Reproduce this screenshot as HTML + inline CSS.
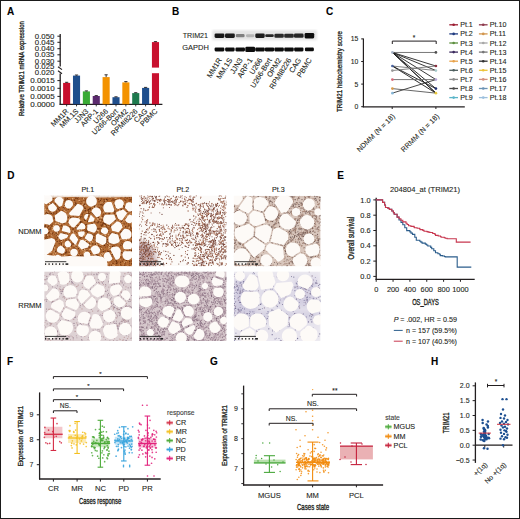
<!DOCTYPE html>
<html><head><meta charset="utf-8"><style>
html,body{margin:0;padding:0;background:#fff;}
svg{display:block;}
text{font-family:"Liberation Sans",sans-serif;stroke:#231f20;stroke-width:0.1px;}
</style></head><body>
<svg width="520" height="519" viewBox="0 0 520 519" fill="#231f20">
<rect x="0" y="0" width="520" height="519" fill="#fff"/>
<rect x="0.00" y="0.00" width="520.00" height="1.00" fill="#1a1a1a"/>
<rect x="0.00" y="0.00" width="1.00" height="519.00" fill="#1a1a1a"/>
<rect x="519.00" y="0.00" width="1.00" height="519.00" fill="#1a1a1a"/>
<rect x="0.00" y="518.00" width="520.00" height="1.00" fill="#1a1a1a"/>
<text x="7.00" y="14.80" font-size="10" font-weight="bold" fill="#000">A</text>
<text x="172.10" y="14.80" font-size="10" font-weight="bold" fill="#000">B</text>
<text x="326.00" y="14.80" font-size="10" font-weight="bold" fill="#000">C</text>
<text x="7.20" y="179.10" font-size="10" font-weight="bold" fill="#000">D</text>
<text x="337.30" y="179.30" font-size="10" font-weight="bold" fill="#000">E</text>
<text x="6.90" y="364.90" font-size="10" font-weight="bold" fill="#000">F</text>
<text x="210.00" y="365.00" font-size="10" font-weight="bold" fill="#000">G</text>
<text x="431.10" y="364.80" font-size="10" font-weight="bold" fill="#000">H</text>
<text x="23.70" y="68.60" font-size="6.8" style="stroke-width:0.3px" text-anchor="middle" textLength="95.00" lengthAdjust="spacingAndGlyphs" transform="rotate(-90 23.70 68.60)">Relative TRIM21 mRNA expression</text>
<text x="54.40" y="38.80" font-size="7.4" text-anchor="end" textLength="19.60" lengthAdjust="spacingAndGlyphs">0.050</text>
<text x="54.40" y="44.90" font-size="7.4" text-anchor="end" textLength="19.60" lengthAdjust="spacingAndGlyphs">0.045</text>
<text x="54.40" y="51.30" font-size="7.4" text-anchor="end" textLength="19.60" lengthAdjust="spacingAndGlyphs">0.040</text>
<text x="54.40" y="57.40" font-size="7.4" text-anchor="end" textLength="19.60" lengthAdjust="spacingAndGlyphs">0.035</text>
<text x="54.40" y="63.80" font-size="7.4" text-anchor="end" textLength="19.60" lengthAdjust="spacingAndGlyphs">0.030</text>
<text x="54.40" y="69.20" font-size="7.4" text-anchor="end" textLength="19.60" lengthAdjust="spacingAndGlyphs">0.025</text>
<text x="54.40" y="74.80" font-size="7.4" text-anchor="end" textLength="19.60" lengthAdjust="spacingAndGlyphs">0.020</text>
<text x="54.80" y="83.10" font-size="7.4" text-anchor="end" textLength="24.60" lengthAdjust="spacingAndGlyphs">0.0015</text>
<text x="54.80" y="90.80" font-size="7.4" text-anchor="end" textLength="24.60" lengthAdjust="spacingAndGlyphs">0.0010</text>
<text x="54.80" y="98.80" font-size="7.4" text-anchor="end" textLength="24.60" lengthAdjust="spacingAndGlyphs">0.0005</text>
<text x="54.80" y="106.60" font-size="7.4" text-anchor="end" textLength="24.60" lengthAdjust="spacingAndGlyphs">0.0000</text>
<line x1="57.40" y1="36.20" x2="60.40" y2="36.20" stroke="#231f20" stroke-width="1"/>
<line x1="57.40" y1="42.30" x2="60.40" y2="42.30" stroke="#231f20" stroke-width="1"/>
<line x1="57.40" y1="48.70" x2="60.40" y2="48.70" stroke="#231f20" stroke-width="1"/>
<line x1="57.40" y1="54.80" x2="60.40" y2="54.80" stroke="#231f20" stroke-width="1"/>
<line x1="57.40" y1="61.20" x2="60.40" y2="61.20" stroke="#231f20" stroke-width="1"/>
<line x1="57.40" y1="80.60" x2="60.40" y2="80.60" stroke="#231f20" stroke-width="1"/>
<line x1="57.40" y1="88.30" x2="60.40" y2="88.30" stroke="#231f20" stroke-width="1"/>
<line x1="57.40" y1="96.40" x2="60.40" y2="96.40" stroke="#231f20" stroke-width="1"/>
<line x1="60.20" y1="34.00" x2="60.20" y2="66.60" stroke="#231f20" stroke-width="1.3"/>
<line x1="60.20" y1="73.60" x2="60.20" y2="104.80" stroke="#231f20" stroke-width="1.3"/>
<line x1="58.00" y1="66.80" x2="62.00" y2="69.60" stroke="#231f20" stroke-width="1.1"/>
<line x1="58.00" y1="70.80" x2="62.00" y2="73.80" stroke="#231f20" stroke-width="1.1"/>
<line x1="59.60" y1="104.30" x2="162.40" y2="104.30" stroke="#231f20" stroke-width="1.3"/>
<rect x="63.10" y="82.90" width="7.10" height="21.40" fill="#c8102e"/>
<line x1="65.05" y1="82.30" x2="68.25" y2="82.30" stroke="#231f20" stroke-width="0.9"/>
<line x1="66.65" y1="82.30" x2="66.65" y2="82.90" stroke="#231f20" stroke-width="0.9"/>
<line x1="66.65" y1="104.30" x2="66.65" y2="106.40" stroke="#231f20" stroke-width="0.9"/>
<text x="69.05" y="111.80" font-size="7.3" text-anchor="end" transform="rotate(-45 69.05 111.80)">MM1R</text>
<rect x="72.97" y="75.60" width="7.10" height="28.70" fill="#1f4e8c"/>
<line x1="74.92" y1="75.00" x2="78.12" y2="75.00" stroke="#231f20" stroke-width="0.9"/>
<line x1="76.52" y1="75.00" x2="76.52" y2="75.60" stroke="#231f20" stroke-width="0.9"/>
<line x1="76.52" y1="104.30" x2="76.52" y2="106.40" stroke="#231f20" stroke-width="0.9"/>
<text x="78.92" y="111.80" font-size="7.3" text-anchor="end" transform="rotate(-45 78.92 111.80)">MM.1S</text>
<rect x="82.84" y="91.40" width="7.10" height="12.90" fill="#3aaa35"/>
<line x1="84.79" y1="90.90" x2="87.99" y2="90.90" stroke="#231f20" stroke-width="0.9"/>
<line x1="86.39" y1="90.90" x2="86.39" y2="91.40" stroke="#231f20" stroke-width="0.9"/>
<line x1="86.39" y1="104.30" x2="86.39" y2="106.40" stroke="#231f20" stroke-width="0.9"/>
<text x="88.79" y="111.80" font-size="7.3" text-anchor="end" transform="rotate(-45 88.79 111.80)">JJN3</text>
<rect x="92.71" y="96.00" width="7.10" height="8.30" fill="#5b2a6e"/>
<line x1="94.66" y1="95.60" x2="97.86" y2="95.60" stroke="#231f20" stroke-width="0.9"/>
<line x1="96.26" y1="95.60" x2="96.26" y2="96.00" stroke="#231f20" stroke-width="0.9"/>
<line x1="96.26" y1="104.30" x2="96.26" y2="106.40" stroke="#231f20" stroke-width="0.9"/>
<text x="98.66" y="111.80" font-size="7.3" text-anchor="end" transform="rotate(-45 98.66 111.80)">ARP-1</text>
<rect x="102.58" y="77.10" width="7.10" height="27.20" fill="#f39200"/>
<line x1="104.53" y1="74.80" x2="107.73" y2="74.80" stroke="#231f20" stroke-width="0.9"/>
<line x1="106.13" y1="74.80" x2="106.13" y2="77.10" stroke="#231f20" stroke-width="0.9"/>
<line x1="106.13" y1="104.30" x2="106.13" y2="106.40" stroke="#231f20" stroke-width="0.9"/>
<text x="108.53" y="111.80" font-size="7.3" text-anchor="end" transform="rotate(-45 108.53 111.80)">U266</text>
<rect x="112.45" y="97.20" width="7.10" height="7.10" fill="#1f4e8c"/>
<line x1="114.40" y1="96.80" x2="117.60" y2="96.80" stroke="#231f20" stroke-width="0.9"/>
<line x1="116.00" y1="96.80" x2="116.00" y2="97.20" stroke="#231f20" stroke-width="0.9"/>
<line x1="116.00" y1="104.30" x2="116.00" y2="106.40" stroke="#231f20" stroke-width="0.9"/>
<text x="118.40" y="111.80" font-size="7.3" text-anchor="end" transform="rotate(-45 118.40 111.80)">U266-Bort</text>
<rect x="122.32" y="82.40" width="7.10" height="21.90" fill="#f39200"/>
<line x1="124.27" y1="81.60" x2="127.47" y2="81.60" stroke="#231f20" stroke-width="0.9"/>
<line x1="125.87" y1="81.60" x2="125.87" y2="82.40" stroke="#231f20" stroke-width="0.9"/>
<line x1="125.87" y1="104.30" x2="125.87" y2="106.40" stroke="#231f20" stroke-width="0.9"/>
<text x="128.27" y="111.80" font-size="7.3" text-anchor="end" transform="rotate(-45 128.27 111.80)">OPM2</text>
<rect x="132.19" y="93.10" width="7.10" height="11.20" fill="#1e7a4e"/>
<line x1="134.14" y1="92.70" x2="137.34" y2="92.70" stroke="#231f20" stroke-width="0.9"/>
<line x1="135.74" y1="92.70" x2="135.74" y2="93.10" stroke="#231f20" stroke-width="0.9"/>
<line x1="135.74" y1="104.30" x2="135.74" y2="106.40" stroke="#231f20" stroke-width="0.9"/>
<text x="138.14" y="111.80" font-size="7.3" text-anchor="end" transform="rotate(-45 138.14 111.80)">RPMI8226</text>
<rect x="142.06" y="87.90" width="7.10" height="16.40" fill="#1f4e8c"/>
<line x1="144.01" y1="87.40" x2="147.21" y2="87.40" stroke="#231f20" stroke-width="0.9"/>
<line x1="145.61" y1="87.40" x2="145.61" y2="87.90" stroke="#231f20" stroke-width="0.9"/>
<line x1="145.61" y1="104.30" x2="145.61" y2="106.40" stroke="#231f20" stroke-width="0.9"/>
<text x="148.01" y="111.80" font-size="7.3" text-anchor="end" transform="rotate(-45 148.01 111.80)">CAG</text>
<rect x="151.93" y="42.10" width="7.10" height="62.20" fill="#c8102e"/>
<line x1="153.88" y1="41.60" x2="157.08" y2="41.60" stroke="#231f20" stroke-width="0.9"/>
<line x1="155.48" y1="41.60" x2="155.48" y2="42.10" stroke="#231f20" stroke-width="0.9"/>
<line x1="155.48" y1="104.30" x2="155.48" y2="106.40" stroke="#231f20" stroke-width="0.9"/>
<text x="157.88" y="111.80" font-size="7.3" text-anchor="end" transform="rotate(-45 157.88 111.80)">PBMC</text>
<rect x="151.40" y="67.60" width="8.20" height="5.60" fill="#fff"/>
<text x="182.70" y="37.90" font-size="7.9" textLength="25.30" lengthAdjust="spacingAndGlyphs">TRIM21</text>
<text x="182.30" y="50.30" font-size="7.9" textLength="26.50" lengthAdjust="spacingAndGlyphs">GAPDH</text>
<defs><filter id="bl" x="-20%" y="-50%" width="140%" height="200%"><feGaussianBlur stdDeviation="0.7"/></filter><filter id="bl2"><feGaussianBlur stdDeviation="0.9"/></filter></defs>
<rect x="212.30" y="30.20" width="104.60" height="9.90" fill="#e4e4e4" filter="url(#bl2)"/>
<g filter="url(#bl)">
<rect x="214.60" y="33.50" width="9.80" height="4.40" rx="1.3" fill="#161616"/>
<rect x="214.60" y="47.40" width="9.80" height="4.00" rx="1.3" fill="#0e0e0e"/>
<rect x="225.00" y="33.50" width="9.80" height="4.40" rx="1.3" fill="#1c1c1c"/>
<rect x="225.10" y="47.40" width="9.60" height="4.00" rx="1.3" fill="#0e0e0e"/>
<rect x="235.80" y="34.05" width="8.80" height="3.30" rx="1.3" fill="#808080"/>
<rect x="235.40" y="47.40" width="9.60" height="4.00" rx="1.3" fill="#0e0e0e"/>
<rect x="246.00" y="34.27" width="8.40" height="2.86" rx="1.3" fill="#b4b4b4"/>
<rect x="245.30" y="46.70" width="9.80" height="5.40" rx="1.3" fill="#0e0e0e"/>
<rect x="255.30" y="33.50" width="9.40" height="4.40" rx="1.3" fill="#1a1a1a"/>
<rect x="255.20" y="47.40" width="9.60" height="4.00" rx="1.3" fill="#0e0e0e"/>
<rect x="265.20" y="34.34" width="8.60" height="2.73" rx="1.3" fill="#262626"/>
<rect x="264.80" y="47.40" width="9.40" height="4.00" rx="1.3" fill="#0e0e0e"/>
<rect x="274.40" y="33.72" width="9.40" height="3.96" rx="1.3" fill="#2a2a2a"/>
<rect x="274.30" y="47.40" width="9.60" height="4.00" rx="1.3" fill="#0e0e0e"/>
<rect x="284.20" y="33.72" width="9.60" height="3.96" rx="1.3" fill="#2a2a2a"/>
<rect x="284.20" y="47.40" width="9.60" height="4.00" rx="1.3" fill="#0e0e0e"/>
<rect x="294.00" y="33.61" width="9.60" height="4.18" rx="1.3" fill="#262626"/>
<rect x="294.10" y="47.40" width="9.40" height="4.00" rx="1.3" fill="#0e0e0e"/>
<rect x="304.60" y="33.00" width="9.60" height="5.40" rx="1.3" fill="#111"/>
<rect x="304.90" y="47.50" width="9.00" height="3.80" rx="1.3" fill="#0e0e0e"/>
</g>
<text x="222.20" y="60.00" font-size="7.4" text-anchor="end" transform="rotate(-58 222.20 60.00)">MM1R</text>
<text x="232.60" y="60.00" font-size="7.4" text-anchor="end" transform="rotate(-58 232.60 60.00)">MM.1S</text>
<text x="242.90" y="60.00" font-size="7.4" text-anchor="end" transform="rotate(-58 242.90 60.00)">JJN3</text>
<text x="252.90" y="60.00" font-size="7.4" text-anchor="end" transform="rotate(-58 252.90 60.00)">ARP-1</text>
<text x="262.70" y="60.00" font-size="7.4" text-anchor="end" transform="rotate(-58 262.70 60.00)">U266</text>
<text x="272.20" y="60.00" font-size="7.4" text-anchor="end" transform="rotate(-58 272.20 60.00)">U266-Bort</text>
<text x="281.80" y="60.00" font-size="7.4" text-anchor="end" transform="rotate(-58 281.80 60.00)">OPM2</text>
<text x="291.70" y="60.00" font-size="7.4" text-anchor="end" transform="rotate(-58 291.70 60.00)">RPMI8226</text>
<text x="301.50" y="60.00" font-size="7.4" text-anchor="end" transform="rotate(-58 301.50 60.00)">CAG</text>
<text x="312.10" y="60.00" font-size="7.4" text-anchor="end" transform="rotate(-58 312.10 60.00)">PBMC</text>
<text x="342.40" y="71.50" font-size="6.7" style="stroke-width:0.3px" text-anchor="middle" textLength="80.90" lengthAdjust="spacingAndGlyphs" transform="rotate(-90 342.40 71.50)">TRIM21 histochemistry score</text>
<text x="358.40" y="41.30" font-size="6.8" text-anchor="end">15</text>
<line x1="361.20" y1="38.90" x2="363.40" y2="38.90" stroke="#231f20" stroke-width="1"/>
<text x="358.40" y="63.90" font-size="6.8" text-anchor="end">10</text>
<line x1="361.20" y1="61.50" x2="363.40" y2="61.50" stroke="#231f20" stroke-width="1"/>
<text x="358.40" y="86.50" font-size="6.8" text-anchor="end">5</text>
<line x1="361.20" y1="84.10" x2="363.40" y2="84.10" stroke="#231f20" stroke-width="1"/>
<text x="358.40" y="109.10" font-size="6.8" text-anchor="end">0</text>
<line x1="361.20" y1="106.70" x2="363.40" y2="106.70" stroke="#231f20" stroke-width="1"/>
<line x1="363.40" y1="38.40" x2="363.40" y2="107.30" stroke="#231f20" stroke-width="1.2"/>
<line x1="362.80" y1="106.90" x2="464.80" y2="106.90" stroke="#231f20" stroke-width="1.3"/>
<line x1="392.20" y1="106.90" x2="392.20" y2="109.00" stroke="#231f20" stroke-width="1"/>
<line x1="435.90" y1="106.90" x2="435.90" y2="109.00" stroke="#231f20" stroke-width="1"/>
<text x="395.40" y="116.80" font-size="7.2" text-anchor="end" transform="rotate(-45 395.40 116.80)">NDMM (N = 18)</text>
<text x="439.60" y="116.80" font-size="7.2" text-anchor="end" transform="rotate(-45 439.60 116.80)">RRMM (N = 18)</text>
<path d="M392.3 44 V41.1 H436.2 V44" stroke="#231f20" stroke-width="1" fill="none"/>
<text x="414.10" y="39.80" font-size="6.5" text-anchor="middle">*</text>
<line x1="392.40" y1="52.46" x2="435.90" y2="52.46" stroke="#6a6a6a" stroke-width="0.9"/>
<line x1="392.40" y1="52.46" x2="435.90" y2="66.02" stroke="#222" stroke-width="0.9"/>
<line x1="392.40" y1="52.46" x2="435.90" y2="70.54" stroke="#222" stroke-width="0.9"/>
<line x1="392.40" y1="52.46" x2="435.90" y2="79.58" stroke="#222" stroke-width="0.9"/>
<line x1="392.40" y1="52.46" x2="435.90" y2="88.62" stroke="#1a1a1a" stroke-width="0.9"/>
<line x1="392.40" y1="52.46" x2="435.90" y2="93.14" stroke="#1a1a1a" stroke-width="0.9"/>
<line x1="392.40" y1="52.46" x2="435.90" y2="93.14" stroke="#1a1a1a" stroke-width="0.9"/>
<line x1="392.40" y1="66.02" x2="435.90" y2="70.54" stroke="#777" stroke-width="0.9"/>
<line x1="392.40" y1="66.02" x2="435.90" y2="93.14" stroke="#1a1a1a" stroke-width="0.9"/>
<line x1="392.40" y1="66.02" x2="435.90" y2="88.62" stroke="#1a1a1a" stroke-width="0.9"/>
<line x1="392.40" y1="70.54" x2="435.90" y2="66.02" stroke="#777" stroke-width="0.9"/>
<line x1="392.40" y1="79.58" x2="435.90" y2="79.58" stroke="#6a6a6a" stroke-width="0.9"/>
<line x1="392.40" y1="88.62" x2="435.90" y2="93.14" stroke="#555" stroke-width="0.9"/>
<line x1="392.40" y1="93.14" x2="435.90" y2="79.58" stroke="#333" stroke-width="0.9"/>
<circle cx="392.40" cy="52.46" r="1.35" fill="#a8b4c8"/>
<circle cx="392.40" cy="66.02" r="1.35" fill="#4a64a0"/>
<circle cx="392.40" cy="70.54" r="1.35" fill="#9a9a9a"/>
<circle cx="392.40" cy="79.58" r="1.35" fill="#d86878"/>
<circle cx="392.40" cy="88.62" r="1.35" fill="#d89a48"/>
<circle cx="392.40" cy="93.14" r="1.35" fill="#88b8d8"/>
<circle cx="435.90" cy="52.46" r="1.35" fill="#505050"/>
<circle cx="435.90" cy="66.02" r="1.35" fill="#8a3040"/>
<circle cx="435.90" cy="70.54" r="1.35" fill="#a8cccc"/>
<circle cx="435.90" cy="79.58" r="1.35" fill="#b8a8d8"/>
<circle cx="435.90" cy="88.62" r="1.35" fill="#203070"/>
<circle cx="435.90" cy="93.14" r="1.35" fill="#e8c840"/>
<line x1="449.30" y1="24.80" x2="458.00" y2="24.80" stroke="#9b1b30" stroke-width="1.3"/>
<circle cx="453.65" cy="24.80" r="1.30" fill="#9b1b30"/>
<text x="460.20" y="27.30" font-size="7.1">Pt.1</text>
<line x1="449.30" y1="33.90" x2="458.00" y2="33.90" stroke="#1f3b80" stroke-width="1.3"/>
<circle cx="453.65" cy="33.90" r="1.30" fill="#1f3b80"/>
<text x="460.20" y="36.40" font-size="7.1">Pt.2</text>
<line x1="449.30" y1="43.00" x2="458.00" y2="43.00" stroke="#5c8f3e" stroke-width="1.3"/>
<circle cx="453.65" cy="43.00" r="1.30" fill="#5c8f3e"/>
<text x="460.20" y="45.50" font-size="7.1">Pt.3</text>
<line x1="449.30" y1="52.10" x2="458.00" y2="52.10" stroke="#3b2a5e" stroke-width="1.3"/>
<circle cx="453.65" cy="52.10" r="1.30" fill="#3b2a5e"/>
<text x="460.20" y="54.60" font-size="7.1">Pt.4</text>
<line x1="449.30" y1="61.20" x2="458.00" y2="61.20" stroke="#e8a24a" stroke-width="1.3"/>
<circle cx="453.65" cy="61.20" r="1.30" fill="#e8a24a"/>
<text x="460.20" y="63.70" font-size="7.1">Pt.5</text>
<line x1="449.30" y1="70.30" x2="458.00" y2="70.30" stroke="#4d5e5e" stroke-width="1.3"/>
<circle cx="453.65" cy="70.30" r="1.30" fill="#4d5e5e"/>
<text x="460.20" y="72.80" font-size="7.1">Pt.6</text>
<line x1="449.30" y1="79.40" x2="458.00" y2="79.40" stroke="#8c8c8c" stroke-width="1.3"/>
<circle cx="453.65" cy="79.40" r="1.30" fill="#8c8c8c"/>
<text x="460.20" y="81.90" font-size="7.1">Pt.7</text>
<line x1="449.30" y1="88.50" x2="458.00" y2="88.50" stroke="#4a4a4a" stroke-width="1.3"/>
<circle cx="453.65" cy="88.50" r="1.30" fill="#4a4a4a"/>
<text x="460.20" y="91.00" font-size="7.1">Pt.8</text>
<line x1="449.30" y1="97.60" x2="458.00" y2="97.60" stroke="#5bb5c8" stroke-width="1.3"/>
<circle cx="453.65" cy="97.60" r="1.30" fill="#5bb5c8"/>
<text x="460.20" y="100.10" font-size="7.1">Pt.9</text>
<line x1="478.90" y1="24.80" x2="487.60" y2="24.80" stroke="#8e3a4d" stroke-width="1.3"/>
<circle cx="483.25" cy="24.80" r="1.30" fill="#8e3a4d"/>
<text x="489.80" y="27.30" font-size="7.1">Pt.10</text>
<line x1="478.90" y1="33.90" x2="487.60" y2="33.90" stroke="#d2964e" stroke-width="1.3"/>
<circle cx="483.25" cy="33.90" r="1.30" fill="#d2964e"/>
<text x="489.80" y="36.40" font-size="7.1">Pt.11</text>
<line x1="478.90" y1="43.00" x2="487.60" y2="43.00" stroke="#a8a8a8" stroke-width="1.3"/>
<circle cx="483.25" cy="43.00" r="1.30" fill="#a8a8a8"/>
<text x="489.80" y="45.50" font-size="7.1">Pt.12</text>
<line x1="478.90" y1="52.10" x2="487.60" y2="52.10" stroke="#777777" stroke-width="1.3"/>
<circle cx="483.25" cy="52.10" r="1.30" fill="#777777"/>
<text x="489.80" y="54.60" font-size="7.1">Pt.13</text>
<line x1="478.90" y1="61.20" x2="487.60" y2="61.20" stroke="#333333" stroke-width="1.3"/>
<circle cx="483.25" cy="61.20" r="1.30" fill="#333333"/>
<text x="489.80" y="63.70" font-size="7.1">Pt.14</text>
<line x1="478.90" y1="70.30" x2="487.60" y2="70.30" stroke="#ecc43a" stroke-width="1.3"/>
<circle cx="483.25" cy="70.30" r="1.30" fill="#ecc43a"/>
<text x="489.80" y="72.80" font-size="7.1">Pt.15</text>
<line x1="478.90" y1="79.40" x2="487.60" y2="79.40" stroke="#d4917f" stroke-width="1.3"/>
<circle cx="483.25" cy="79.40" r="1.30" fill="#d4917f"/>
<text x="489.80" y="81.90" font-size="7.1">Pt.16</text>
<line x1="478.90" y1="88.50" x2="487.60" y2="88.50" stroke="#6b93b5" stroke-width="1.3"/>
<circle cx="483.25" cy="88.50" r="1.30" fill="#6b93b5"/>
<text x="489.80" y="91.00" font-size="7.1">Pt.17</text>
<line x1="478.90" y1="97.60" x2="487.60" y2="97.60" stroke="#9cc0dd" stroke-width="1.3"/>
<circle cx="483.25" cy="97.60" r="1.30" fill="#9cc0dd"/>
<text x="489.80" y="100.10" font-size="7.1">Pt.18</text>
<text x="425.10" y="192.40" font-size="7.3" text-anchor="middle" textLength="70.00" lengthAdjust="spacingAndGlyphs">204804_at (TRIM21)</text>
<text x="370.60" y="202.50" font-size="7.4" text-anchor="end">1.0</text>
<line x1="373.30" y1="199.90" x2="376.20" y2="199.90" stroke="#231f20" stroke-width="1"/>
<text x="370.60" y="217.80" font-size="7.4" text-anchor="end">0.8</text>
<line x1="373.30" y1="215.20" x2="376.20" y2="215.20" stroke="#231f20" stroke-width="1"/>
<text x="370.60" y="233.10" font-size="7.4" text-anchor="end">0.6</text>
<line x1="373.30" y1="230.50" x2="376.20" y2="230.50" stroke="#231f20" stroke-width="1"/>
<text x="370.60" y="248.40" font-size="7.4" text-anchor="end">0.4</text>
<line x1="373.30" y1="245.80" x2="376.20" y2="245.80" stroke="#231f20" stroke-width="1"/>
<text x="370.60" y="263.70" font-size="7.4" text-anchor="end">0.2</text>
<line x1="373.30" y1="261.10" x2="376.20" y2="261.10" stroke="#231f20" stroke-width="1"/>
<text x="370.60" y="279.00" font-size="7.4" text-anchor="end">0.0</text>
<line x1="373.30" y1="276.40" x2="376.20" y2="276.40" stroke="#231f20" stroke-width="1"/>
<line x1="376.20" y1="197.80" x2="376.20" y2="280.00" stroke="#231f20" stroke-width="1.3"/>
<line x1="375.60" y1="279.40" x2="474.70" y2="279.40" stroke="#231f20" stroke-width="1.3"/>
<line x1="376.20" y1="279.40" x2="376.20" y2="281.80" stroke="#231f20" stroke-width="1"/>
<text x="376.20" y="292.20" font-size="7.4" text-anchor="middle">0</text>
<line x1="393.05" y1="279.40" x2="393.05" y2="281.80" stroke="#231f20" stroke-width="1"/>
<text x="393.05" y="292.20" font-size="7.4" text-anchor="middle">200</text>
<line x1="409.90" y1="279.40" x2="409.90" y2="281.80" stroke="#231f20" stroke-width="1"/>
<text x="409.90" y="292.20" font-size="7.4" text-anchor="middle">400</text>
<line x1="426.75" y1="279.40" x2="426.75" y2="281.80" stroke="#231f20" stroke-width="1"/>
<text x="426.75" y="292.20" font-size="7.4" text-anchor="middle">600</text>
<line x1="443.60" y1="279.40" x2="443.60" y2="281.80" stroke="#231f20" stroke-width="1"/>
<text x="443.60" y="292.20" font-size="7.4" text-anchor="middle">800</text>
<line x1="460.45" y1="279.40" x2="460.45" y2="281.80" stroke="#231f20" stroke-width="1"/>
<text x="460.45" y="292.20" font-size="7.4" text-anchor="middle">1000</text>
<text x="425.50" y="305.20" font-size="8.8" style="stroke-width:0.35px" text-anchor="middle" textLength="26.70" lengthAdjust="spacingAndGlyphs">OS_DAYS</text>
<text x="354.40" y="238.20" font-size="8.6" style="stroke-width:0.35px" text-anchor="middle" textLength="42.60" lengthAdjust="spacingAndGlyphs" transform="rotate(-90 354.40 238.20)">Overall survival</text>
<path d="M375.9 199.9 H380.7 V199.9 H382.6 V202.4 H384.6 V205.0 H385.5 V207.5 H388.0 V208.4 H389.4 V209.4 H391.8 V211.0 H393.4 V212.6 H394.2 V214.2 H397.1 V217.1 H399.0 V220.0 H401.0 V222.4 H402.8 V224.8 H404.8 V227.7 H406.7 V230.6 H409.9 V231.9 H411.0 V233.1 H412.5 V234.4 H414.8 V237.3 H416.3 V240.2 H419.8 V241.2 H420.9 V242.1 H422.1 V243.1 H425.3 V244.1 H426.6 V245.0 H427.8 V246.0 H430.7 V247.4 H431.7 V248.8 H433.8 V250.8 H435.5 V252.7 H437.9 V253.7 H439.8 V254.6 H440.3 V255.6 H442.6 V256.0 H444.5 V256.5 H445.2 V256.9 H455.7 V256.9 H457.2 V267.1 H471.3 V267.1" stroke="#2b5d8c" stroke-width="1.1" fill="none"/>
<path d="M375.9 199.9 H380.7 V199.9 H382.6 V202.4 H384.6 V205.0 H385.5 V207.5 H388.0 V208.4 H389.4 V209.4 H391.8 V211.0 H393.4 V212.6 H394.2 V214.2 H397.1 V217.1 H399.1 V218.7 H400.9 V220.3 H402.8 V221.9 H406.0 V223.2 H407.1 V224.5 H408.6 V225.8 H410.9 V226.4 H414.0 V227.1 H414.4 V227.7 H417.1 V228.3 H419.6 V229.0 H420.2 V229.6 H422.8 V230.4 H424.0 V231.2 H426.9 V231.6 H428.1 V232.1 H429.8 V232.5 H432.7 V233.5 H434.9 V234.4 H435.5 V235.4 H438.2 V236.0 H440.5 V236.7 H441.3 V237.3 H444.3 V237.8 H445.3 V238.3 H447.1 V238.8 H455.7 V238.8 H456.3 V242.1 H470.6 V242.1" stroke="#c8374f" stroke-width="1.1" fill="none"/>
<text x="393.80" y="321.90" font-size="7.2" font-style="italic">P</text>
<text x="400.20" y="321.90" font-size="7.2" textLength="56.70" lengthAdjust="spacingAndGlyphs">= .002, HR = 0.59</text>
<line x1="393.80" y1="330.40" x2="402.70" y2="330.40" stroke="#2b5d8c" stroke-width="1"/>
<text x="406.00" y="332.90" font-size="7.2" textLength="50.90" lengthAdjust="spacingAndGlyphs">n = 157 (59.5%)</text>
<line x1="393.80" y1="341.20" x2="402.70" y2="341.20" stroke="#c8374f" stroke-width="1"/>
<text x="406.00" y="343.70" font-size="7.2" textLength="50.90" lengthAdjust="spacingAndGlyphs">n = 107 (40.5%)</text>
<text x="87.90" y="191.70" font-size="7.1" text-anchor="middle">Pt.1</text>
<text x="182.80" y="191.70" font-size="7.1" text-anchor="middle">Pt.2</text>
<text x="278.40" y="191.70" font-size="7.1" text-anchor="middle">Pt.3</text>
<text x="41.60" y="233.50" font-size="7.5" text-anchor="end">NDMM</text>
<text x="41.60" y="308.00" font-size="7.5" text-anchor="end">RRMM</text>
<defs><clipPath id="cp_n1"><rect x="44.2" y="195.4" width="87.8" height="70.9"/></clipPath><clipPath id="cp_n2"><rect x="139.0" y="195.4" width="87.6" height="70.9"/></clipPath><clipPath id="cp_n3"><rect x="233.8" y="195.8" width="86.8" height="70.5"/></clipPath><clipPath id="cp_r1"><rect x="44.2" y="271.4" width="87.8" height="69.6"/></clipPath><clipPath id="cp_r2"><rect x="139.0" y="271.4" width="87.6" height="69.6"/></clipPath><clipPath id="cp_r3"><rect x="233.8" y="271.4" width="86.8" height="69.6"/></clipPath></defs>
<defs><filter id="ihc" x="-5%" y="-5%" width="110%" height="110%"><feGaussianBlur stdDeviation="0.55"/></filter></defs>
<defs><filter id="f_n1" x="0" y="0" width="100%" height="100%" color-interpolation-filters="sRGB"><feTurbulence type="fractalNoise" baseFrequency="1.1" numOctaves="1" seed="3"/><feColorMatrix type="matrix" values="0 0 0 0 0.412 0 0 0 0 0.188 0 0 0 0 0.047 -3.6 0 0 0 2.2"/></filter></defs>
<defs><filter id="f_n1b" x="0" y="0" width="100%" height="100%" color-interpolation-filters="sRGB"><feTurbulence type="fractalNoise" baseFrequency="1.0" numOctaves="1" seed="9"/><feColorMatrix type="matrix" values="0 0 0 0 0.843 0 0 0 0 0.549 0 0 0 0 0.314 3.6 0 0 0 -1.6"/></filter></defs>
<defs><filter id="f_n2" x="0" y="0" width="100%" height="100%" color-interpolation-filters="sRGB"><feTurbulence type="fractalNoise" baseFrequency="0.95" numOctaves="1" seed="5"/><feColorMatrix type="matrix" values="0 0 0 0 0.529 0 0 0 0 0.333 0 0 0 0 0.255 -3.8 0 0 0 2.05"/></filter></defs>
<defs><filter id="f_n3" x="0" y="0" width="100%" height="100%" color-interpolation-filters="sRGB"><feTurbulence type="fractalNoise" baseFrequency="1.2" numOctaves="1" seed="7"/><feColorMatrix type="matrix" values="0 0 0 0 0.490 0 0 0 0 0.373 0 0 0 0 0.333 -3.4 0 0 0 1.9"/></filter></defs>
<defs><filter id="f_r1" x="0" y="0" width="100%" height="100%" color-interpolation-filters="sRGB"><feTurbulence type="fractalNoise" baseFrequency="1.2" numOctaves="1" seed="11"/><feColorMatrix type="matrix" values="0 0 0 0 0.627 0 0 0 0 0.510 0 0 0 0 0.549 -3.0 0 0 0 1.55"/></filter></defs>
<defs><filter id="f_r2" x="0" y="0" width="100%" height="100%" color-interpolation-filters="sRGB"><feTurbulence type="fractalNoise" baseFrequency="1.3" numOctaves="1" seed="13"/><feColorMatrix type="matrix" values="0 0 0 0 0.529 0 0 0 0 0.412 0 0 0 0 0.471 -3.4 0 0 0 1.9"/></filter></defs>
<defs><filter id="f_r3" x="0" y="0" width="100%" height="100%" color-interpolation-filters="sRGB"><feTurbulence type="fractalNoise" baseFrequency="1.2" numOctaves="1" seed="17"/><feColorMatrix type="matrix" values="0 0 0 0 0.431 0 0 0 0 0.412 0 0 0 0 0.588 -3.0 0 0 0 1.6"/></filter></defs>
<g clip-path="url(#cp_n1)"><g filter="url(#ihc)">
<rect x="44.20" y="195.40" width="87.80" height="70.90" fill="#b26c36"/>
<path d="M45.3 203.4h0M62.1 254.7h0M51.8 233.1h0M73.2 253.5h0M119.7 265.0h0M92.9 211.1h0M82.8 229.4h0M67.6 250.7h0M51.9 212.8h0M86.9 217.0h0M99.0 205.9h0M117.7 213.4h0M56.1 233.2h0M123.2 264.2h0M130.1 226.7h0M113.8 222.2h0M74.9 203.9h0M52.2 256.9h0M45.9 241.2h0M112.2 230.4h0M61.5 212.2h0M58.7 230.8h0M102.8 221.6h0M85.7 260.8h0M102.9 207.5h0M105.6 206.7h0M103.5 254.2h0M62.2 240.8h0M99.9 198.6h0M119.1 202.2h0M98.0 233.9h0M98.2 219.7h0M86.6 239.7h0M129.4 247.3h0M92.5 220.9h0M123.0 234.2h0M110.2 235.0h0M51.3 195.7h0M70.8 264.5h0M67.5 245.1h0M48.1 207.7h0M72.0 201.9h0M47.2 197.3h0M104.9 244.0h0M90.3 208.6h0M80.3 224.1h0M72.4 264.7h0M114.6 265.5h0M93.2 207.5h0M99.9 259.4h0M120.0 228.7h0M110.7 256.1h0M87.4 216.9h0M102.1 234.7h0M108.0 209.7h0M129.3 251.7h0M87.2 235.2h0M65.6 263.9h0M85.0 250.0h0M89.9 214.6h0M93.0 215.9h0M116.1 243.5h0M101.5 260.1h0M75.6 250.3h0M113.6 250.5h0M129.3 228.2h0M124.2 230.9h0M96.0 198.6h0M87.3 248.2h0M107.5 239.3h0M67.5 211.4h0M93.4 221.2h0M75.8 234.4h0M60.0 203.8h0M45.3 263.7h0M73.8 216.1h0M93.0 215.6h0M73.8 244.7h0M123.9 214.4h0M67.0 236.5h0M106.9 254.5h0M70.3 199.4h0M86.9 263.8h0M113.6 205.1h0M75.0 245.5h0M116.9 246.4h0M117.6 208.7h0M84.9 255.2h0M91.1 240.4h0M83.4 233.3h0M48.4 257.9h0M127.7 237.4h0M119.6 225.5h0M106.8 254.3h0M80.9 220.2h0M54.2 226.6h0M102.5 258.4h0M44.7 236.0h0M118.4 246.6h0M49.4 261.2h0M74.2 206.0h0M47.3 263.6h0M84.8 261.1h0M101.8 240.8h0M93.0 261.0h0M58.6 202.3h0M74.8 264.1h0M57.8 263.4h0M63.1 219.7h0M127.5 265.5h0M52.9 261.5h0M94.4 248.6h0M103.7 259.2h0M61.1 213.2h0M84.8 210.5h0M53.6 220.8h0M128.3 206.6h0M125.7 248.1h0M58.2 265.1h0M95.0 247.1h0M65.6 228.4h0M78.4 258.6h0M57.2 264.0h0M104.8 217.3h0M126.3 229.4h0M116.6 198.2h0M79.9 235.8h0M70.5 247.3h0M114.5 215.3h0M88.6 239.5h0M85.8 257.9h0M65.4 229.5h0M109.6 249.1h0M95.8 230.7h0M118.6 204.6h0M74.3 198.4h0M101.4 265.9h0M96.2 220.7h0M49.9 240.9h0M80.1 239.7h0M68.4 261.5h0M131.3 265.6h0M97.6 230.1h0M59.6 224.9h0M110.4 233.0h0M94.2 254.1h0M70.0 220.7h0M128.7 266.0h0M83.8 240.1h0M64.8 196.9h0M100.1 255.0h0M86.9 261.3h0M87.2 217.5h0M102.5 234.5h0M92.7 229.7h0M63.5 201.7h0M104.1 234.4h0M68.5 252.7h0M73.3 215.2h0M51.7 246.2h0M116.7 255.6h0M69.5 250.7h0M100.9 244.9h0M56.1 222.2h0M71.0 218.5h0M102.2 225.6h0M111.2 263.3h0M129.4 261.0h0M51.0 232.4h0M75.2 220.7h0M128.5 238.0h0" stroke="#d8a070" stroke-width="1.0" stroke-linecap="round" fill="none"/>
<path d="M104.2 205.2h0M52.9 265.1h0M59.7 198.6h0M70.3 263.4h0M116.3 225.2h0M115.6 200.0h0M128.8 223.8h0M94.0 265.0h0M76.9 257.9h0M90.1 199.4h0M93.7 241.1h0M103.8 260.4h0M69.3 205.3h0M122.1 251.9h0M119.7 222.9h0M96.5 244.2h0M79.9 238.4h0M51.2 254.1h0M54.7 210.0h0M80.2 257.0h0M108.2 251.4h0M88.8 234.9h0M86.8 233.8h0M89.5 237.1h0M78.8 199.1h0M123.5 252.3h0M64.2 254.2h0M104.1 195.8h0M70.5 227.1h0M105.5 240.3h0M116.3 227.4h0M66.1 210.0h0M109.5 259.3h0M117.1 228.2h0M81.5 237.6h0M78.1 222.2h0M114.9 231.0h0M57.2 247.6h0M84.1 219.8h0M55.1 237.0h0M98.7 266.3h0M67.1 226.1h0M111.3 243.9h0M52.2 201.4h0M106.2 216.5h0M100.1 204.8h0M83.7 258.3h0M72.2 226.7h0M128.4 204.8h0M85.5 224.5h0M73.8 211.5h0M101.7 222.0h0M70.1 229.6h0M131.6 199.7h0M46.4 198.7h0M120.5 264.5h0M44.5 228.0h0M44.7 258.8h0M118.9 225.3h0M99.5 241.9h0M60.5 218.4h0M116.2 199.1h0M110.1 219.6h0M126.3 255.9h0M116.6 262.8h0M57.3 206.2h0M110.0 239.0h0M126.0 248.2h0M108.7 228.9h0M53.7 249.1h0M112.3 211.5h0M91.9 218.6h0M117.1 258.6h0M128.4 234.2h0M102.1 222.7h0M131.1 197.2h0M67.6 218.8h0M125.2 263.8h0M105.7 208.8h0M118.0 261.8h0M51.0 207.7h0M68.7 201.4h0M104.1 207.2h0M114.8 254.8h0M52.1 205.0h0M108.4 251.8h0M49.7 216.8h0M47.2 242.4h0M53.7 217.8h0M129.5 259.3h0M71.8 199.7h0M115.4 230.7h0M89.6 260.3h0M73.3 249.7h0M123.0 208.5h0M120.3 226.8h0M78.1 196.4h0M78.5 222.6h0M76.7 243.9h0M64.7 217.0h0M121.9 205.8h0M49.2 201.6h0M65.7 217.3h0M55.1 218.1h0M91.7 249.6h0M130.2 236.5h0M68.3 260.8h0M52.5 257.6h0M89.2 250.6h0M85.1 219.4h0M59.8 222.7h0M60.9 239.2h0M113.0 216.9h0M63.9 216.4h0M120.4 218.2h0M49.8 250.7h0M55.1 217.8h0M96.7 229.2h0M76.8 257.3h0M92.2 199.9h0M49.3 200.5h0M74.7 204.8h0M46.6 233.1h0M84.5 219.0h0M113.9 215.8h0M128.1 213.6h0M94.0 250.2h0M122.1 255.5h0M56.4 241.3h0M100.3 225.0h0M79.6 196.0h0M108.3 256.4h0M67.7 228.6h0M57.1 224.6h0M123.3 254.0h0M106.3 264.1h0M109.3 249.0h0M81.8 201.4h0M69.9 199.5h0M102.6 235.2h0M53.8 247.9h0M124.6 199.7h0M62.3 196.0h0M109.6 215.1h0M79.8 230.1h0M81.3 230.5h0M104.6 250.8h0M125.4 197.0h0M54.7 221.8h0M95.5 205.8h0M122.2 212.1h0" stroke="#7a3a12" stroke-width="1.0" stroke-linecap="round" fill="none"/>
<path d="M106.7 205.3h0M127.3 256.8h0M118.8 242.9h0M71.3 222.9h0M116.5 212.6h0M73.7 230.8h0M94.1 205.9h0M66.4 200.3h0M63.9 228.8h0M91.9 262.0h0M53.5 254.1h0M103.7 233.2h0M99.0 248.6h0M114.8 198.8h0M78.4 246.9h0M68.1 195.9h0M82.2 245.5h0M99.7 199.5h0M71.0 265.0h0M118.4 242.6h0M111.7 247.2h0M82.9 209.6h0M60.6 245.4h0M74.1 245.9h0M119.3 248.5h0M70.7 247.2h0M101.6 250.0h0M87.4 256.0h0M52.4 220.2h0M66.5 216.0h0M75.6 207.4h0M92.5 203.5h0M123.9 231.1h0M120.9 208.4h0M112.8 215.4h0M116.4 250.9h0M74.0 256.8h0M95.9 204.2h0M72.5 231.4h0M78.9 211.8h0M128.9 241.6h0M69.1 251.6h0M68.6 264.3h0M72.7 240.4h0M121.7 213.0h0M128.0 245.4h0M84.0 221.0h0M70.4 264.9h0M131.2 226.0h0M101.6 248.5h0M108.8 248.7h0M115.2 218.5h0M50.7 219.7h0M116.0 221.2h0M97.6 255.6h0M107.5 223.9h0M65.9 211.6h0M69.5 218.0h0M83.2 253.7h0M123.1 224.7h0M108.9 246.2h0M127.5 253.5h0M120.1 229.4h0M116.9 236.6h0M117.9 257.7h0M50.3 240.0h0M49.0 255.9h0M100.9 203.0h0M87.1 251.5h0M47.8 245.8h0M96.2 197.2h0M91.9 205.1h0M58.3 238.9h0M76.9 222.1h0M100.2 216.4h0M52.1 207.8h0M115.4 239.4h0M128.9 217.8h0M89.8 233.3h0M81.6 210.6h0M131.8 259.4h0M122.3 224.3h0M113.6 203.6h0M112.1 202.8h0M119.3 207.2h0M78.3 235.2h0M101.6 230.5h0M104.3 249.8h0M100.0 243.2h0M89.1 254.0h0M126.1 208.9h0M69.2 253.3h0M123.3 248.1h0M105.6 218.3h0M130.6 257.4h0M122.1 244.2h0M44.9 255.3h0M127.5 236.8h0M59.6 223.0h0M73.6 214.1h0M98.3 195.8h0M122.8 216.5h0M110.2 258.5h0M51.2 261.1h0M55.8 241.9h0M47.8 206.1h0M122.5 210.0h0M77.4 252.9h0M50.7 210.8h0M110.0 249.5h0M94.4 199.6h0M123.0 253.7h0M77.7 208.3h0M101.5 264.8h0M111.0 245.0h0M95.1 245.5h0M90.4 242.3h0M88.7 266.0h0M88.8 243.2h0M50.8 219.8h0M105.5 208.8h0M68.4 233.8h0M95.1 229.0h0M51.2 212.2h0M97.6 219.1h0M92.7 231.3h0M81.6 249.6h0M118.0 249.2h0M102.3 202.4h0M104.5 206.4h0M110.7 210.6h0M99.5 243.9h0M102.6 246.8h0M82.6 248.0h0M67.7 204.2h0M125.6 240.7h0M62.3 247.3h0M131.8 223.5h0M124.4 201.2h0M49.1 215.1h0M106.2 263.0h0M76.2 222.6h0M95.8 221.5h0M44.9 264.0h0M131.0 245.7h0M126.3 246.6h0M113.2 195.9h0M93.1 229.7h0M127.6 233.3h0M52.9 227.4h0M118.2 252.8h0M69.4 226.2h0M56.1 203.0h0M59.4 236.0h0M82.3 204.9h0M98.8 263.9h0M61.6 241.5h0M45.9 211.2h0M55.6 253.6h0M78.9 197.6h0M103.0 241.9h0M74.5 262.5h0M116.0 237.9h0M98.1 249.4h0M61.3 213.6h0M131.1 224.8h0M103.2 217.7h0" stroke="#e6b888" stroke-width="1.0" stroke-linecap="round" fill="none"/>
<path d="M102.3 205.1h0M67.3 216.2h0M122.9 235.1h0M92.9 235.0h0M64.1 209.2h0M50.0 213.1h0M70.6 260.1h0M97.3 255.4h0M84.0 205.1h0M112.2 254.5h0M89.2 243.8h0M110.4 259.7h0M96.7 247.9h0M104.9 223.2h0M82.8 247.3h0M114.0 245.9h0M98.7 250.0h0M98.2 196.1h0M104.4 245.4h0M100.6 259.4h0M89.8 256.4h0M73.2 259.1h0M63.6 233.2h0M99.3 239.5h0M94.8 205.5h0M108.5 252.0h0M115.0 211.9h0M56.2 217.9h0M122.3 237.8h0M121.3 209.6h0M123.5 229.7h0M56.1 217.3h0M101.9 225.5h0M80.9 216.9h0M128.1 246.3h0M49.3 219.2h0M96.8 231.0h0M74.8 219.0h0M122.5 231.5h0M83.4 231.5h0M73.8 208.9h0M51.2 260.5h0M105.4 224.4h0M94.1 195.5h0M65.5 252.9h0M106.6 259.6h0M65.5 215.7h0M129.7 261.2h0M93.5 237.7h0M84.2 243.1h0M131.1 207.4h0M99.7 248.6h0M122.8 244.0h0M132.0 263.6h0M105.8 243.3h0M94.5 206.7h0M63.4 246.9h0M94.9 221.8h0M82.1 214.1h0M80.5 222.4h0M98.3 217.3h0M76.3 246.2h0M122.7 253.1h0M86.4 262.6h0M48.6 217.8h0M99.6 257.5h0M90.9 260.2h0M88.3 210.0h0M116.0 243.8h0M72.1 195.7h0M82.0 254.9h0M103.3 251.6h0M105.2 215.5h0M52.2 219.1h0M45.8 246.9h0M130.3 207.9h0M113.1 227.3h0M107.8 243.3h0M91.3 258.2h0M97.9 222.7h0M50.8 257.4h0M97.2 198.1h0M90.1 208.3h0M74.6 200.2h0M49.4 242.8h0M99.8 210.2h0M82.0 209.5h0M99.2 237.1h0M131.9 242.3h0M54.3 241.2h0M71.8 223.1h0M113.3 196.4h0M104.2 261.8h0M47.5 223.5h0M115.1 220.7h0M66.8 219.9h0M56.6 214.2h0M45.5 226.4h0M84.2 257.7h0M111.8 256.7h0M77.7 260.8h0M127.3 231.5h0M80.3 237.9h0M106.6 199.4h0M105.5 217.5h0M57.0 231.5h0M103.4 217.0h0M115.9 205.1h0M87.1 231.5h0M92.8 243.9h0M127.2 211.8h0M87.7 221.2h0M56.8 234.4h0M54.0 229.7h0M45.6 222.3h0M115.1 226.4h0M87.4 227.3h0M131.0 237.4h0M85.2 220.4h0M109.7 209.5h0M111.8 209.5h0M78.1 255.6h0M51.1 222.0h0M131.4 222.6h0M85.1 208.4h0M109.7 222.3h0M91.0 236.7h0M116.2 215.4h0M55.4 207.6h0M70.8 236.1h0M125.1 208.6h0M77.0 218.4h0M131.4 203.5h0M116.5 259.9h0M56.2 251.5h0M44.9 265.1h0M64.1 257.1h0M68.9 255.6h0M92.2 239.0h0M121.8 234.6h0M84.7 241.9h0M90.7 253.6h0M45.7 253.4h0M121.6 221.2h0M96.7 254.0h0M98.2 236.1h0M116.5 208.7h0M75.8 203.2h0M76.1 204.3h0M76.6 228.8h0M66.1 252.8h0M80.8 221.7h0M95.4 252.3h0M53.7 257.9h0M56.5 216.5h0M46.1 203.1h0M67.3 198.7h0M66.0 245.0h0M112.4 246.4h0M51.9 226.0h0M115.1 253.2h0M101.9 253.5h0M75.9 205.4h0M45.7 259.2h0M53.0 213.9h0M69.0 246.5h0M61.5 266.0h0M81.4 232.2h0M93.0 211.1h0M96.0 210.1h0M53.6 196.0h0M99.4 195.7h0M90.5 266.1h0M84.9 257.6h0M120.8 245.3h0M104.3 235.9h0M59.5 222.8h0" stroke="#5a280a" stroke-width="1.4" stroke-linecap="round" fill="none"/>
<path d="M90.4 209.9h0M62.7 210.8h0M127.0 244.3h0M81.6 245.8h0M68.2 203.1h0M54.8 245.5h0M104.6 205.5h0M101.2 219.8h0M87.3 232.6h0M57.7 203.7h0M105.4 254.2h0M95.2 196.0h0M121.0 233.1h0M62.3 254.0h0M103.9 265.6h0M110.9 222.6h0M53.9 212.3h0M85.6 262.7h0M130.4 217.2h0M66.6 199.9h0M88.5 209.6h0M122.4 261.3h0M100.5 200.5h0M100.2 260.7h0M102.2 231.5h0M69.4 226.6h0M107.1 227.9h0M88.7 216.1h0M127.1 198.3h0M71.8 209.4h0M121.3 243.1h0M103.2 211.3h0M54.2 218.3h0M120.8 210.9h0M54.4 257.6h0M83.3 207.4h0M44.8 246.4h0M107.0 228.5h0M63.3 228.0h0M113.3 251.5h0M59.6 255.9h0M96.1 238.5h0M52.2 224.0h0M118.2 242.7h0M60.1 240.0h0M113.1 229.3h0M92.3 208.8h0M96.7 228.9h0M77.4 211.4h0M90.9 245.0h0M66.5 251.3h0M93.3 205.1h0M99.6 212.2h0M47.3 222.5h0M45.8 256.9h0M99.8 219.7h0M84.6 229.0h0M115.7 233.6h0M99.3 246.1h0M61.8 256.3h0M114.1 220.3h0M62.0 234.7h0M123.0 255.6h0M102.6 229.6h0M82.7 216.8h0M46.7 249.5h0M48.0 199.4h0M106.3 228.6h0M130.2 227.4h0M107.9 242.4h0M98.2 247.9h0M115.6 199.3h0M60.0 198.0h0M117.6 218.0h0M109.4 217.4h0M65.8 244.6h0M102.4 261.7h0M57.8 195.8h0M57.6 218.9h0M130.9 234.9h0M99.2 207.5h0M114.6 261.3h0M71.4 254.1h0M59.4 241.2h0M91.1 202.2h0M84.8 252.1h0M92.5 260.8h0M130.8 203.6h0M101.9 208.0h0M59.6 210.7h0M72.7 220.3h0M109.4 220.6h0M45.5 239.2h0M118.0 205.8h0M65.3 230.3h0M99.6 264.1h0M100.7 239.4h0M64.2 223.0h0M47.8 213.6h0M107.6 220.6h0M131.2 211.7h0M112.0 217.5h0M46.2 244.9h0M73.1 266.1h0M77.1 210.0h0M82.4 226.8h0M123.6 205.8h0M46.5 212.3h0M56.9 235.5h0M82.2 207.5h0M73.5 248.1h0M59.3 249.2h0M127.9 215.9h0M79.3 207.5h0M120.9 241.0h0M124.8 265.3h0M99.1 228.3h0M106.9 211.7h0M101.1 264.5h0M65.1 228.6h0M110.1 233.9h0M90.6 208.8h0M102.0 232.9h0M61.2 243.3h0M57.7 258.4h0M106.3 256.9h0M109.1 253.9h0M83.0 263.5h0M81.0 222.8h0M83.4 249.5h0M123.7 259.7h0M120.9 217.1h0M92.9 260.3h0M105.5 255.5h0M76.3 226.5h0M63.5 226.6h0M77.1 219.2h0M49.1 258.2h0M131.3 231.1h0M94.3 235.3h0M80.0 250.6h0M57.6 256.5h0M131.2 241.4h0M48.3 198.8h0M54.7 258.5h0M120.2 211.3h0M123.4 204.6h0M87.9 226.9h0M47.1 196.7h0M84.2 263.3h0M91.1 234.0h0M72.0 252.3h0M48.4 211.4h0M57.9 200.4h0M96.0 214.5h0M80.9 243.8h0M52.6 257.5h0M66.9 228.2h0M111.1 260.7h0M46.3 261.5h0M75.1 220.4h0M45.8 202.5h0M129.7 246.0h0M121.8 231.4h0M101.3 260.5h0M106.5 227.1h0M114.9 205.5h0M61.5 265.7h0M63.2 252.1h0M118.4 238.3h0M44.2 196.8h0" stroke="#5a280a" stroke-width="1.0" stroke-linecap="round" fill="none"/>
<path d="M54.6 250.0h0M105.3 202.2h0M84.1 252.2h0M62.7 197.8h0M46.0 259.7h0M92.1 200.8h0M64.8 265.8h0M86.1 205.6h0M62.4 202.2h0M125.3 220.9h0M102.3 263.1h0M107.1 222.0h0M127.0 215.4h0M102.3 238.2h0M63.4 225.6h0M127.9 212.7h0M127.3 258.8h0M122.2 222.1h0M64.5 210.3h0M57.0 251.9h0M89.0 201.0h0M101.7 240.7h0M56.2 260.6h0M96.2 230.5h0M109.8 245.5h0M119.8 199.1h0M110.8 215.6h0M46.8 246.0h0M81.6 206.2h0M123.5 234.1h0M91.1 256.7h0M127.6 209.9h0M68.1 214.5h0M68.5 264.3h0M110.9 202.9h0M128.7 226.1h0M119.6 210.0h0M44.6 205.6h0M108.4 234.4h0M75.7 260.4h0M52.0 213.3h0M53.4 228.5h0M77.2 212.7h0M124.1 226.3h0M63.2 263.4h0M121.3 227.3h0M109.4 216.3h0M111.6 258.2h0M69.7 250.1h0M108.5 225.9h0M72.8 230.5h0M130.7 213.9h0M96.1 242.3h0M92.9 252.8h0M72.9 260.3h0M125.2 209.0h0M97.7 197.0h0M127.6 232.1h0M63.7 198.5h0M118.1 250.2h0M87.4 217.4h0M93.1 202.3h0M72.8 201.4h0M50.4 218.3h0M85.3 219.6h0M112.5 224.1h0M80.9 225.7h0M123.8 220.5h0M104.8 234.4h0M46.2 198.6h0M125.1 244.0h0M56.0 234.5h0M100.2 217.6h0M82.6 265.0h0M64.7 248.0h0M97.8 206.1h0M53.3 207.4h0M128.2 210.7h0M120.9 259.6h0M76.1 247.1h0M117.0 241.1h0M114.9 260.9h0M63.7 208.8h0M100.6 263.1h0M128.4 253.0h0M67.8 216.3h0M97.7 236.0h0M109.1 238.0h0M107.7 263.9h0M125.3 257.0h0M55.6 265.7h0M59.9 234.1h0M81.2 241.4h0M55.5 229.8h0M131.1 222.8h0M57.4 253.1h0M122.0 251.8h0M86.3 216.5h0M86.9 200.7h0M94.7 262.5h0M114.5 247.0h0M130.8 220.2h0M83.2 204.3h0M116.7 202.1h0M130.6 253.0h0M79.5 248.1h0M77.3 207.3h0M80.4 232.5h0M128.7 216.8h0M47.7 208.1h0M54.9 250.8h0M68.8 240.0h0M111.1 237.9h0M97.8 210.0h0M95.8 243.6h0M64.6 250.9h0M65.8 222.1h0M51.4 248.8h0M64.6 206.8h0M78.0 254.5h0M61.3 256.3h0M124.8 240.5h0M102.6 254.4h0M73.2 228.3h0M110.2 235.7h0M46.4 246.6h0M97.7 218.4h0M115.3 200.6h0M63.9 252.1h0M54.7 195.7h0M44.9 226.0h0M80.6 251.1h0M45.9 198.1h0M49.2 248.2h0M49.6 262.3h0M55.5 202.0h0M103.1 253.4h0M82.8 250.3h0M57.6 235.7h0M76.5 205.1h0M111.6 253.4h0M103.2 265.8h0M46.2 229.1h0M113.1 265.2h0M69.8 241.6h0M80.9 254.9h0M104.8 258.7h0M62.4 245.3h0M120.6 201.0h0M115.9 209.0h0M114.4 219.2h0M73.1 259.8h0M84.3 257.7h0M86.9 249.5h0M69.8 225.0h0M54.1 251.8h0M100.2 220.5h0M109.0 240.6h0M71.9 215.4h0M61.8 255.9h0M128.0 205.9h0M64.0 239.4h0M46.6 228.2h0M83.4 247.1h0M101.6 213.2h0M70.4 217.9h0M122.8 255.0h0M89.1 201.2h0M105.8 200.8h0M116.1 253.1h0M97.2 211.4h0M58.3 229.9h0M107.2 222.6h0M131.9 265.3h0M78.8 210.9h0M63.7 200.1h0M47.6 246.6h0M100.3 245.2h0M89.0 203.0h0M119.4 200.1h0M49.0 231.5h0M128.0 255.0h0M62.9 243.9h0M97.4 245.7h0" stroke="#d8a070" stroke-width="1.4" stroke-linecap="round" fill="none"/>
<path d="M61.6 218.8h0M127.9 254.9h0M62.4 226.1h0M86.5 241.5h0M111.4 265.2h0M71.3 253.5h0M76.8 232.5h0M62.4 212.8h0M56.6 198.8h0M107.5 229.7h0M50.6 224.8h0M52.7 207.0h0M74.3 213.9h0M100.3 222.7h0M131.7 261.0h0M105.0 231.6h0M90.9 199.1h0M52.4 233.6h0M122.1 220.4h0M59.1 262.8h0M54.4 260.9h0M82.9 210.1h0M60.4 212.9h0M67.3 242.7h0M126.8 251.4h0M87.5 212.7h0M68.1 200.6h0M113.1 207.9h0M121.5 204.5h0M100.1 249.2h0M114.5 254.2h0M57.5 241.6h0M130.3 224.9h0M99.4 248.7h0M80.9 203.5h0M99.6 236.0h0M56.2 233.5h0M131.9 264.3h0M69.7 262.0h0M47.2 255.1h0M126.4 223.0h0M93.7 214.9h0M46.1 236.1h0M120.6 262.8h0M115.1 204.0h0M52.7 210.5h0M88.6 255.3h0M78.3 195.4h0M53.1 257.5h0M103.4 214.3h0M102.9 246.9h0M53.5 203.7h0M108.6 195.7h0M132.0 240.4h0M103.6 236.3h0M92.1 258.4h0M105.7 266.1h0M64.9 201.1h0M117.4 213.2h0M62.9 222.7h0M99.1 262.7h0M120.3 216.7h0M109.5 254.0h0M107.2 244.6h0M115.4 249.4h0M119.5 216.8h0M109.6 247.1h0M77.1 221.5h0M90.4 212.8h0M69.7 246.3h0M64.7 251.3h0M76.4 196.1h0M119.6 218.1h0M87.4 204.4h0M92.4 203.2h0M67.3 221.6h0M131.9 198.2h0M82.9 196.3h0M105.7 213.4h0M84.9 206.9h0M47.9 262.0h0M87.0 205.2h0M61.2 240.5h0M67.2 246.4h0M104.5 220.3h0M51.3 218.8h0M55.2 238.8h0M119.7 207.6h0M125.9 217.7h0M47.6 227.7h0M59.7 227.0h0M76.6 241.9h0M71.5 223.3h0M68.1 205.3h0M72.6 236.9h0M82.2 213.0h0M73.8 239.9h0M70.2 201.3h0M69.6 232.4h0M92.3 213.5h0M53.0 232.6h0M51.8 195.7h0M64.8 222.1h0M68.7 239.4h0M54.1 200.5h0M69.5 238.0h0M48.3 261.0h0M45.7 213.8h0M60.9 237.0h0M99.6 243.5h0M101.9 226.5h0M49.8 236.6h0M79.7 260.5h0M100.5 246.3h0M82.3 262.5h0M97.8 195.7h0M90.1 251.1h0M68.1 215.2h0M83.5 234.2h0M69.0 223.7h0M114.1 251.4h0M80.9 241.6h0M66.9 240.5h0M74.3 257.8h0M128.0 255.5h0M45.4 238.9h0M48.4 252.3h0M76.3 261.6h0M101.4 250.0h0M124.3 250.1h0M88.1 200.2h0M110.2 225.1h0M74.3 225.0h0M107.7 251.7h0M64.6 247.6h0M82.0 233.5h0M48.1 229.1h0M111.0 244.0h0M68.8 205.6h0M68.0 236.2h0M95.5 243.4h0M113.7 200.2h0M52.7 238.8h0M48.2 259.4h0M79.2 234.7h0M85.0 203.2h0M55.0 234.7h0M88.3 240.6h0M65.8 227.0h0M53.5 247.0h0M44.6 247.2h0M105.0 245.0h0M126.4 213.0h0M76.2 210.9h0M97.4 198.1h0M72.9 256.3h0M82.2 198.1h0M63.2 222.3h0M89.1 247.5h0M91.0 250.6h0M127.6 244.5h0M68.8 216.5h0M85.2 225.5h0M89.8 231.2h0M115.0 217.7h0M51.1 254.3h0M61.7 238.7h0M49.3 203.2h0M64.3 228.0h0M130.1 232.0h0M129.2 200.9h0M86.5 224.4h0" stroke="#6a300e" stroke-width="1.0" stroke-linecap="round" fill="none"/>
<path d="M129.9 265.8h0M52.4 209.1h0M86.0 230.7h0M119.2 229.8h0M103.3 232.2h0M73.0 247.1h0M126.3 211.4h0M49.2 235.8h0M83.8 223.9h0M51.1 202.1h0M67.4 234.0h0M96.4 233.9h0M72.8 213.1h0M84.9 219.3h0M66.4 245.7h0M120.5 257.6h0M106.0 219.6h0M79.6 196.1h0M77.0 197.6h0M65.8 246.3h0M75.6 250.3h0M48.7 242.6h0M111.4 239.3h0M129.2 230.9h0M118.3 199.1h0M111.9 237.3h0M116.7 216.5h0M60.3 256.7h0M53.9 213.5h0M55.3 208.8h0M101.0 262.7h0M71.9 240.4h0M68.0 255.9h0M69.3 222.1h0M128.6 218.8h0M120.5 249.9h0M112.2 259.1h0M44.8 201.4h0M116.6 228.7h0M112.5 256.2h0M81.4 262.8h0M93.2 203.8h0M99.7 256.4h0M50.6 224.0h0M113.5 202.9h0M122.1 261.0h0M109.2 222.6h0M107.3 246.8h0M66.8 231.6h0M127.4 239.8h0M103.2 216.4h0M107.5 219.8h0M61.6 223.8h0M71.4 199.9h0M59.0 249.8h0M112.5 210.8h0M50.9 259.6h0M71.9 262.9h0M105.3 209.1h0M101.1 212.1h0M85.6 253.6h0M48.1 246.5h0M113.9 226.7h0M118.5 227.0h0M71.9 239.3h0M92.4 211.3h0M55.8 213.6h0M68.0 262.2h0M89.2 236.8h0M57.3 252.7h0M48.9 251.9h0M87.1 201.6h0M101.6 196.9h0M93.2 262.6h0M116.4 246.1h0M97.7 207.6h0M66.5 250.3h0M61.0 242.4h0M95.3 249.6h0M72.6 227.5h0M65.4 257.8h0M71.8 242.2h0M81.8 214.4h0M131.6 247.6h0M49.5 255.3h0M57.6 208.0h0M73.9 217.8h0M75.8 266.0h0M112.6 199.0h0M101.9 229.9h0M125.4 237.6h0M64.5 266.1h0M69.4 252.2h0M122.8 241.5h0M49.0 262.1h0M114.7 246.4h0M122.1 256.3h0M129.8 200.6h0M90.8 256.6h0M58.5 227.8h0M65.9 201.9h0M75.0 231.0h0M65.6 234.3h0M47.9 217.8h0M123.0 238.1h0M121.7 196.9h0M44.2 237.8h0M120.9 252.1h0M129.1 208.3h0M84.3 225.1h0M88.6 246.3h0M63.7 236.0h0M78.9 213.3h0M96.3 237.0h0M131.5 260.5h0M79.7 236.0h0M77.7 241.7h0M94.8 230.9h0M97.7 229.7h0M118.9 211.8h0M97.9 206.3h0M125.1 247.7h0M105.8 259.4h0M87.7 254.3h0M120.4 209.1h0M60.2 209.1h0M71.1 207.6h0M47.0 262.0h0M76.3 264.3h0M48.1 214.7h0M65.9 240.2h0M70.7 261.9h0M79.8 247.5h0M127.1 228.7h0M125.8 254.6h0M108.7 231.7h0M51.3 207.0h0M84.7 196.2h0M68.5 264.4h0M74.5 238.0h0M117.8 249.5h0M124.6 249.3h0M68.2 230.7h0M79.8 201.4h0M78.1 259.0h0M114.9 243.0h0M58.4 249.7h0M66.0 239.5h0M87.7 210.7h0M87.4 256.6h0M129.0 234.6h0M75.5 227.7h0M59.9 241.6h0M117.8 211.3h0M110.2 224.2h0M117.1 204.3h0M45.2 261.0h0M121.1 245.4h0M98.7 221.5h0M61.4 228.5h0M103.4 261.7h0M80.0 251.1h0M123.5 206.8h0M58.6 226.2h0M105.7 232.2h0M64.4 208.2h0M129.3 200.0h0M96.6 248.5h0M46.3 241.5h0M75.7 259.2h0M107.9 199.4h0" stroke="#9a5020" stroke-width="1.4" stroke-linecap="round" fill="none"/>
<path d="M124.1 241.4h0M79.6 250.5h0M98.6 209.7h0M109.9 241.2h0M118.6 220.1h0M106.6 240.2h0M78.6 244.0h0M96.6 205.0h0M109.1 227.8h0M80.4 233.1h0M46.0 214.8h0M108.4 245.5h0M128.9 206.1h0M86.5 213.7h0M56.2 262.0h0M60.1 225.9h0M110.7 203.4h0M70.3 212.2h0M98.8 237.3h0M93.6 196.6h0M110.2 257.4h0M108.2 242.1h0M120.4 208.5h0M52.5 245.0h0M123.2 244.4h0M94.8 214.7h0M47.8 237.1h0M125.2 263.7h0M122.5 238.6h0M104.5 207.1h0M51.7 197.5h0M107.5 250.6h0M77.7 235.6h0M47.8 226.7h0M110.9 205.2h0M82.4 222.1h0M45.6 255.8h0M47.5 220.6h0M108.8 229.5h0M75.4 221.7h0M50.5 203.2h0M77.3 212.7h0M53.4 213.5h0M82.0 257.2h0M105.6 259.5h0M119.7 246.9h0M129.1 266.0h0M72.5 251.1h0M131.8 254.9h0M88.3 254.1h0M96.7 256.1h0M76.2 206.5h0M47.5 217.8h0M85.6 243.4h0M97.9 213.9h0M121.6 216.3h0M96.2 257.7h0M84.7 241.1h0M79.0 251.6h0M49.4 231.4h0M86.8 226.7h0M56.2 214.8h0M55.0 220.8h0M95.3 250.3h0M127.5 216.7h0M61.2 228.6h0M113.0 226.7h0M59.1 209.7h0M67.4 211.8h0M94.9 215.1h0M83.6 240.8h0M86.2 229.3h0M67.1 251.0h0M64.9 223.9h0M98.6 204.9h0M126.0 252.0h0M83.9 231.5h0M116.7 223.5h0M54.2 213.7h0M65.9 247.4h0M127.1 235.7h0M124.1 198.9h0M80.0 252.2h0M100.6 233.8h0M120.5 236.9h0M83.8 249.2h0M125.1 240.0h0M56.5 200.7h0M109.8 217.6h0M129.5 210.0h0M105.6 219.7h0M103.4 230.4h0M131.9 259.1h0M126.4 235.1h0M51.9 213.8h0M55.7 240.4h0M60.3 197.5h0M98.7 197.3h0M47.6 255.0h0M127.7 237.7h0M78.1 225.7h0M117.8 256.9h0M105.8 204.4h0M118.0 246.5h0M98.5 230.4h0M118.9 207.7h0M62.0 246.0h0M112.5 199.7h0M82.6 215.3h0M126.1 201.1h0M107.5 242.0h0M94.7 257.3h0M65.4 240.5h0M44.7 249.0h0M83.9 259.0h0M44.8 209.0h0M105.8 242.2h0M101.3 213.4h0M109.9 251.5h0M63.5 240.0h0M115.8 239.5h0M117.7 237.0h0M79.7 214.7h0M121.7 259.1h0M56.5 265.4h0M74.4 254.2h0M86.0 265.1h0M117.1 200.3h0M106.6 240.2h0M98.9 199.8h0M101.8 247.3h0M101.4 210.5h0M86.0 228.6h0M47.8 198.7h0M108.3 256.2h0M55.8 239.5h0M124.6 214.8h0M121.4 257.2h0M77.0 214.5h0M108.1 212.4h0M105.9 204.5h0M46.5 235.8h0M109.8 235.6h0M87.0 229.9h0M102.5 239.8h0M69.3 233.0h0M74.7 224.6h0M100.8 265.3h0M89.2 215.0h0M59.3 225.9h0M102.9 256.4h0M118.7 229.9h0" stroke="#8e4a1c" stroke-width="1.0" stroke-linecap="round" fill="none"/>
<path d="M113.5 235.2h0M102.0 225.0h0M104.3 254.9h0M119.0 217.2h0M44.3 231.1h0M46.4 223.5h0M103.2 202.1h0M62.7 217.9h0M47.0 240.0h0M53.9 246.0h0M130.3 226.3h0M74.9 231.6h0M119.0 226.2h0M112.1 218.5h0M130.7 199.8h0M61.4 254.8h0M75.3 198.2h0M69.2 248.1h0M61.3 225.7h0M85.5 199.9h0M88.8 233.5h0M44.3 226.0h0M91.7 248.7h0M98.8 211.4h0M101.4 261.9h0M111.9 200.5h0M125.1 196.1h0M94.9 234.0h0M55.9 259.1h0M111.1 233.5h0M63.9 236.0h0M73.6 249.5h0M76.0 236.5h0M78.0 225.4h0M131.7 217.4h0M65.1 231.0h0M61.9 233.4h0M47.6 235.8h0M109.1 256.1h0M81.3 256.0h0M86.0 258.0h0M85.6 247.6h0M68.3 217.7h0M56.6 213.9h0M113.1 263.4h0M114.4 213.4h0M68.8 255.6h0M121.2 224.2h0M71.9 200.9h0M80.8 261.5h0M94.7 212.0h0M97.2 209.7h0M112.8 243.6h0M109.6 237.8h0M113.7 209.4h0M47.3 208.2h0M128.6 241.1h0M128.6 196.1h0M73.3 216.6h0M103.9 207.4h0M60.7 220.2h0M103.9 211.4h0M126.3 253.1h0M111.1 233.0h0M85.6 231.1h0M88.8 211.4h0M121.5 214.1h0M111.9 196.7h0M86.0 248.7h0M77.4 198.8h0M69.2 240.5h0M106.9 261.8h0M77.1 218.0h0M104.8 218.9h0M59.0 248.1h0M128.8 225.1h0M49.9 264.4h0M125.6 200.3h0M73.1 214.8h0M125.8 236.4h0M101.5 232.5h0M59.7 248.7h0M94.8 208.3h0M67.7 262.6h0M74.8 212.9h0M75.0 260.9h0M70.9 245.0h0M99.1 229.0h0M72.8 256.3h0M73.3 229.0h0M130.6 210.3h0M62.0 202.6h0M57.8 196.1h0M86.2 229.9h0M119.4 237.9h0M99.8 235.0h0M91.8 215.9h0M86.2 201.2h0M73.2 228.5h0M73.3 242.9h0M56.9 260.7h0M129.5 263.1h0M77.3 227.4h0M88.5 261.1h0M110.6 243.6h0M72.3 252.9h0M110.0 251.5h0M76.6 198.1h0M79.3 214.7h0M66.0 216.5h0M46.1 237.3h0M96.1 229.9h0M49.1 239.5h0M50.5 227.9h0M123.4 203.7h0M117.7 214.6h0M124.1 223.9h0M76.0 225.5h0M49.3 232.3h0M96.4 210.2h0M121.4 252.5h0M97.5 210.9h0M104.7 201.5h0M101.2 199.0h0M80.2 229.8h0M128.3 226.8h0M113.4 229.5h0M47.7 224.3h0M73.5 254.9h0M98.5 221.8h0M80.1 217.5h0M67.2 258.8h0M46.3 215.1h0M83.6 240.7h0M89.7 200.7h0M125.1 237.9h0M109.2 213.2h0M98.5 245.6h0M90.9 204.1h0M72.3 231.7h0M96.3 207.2h0M108.5 242.2h0M59.2 243.8h0M50.2 211.1h0M61.4 240.0h0M102.6 224.7h0M115.6 201.7h0M127.9 206.2h0M131.0 228.2h0M98.8 258.6h0M81.4 264.0h0M131.1 246.1h0M107.7 211.4h0M82.9 259.5h0M129.4 197.6h0M56.7 211.3h0M98.9 228.7h0M70.5 262.0h0M106.3 237.2h0M49.0 223.0h0M50.2 247.2h0M121.3 221.1h0M130.7 230.1h0M97.2 229.8h0M95.6 241.4h0M108.3 225.6h0M48.6 226.3h0M85.7 254.6h0M75.3 249.5h0M121.7 220.5h0M92.8 255.7h0M44.6 246.6h0M53.3 203.4h0M95.2 228.3h0M78.3 265.7h0" stroke="#7a3a12" stroke-width="1.4" stroke-linecap="round" fill="none"/>
<path d="M61.9 206.9h0M125.3 258.3h0M124.9 214.5h0M57.7 252.7h0M81.8 234.8h0M101.4 259.0h0M92.6 237.4h0M74.6 256.2h0M78.9 215.8h0M54.9 249.8h0M94.4 238.1h0M44.4 206.1h0M54.3 204.9h0M103.7 255.0h0M93.2 246.3h0M98.0 248.0h0M100.8 225.5h0M62.0 200.9h0M126.2 218.4h0M99.5 246.4h0M100.1 208.3h0M60.9 205.4h0M127.7 266.1h0M55.0 265.4h0M105.2 234.9h0M120.3 227.3h0M64.5 233.9h0M55.3 245.2h0M81.1 237.5h0M56.6 208.0h0M122.9 224.0h0M130.5 208.1h0M127.9 240.1h0M127.5 246.6h0M51.9 239.7h0M127.4 234.6h0M89.0 225.1h0M61.7 221.8h0M61.0 224.1h0M71.2 203.3h0M72.8 217.5h0M64.9 200.6h0M88.0 222.3h0M112.0 226.8h0M68.9 255.4h0M70.0 243.8h0M74.7 242.5h0M128.8 240.1h0M106.6 253.2h0M111.9 237.6h0M118.2 238.3h0M112.8 216.5h0M80.2 218.1h0M83.0 221.8h0M107.4 253.5h0M93.9 237.8h0M82.2 254.1h0M128.9 226.8h0M100.4 264.0h0M121.1 198.3h0M127.2 239.8h0M110.5 246.1h0M97.9 248.4h0M97.8 263.0h0M74.9 249.9h0M72.5 237.0h0M75.4 215.6h0M59.0 217.9h0M130.2 201.1h0M96.9 222.9h0M76.8 232.9h0M45.2 258.1h0M75.5 223.7h0M126.2 241.7h0M71.6 226.3h0M131.1 221.7h0M127.2 238.5h0M67.2 256.8h0M114.0 261.6h0M109.4 264.6h0M98.6 201.4h0M87.8 221.0h0M84.6 229.4h0M51.1 206.3h0M92.1 250.4h0M58.8 235.2h0M108.6 214.2h0M101.3 260.3h0M96.0 231.7h0M83.2 231.3h0M101.1 246.3h0M107.4 235.2h0M48.9 215.7h0M85.8 227.1h0M115.7 252.1h0M79.4 251.4h0M54.0 231.1h0M123.9 201.6h0M53.5 257.9h0M96.4 222.3h0M106.7 238.0h0M116.0 228.8h0M82.2 255.6h0M129.4 229.1h0M50.8 233.6h0M118.5 233.5h0M45.5 255.5h0M96.3 249.4h0M109.2 260.5h0M109.5 235.3h0M76.5 259.0h0M70.7 209.1h0M104.9 230.5h0M51.2 260.2h0M87.2 244.3h0M102.0 266.1h0M102.8 211.3h0M52.6 196.4h0M92.0 199.4h0M72.5 243.6h0M119.7 248.4h0M129.0 206.6h0M131.1 211.5h0M54.1 203.8h0M65.9 263.2h0M98.6 201.9h0M51.1 212.0h0M95.9 243.9h0M129.5 232.4h0M102.1 229.0h0M83.3 205.4h0M116.0 259.5h0M84.2 242.7h0M118.7 234.3h0M68.3 230.0h0M89.9 255.1h0M80.6 256.1h0M55.4 212.1h0M127.1 262.3h0M118.9 238.8h0M48.9 198.8h0M79.5 201.3h0M64.0 234.3h0M55.9 218.8h0M118.6 209.6h0M107.0 227.5h0M50.5 219.3h0M51.6 201.0h0M123.4 239.2h0M107.5 207.1h0M68.3 265.3h0M102.6 215.0h0M92.8 213.1h0M128.4 239.5h0M99.2 261.0h0M64.8 216.2h0M124.1 233.3h0M49.2 261.8h0M88.1 217.0h0M81.3 264.9h0M71.8 264.8h0M46.1 259.5h0M127.8 250.5h0M68.1 231.4h0M114.4 257.8h0M124.2 211.3h0M113.4 217.4h0M82.8 262.9h0M125.8 245.6h0M116.9 265.2h0M65.3 207.7h0M74.7 260.4h0M112.5 242.3h0M121.7 240.5h0M117.1 249.5h0M128.6 256.2h0M124.9 200.5h0M47.1 254.6h0M93.5 240.8h0M78.1 212.0h0M75.8 201.3h0M103.4 230.2h0M68.3 203.6h0M72.6 229.8h0M123.7 245.4h0M83.1 260.9h0M44.4 196.5h0M55.1 231.6h0M97.3 212.7h0M101.8 266.1h0M131.2 266.1h0M56.3 265.0h0M49.3 252.1h0M80.1 245.7h0M128.8 212.9h0M97.6 216.7h0" stroke="#9a5020" stroke-width="1.0" stroke-linecap="round" fill="none"/>
<path d="M129.6 249.8h0M45.2 222.0h0M47.1 239.0h0M106.3 212.4h0M130.4 215.1h0M85.3 214.9h0M57.9 213.5h0M64.1 227.8h0M105.6 262.0h0M77.3 254.3h0M51.4 213.4h0M103.0 223.6h0M96.5 213.2h0M89.8 241.6h0M92.2 212.3h0M104.1 199.7h0M94.9 202.3h0M117.2 262.9h0M50.0 208.6h0M85.2 259.0h0M56.0 208.7h0M84.6 220.1h0M81.1 222.0h0M58.1 208.6h0M125.4 197.0h0M75.2 196.8h0M106.1 225.6h0M103.6 223.0h0M104.6 224.1h0M68.4 262.0h0M81.5 233.3h0M75.1 259.8h0M66.0 236.9h0M55.3 227.0h0M101.2 228.5h0M67.9 234.9h0M53.1 198.3h0M128.5 218.3h0M65.7 202.7h0M93.0 263.5h0M90.2 257.9h0M110.5 226.6h0M70.5 217.7h0M111.4 219.1h0M114.3 200.0h0M52.0 239.4h0M128.0 204.6h0M109.3 240.2h0M48.7 233.2h0M101.1 204.5h0M124.7 207.0h0M57.7 237.8h0M119.8 223.1h0M76.0 210.1h0M61.3 244.2h0M107.5 239.6h0M105.9 242.5h0M93.2 230.5h0M112.1 216.8h0M71.4 245.7h0M44.4 251.5h0M101.3 229.3h0M93.3 256.2h0M86.4 253.7h0M84.4 210.5h0M86.3 242.8h0M116.4 263.5h0M83.2 243.6h0M47.6 259.4h0M92.5 223.8h0M122.5 238.2h0M125.6 226.8h0M108.1 260.6h0M89.5 209.0h0M95.3 244.8h0M97.6 228.9h0M113.2 216.6h0M71.7 238.7h0M56.2 197.1h0M45.1 216.2h0M66.1 231.9h0M50.3 251.8h0M64.7 205.4h0M85.6 210.8h0M74.4 211.0h0M83.1 255.8h0M48.2 221.1h0M74.5 248.2h0M47.8 212.9h0M101.7 229.1h0M89.1 213.4h0M56.6 198.6h0M59.7 198.4h0M45.2 261.1h0M120.7 262.1h0M117.2 251.4h0M58.3 231.7h0M131.6 250.5h0M131.4 220.5h0M80.5 255.5h0M58.6 266.0h0M98.3 209.2h0M73.2 210.0h0M121.6 225.5h0M59.2 207.3h0M95.2 262.3h0M44.4 248.5h0M55.7 198.6h0M73.4 244.0h0M88.0 212.8h0M126.3 260.6h0M98.7 199.3h0M109.2 213.8h0M46.0 232.5h0M52.7 248.3h0M101.2 243.1h0M107.4 200.1h0M83.9 205.7h0M98.0 232.9h0M116.4 261.4h0M96.0 241.5h0M73.3 214.6h0M84.5 224.8h0M55.4 251.2h0M56.8 229.2h0M127.8 208.2h0M78.5 248.5h0M50.0 229.3h0M56.1 232.9h0M65.1 198.0h0M71.8 244.3h0M88.4 246.2h0M58.5 209.6h0M67.2 256.5h0M87.3 234.8h0M66.4 241.4h0M125.5 213.7h0M46.1 234.6h0M98.1 252.7h0M111.6 234.8h0M50.9 218.7h0M120.7 232.0h0M58.8 205.2h0M88.4 256.6h0M71.9 258.6h0M68.2 209.2h0M44.4 226.2h0M68.2 252.1h0M122.1 195.9h0M124.8 196.1h0M94.7 257.0h0M53.8 264.4h0M48.5 232.6h0M70.4 223.7h0M55.5 203.9h0M103.0 216.1h0M88.8 200.3h0M112.3 206.9h0M114.6 210.7h0M96.4 213.0h0M93.5 225.1h0M51.4 203.5h0M89.7 246.7h0M67.4 216.4h0M63.3 207.7h0M87.0 250.8h0M106.5 241.4h0M84.2 204.4h0M45.3 225.8h0M86.4 239.8h0M99.8 260.5h0M110.0 216.7h0M53.2 258.7h0M65.2 199.4h0M61.1 220.7h0M127.7 234.0h0M93.3 196.2h0M54.2 243.4h0M69.0 201.1h0M114.3 224.6h0M101.0 232.1h0M67.4 243.5h0M96.4 250.4h0M67.8 231.6h0" stroke="#6a300e" stroke-width="1.4" stroke-linecap="round" fill="none"/>
<path d="M47.9 242.8h0M91.3 226.2h0M122.2 227.4h0M48.4 263.1h0M123.3 254.0h0M54.4 255.8h0M81.2 231.6h0M94.9 256.5h0M90.0 256.0h0M52.1 235.8h0M118.2 257.7h0M78.1 222.7h0M131.6 246.0h0M110.6 259.2h0M109.6 239.2h0M49.6 203.4h0M85.0 251.4h0M57.8 214.2h0M64.4 222.2h0M76.5 237.7h0M83.7 198.7h0M79.6 230.7h0M125.8 217.3h0M116.3 246.9h0M114.4 266.2h0M110.2 197.2h0M94.3 231.5h0M131.6 255.6h0M111.8 212.9h0M81.8 247.9h0M107.0 263.6h0M79.3 217.6h0M67.9 219.1h0M119.7 219.9h0M98.8 242.2h0M61.2 221.6h0M88.8 236.9h0M98.3 230.8h0M126.2 203.0h0M92.8 241.8h0M87.2 212.2h0M95.9 245.6h0M66.6 219.9h0M112.6 207.0h0M60.1 224.2h0M123.7 204.3h0M128.1 239.1h0M90.0 245.8h0M130.0 254.8h0M90.4 258.2h0M93.6 258.8h0M84.1 209.9h0M73.5 232.0h0M109.5 221.7h0M96.1 206.0h0M72.6 241.7h0M80.8 243.3h0M74.3 253.7h0M109.3 247.4h0M66.5 235.3h0M48.1 216.7h0M62.4 197.2h0M85.0 205.7h0M124.7 233.6h0M130.7 210.1h0M47.7 235.3h0M53.7 225.8h0M96.3 208.0h0M49.2 249.6h0M109.7 245.3h0M58.2 250.7h0M58.2 223.3h0M100.2 215.6h0M131.7 208.4h0M45.2 209.2h0M64.3 219.9h0M62.0 218.0h0M64.5 264.5h0M110.4 209.4h0M58.9 204.8h0M78.3 232.4h0M90.9 245.1h0M125.9 261.8h0M83.9 243.6h0M89.8 249.7h0M50.5 249.9h0M124.7 262.2h0M114.6 255.7h0M95.0 230.5h0M120.9 239.2h0M86.0 240.4h0M123.2 236.8h0M119.3 250.2h0M66.9 248.0h0M124.3 197.1h0M99.4 240.3h0M120.1 204.2h0M126.0 251.7h0M119.1 257.6h0M100.1 211.9h0M85.4 240.8h0M68.9 202.3h0M101.4 217.8h0M93.5 218.2h0M62.2 197.6h0M58.3 226.7h0M81.6 216.6h0M85.0 227.0h0M92.5 255.2h0M76.2 226.8h0M120.7 255.2h0M50.6 241.7h0M79.2 200.4h0M64.7 255.5h0M55.8 223.6h0M52.7 229.7h0M105.2 235.4h0M48.7 196.6h0M72.5 231.4h0M96.7 244.3h0M50.8 252.4h0M90.9 220.7h0M71.2 258.5h0M54.7 248.0h0M67.8 216.0h0M107.7 243.2h0M116.1 195.4h0M94.2 218.3h0M115.4 202.5h0M83.9 202.0h0M127.5 216.3h0M48.1 211.9h0M84.7 235.0h0M57.0 257.4h0M124.9 250.6h0M57.4 232.8h0M101.3 257.1h0M46.9 249.0h0M104.8 225.2h0M103.8 212.0h0M56.1 241.4h0M75.0 224.4h0M60.7 256.9h0M129.1 219.9h0M107.8 230.6h0M96.0 206.8h0M102.1 227.7h0M118.1 202.7h0M127.0 232.7h0M84.7 249.6h0M45.9 239.6h0M93.8 246.2h0M76.6 244.9h0M100.7 255.3h0M72.7 198.7h0M76.3 252.5h0M98.5 233.1h0M123.0 214.4h0M97.5 230.2h0M119.5 250.6h0M101.8 253.2h0M129.1 227.2h0M117.7 231.6h0M109.5 195.8h0M61.4 199.0h0M126.3 239.4h0M120.6 205.1h0M45.3 262.3h0M70.0 247.9h0M92.2 236.3h0M115.8 198.5h0M122.5 207.5h0M119.6 210.9h0M81.4 229.9h0M84.2 196.8h0M51.0 263.2h0" stroke="#e6b888" stroke-width="1.4" stroke-linecap="round" fill="none"/>
<path d="M120.7 257.1h0M81.6 263.9h0M114.5 230.0h0M107.2 258.0h0M123.0 215.3h0M50.5 221.7h0M51.8 200.7h0M52.7 235.1h0M64.1 201.4h0M93.0 255.3h0M117.8 249.4h0M126.2 209.6h0M105.9 253.9h0M51.0 244.7h0M109.8 205.7h0M119.0 253.6h0M63.3 254.2h0M84.0 200.7h0M72.0 231.7h0M99.6 259.9h0M125.9 202.7h0M44.2 265.4h0M74.2 199.9h0M78.8 214.4h0M63.9 233.4h0M128.8 234.8h0M70.9 204.1h0M75.7 227.6h0M124.8 197.2h0M82.8 230.1h0M73.9 254.2h0M115.4 260.6h0M84.3 256.5h0M121.6 207.9h0M48.3 204.6h0M127.1 234.4h0M98.2 211.5h0M94.5 209.5h0M97.8 249.0h0M79.3 253.2h0M128.4 217.3h0M116.8 247.3h0M127.2 198.0h0M76.2 210.6h0M96.4 195.7h0M125.8 221.4h0M54.4 208.7h0M103.3 204.4h0M90.8 219.3h0M85.8 252.5h0M47.5 203.6h0M120.4 198.0h0M131.9 257.1h0M87.8 248.8h0M96.3 234.6h0M94.9 262.8h0M84.3 207.5h0M56.7 239.2h0M75.3 202.7h0M130.3 257.5h0M81.0 234.8h0M106.5 229.0h0M121.6 196.9h0M46.6 253.3h0M72.6 229.3h0M91.6 222.9h0M50.9 242.0h0M105.4 247.1h0M48.7 210.9h0M81.4 216.5h0M104.0 265.8h0M104.2 241.7h0M100.5 212.7h0M99.3 201.8h0M129.2 265.1h0M51.3 225.5h0M86.7 230.5h0M62.4 196.1h0M105.1 203.5h0M102.7 219.4h0M128.4 205.3h0M64.0 223.3h0M93.2 202.9h0M64.4 228.3h0M84.9 198.3h0M82.6 235.2h0M68.3 199.4h0M126.7 233.4h0M127.3 206.6h0M97.8 243.4h0M65.0 199.4h0M119.9 205.7h0M78.5 197.4h0M129.3 199.7h0M104.1 210.3h0M102.1 209.6h0M112.7 263.1h0M70.2 200.8h0M109.3 266.0h0M126.3 217.9h0M97.4 198.8h0M96.5 226.1h0M92.7 249.7h0M73.0 230.0h0M62.7 198.1h0M103.8 249.5h0M128.7 225.6h0M56.6 212.7h0M98.7 251.2h0M99.6 238.7h0M119.6 208.1h0M56.1 259.9h0M110.1 198.2h0M89.1 263.1h0M103.6 241.3h0M56.3 241.6h0M96.5 238.5h0M122.4 236.8h0M130.9 220.5h0M45.9 231.0h0M102.6 220.6h0M101.2 252.2h0M87.9 204.6h0M65.6 219.2h0M48.1 207.0h0M87.8 210.1h0M121.1 265.2h0M65.5 200.2h0M83.7 212.1h0M100.1 263.0h0M113.8 199.0h0M74.8 248.4h0M73.4 264.6h0M84.0 237.5h0M61.7 256.7h0M103.2 260.6h0M131.2 256.2h0M105.4 251.0h0M56.0 227.6h0M61.3 233.8h0M126.3 242.9h0M123.9 251.4h0M126.3 208.7h0M59.4 247.8h0M75.3 266.2h0M131.5 256.4h0M125.4 262.2h0M73.1 257.2h0M98.6 256.0h0M108.8 207.7h0M49.6 210.3h0M88.9 199.7h0M107.5 197.0h0" stroke="#8e4a1c" stroke-width="1.4" stroke-linecap="round" fill="none"/>
<path d="M52.0 200.7 L52.2 200.4 L52.5 199.0 L52.3 198.1 L51.9 197.0 L51.0 195.9 L50.1 195.2 L48.9 194.7 L47.4 194.5 L46.1 194.7 L45.0 195.1 L43.9 196.0 L43.1 197.0 L42.7 198.1 L42.5 199.6 L42.7 200.9 L43.1 202.0 L44.0 203.1 L44.9 203.8 L46.1 204.3 L46.6 204.3ZM54.4 200.7 L54.5 201.2 L59.0 206.5 L59.4 206.7 L60.4 206.5 L61.5 206.1 L62.2 205.4 L63.6 199.8 L62.6 198.4 L61.6 197.6 L60.4 197.1 L59.0 196.9 L57.8 197.1 L56.7 197.5 L55.7 198.3 L54.8 199.4ZM48.5 205.7 L48.3 206.1 L48.1 207.3 L48.3 208.3 L48.7 209.4 L49.5 210.4 L50.3 211.0 L51.4 211.5 L52.7 211.7 L53.8 211.5 L54.8 211.1 L55.8 210.3 L56.4 209.5 L56.9 208.4 L56.9 207.5 L53.1 202.9 L52.6 203.0ZM64.6 204.8 L65.1 206.4 L65.8 207.3 L66.7 208.0 L67.6 208.4 L68.9 208.5 L70.0 208.4 L70.7 208.0 L72.8 205.6 L73.0 204.2 L72.9 203.1 L72.5 202.2 L71.8 201.3 L70.9 200.6 L70.0 200.2 L68.7 200.1 L67.6 200.2 L66.7 200.6 L65.8 201.3 L65.4 201.9ZM83.6 208.3 L83.6 207.8 L82.3 205.8 L80.5 204.7 L78.5 204.0 L77.4 203.9 L69.2 212.9 L69.1 213.5 L69.7 214.9 L70.1 215.2 L79.3 215.9ZM65.9 222.2 L66.2 221.9 L67.1 218.9 L67.2 217.9 L67.0 215.9 L66.3 214.1 L65.5 213.0 L62.1 210.9 L60.8 210.9 L54.7 215.4 L55.3 220.6 L55.7 221.0 L62.1 223.4ZM48.7 214.2 L47.4 214.0 L46.1 214.2 L44.6 214.7 L43.3 215.7 L42.4 216.9 L41.9 218.4 L41.7 219.9 L41.9 221.4 L42.4 222.7 L43.3 223.6 L49.6 225.0 L53.1 221.4 L53.2 220.9 L52.5 216.8 L51.7 215.7 L50.7 215.0ZM80.2 220.8 L80.2 220.3 L79.1 218.2 L72.9 217.6 L71.5 218.1 L70.1 218.8 L69.3 219.6 L68.3 222.7 L71.7 226.9 L73.3 227.5 L74.2 227.5ZM61.8 230.3 L61.9 230.8 L62.1 231.0 L69.6 232.9 L70.0 232.7 L70.3 232.3 L70.5 231.1 L70.3 229.7 L69.7 228.3 L68.9 227.3 L67.8 226.4 L66.4 225.8 L65.0 225.6 L63.8 225.8 L63.0 226.1ZM76.6 229.5 L77.1 229.8 L84.8 228.9 L85.0 228.5 L85.2 225.9 L84.9 225.1 L84.2 224.1 L83.2 223.4 L82.1 222.9 L81.4 222.8 L76.5 228.4 L76.4 228.9ZM88.4 214.7 L88.3 214.2 L88.1 214.0 L86.5 214.0 L85.0 214.7 L84.5 215.5 L84.1 216.9 L84.2 217.9 L84.9 219.2 L85.7 219.7 L86.1 219.8 L86.5 219.5ZM95.2 205.1 L96.2 203.9 L96.7 202.6 L96.9 201.4 L96.7 199.8 L96.2 198.7 L95.3 197.6 L94.1 196.6 L93.0 196.1 L91.6 195.9 L90.0 196.1 L88.9 196.6 L87.8 197.5 L86.8 198.7 L86.3 200.0 L86.1 201.2 L86.3 202.8 L86.8 203.9 L87.7 205.0 L88.9 206.0 L90.0 206.5 L91.3 206.7ZM112.7 212.3 L113.3 211.9 L114.2 210.8 L114.4 209.9 L111.7 202.5 L110.6 202.1 L109.2 201.9 L107.6 202.1 L106.2 202.6 L105.0 203.6 L103.9 204.9 L103.4 206.3 L103.2 207.7 L103.3 208.6 L104.1 210.9 L104.9 211.9 L105.8 212.6ZM91.4 211.5 L91.5 211.8 L96.3 217.3 L97.5 217.1 L98.7 216.6 L99.6 215.9 L100.5 214.8 L101.0 213.6 L101.1 212.3 L101.0 211.2 L100.4 209.9 L99.7 209.0 L98.7 208.2 L97.4 207.6 L96.3 207.5 L95.0 207.6 L93.7 208.2 L92.7 209.0 L92.0 209.9ZM115.7 219.4 L115.8 218.8 L114.6 215.5 L114.0 214.7 L113.5 214.5 L105.0 214.8 L103.9 216.2 L103.4 217.6 L103.1 219.2 L103.4 221.0 L104.0 222.5 L109.4 224.9ZM121.5 220.4 L122.1 220.2 L127.1 213.2 L127.0 212.8 L123.3 209.6 L117.0 211.8 L116.7 212.1 L116.1 213.4 L118.0 218.5 L118.3 218.8ZM122.4 207.5 L122.7 207.1 L123.9 202.9 L123.5 201.7 L122.7 200.7 L121.6 199.8 L120.5 199.4 L119.3 199.2 L117.9 199.4 L116.8 199.8 L115.8 200.6 L114.9 201.7 L114.4 203.2 L116.1 207.9 L116.8 208.4 L118.3 208.9ZM124.9 207.6 L125.0 208.1 L128.8 211.4 L129.3 211.6 L130.6 211.5 L131.8 210.9 L132.7 210.3 L133.4 209.3 L134.0 208.1 L134.1 207.0 L134.0 205.7 L133.4 204.5 L132.7 203.5 L131.8 202.9 L130.6 202.3 L129.5 202.2 L128.2 202.3 L127.0 202.9 L126.0 203.7ZM88.0 221.6 L88.1 222.1 L88.5 222.3 L93.0 221.5 L94.0 220.4 L94.4 219.3 L94.5 218.7 L91.2 214.9 L90.7 215.0 L90.5 215.2ZM118.1 232.3 L118.7 232.2 L122.2 227.7 L122.3 227.1 L122.1 225.6 L121.6 224.3 L120.7 223.1 L119.4 222.1 L117.9 221.6 L116.8 221.5 L111.1 226.4 L111.0 226.9 L112.2 230.8ZM105.0 234.3 L105.5 234.3 L106.3 234.0 L107.6 232.7 L108.0 231.8 L108.0 230.0 L107.6 229.1 L106.3 227.8 L105.4 227.4 L103.6 227.4 L102.7 227.8 L101.4 229.1 L101.0 230.0 L101.0 231.8 L101.6 232.8ZM87.1 229.5 L87.9 230.8 L93.7 232.8 L94.2 232.7 L95.3 231.8 L96.1 230.8 L96.7 229.4 L96.9 228.2 L96.7 226.8 L96.1 225.4 L95.2 224.3 L94.3 223.6 L87.6 224.7 L87.4 225.1ZM125.3 219.6 L125.2 220.1 L125.7 221.1 L126.4 222.0 L127.2 222.6 L128.3 223.1 L129.3 223.3 L130.5 223.1 L131.6 222.6 L132.4 222.0 L133.1 221.1 L133.6 220.0 L133.8 219.0 L133.6 217.8 L133.1 216.7 L132.4 215.8 L131.6 215.2 L130.5 214.7 L129.1 214.6 L128.8 214.8ZM54.4 239.2 L51.9 238.0 L41.0 240.4 L40.4 242.1 L40.2 245.0 L40.4 247.9 L41.2 250.5 L42.4 252.9 L44.1 254.7 L45.5 255.5 L46.0 255.5 L52.1 250.7 L55.4 242.0 L55.0 240.1ZM60.8 239.9 L61.3 240.0 L67.0 237.7 L68.3 235.4 L68.2 234.9 L60.7 233.0 L58.1 236.2 L58.7 237.7 L59.6 239.0ZM71.1 234.8 L69.4 238.0 L69.5 238.6 L74.8 244.5 L75.2 244.7 L75.8 244.4 L76.1 244.2 L78.1 239.7 L78.1 239.2 L74.1 233.5 L72.5 233.5ZM89.2 245.0 L89.3 244.4 L89.1 244.2 L83.1 239.8 L82.7 239.7 L80.3 240.3 L78.0 245.3 L78.3 245.9 L81.0 248.9 L82.0 249.3 L87.7 247.5 L88.0 247.3ZM95.6 241.3 L95.9 241.8 L102.1 244.9 L102.9 244.9 L104.4 244.2 L105.7 243.2 L106.3 242.3 L106.3 237.4 L97.7 233.5 L96.2 234.8 L96.0 235.2ZM118.1 234.8 L117.7 234.5 L112.1 233.1 L111.5 233.2 L108.5 237.2 L108.5 241.9 L108.7 242.2 L110.3 243.3 L112.0 243.8 L113.6 244.0 L115.6 243.8 L117.1 243.3 L118.6 242.4 L119.7 241.2 L119.8 240.5ZM120.3 233.7 L120.2 234.1 L121.5 238.4 L122.9 239.5 L129.8 238.4 L130.7 237.5 L131.3 235.9 L131.5 234.6 L131.3 233.1 L130.7 231.5 L129.9 230.4 L128.7 229.5 L127.1 228.9 L125.6 228.7 L123.9 229.1ZM87.9 233.2 L87.3 233.4 L84.8 237.8 L84.8 238.3 L89.4 241.7 L89.8 241.7 L90.7 241.3 L91.6 240.7 L92.4 239.6 L92.8 238.6 L93.0 237.4 L92.9 236.1 L92.4 235.0 L92.0 234.6ZM90.5 248.9 L90.5 249.4 L93.4 254.3 L93.9 254.6 L98.6 253.4 L99.4 252.5 L100.0 251.3 L100.1 250.3 L100.0 249.1 L99.4 247.9 L98.6 246.9 L97.7 246.3 L96.5 245.8 L95.1 245.6 L94.0 245.8 L92.8 246.2 L91.7 247.0 L91.0 247.9ZM110.6 249.3 L110.5 249.8 L115.7 259.8 L117.1 259.7 L118.5 259.0 L119.6 258.0 L119.9 257.4 L120.9 250.8 L120.7 250.0 L119.3 247.8 L118.3 247.0 L117.1 246.4 L112.8 246.9 L111.4 248.0ZM104.7 259.8 L105.9 260.8 L107.0 261.3 L108.3 261.4 L109.5 261.2 L110.6 260.7 L111.6 260.0 L112.2 259.1 L112.4 258.3 L109.2 252.2 L108.1 252.0 L106.9 252.2 L105.9 252.6 L104.9 253.3 L104.2 254.3 L103.7 255.4 L103.6 256.3ZM130.5 249.2 L131.0 248.9 L131.7 247.9 L132.2 246.8 L132.3 245.7 L132.1 244.3 L131.7 243.3 L131.0 242.3 L129.9 241.5 L128.0 241.0 L125.7 241.3 L124.3 242.2 L123.5 243.3 L123.0 244.4 L122.9 245.5 L123.1 246.9 L123.5 247.9 L124.2 248.9 L124.7 249.2ZM124.1 251.3 L123.7 251.5 L123.1 252.4 L122.8 253.2 L122.5 255.1 L122.6 256.2 L123.1 257.4 L123.9 258.5 L125.1 259.4 L126.2 259.9 L127.5 260.0 L129.0 259.9 L130.2 259.3 L131.2 258.6 L132.1 257.4 L132.6 256.3 L132.7 255.0 L132.6 253.5 L132.1 252.4 L131.5 251.5 L131.1 251.3ZM84.7 233.4 L84.8 232.7 L84.4 231.9 L84.1 231.5 L83.7 231.3 L78.6 231.9 L78.3 232.6 L78.1 233.6 L78.6 235.1 L79.2 235.9 L80.6 236.7 L81.6 236.9 L82.4 236.7 L83.1 236.3ZM59.8 227.7 L59.4 226.8 L58.2 225.6 L57.3 225.2 L55.7 225.2 L54.8 225.6 L53.6 226.8 L53.2 227.7 L53.2 229.3 L53.6 230.2 L54.8 231.4 L55.7 231.8 L57.3 231.8 L58.2 231.4 L59.4 230.2 L59.8 229.3ZM57.1 251.0 L57.7 252.2 L62.0 253.8 L62.4 253.8 L63.8 252.9 L64.5 252.1 L64.9 251.0 L64.9 249.3 L62.3 246.2 L61.1 246.0 L59.9 246.1 L59.0 246.5 L58.2 247.1 L57.5 248.0 L57.1 249.0 L57.0 249.9ZM77.7 251.6 L77.3 250.5 L76.0 249.2 L74.9 248.8 L73.1 248.8 L72.0 249.2 L70.7 250.5 L70.3 251.6 L70.3 253.4 L70.7 254.5 L72.0 255.8 L73.1 256.2 L74.9 256.2 L76.0 255.8 L77.3 254.5 L77.7 253.4ZM90.3 254.2 L89.9 253.3 L88.7 252.1 L87.8 251.7 L86.2 251.7 L85.3 252.1 L84.1 253.3 L83.7 254.2 L83.7 255.8 L84.1 256.7 L85.3 257.9 L86.2 258.3 L87.8 258.3 L88.7 257.9 L89.9 256.7 L90.3 255.8ZM68.5 240.8 L67.9 240.6 L66.3 241.1 L65.1 242.3 L64.7 243.2 L64.7 244.8 L65.1 245.7 L66.3 246.9 L67.2 247.3 L68.8 247.3 L69.7 246.9 L70.9 245.7 L71.3 244.8 L71.2 243.8ZM100.7 259.3 L100.4 258.5 L99.5 257.6 L98.7 257.3 L97.3 257.3 L96.5 257.6 L95.6 258.5 L95.3 259.3 L95.3 260.7 L95.6 261.5 L96.5 262.4 L97.3 262.7 L98.7 262.7 L99.5 262.4 L100.4 261.5 L100.7 260.7ZM58.2 254.7 L57.1 254.8 L55.7 255.6 L55.1 256.4 L54.6 257.9 L54.8 258.9 L55.6 260.3 L56.4 260.9 L57.9 261.4 L58.9 261.2 L60.3 260.4 L60.9 259.6 L61.4 258.1 L61.2 257.1 L60.4 255.7ZM48.3 230.2 L47.9 229.3 L46.7 228.1 L45.8 227.7 L44.2 227.7 L43.3 228.1 L42.1 229.3 L41.7 230.2 L41.7 231.8 L42.1 232.7 L43.3 233.9 L44.2 234.3 L45.8 234.3 L46.7 233.9 L47.9 232.7 L48.3 231.8Z" fill="#fdfaf7"/>
<path d="M40 254 L52 255.5 L62 256.5 L70 256 L84 256.5 L96 255.5 L103 257 L107 261 L108 270 L40 270 Z" fill="#fdfaf7"/>
<path d="M40 193 L135 193 L135 197 L100 197.5 L70 197 L55 197.5 L40 199 Z" fill="#fdfaf7" opacity="0.8"/>
</g></g>
<defs><filter id="mb"><feGaussianBlur stdDeviation="2.5"/></filter><mask id="m_n2" maskUnits="userSpaceOnUse" x="130" y="190" width="110" height="90"><g filter="url(#mb)"><rect x="139.0" y="195.4" width="87.6" height="70.9" fill="#606060"/><rect x="139.0" y="195.4" width="58" height="11" fill="#d0d0d0"/><ellipse cx="176" cy="217" rx="27" ry="14" fill="#000"/><ellipse cx="150" cy="217" rx="10" ry="9" fill="#404040"/><path d="M196 203 C210 206 220 212 226.6 222 V266.3 H190 C196 250 200 232 192 212 Z" fill="#f0f0f0"/><path d="M155 234 C170 230 185 232 192 238 L194 266.3 H155 Z" fill="#a0a0a0"/><path d="M139.0 242 H156 V266.3 H139.0 Z" fill="#fff"/><path d="M198 195.4 H216.6 C220.6 205 226.6 208 226.6 214 C214 206 206 202 198 195.4 Z" fill="#202020"/></g></mask></defs>
<g clip-path="url(#cp_n2)"><g filter="url(#ihc)">
<rect x="139.00" y="195.40" width="87.60" height="70.90" fill="#fcfaf8"/>
<path d="M136.0 241 C150 241 156 246 157 269.3 H136.0 Z" fill="#c4acae" filter="url(#mb)"/>
<path d="M145.8 210.5h0M150.1 196.1h0M143.3 198.1h0M176.4 200.3h0M153.3 265.7h0M154.6 201.6h0M188.7 199.2h0M200.0 206.2h0M222.2 262.9h0M203.3 241.5h0M144.1 196.3h0M166.6 231.4h0M198.1 243.5h0M201.9 244.4h0M213.0 263.5h0M199.7 223.5h0M221.1 237.4h0M176.2 225.2h0M218.7 255.1h0M139.3 265.0h0M153.9 231.4h0M143.7 251.5h0M141.8 249.4h0M203.0 230.1h0M204.6 209.8h0M212.6 240.0h0M220.5 212.4h0M167.6 199.4h0M191.9 201.4h0M155.2 260.3h0M153.4 207.4h0M149.9 222.9h0M143.1 213.1h0M166.1 200.6h0M203.8 240.6h0M179.2 202.7h0M188.1 228.6h0M225.6 257.5h0M190.2 241.8h0M147.1 247.5h0M218.0 223.5h0M172.6 227.9h0M206.6 263.5h0M214.7 250.0h0M144.0 259.8h0M169.1 196.8h0M202.0 217.1h0M186.9 235.8h0M147.8 249.6h0M207.3 219.5h0M192.5 263.6h0M221.1 256.0h0M189.5 230.0h0M144.5 242.7h0M204.9 225.5h0M213.6 244.9h0M226.5 264.0h0M146.7 245.7h0M164.9 229.5h0M200.1 228.3h0M223.9 251.8h0M181.3 255.9h0M225.2 249.8h0M216.5 221.3h0M161.6 235.9h0M206.4 216.6h0M155.8 197.6h0M188.8 245.3h0M185.4 223.9h0M151.2 253.6h0M141.6 242.5h0M205.1 238.5h0M217.2 205.2h0M203.8 228.5h0M147.8 228.8h0M226.3 246.9h0M198.4 225.0h0M146.7 222.2h0M224.7 247.0h0M207.3 233.9h0M169.8 242.3h0M141.5 195.7h0M148.1 197.1h0M186.9 224.4h0M169.1 199.9h0M195.9 217.0h0M194.9 255.5h0M152.4 225.4h0M171.3 230.5h0M171.4 259.5h0M211.5 249.2h0M202.4 262.6h0M198.8 244.5h0M208.7 203.8h0M197.7 232.9h0M183.6 236.2h0M187.3 232.5h0M176.5 196.9h0M180.4 230.2h0M185.7 200.1h0M202.9 236.8h0M197.2 260.3h0M196.0 208.0h0M201.6 234.9h0M165.6 200.6h0M203.6 220.2h0M203.9 224.0h0M211.5 247.5h0M143.6 256.5h0M187.8 205.7h0M222.4 235.7h0M146.3 200.2h0M209.5 241.4h0M207.2 225.2h0M188.1 211.0h0M214.6 238.1h0M210.7 230.5h0M213.3 214.4h0M181.3 241.8h0M177.1 239.6h0M161.1 225.6h0M170.8 243.1h0M157.6 202.4h0M192.1 230.3h0M220.3 211.2h0M183.5 228.6h0M219.3 223.0h0M152.5 206.1h0M218.7 226.3h0M144.0 239.8h0M217.9 213.6h0M185.2 257.1h0M203.4 230.1h0M154.8 251.5h0M208.3 213.0h0M144.0 203.5h0M197.7 234.1h0M157.4 199.9h0M193.6 197.2h0M213.8 216.5h0M194.2 265.4h0M218.9 216.9h0M201.1 244.0h0M142.2 231.1h0M140.2 211.9h0M183.0 243.3h0M171.1 229.3h0M141.4 195.7h0M148.8 255.2h0M203.1 235.4h0M145.5 255.7h0M169.3 259.0h0M201.6 217.7h0M141.6 250.5h0M217.5 234.9h0M186.7 240.3h0M149.3 207.5h0M182.4 195.5h0M217.0 212.7h0M146.4 248.0h0M185.8 200.1h0M154.2 246.0h0M160.5 254.2h0M174.4 230.1h0M143.1 253.8h0M178.3 235.7h0M200.3 256.1h0M214.8 248.2h0M208.4 234.4h0M219.6 244.5h0M226.0 255.3h0M142.7 219.6h0M191.7 242.5h0M195.2 242.7h0M193.3 222.3h0M219.4 205.3h0M220.7 208.2h0M143.1 202.4h0M164.2 199.5h0M210.5 253.7h0M177.9 245.9h0M200.5 250.6h0M221.3 256.7h0M214.5 231.5h0M158.3 199.7h0M207.4 257.4h0M170.1 199.9h0M203.2 238.1h0M202.2 222.7h0M221.0 229.9h0M188.6 226.7h0M203.5 218.0h0M156.4 232.2h0" stroke="#9a6048" stroke-width="1.3" stroke-linecap="round" fill="none"/>
<path d="M141.1 198.1h0M206.5 237.0h0M155.3 265.2h0M195.9 255.1h0M214.3 246.4h0M212.8 250.3h0M225.8 252.4h0M204.4 216.6h0M219.2 230.9h0M159.8 201.2h0M197.1 247.3h0M218.4 206.7h0M180.6 195.7h0M210.5 241.5h0M142.2 212.0h0M203.9 254.7h0M218.9 264.1h0M194.0 264.4h0M187.3 235.4h0M175.9 230.4h0M220.0 214.3h0M142.0 242.8h0M178.8 264.1h0M201.0 203.8h0M204.5 221.4h0M151.2 252.2h0M164.2 201.5h0M224.3 239.3h0M197.7 236.0h0M203.6 256.8h0M175.4 243.4h0M209.9 231.9h0M205.4 242.0h0M152.1 247.7h0M181.0 196.6h0M152.1 234.5h0M170.1 253.4h0M198.5 255.7h0M170.0 204.6h0M207.2 254.1h0M206.0 227.2h0M222.8 219.7h0M202.5 234.2h0M141.5 197.6h0M205.2 255.3h0M177.3 242.8h0M190.1 197.8h0M153.8 254.2h0M222.7 254.8h0M221.9 217.7h0M186.3 235.1h0M215.4 215.8h0M189.6 231.7h0M206.0 254.8h0M213.6 211.9h0M196.4 203.3h0M145.0 257.5h0M219.5 265.8h0M169.8 238.2h0M182.8 202.0h0M172.5 238.8h0M201.1 263.1h0M223.7 232.8h0M209.5 201.9h0M152.1 197.6h0M198.7 234.2h0M148.3 263.2h0M205.6 231.6h0M201.4 225.4h0M151.9 199.8h0M143.3 242.2h0M182.4 239.7h0M217.2 217.6h0M173.9 203.2h0M223.6 235.3h0M168.3 244.9h0M199.8 266.1h0M185.5 251.5h0M221.8 238.3h0M209.8 246.9h0M188.0 262.5h0M140.6 257.3h0M208.3 244.8h0M157.5 249.9h0M167.5 241.7h0M205.4 240.0h0M207.3 226.7h0M147.4 260.3h0M207.1 249.5h0M223.9 222.0h0M205.7 245.1h0M177.2 238.5h0M163.3 207.8h0M165.9 246.2h0M208.0 212.9h0M213.5 217.9h0M224.8 204.3h0M209.6 229.7h0M147.0 244.8h0M149.1 254.0h0M174.6 200.6h0M175.4 223.5h0M212.9 206.8h0M145.0 243.0h0M209.0 208.6h0M216.8 230.4h0M217.9 211.6h0M205.9 224.6h0M141.6 226.1h0M221.5 250.9h0M219.7 253.0h0M198.8 204.5h0M215.7 205.7h0M199.6 221.3h0M216.1 231.9h0M139.3 263.9h0M194.3 204.7h0M145.1 198.6h0M222.0 263.6h0M159.8 212.8h0M185.0 196.7h0M211.3 265.5h0M220.7 252.6h0M148.2 233.2h0M157.9 242.0h0M152.8 252.8h0M212.0 227.4h0M217.0 258.3h0M173.1 243.3h0M209.4 247.5h0M207.5 234.6h0M216.9 233.7h0M214.5 249.8h0M139.7 214.0h0M151.8 256.8h0M202.4 226.1h0M212.9 253.4h0M143.9 210.3h0M145.4 231.3h0M220.7 231.2h0M217.3 217.9h0M218.2 233.4h0M178.4 234.4h0M175.8 244.7h0M223.8 237.9h0M186.8 223.8h0M162.8 264.7h0M191.8 238.4h0M152.0 246.8h0M223.8 244.4h0M195.0 218.8h0M149.8 244.8h0M148.5 249.8h0M181.5 244.2h0M200.8 235.6h0M155.9 231.2h0M154.7 264.5h0M200.2 258.9h0M199.8 246.4h0M226.6 204.4h0M140.5 258.6h0M208.6 233.2h0M195.4 225.3h0M223.8 207.2h0M210.3 235.0h0M212.3 220.8h0M221.8 249.3h0M221.8 243.9h0M221.6 223.2h0M141.1 196.0h0M154.5 206.8h0M199.2 209.1h0M215.4 221.2h0M147.8 265.2h0M197.1 247.9h0M221.1 242.6h0M209.5 233.1h0M213.6 244.1h0M196.6 245.0h0M196.4 234.0h0M213.0 256.4h0M182.8 205.5h0M171.6 204.7h0" stroke="#7a4838" stroke-width="1.0" stroke-linecap="round" fill="none"/>
<path d="M222.5 209.7h0M151.1 213.0h0M217.1 222.3h0M155.7 229.4h0M142.8 244.3h0M212.0 224.0h0M186.5 246.7h0M192.8 205.9h0M154.9 205.1h0M223.5 248.2h0M139.5 263.2h0M149.8 198.7h0M141.5 261.9h0M204.6 256.3h0M204.4 245.0h0M225.7 250.3h0M153.5 261.1h0M188.2 200.5h0M187.8 250.5h0M145.4 200.6h0M216.5 250.3h0M213.9 226.7h0M146.3 253.9h0M151.4 262.7h0M226.0 205.3h0M174.0 227.3h0M220.9 264.9h0M164.6 237.9h0M144.5 232.5h0M219.0 199.5h0M216.9 263.4h0M214.7 251.9h0M158.0 263.2h0M220.6 239.9h0M206.7 253.3h0M204.3 224.0h0M218.6 221.7h0M221.0 250.5h0M205.6 223.0h0M200.4 210.7h0M203.2 230.6h0M145.3 251.3h0M223.3 226.9h0M212.0 211.4h0M208.0 226.7h0M150.4 263.9h0M196.7 258.8h0M206.6 237.8h0M195.8 206.4h0M220.6 256.2h0M198.7 248.8h0M208.3 255.2h0M145.4 254.3h0M216.7 252.4h0M211.7 251.8h0M142.8 199.2h0M179.5 243.2h0M196.5 234.1h0M148.4 251.8h0M182.9 206.0h0M209.3 220.8h0M155.4 266.1h0M163.3 239.5h0M192.5 233.3h0M210.3 262.5h0M211.7 217.2h0M202.4 235.2h0M211.9 262.9h0M213.4 240.8h0M143.9 216.3h0M146.3 263.4h0M146.0 235.1h0M215.8 221.9h0M208.5 259.0h0M213.8 208.3h0M188.6 228.7h0M202.8 204.2h0M182.2 198.2h0M201.9 206.5h0M193.3 227.6h0M150.7 243.6h0M214.9 259.9h0M185.4 224.6h0M209.3 250.9h0M144.5 253.6h0M150.7 203.7h0M180.3 245.3h0M202.4 225.6h0M159.8 199.7h0M192.7 198.1h0M149.3 203.0h0M210.7 260.5h0M220.6 230.9h0M221.5 258.2h0M146.8 256.4h0M215.4 222.2h0M197.1 234.2h0M194.6 249.6h0M212.6 225.1h0M222.7 215.9h0M179.1 234.1h0M149.8 262.4h0M225.3 229.5h0M201.0 259.8h0M152.6 224.1h0M187.1 207.5h0M149.6 202.5h0M205.6 227.6h0M148.3 244.4h0M194.6 253.1h0M224.0 256.1h0M201.1 212.9h0M205.9 212.5h0M139.7 240.7h0M141.6 199.4h0M215.3 241.4h0M184.7 198.4h0M193.3 261.3h0M221.7 230.8h0M226.0 231.3h0M139.3 247.3h0M159.6 238.1h0M226.2 251.4h0M196.4 203.6h0M171.7 245.4h0M148.2 257.0h0M205.2 261.2h0M208.2 227.7h0M156.2 252.7h0M224.3 230.9h0M147.0 229.8h0M220.4 198.7h0M206.1 252.0h0M198.3 209.6h0M198.4 221.9h0M142.2 245.3h0M178.2 196.9h0M146.7 242.8h0M201.1 266.2h0M214.2 234.0h0M221.6 259.1h0M153.7 204.0h0M142.4 254.4h0M220.5 217.6h0M144.5 252.3h0M169.5 207.5h0M189.4 196.2h0M145.2 265.7h0M162.4 203.8h0M222.4 207.1h0M220.7 233.0h0M225.8 216.6h0M158.6 252.5h0M206.9 210.0h0M191.8 248.9h0M200.0 239.8h0M153.9 236.1h0M214.4 222.2h0M172.5 225.3h0M221.7 248.0h0M214.7 218.5h0" stroke="#8a5040" stroke-width="1.0" stroke-linecap="round" fill="none"/>
<path d="M224.7 203.3h0M146.7 223.1h0M178.1 225.1h0M200.2 227.1h0M223.6 210.6h0M146.4 202.6h0M167.7 201.6h0M191.5 200.5h0M201.7 221.0h0M166.3 243.8h0M190.2 242.8h0M145.4 264.9h0M154.9 223.9h0M148.2 244.0h0M216.3 259.2h0M187.1 264.0h0M179.8 240.2h0M194.7 197.1h0M223.9 244.5h0M201.6 248.9h0M141.6 261.2h0M216.4 237.8h0M222.0 254.5h0M196.8 232.9h0M150.8 238.5h0M220.2 200.0h0M211.8 231.8h0M175.8 204.7h0M208.5 214.4h0M207.2 224.1h0M172.0 261.8h0M186.8 240.4h0M210.3 242.7h0M204.8 265.9h0M185.6 204.6h0M226.3 246.2h0M219.4 248.7h0M172.3 228.3h0M139.6 239.9h0M145.6 242.2h0M185.1 245.9h0M216.3 237.6h0M144.0 249.2h0M176.0 202.3h0M214.1 221.5h0M204.1 216.5h0M178.7 245.2h0M172.6 226.2h0M146.5 232.0h0M171.1 205.2h0M141.1 208.6h0M181.9 242.4h0M200.4 208.0h0M204.6 233.0h0M171.2 198.5h0M195.3 256.2h0M211.1 260.0h0M199.1 224.0h0M185.4 203.4h0M209.1 223.8h0M197.7 233.4h0M195.2 211.0h0M215.9 231.2h0M206.0 231.3h0M196.3 243.7h0M226.4 263.8h0M152.3 207.3h0M146.0 261.1h0M159.3 200.1h0M198.8 263.4h0M180.2 197.3h0M190.7 195.9h0M190.9 236.1h0M145.7 198.1h0M166.8 195.7h0M208.7 210.5h0M175.7 242.3h0M200.2 204.3h0M186.3 232.3h0M223.9 201.0h0M160.7 233.9h0M139.9 240.3h0M225.2 232.9h0M189.7 240.3h0M209.7 220.8h0M184.8 225.4h0M190.4 199.5h0M189.3 203.4h0M220.1 227.0h0M219.8 251.1h0M212.5 215.6h0M193.1 239.4h0M220.1 229.3h0M140.4 243.2h0M179.3 227.9h0M222.2 249.2h0M190.8 199.7h0M194.1 265.8h0M201.0 249.6h0M212.8 243.6h0M197.6 244.5h0M214.7 207.6h0M147.0 262.4h0M204.0 262.1h0M195.6 237.3h0M223.2 226.3h0M218.8 218.2h0M159.4 229.7h0M199.4 218.9h0M154.1 261.5h0M149.9 253.5h0M212.9 230.8h0M224.7 244.4h0M175.2 240.7h0M207.5 206.0h0M222.9 222.8h0M143.2 247.1h0M202.4 227.5h0M178.9 225.1h0M166.2 244.2h0M209.7 262.9h0M220.5 239.2h0M199.9 257.7h0M219.0 212.3h0M153.1 242.4h0M199.1 211.3h0M178.7 204.6h0M162.2 227.7h0M212.9 261.9h0M217.5 264.1h0M193.4 201.9h0M197.0 265.2h0M216.0 222.3h0M213.5 242.0h0M157.6 241.8h0M182.4 242.5h0M164.5 237.9h0M217.1 209.2h0M220.1 242.7h0M155.6 262.4h0M206.7 228.1h0M159.1 243.1h0M170.1 238.8h0M157.0 237.7h0M161.4 258.7h0M218.5 253.3h0M196.9 264.7h0M218.2 254.0h0M217.8 222.1h0M210.9 216.6h0M217.1 214.4h0M153.2 223.1h0M203.5 242.8h0M199.6 209.5h0M167.8 243.9h0M214.3 251.4h0M174.5 242.4h0M194.4 227.8h0M226.2 242.8h0M196.3 195.7h0M144.0 234.7h0M219.0 266.2h0M142.6 261.1h0M194.5 247.9h0M213.6 208.5h0M212.4 255.5h0M183.5 237.8h0M180.5 261.7h0M144.3 243.9h0M216.6 256.3h0M142.3 198.7h0M189.5 199.7h0M186.7 242.7h0M185.0 201.6h0M213.7 209.8h0M150.0 255.8h0M195.6 252.9h0" stroke="#8a5040" stroke-width="1.3" stroke-linecap="round" fill="none"/>
<path d="M210.3 247.7h0M214.6 239.2h0M139.5 254.2h0M160.3 238.6h0M215.4 244.7h0M207.8 210.8h0M182.2 247.6h0M206.1 239.7h0M195.9 255.0h0M140.1 224.4h0M142.4 215.6h0M216.4 233.2h0M156.5 199.2h0M201.7 230.8h0M179.7 238.5h0M161.9 204.0h0M143.8 258.8h0M191.0 233.0h0M224.1 227.9h0M147.9 248.4h0M224.8 236.6h0M207.1 215.7h0M198.8 241.3h0M192.3 202.1h0M208.6 241.9h0M216.8 205.2h0M204.7 229.1h0M165.6 243.6h0M184.9 229.0h0M176.9 227.8h0M140.0 246.3h0M217.3 234.5h0M220.7 237.3h0M217.6 211.5h0M194.6 205.1h0M206.2 232.9h0M197.8 258.4h0M171.4 227.4h0M144.5 202.0h0M202.1 262.6h0M210.8 213.7h0M200.9 258.1h0M189.8 232.1h0M211.2 257.0h0M202.2 260.8h0M193.2 235.2h0M171.4 201.5h0M219.9 236.8h0M217.0 245.0h0M203.6 261.3h0M142.4 200.6h0M192.9 228.8h0M225.5 237.4h0M220.5 236.2h0M209.8 222.0h0M205.9 244.4h0M200.4 198.1h0M212.4 250.9h0M153.6 254.1h0M192.3 204.6h0M143.1 249.6h0M148.1 264.4h0M180.7 235.9h0M140.2 247.3h0M199.3 258.4h0M207.0 241.3h0M193.8 225.6h0M185.7 246.5h0M204.2 224.1h0M209.6 205.3h0M209.8 220.7h0M192.1 221.6h0M221.1 221.5h0M154.7 196.1h0M144.1 238.2h0M219.9 213.8h0M141.3 247.9h0M169.8 234.3h0M226.0 224.7h0M205.0 226.9h0M218.0 258.2h0M216.7 235.4h0M209.8 244.2h0M145.7 252.3h0M140.1 266.1h0M223.7 222.0h0M158.5 242.9h0M215.0 245.0h0M216.8 221.5h0M213.2 221.8h0M211.8 253.2h0M223.9 238.2h0M226.4 256.6h0M209.4 238.4h0M152.0 225.0h0M143.4 256.5h0M205.2 211.1h0M204.6 258.4h0M207.7 215.2h0M149.5 227.2h0M211.3 240.6h0M170.5 202.1h0M169.4 204.6h0M219.7 259.9h0M145.5 250.0h0M223.4 245.9h0M151.6 262.2h0M211.4 227.0h0M211.0 209.2h0M217.6 211.2h0M159.5 239.3h0M211.6 213.4h0M200.7 259.7h0M144.0 253.7h0M216.3 249.2h0M220.8 222.9h0M168.5 204.5h0M203.9 263.0h0M142.2 257.2h0M153.0 249.6h0M183.6 259.8h0M184.5 238.0h0M159.5 200.6h0M208.3 206.6h0M142.4 249.3h0M177.4 229.8h0M144.1 253.0h0M164.0 200.6h0M146.5 229.6h0M224.0 219.8h0M215.9 213.7h0M152.9 263.1h0M149.3 201.6h0M223.5 245.2h0M185.2 233.2h0M200.5 205.9h0M222.8 225.6h0M147.1 198.2h0M204.8 209.5h0M194.6 239.7h0M212.0 236.8h0M206.6 205.0h0M147.3 265.4h0M198.7 209.9h0M164.4 203.2h0M180.4 201.0h0M225.7 258.6h0M197.9 244.2h0M187.6 239.4h0M211.6 215.9h0M222.9 248.6h0M180.8 236.1h0M177.1 205.3h0M166.8 254.6h0M217.5 236.7h0M218.5 251.9h0M221.5 235.2h0M189.1 245.1h0M208.8 264.2h0M155.8 261.7h0M166.2 204.0h0M193.6 199.1h0M144.9 248.4h0M221.0 223.6h0M155.7 201.0h0M204.8 253.9h0M217.6 210.1h0M210.2 259.6h0M196.6 233.4h0M145.8 251.6h0M149.1 264.7h0M157.6 244.7h0M175.4 245.3h0M169.4 237.6h0M223.4 243.0h0M218.8 227.4h0M170.2 241.3h0M217.7 231.4h0M201.4 237.3h0M164.7 204.1h0M195.3 236.0h0M185.5 260.4h0M203.8 246.2h0M183.4 237.3h0M218.3 233.2h0M223.0 234.3h0M201.1 262.7h0M140.7 254.5h0M194.0 208.2h0M199.6 257.1h0M220.6 225.3h0M186.1 232.8h0M141.3 253.0h0M200.3 213.1h0M201.5 264.7h0M222.4 212.6h0M211.5 246.0h0M193.3 199.3h0M203.4 239.0h0M147.8 195.6h0" stroke="#6a3c34" stroke-width="1.0" stroke-linecap="round" fill="none"/>
<path d="M156.0 198.0h0M201.5 264.9h0M224.6 212.9h0M197.3 236.2h0M159.5 235.2h0M173.4 196.0h0M224.7 255.8h0M221.3 229.2h0M209.7 231.1h0M165.2 197.0h0M206.7 210.8h0M204.6 209.2h0M151.9 234.5h0M161.3 252.6h0M153.2 198.3h0M150.4 200.9h0M205.2 226.6h0M204.7 243.5h0M155.2 252.0h0M168.6 256.0h0M206.4 230.9h0M206.9 215.6h0M203.3 255.9h0M146.8 225.3h0M205.6 231.4h0M200.6 254.7h0M209.0 230.5h0M165.8 251.3h0M202.2 256.3h0M200.6 219.3h0M213.3 205.0h0M170.7 236.2h0M211.0 205.8h0M190.8 234.6h0M205.4 250.0h0M209.2 220.8h0M200.3 228.0h0M140.0 205.5h0M149.3 253.1h0M172.3 202.2h0M208.7 208.1h0M222.9 258.2h0M221.9 264.5h0M207.8 211.5h0M204.3 256.7h0M142.0 256.0h0M222.2 218.3h0M214.0 241.5h0M225.3 197.9h0M196.1 241.5h0M219.0 240.9h0M190.0 219.5h0M211.5 214.9h0M146.5 265.8h0M170.3 257.7h0M201.2 252.5h0M221.3 241.9h0M187.3 254.5h0M213.0 209.5h0M168.7 202.0h0M176.5 246.4h0M210.5 216.2h0M219.3 218.2h0M202.8 236.3h0M141.5 245.9h0M211.0 245.9h0M204.1 224.3h0M220.5 213.1h0M159.2 226.8h0M143.9 242.3h0M176.4 196.8h0M221.8 246.4h0M160.7 199.5h0M193.0 205.1h0M212.4 244.9h0M163.5 263.2h0M204.2 213.0h0M153.4 242.4h0M215.8 204.7h0M222.9 243.3h0M221.2 217.9h0M164.1 201.0h0M145.6 250.2h0M162.0 214.3h0M203.7 265.3h0M158.5 254.9h0M223.0 244.5h0M188.5 258.0h0M150.3 251.2h0M152.4 196.4h0M226.5 222.8h0M216.3 206.4h0M226.2 229.8h0M209.2 209.3h0M153.1 200.7h0M217.6 203.5h0M146.4 250.2h0M139.8 249.3h0M183.1 232.8h0M198.5 249.3h0M177.2 199.2h0M206.5 263.3h0M148.5 258.4h0M212.7 245.9h0M167.0 244.3h0M219.3 232.1h0M200.6 247.4h0M176.1 201.7h0M166.8 237.6h0M188.8 225.5h0M181.2 238.6h0M203.4 207.1h0M166.8 225.1h0M183.0 235.1h0M195.6 245.3h0M178.3 245.4h0M212.7 262.4h0M211.5 241.9h0M205.0 225.1h0M214.9 217.5h0M213.7 231.5h0M170.1 233.6h0M145.9 245.5h0M145.1 238.5h0M210.8 228.0h0M200.9 248.5h0M193.0 261.2h0M191.9 224.3h0M148.0 250.5h0M153.9 229.0h0M193.2 248.9h0M210.9 206.7h0M154.6 200.6h0M216.0 214.5h0M215.2 260.5h0M163.8 243.7h0M213.5 246.9h0M199.4 243.2h0M214.0 220.7h0M204.5 202.9h0M147.2 220.9h0M155.9 196.9h0M157.4 264.3h0M212.9 240.1h0M207.3 228.8h0M207.8 224.9h0M225.2 240.1h0M204.8 245.4h0M192.8 200.0h0M220.1 251.6h0M139.2 216.3h0M208.6 235.1h0M145.2 254.6h0M216.0 256.8h0M225.4 257.1h0M148.5 254.9h0M199.6 210.8h0M208.9 222.1h0M174.0 201.9h0M163.8 264.6h0M221.4 223.0h0M205.0 228.4h0M155.3 249.4h0M159.3 224.4h0M205.6 211.9h0M202.7 262.9h0M140.7 252.0h0M220.9 243.8h0M224.3 251.8h0M182.3 227.7h0M156.3 196.5h0M163.2 234.1h0M215.5 240.4h0M143.9 247.3h0M188.2 247.4h0M174.9 247.6h0M225.8 236.9h0" stroke="#6a3c34" stroke-width="1.3" stroke-linecap="round" fill="none"/>
<path d="M219.8 227.8h0M149.4 254.6h0M149.5 248.3h0M154.5 238.8h0M141.8 258.6h0M168.3 199.7h0M216.8 256.3h0M184.3 225.6h0M139.2 260.4h0M153.8 204.0h0M188.3 263.0h0M202.4 260.0h0M221.5 201.9h0M166.5 263.4h0M171.1 231.8h0M184.5 204.2h0M205.7 236.2h0M209.8 252.2h0M203.2 203.6h0M169.1 200.6h0M221.7 215.7h0M215.9 258.5h0M213.7 219.6h0M203.5 211.6h0M199.2 214.1h0M144.6 245.9h0M151.9 196.3h0M169.2 202.0h0M173.9 255.4h0M143.7 208.9h0M148.1 244.3h0M210.6 229.8h0M221.3 237.9h0M187.4 200.8h0M207.3 246.6h0M220.2 195.4h0M183.5 227.6h0M153.0 198.7h0M153.2 198.4h0M213.3 219.6h0M157.9 257.4h0M202.2 216.8h0M209.1 256.4h0M148.0 249.8h0M204.8 220.2h0M190.0 233.3h0M183.6 201.8h0M217.4 218.2h0M223.3 212.9h0M218.7 198.6h0M225.0 237.2h0M171.6 244.3h0M200.6 205.6h0M206.3 225.8h0M213.9 243.7h0M157.9 226.7h0M206.1 252.7h0M214.1 208.9h0M139.8 258.4h0M155.0 229.8h0M206.4 234.3h0M195.5 237.9h0M154.4 203.8h0M217.4 255.0h0M182.8 260.8h0M156.6 235.3h0M139.4 205.5h0M147.4 256.6h0M193.2 258.2h0M144.5 246.0h0M207.8 258.6h0M212.5 221.1h0M213.0 242.1h0M222.3 203.1h0M201.1 263.8h0M142.9 259.6h0M180.9 228.2h0M223.4 206.2h0M186.3 231.7h0M210.1 234.2h0M217.0 223.3h0M202.3 231.6h0M210.8 256.1h0M172.2 240.8h0M147.9 201.9h0M223.9 257.2h0M209.2 249.6h0M144.4 247.3h0M200.4 244.6h0M195.8 245.2h0M149.3 247.7h0M160.6 235.1h0M225.2 246.9h0M206.7 257.2h0M193.7 216.0h0M207.3 256.8h0M193.2 244.9h0M158.8 237.6h0M201.5 229.6h0M208.4 255.8h0M220.3 213.6h0M150.9 258.4h0M208.7 265.0h0M143.2 243.9h0M219.4 233.2h0M141.2 236.3h0M159.8 231.3h0M149.6 266.1h0M194.7 223.0h0M211.6 218.9h0M217.5 255.1h0M202.9 217.3h0M148.5 242.3h0M199.9 225.5h0M145.2 232.7h0M210.1 241.2h0M196.7 223.5h0M213.8 223.0h0M164.1 228.7h0M147.2 201.4h0M210.4 233.2h0M140.8 239.1h0M144.6 263.4h0M172.5 236.0h0M202.5 213.5h0M212.3 260.9h0M150.8 225.8h0M211.7 250.0h0M175.4 199.9h0M144.6 264.1h0M219.3 195.9h0M163.0 244.0h0M174.6 203.6h0M146.8 202.2h0M151.5 261.9h0M201.2 265.8h0M193.6 220.1h0M159.3 251.4h0M210.1 247.4h0M147.0 251.7h0M221.7 263.1h0M172.1 244.7h0M197.8 256.6h0M161.2 228.1h0M224.7 214.6h0M148.7 244.7h0M206.8 203.7h0M150.3 246.5h0M208.1 249.5h0M190.2 235.3h0M211.9 233.2h0M183.2 231.5h0M213.3 242.0h0M152.6 258.7h0M164.8 202.4h0M205.9 214.4h0M214.1 240.2h0M187.8 228.4h0M162.6 239.0h0M195.8 248.6h0M147.0 265.6h0M203.0 265.2h0M199.0 263.2h0M148.6 240.9h0M225.9 251.5h0M203.7 261.3h0M146.3 246.4h0M156.9 260.3h0M198.3 260.9h0M158.3 243.2h0M215.8 243.0h0M202.4 215.5h0M216.4 204.8h0M224.0 240.5h0M216.7 213.9h0M214.9 242.9h0M159.1 196.3h0M199.5 244.6h0M205.7 229.4h0M215.9 210.8h0M188.3 242.5h0M165.0 232.3h0M202.7 218.6h0M196.3 265.4h0M180.6 201.7h0M206.2 203.3h0M221.7 257.9h0M146.3 203.5h0M142.2 203.5h0M218.7 249.3h0M223.4 252.7h0M220.6 222.0h0M198.4 215.3h0M141.3 233.7h0" stroke="#7a4838" stroke-width="1.3" stroke-linecap="round" fill="none"/>
<path d="M202.2 243.2h0M225.0 211.7h0M145.7 255.8h0M225.7 208.6h0M199.2 260.5h0M176.0 237.7h0M140.9 251.0h0M225.9 259.3h0M152.5 255.2h0M209.2 213.3h0M179.8 234.0h0M154.5 251.4h0M164.1 227.1h0M213.6 264.3h0M197.3 245.5h0M155.0 247.5h0M192.5 208.4h0M222.4 252.2h0M214.5 248.3h0M157.0 264.2h0M161.5 263.8h0M195.9 203.6h0M222.8 254.2h0M182.2 201.1h0M144.0 201.0h0M222.0 209.9h0M209.1 213.5h0M214.6 252.3h0M201.4 251.3h0M188.0 205.8h0M154.4 236.9h0M194.2 258.6h0M203.3 252.1h0M222.0 241.4h0M199.3 250.4h0M189.3 241.2h0M204.1 213.9h0M185.3 229.8h0M202.4 245.1h0M203.0 223.2h0M202.8 261.7h0M174.4 205.2h0M163.2 225.2h0M196.5 260.9h0M207.6 217.0h0M183.0 204.9h0M163.3 227.4h0M211.6 204.9h0M219.8 217.9h0M170.6 199.0h0M145.6 243.0h0M226.6 248.8h0M225.8 257.7h0M165.7 255.4h0M221.9 235.7h0M224.1 224.8h0M218.6 233.8h0M142.7 265.9h0M151.3 251.8h0M210.5 219.6h0M160.4 265.8h0M199.3 231.6h0M223.9 229.7h0M224.1 224.7h0M195.7 258.8h0M156.4 227.3h0M200.4 240.4h0M161.0 231.4h0M195.9 247.0h0M149.7 206.6h0M222.4 263.6h0M187.1 230.7h0M189.3 220.0h0M217.5 254.1h0M207.4 256.1h0M179.9 232.4h0M224.6 224.2h0M142.9 266.1h0M205.8 252.1h0M192.5 231.5h0M225.7 222.5h0M187.0 202.6h0M156.5 246.9h0M170.2 200.7h0M185.4 251.6h0M154.1 249.2h0M161.8 241.4h0M200.0 231.2h0M204.7 237.4h0M225.3 265.5h0M192.9 208.2h0M222.6 240.9h0M196.4 221.4h0M154.7 205.1h0M226.2 264.0h0M145.0 258.1h0M215.8 216.0h0M206.2 253.2h0M159.7 203.9h0M224.9 226.2h0M211.6 256.5h0M164.6 198.7h0M161.1 228.7h0M188.9 233.5h0M210.4 233.8h0M226.2 201.2h0M148.4 200.5h0M140.8 250.3h0M220.6 213.4h0M139.1 228.9h0M203.5 226.4h0M211.7 242.4h0M175.2 197.5h0M200.2 219.8h0M201.6 259.1h0M199.2 218.0h0M212.7 221.1h0M202.6 261.4h0M203.8 232.2h0M141.4 245.7h0M155.9 199.9h0M177.8 239.3h0M182.5 235.4h0M189.7 203.7h0M185.5 253.3h0M153.0 248.7h0M151.3 259.9h0M160.5 201.1h0M198.4 228.3h0M218.8 225.0h0M181.3 201.2h0M191.3 242.6h0M148.5 251.0h0M184.4 199.8h0M212.0 245.2h0M219.5 226.9h0M140.3 260.9h0M185.7 237.4h0M207.6 215.2h0M194.4 256.2h0M218.6 214.2h0M154.5 239.4h0M202.8 264.6h0M148.6 260.2h0M221.6 247.5h0M214.8 249.6h0M198.4 257.5h0M183.5 203.0h0M219.4 254.8h0M159.7 254.2h0M157.6 224.0h0M203.2 205.8h0M167.6 240.1h0M214.9 231.8h0M219.9 256.6h0M222.4 202.9h0M193.9 265.6h0M213.8 221.3h0M170.2 238.0h0M144.4 199.9h0M196.6 264.3h0M210.7 256.4h0M163.5 204.8h0M162.6 246.1h0M202.1 234.2h0M172.8 201.1h0M204.6 209.4h0M223.5 206.8h0M208.4 265.7h0M206.2 261.8h0M222.8 214.8h0" stroke="#b07860" stroke-width="1.0" stroke-linecap="round" fill="none"/>
<path d="M225.9 231.1h0M151.1 263.9h0M202.3 254.5h0M196.7 238.9h0M209.8 236.2h0M202.3 240.1h0M155.6 263.7h0M151.9 229.7h0M223.5 198.5h0M202.4 222.8h0M220.1 226.6h0M221.8 216.3h0M197.7 214.1h0M224.7 205.8h0M212.6 259.3h0M218.0 213.7h0M221.5 205.9h0M201.2 251.7h0M185.8 232.0h0M193.2 232.1h0M145.9 249.6h0M188.8 223.9h0M189.7 232.0h0M186.6 228.4h0M222.1 223.6h0M193.1 235.0h0M195.5 209.6h0M201.9 217.4h0M168.6 226.6h0M160.0 253.2h0M176.0 235.2h0M201.5 228.1h0M223.9 258.7h0M209.8 222.2h0M203.4 266.0h0M196.3 247.5h0M210.4 251.8h0M223.6 217.7h0M219.5 262.2h0M196.4 261.3h0M163.0 233.9h0M155.2 263.6h0M144.7 197.1h0M143.3 258.1h0M165.2 231.6h0M163.9 266.1h0M167.5 196.4h0M202.4 256.6h0M225.3 213.2h0M139.6 225.6h0M147.9 199.4h0M141.4 201.5h0M207.3 236.6h0M168.8 239.8h0M144.3 263.3h0M195.9 240.4h0M208.8 254.1h0M150.3 196.2h0M198.0 219.9h0M220.7 263.0h0M223.6 201.6h0M184.4 199.4h0M216.6 234.6h0M218.7 243.9h0M177.9 205.7h0M143.0 202.7h0M206.5 213.2h0M219.9 241.8h0M224.2 204.2h0M198.3 204.5h0M190.8 221.9h0M209.4 220.0h0M201.8 228.2h0M151.6 258.6h0M217.3 228.7h0M174.8 225.0h0M159.3 229.4h0M214.7 259.9h0M223.3 249.3h0M210.0 232.8h0M146.5 220.6h0M146.5 240.3h0M159.5 230.5h0M224.1 249.6h0M153.6 251.6h0M217.2 228.5h0M182.0 195.5h0M143.0 258.4h0M149.6 232.4h0M142.2 257.2h0M182.1 240.5h0M179.2 249.3h0M159.8 195.9h0M216.8 220.4h0M199.5 247.1h0M182.2 225.9h0M207.5 219.2h0M198.0 236.8h0M226.3 202.7h0M202.3 203.3h0M202.9 225.9h0M143.5 202.0h0M154.9 243.1h0M223.3 220.4h0M156.7 237.9h0M207.7 236.9h0M141.7 221.9h0M148.1 230.1h0M210.4 215.1h0M181.9 255.6h0M207.5 239.6h0M182.3 236.2h0M155.0 263.3h0M141.5 246.2h0M206.4 234.7h0M211.8 203.5h0M187.6 225.3h0M206.7 249.4h0M205.2 253.2h0M161.3 238.8h0M221.8 264.7h0M175.6 197.9h0M220.3 223.0h0M140.8 243.5h0M202.7 219.2h0M149.4 204.3h0M206.5 253.5h0M153.1 259.2h0M210.7 222.3h0M187.0 207.2h0M218.9 200.1h0M210.8 263.1h0M147.4 202.3h0M154.5 205.5h0M150.3 259.9h0M160.4 200.0h0M148.5 209.7h0M223.9 217.9h0M163.8 251.0h0M198.6 253.4h0M205.0 224.8h0M214.4 232.3h0M166.3 204.9h0M157.3 251.2h0M195.9 224.1h0M147.3 255.9h0M193.1 238.2h0M152.8 199.3h0M221.9 231.0h0M174.3 203.2h0M224.9 198.4h0M221.8 251.3h0M212.0 203.4h0M157.7 225.2h0M194.9 261.8h0M141.2 237.9h0M172.2 245.4h0M157.6 234.8h0M167.1 204.9h0M207.3 258.3h0M217.1 212.7h0M214.2 249.2h0M201.0 258.6h0M173.4 246.2h0M211.1 254.2h0M148.9 249.3h0M172.7 201.3h0M211.8 240.6h0M221.4 249.4h0M188.2 235.3h0M175.4 199.3h0M221.3 233.4h0M212.5 254.8h0M191.6 242.4h0M198.7 223.5h0M222.1 235.6h0M199.1 224.7h0" stroke="#9a6048" stroke-width="1.0" stroke-linecap="round" fill="none"/>
<path d="M163.7 204.8h0M139.9 263.3h0M219.4 199.5h0M200.9 211.1h0M149.4 262.1h0M210.4 228.1h0M140.3 265.7h0M221.1 247.4h0M202.7 224.2h0M220.4 222.7h0M205.2 219.6h0M196.0 264.1h0M155.5 262.8h0M218.2 219.1h0M202.9 258.8h0M203.5 243.0h0M221.0 243.5h0M224.0 209.0h0M200.3 213.9h0M220.5 202.0h0M212.6 210.3h0M161.7 200.1h0M160.1 254.8h0M203.7 244.0h0M143.3 250.4h0M162.6 229.6h0M218.2 218.3h0M140.0 248.4h0M152.7 258.4h0M213.4 257.5h0M214.7 249.7h0M217.4 218.8h0M153.9 244.8h0M211.1 210.1h0M147.7 210.0h0M200.9 197.2h0M139.9 252.0h0M185.7 240.7h0M173.9 241.3h0M190.8 200.6h0M151.4 254.7h0M215.5 235.0h0M159.5 265.3h0M145.1 221.8h0M202.5 215.4h0M200.9 251.0h0M206.8 213.6h0M195.9 212.2h0M207.5 213.9h0M206.1 239.6h0M201.4 215.4h0M147.6 219.6h0M192.6 229.7h0M209.9 231.1h0M208.6 208.0h0M214.9 233.7h0M182.3 238.2h0M198.1 244.4h0M223.2 241.3h0M200.6 214.8h0M198.2 205.1h0M221.3 234.1h0M162.5 232.2h0M148.1 255.5h0M186.4 197.6h0M169.3 228.9h0M140.8 265.9h0M160.1 234.9h0M209.6 260.7h0M185.2 240.2h0M219.6 259.0h0M213.3 214.3h0M221.4 257.2h0M215.9 204.0h0M204.9 265.4h0M175.7 203.8h0M162.6 259.2h0M149.3 237.3h0M166.5 246.3h0M166.5 258.4h0M226.3 212.6h0M174.1 231.9h0M220.2 242.3h0M176.7 238.7h0M202.9 242.6h0M177.3 199.4h0M151.5 203.3h0M167.4 245.3h0M209.5 254.2h0M151.7 245.5h0M176.0 236.8h0M216.6 254.6h0M222.7 241.0h0M154.7 225.2h0M223.9 206.2h0M157.8 247.8h0M142.8 263.6h0M201.4 217.6h0M197.6 229.6h0M147.2 253.2h0M218.1 233.6h0M220.8 227.6h0M208.9 263.2h0M176.2 228.6h0M149.7 264.0h0M193.0 209.9h0M206.2 236.2h0M215.5 254.4h0M191.2 203.5h0M222.3 201.6h0M221.3 196.0h0M224.5 250.6h0M153.9 224.1h0M158.8 253.1h0M223.9 202.9h0M187.9 231.9h0M221.1 217.5h0M154.9 204.6h0M140.3 205.3h0M202.0 242.1h0M212.3 246.4h0M159.1 257.4h0M149.2 196.7h0M200.9 249.1h0M145.0 259.4h0M145.6 224.5h0M225.0 207.5h0M225.7 195.9h0M146.1 200.8h0M169.0 203.1h0M168.0 228.2h0M168.1 251.9h0M202.9 242.4h0M187.4 243.6h0M222.1 198.4h0M201.0 230.3h0M139.2 195.9h0M152.1 264.6h0M163.2 226.5h0M146.5 253.9h0M193.7 208.8h0M203.4 206.1h0M154.5 244.9h0M217.9 264.4h0M203.5 254.6h0M216.6 248.2h0M149.4 228.0h0M213.4 232.9h0M152.5 223.1h0M212.7 248.0h0M207.3 251.7h0M159.9 253.9h0M200.5 259.0h0M155.3 251.5h0M142.3 249.4h0M195.2 242.7h0M191.5 204.1h0M170.8 264.1h0M218.1 231.1h0M215.3 253.5h0M226.2 246.5h0M150.5 261.2h0M222.4 240.4h0M144.9 247.1h0M162.0 204.8h0M201.6 245.1h0M209.4 241.8h0M201.5 243.2h0M195.6 250.4h0M142.0 217.9h0" stroke="#b07860" stroke-width="1.3" stroke-linecap="round" fill="none"/>
</g></g>
<g clip-path="url(#cp_n3)"><g filter="url(#ihc)">
<rect x="233.80" y="195.80" width="86.80" height="70.50" fill="#d8c6bc"/>
<path d="M283.3 240.4h0M315.7 240.6h0M274.0 225.6h0M287.8 216.0h0M255.7 226.4h0M296.1 228.7h0M234.8 240.4h0M312.8 244.6h0M300.9 203.4h0M236.4 234.4h0M310.7 211.5h0M271.0 249.5h0M307.9 232.2h0M305.0 241.3h0M280.1 211.7h0M315.5 239.9h0M290.1 259.1h0M303.1 233.5h0M251.8 230.3h0M307.7 219.4h0M293.1 200.2h0M294.5 236.7h0M316.4 244.8h0M312.2 209.3h0M246.6 258.9h0M265.8 216.4h0M245.6 224.9h0M284.2 261.3h0M306.1 256.0h0M243.9 222.7h0M294.4 261.7h0M312.5 235.8h0M307.6 207.9h0M304.7 241.0h0M307.6 212.6h0M267.2 251.3h0M239.4 237.3h0M256.5 220.8h0M308.4 247.5h0M276.4 212.8h0M272.5 211.1h0M310.8 265.7h0M244.4 264.6h0M276.7 215.9h0M288.5 212.3h0M239.3 266.0h0M267.3 242.3h0M281.4 224.0h0M271.6 258.3h0M295.5 230.4h0M254.8 215.8h0M259.6 215.5h0M301.8 253.0h0M241.2 220.7h0M299.4 266.1h0M311.2 240.0h0M276.0 210.5h0M293.4 225.3h0M252.8 219.1h0M283.4 256.2h0M283.8 217.2h0M265.4 225.3h0M318.5 255.2h0M254.4 252.2h0M317.6 250.9h0M264.9 265.0h0M281.8 218.6h0M303.2 215.1h0M314.5 262.7h0M315.0 223.9h0M239.8 211.9h0M275.5 223.9h0M295.9 221.6h0M246.8 220.0h0M312.0 262.7h0M261.0 259.2h0M284.6 212.4h0M292.1 251.1h0M234.9 237.1h0M234.5 215.5h0M310.8 228.4h0M281.4 242.2h0M262.9 208.1h0M248.4 243.2h0M295.2 243.5h0M300.9 205.1h0M301.9 245.4h0M258.2 246.7h0M282.9 211.1h0M280.8 257.5h0M300.8 216.4h0M261.9 219.4h0M309.6 232.5h0M292.7 257.4h0M273.3 240.1h0M275.7 227.7h0M296.8 204.3h0M317.1 243.4h0M301.6 262.6h0M279.4 250.8h0M277.8 233.6h0M246.1 215.2h0M257.4 229.8h0M267.4 236.6h0M276.4 216.5h0M283.6 200.6h0M310.7 243.7h0M261.9 247.9h0M289.0 217.7h0M277.2 205.0h0M260.4 264.0h0M296.2 202.8h0M247.4 247.6h0M274.2 206.6h0M294.3 222.3h0M297.6 203.0h0M240.6 252.8h0M287.1 207.7h0M287.3 201.0h0M240.0 224.6h0M264.8 234.8h0M305.0 251.3h0M246.9 242.1h0M250.1 266.1h0M319.5 245.1h0M293.1 206.6h0M249.9 251.9h0M309.4 255.1h0M292.5 212.3h0M252.4 205.8h0M270.9 205.6h0M259.5 223.8h0M293.4 238.6h0M279.0 206.9h0M266.9 232.1h0M274.3 214.1h0M268.2 198.8h0M293.3 252.2h0M273.2 265.1h0M261.6 201.2h0M309.9 222.4h0M285.6 225.8h0M302.6 208.1h0M306.8 226.7h0M293.4 201.7h0M301.7 246.1h0M251.8 221.2h0M281.7 244.9h0M302.8 214.1h0M297.3 261.2h0M264.2 214.7h0M317.1 238.4h0M245.0 254.6h0M242.8 245.3h0M286.9 263.7h0M273.1 226.0h0M279.0 215.5h0M308.8 224.2h0M294.0 199.6h0M289.5 246.0h0M308.7 197.0h0M308.7 215.2h0M299.7 265.1h0M310.0 219.2h0M253.7 214.5h0M276.4 221.9h0M293.4 212.8h0M284.6 206.2h0M284.7 238.2h0M240.8 208.7h0M319.3 207.5h0M250.8 210.7h0M279.5 218.5h0M262.2 240.6h0M245.0 207.3h0M297.5 198.8h0M306.2 251.6h0M308.7 235.6h0M291.5 261.9h0M315.5 226.7h0M268.7 215.4h0M253.4 201.3h0M280.2 229.4h0M271.8 219.1h0M250.4 225.6h0M276.0 231.2h0M308.9 222.7h0M277.9 239.1h0M303.8 247.8h0M317.9 236.6h0M286.4 247.7h0M250.7 248.8h0M245.4 235.4h0M242.0 207.1h0M304.6 196.9h0M248.4 206.3h0M300.0 210.5h0M247.5 250.0h0M285.4 232.3h0M316.1 258.4h0M252.0 238.4h0M242.8 244.6h0M308.8 266.1h0M315.2 235.5h0M274.7 218.3h0M258.6 257.4h0M295.7 229.2h0M255.4 259.0h0M271.4 221.3h0M303.3 211.4h0M292.8 245.0h0M236.4 227.7h0M318.1 248.3h0M287.3 224.7h0M289.4 256.4h0M300.7 234.4h0" stroke="#a08070" stroke-width="1.3" stroke-linecap="round" fill="none"/>
<path d="M277.5 263.9h0M257.7 210.1h0M285.7 251.5h0M291.7 213.0h0M239.4 243.7h0M292.5 219.4h0M279.8 205.5h0M241.0 253.7h0M307.2 230.9h0M284.8 245.6h0M269.8 196.8h0M256.3 265.5h0M237.8 210.5h0M300.9 228.6h0M301.5 224.9h0M270.7 253.7h0M312.6 234.7h0M236.2 254.7h0M319.7 197.4h0M278.5 215.2h0M259.1 228.2h0M297.4 214.7h0M291.9 211.3h0M275.4 254.2h0M285.2 202.2h0M264.4 210.8h0M270.3 262.4h0M307.3 241.6h0M282.6 252.9h0M281.9 207.6h0M246.7 197.1h0M264.0 226.5h0M272.6 221.5h0M280.0 209.8h0M291.1 255.2h0M262.9 263.6h0M293.8 250.1h0M252.0 230.3h0M251.5 246.8h0M305.2 217.4h0M237.9 230.7h0M239.5 240.3h0M304.0 236.1h0M303.0 236.5h0M298.9 239.5h0M236.4 256.5h0M310.3 231.5h0M272.8 252.5h0M281.5 241.0h0M302.3 266.2h0M255.3 221.0h0M306.6 211.2h0M258.1 239.0h0M297.0 222.7h0M308.6 251.8h0M243.4 218.0h0M306.0 202.9h0M320.1 197.3h0M310.1 201.5h0M253.6 252.7h0M239.0 251.0h0M276.8 204.6h0M314.6 241.3h0M265.7 219.0h0M263.3 236.2h0M283.4 209.5h0M274.1 216.7h0M265.7 231.2h0M306.3 229.7h0M303.3 233.0h0M289.3 219.4h0M279.9 257.6h0M279.7 229.4h0M253.6 201.4h0M293.2 259.1h0M239.6 226.4h0M235.3 251.3h0M288.3 252.6h0M253.4 202.2h0M295.0 220.1h0M278.4 215.4h0M253.4 245.5h0M264.1 241.5h0M298.9 198.4h0M242.1 242.1h0M271.3 263.4h0M287.1 212.2h0M291.8 254.0h0M246.8 222.5h0M280.5 204.9h0M269.1 225.0h0M281.0 252.0h0M245.1 248.2h0M276.3 219.9h0M252.7 230.2h0M265.9 226.6h0M281.3 244.1h0M305.8 228.7h0M286.1 228.8h0M272.1 209.8h0M308.8 208.6h0M236.9 252.6h0M295.2 213.3h0M275.6 235.0h0M236.5 237.0h0M313.9 247.6h0M278.2 217.7h0M274.4 237.7h0M256.6 250.3h0M260.1 236.2h0M309.8 210.2h0M320.6 197.7h0M288.2 224.9h0M305.6 203.7h0M297.6 208.3h0M304.0 262.0h0M310.6 219.2h0M312.4 228.6h0M249.6 201.7h0M275.4 214.6h0M263.5 247.4h0M264.8 246.3h0M259.3 260.5h0M289.0 227.6h0M247.1 245.9h0M307.1 208.1h0M243.3 247.8h0M275.3 215.4h0M313.7 264.5h0M312.7 242.3h0M301.8 203.8h0M237.7 262.8h0M308.8 241.5h0M248.8 202.7h0M236.3 258.7h0M289.6 223.9h0M253.8 214.7h0M282.6 209.5h0M298.7 238.6h0M261.9 197.7h0M284.4 237.6h0M293.4 258.3h0M271.9 242.2h0M238.1 255.2h0M245.9 207.8h0M315.3 216.1h0M236.2 264.1h0M259.2 261.8h0M235.9 265.8h0M236.1 234.5h0M257.9 215.3h0M288.8 242.2h0M295.3 243.2h0M235.3 258.6h0M236.2 262.6h0M295.7 226.8h0M316.2 261.7h0M274.4 240.8h0M234.0 216.8h0M298.9 206.3h0M313.1 255.4h0M262.2 236.8h0M254.0 236.2h0M289.5 231.5h0M310.6 246.6h0M319.9 238.9h0M280.6 218.2h0M313.9 209.2h0M294.1 237.7h0M273.0 197.9h0M297.7 259.3h0M289.4 208.6h0M295.0 203.9h0M287.0 204.5h0M267.8 213.0h0M247.5 245.0h0M262.4 227.0h0M283.8 210.2h0M320.4 215.7h0M276.0 245.7h0M318.1 229.5h0M290.9 232.1h0M256.6 236.1h0M299.1 228.4h0M271.7 254.8h0M317.8 261.0h0M303.3 225.6h0M268.2 240.5h0M233.9 223.8h0M237.2 220.4h0M265.8 220.2h0M265.9 264.8h0M312.1 226.9h0M287.6 229.5h0M287.5 197.1h0M276.6 206.1h0M266.8 236.9h0M287.8 246.4h0M303.7 226.1h0M294.6 235.8h0M285.5 240.9h0M318.8 227.0h0M279.4 234.3h0M302.4 234.8h0M281.7 253.9h0M239.0 238.7h0M246.1 250.4h0M304.9 199.1h0M296.2 211.3h0M273.9 232.2h0M283.9 221.8h0M245.5 212.8h0M276.9 240.3h0M287.8 240.2h0M306.1 265.2h0M252.7 251.7h0M314.0 264.9h0M317.5 234.3h0M293.4 205.3h0M319.6 200.2h0" stroke="#6e5650" stroke-width="1.3" stroke-linecap="round" fill="none"/>
<path d="M292.6 253.3h0M276.0 196.5h0M287.5 218.8h0M276.8 238.0h0M320.1 230.6h0M317.8 196.8h0M249.7 232.1h0M306.2 242.7h0M296.4 223.1h0M298.1 222.6h0M240.5 237.4h0M239.3 253.4h0M287.2 239.5h0M283.8 205.3h0M299.4 260.6h0M250.9 207.5h0M266.5 260.4h0M263.1 203.2h0M263.3 204.6h0M298.2 217.1h0M309.9 232.8h0M235.4 220.1h0M287.2 238.3h0M247.9 261.8h0M260.7 240.6h0M290.3 199.9h0M313.3 216.0h0M240.6 243.2h0M318.6 238.6h0M312.0 257.5h0M269.1 246.2h0M286.3 226.3h0M272.2 250.5h0M245.9 266.3h0M275.4 201.9h0M252.8 232.9h0M313.8 256.6h0M313.0 213.0h0M263.1 210.1h0M273.6 239.0h0M292.0 223.7h0M266.4 201.7h0M291.4 233.9h0M290.9 239.8h0M315.1 256.4h0M244.8 247.7h0M269.1 264.8h0M306.9 237.8h0M314.1 239.7h0M250.8 235.4h0M309.3 198.3h0M304.6 232.2h0M268.1 220.7h0M257.7 224.8h0M295.2 232.9h0M285.6 246.5h0M234.4 231.8h0M264.3 222.4h0M270.8 251.2h0M305.3 224.3h0M284.3 250.7h0M256.8 231.7h0M280.7 216.7h0M249.9 220.7h0M283.5 200.1h0M307.4 238.6h0M250.6 220.7h0M292.3 197.8h0M264.2 256.9h0M282.2 233.1h0M306.2 243.4h0M298.5 212.3h0M318.5 239.2h0M257.2 208.0h0M307.9 262.9h0M251.8 225.2h0M318.1 231.5h0M285.0 258.2h0M276.7 251.2h0M318.6 210.1h0M272.4 241.6h0M280.6 237.1h0M283.8 242.1h0M311.2 209.2h0M311.7 245.3h0M269.7 203.4h0M270.0 205.1h0M239.3 233.6h0M265.6 236.0h0M304.2 229.5h0M280.8 251.4h0M291.6 221.1h0M299.2 222.3h0M272.8 214.6h0M292.0 215.0h0M277.9 201.5h0M282.9 236.8h0M246.0 261.3h0M277.2 243.5h0M266.6 240.1h0M276.8 207.1h0M291.0 212.3h0M320.6 219.5h0M283.5 210.1h0M310.5 260.8h0M289.1 233.2h0M276.7 198.1h0M249.2 238.5h0M274.7 201.7h0M298.5 234.8h0M315.4 232.2h0M278.2 222.0h0M278.4 207.7h0M273.1 230.0h0M281.8 231.8h0M295.6 241.3h0M309.2 196.7h0M288.5 228.5h0M274.6 232.4h0M311.4 266.0h0M235.3 253.3h0M254.4 234.0h0M243.4 246.2h0M239.6 230.6h0M252.3 236.0h0M302.4 258.0h0M286.0 241.0h0M304.4 210.9h0M294.7 219.1h0M282.3 236.5h0M289.1 227.9h0M304.8 253.6h0M274.3 216.8h0M267.6 245.4h0M295.9 241.8h0M234.7 257.0h0M254.7 238.6h0M261.5 218.0h0M310.2 225.0h0M295.6 212.2h0M250.0 226.5h0M270.2 251.4h0M306.7 218.2h0M246.4 234.0h0M235.2 197.3h0M303.2 222.8h0M238.6 216.6h0M247.8 252.4h0M254.4 227.3h0M243.9 256.8h0M314.9 237.0h0M285.5 197.1h0M303.5 231.9h0M282.8 222.5h0M267.4 216.6h0M289.2 213.6h0M313.7 240.8h0M278.2 208.7h0M261.1 208.3h0M275.8 243.9h0M240.9 222.8h0M254.7 251.1h0M263.2 249.6h0M268.4 235.5h0M257.8 263.7h0M241.0 238.3h0M271.9 253.3h0M254.7 208.0h0M288.0 256.7h0M254.2 243.8h0M313.3 242.6h0M315.2 229.0h0M237.2 224.8h0M252.4 260.6h0M236.3 236.3h0M255.4 206.1h0M252.5 217.0h0M293.2 204.9h0M297.1 253.0h0M262.8 224.7h0M275.7 252.6h0M291.9 233.9h0M285.2 257.0h0M270.3 221.6h0M285.2 229.0h0M309.4 213.3h0M264.5 250.3h0M295.2 232.3h0M245.6 217.3h0M280.8 236.1h0M254.9 239.0h0M269.6 198.5h0M253.9 226.9h0M273.3 219.8h0M287.3 205.2h0M303.5 218.9h0M292.2 199.5h0M276.4 262.3h0M237.4 208.0h0M301.8 226.5h0M297.0 218.5h0M317.4 240.7h0M276.9 231.5h0M279.0 243.2h0M260.0 208.8h0M280.2 256.5h0M289.2 237.0h0M304.7 216.2h0M287.8 211.1h0M320.3 225.3h0M256.6 266.1h0M283.7 230.8h0M273.8 227.8h0M286.0 235.4h0M294.6 219.1h0M282.0 266.2h0M316.3 217.7h0M278.9 248.7h0M298.2 219.5h0M239.5 217.9h0M239.1 207.0h0M292.8 213.2h0M278.7 215.7h0M286.8 237.1h0M308.3 207.3h0M257.3 255.3h0M301.2 219.8h0M276.4 221.2h0" stroke="#a08070" stroke-width="1.0" stroke-linecap="round" fill="none"/>
<path d="M298.9 204.5h0M261.4 263.3h0M279.6 254.9h0M258.1 254.0h0M293.8 209.7h0M249.7 206.4h0M281.3 197.7h0M234.4 243.4h0M301.0 222.6h0M244.3 264.4h0M306.4 242.3h0M254.7 245.7h0M235.2 242.1h0M276.9 236.9h0M297.8 220.5h0M240.8 221.2h0M242.8 215.4h0M262.3 222.6h0M266.7 234.8h0M317.0 242.5h0M234.8 220.5h0M295.7 260.6h0M254.4 240.8h0M265.1 210.1h0M303.9 220.1h0M259.6 216.5h0M257.6 203.8h0M304.3 243.2h0M274.8 257.3h0M264.6 227.2h0M290.0 233.5h0M274.0 224.4h0M289.6 206.2h0M266.9 255.4h0M268.7 245.5h0M236.9 249.9h0M281.9 253.1h0M244.9 240.7h0M297.9 231.8h0M295.6 226.1h0M269.5 202.1h0M289.8 226.3h0M270.3 201.3h0M277.5 231.7h0M289.6 218.9h0M317.0 221.0h0M274.5 224.1h0M311.5 257.2h0M290.4 244.9h0M236.8 260.1h0M273.1 215.3h0M291.1 252.4h0M316.9 259.5h0M281.4 209.2h0M245.1 250.5h0M304.8 211.6h0M276.7 218.9h0M312.6 264.7h0M258.6 207.3h0M318.5 240.9h0M267.3 241.4h0M255.5 246.6h0M262.9 244.9h0M305.7 200.2h0M281.8 229.8h0M267.8 265.0h0M240.2 243.9h0M301.1 239.8h0M312.3 256.2h0M316.9 196.7h0M308.1 234.0h0M283.8 197.9h0M239.6 249.7h0M263.0 262.6h0M239.6 209.3h0M286.5 239.3h0M299.4 242.1h0M287.0 266.2h0M303.4 220.8h0M254.8 222.6h0M239.5 250.4h0M248.9 203.5h0M310.2 202.9h0M300.7 238.5h0M266.1 257.2h0M289.1 243.8h0M307.0 238.2h0M249.0 235.8h0M291.2 196.7h0M296.2 224.8h0M272.3 247.0h0M287.0 214.0h0M279.6 226.4h0M278.4 205.9h0M306.0 248.7h0M280.6 240.5h0M297.5 220.4h0M271.9 226.5h0M240.4 250.4h0M294.1 229.5h0M305.8 263.4h0M299.1 229.6h0M253.0 213.1h0M298.6 233.8h0M315.7 198.3h0M302.2 225.1h0M305.8 213.2h0M247.1 239.9h0M297.5 234.7h0M304.8 237.9h0M233.8 234.1h0M269.2 240.1h0M293.1 263.4h0M319.3 247.8h0M308.3 239.7h0M257.1 213.4h0M274.5 210.4h0M278.0 230.2h0M275.2 242.6h0M238.4 252.4h0M252.7 206.3h0M305.8 248.2h0M274.2 199.0h0M319.0 264.9h0M244.1 239.8h0M319.6 250.8h0M314.7 199.0h0M309.1 265.4h0M307.3 232.5h0M282.7 198.8h0M307.6 233.7h0M316.0 200.5h0M302.0 199.6h0M292.8 239.6h0M285.8 244.3h0M252.8 248.0h0M255.8 232.7h0M290.6 237.2h0M308.2 196.8h0M304.5 238.6h0M261.8 255.2h0M262.5 219.0h0M253.7 264.1h0M313.2 237.8h0M237.6 262.9h0M295.4 256.3h0M282.1 237.2h0M292.4 236.8h0M310.9 233.1h0M234.4 222.6h0M295.3 199.7h0M309.6 212.9h0M312.1 217.5h0M268.5 210.2h0M280.6 216.0h0M234.0 247.2h0M282.3 226.7h0M265.4 211.5h0M234.1 248.4h0M242.5 212.6h0M277.4 216.6h0M284.3 206.0h0M240.7 222.0h0M284.4 216.8h0M301.3 202.9h0M236.0 240.3h0M254.7 225.0h0M301.6 234.9h0M296.4 253.8h0M236.5 217.1h0M271.2 227.4h0M245.7 219.6h0M294.4 225.0h0M295.1 254.1h0M243.5 214.0h0M298.5 262.3h0M238.5 202.9h0M311.2 236.2h0M258.5 196.8h0M310.5 222.6h0M292.8 197.0h0M261.7 212.0h0M260.9 213.0h0M320.1 222.3h0M274.7 206.9h0M306.9 261.5h0M291.2 219.2h0" stroke="#7a6460" stroke-width="1.3" stroke-linecap="round" fill="none"/>
<path d="M282.0 223.2h0M246.7 204.2h0M312.8 247.2h0M309.9 263.6h0M300.0 216.0h0M305.3 232.3h0M298.9 216.0h0M300.2 234.5h0M312.7 261.7h0M248.5 251.8h0M240.5 252.2h0M234.3 206.5h0M306.2 231.0h0M309.6 196.9h0M305.3 199.5h0M256.1 265.5h0M258.8 240.7h0M306.6 258.3h0M284.8 228.0h0M266.2 203.9h0M237.2 259.5h0M315.0 218.6h0M302.5 216.1h0M286.8 241.8h0M283.7 202.8h0M280.6 220.9h0M264.9 256.2h0M247.2 216.6h0M269.3 212.5h0M303.5 228.3h0M315.5 256.4h0M280.3 232.2h0M288.1 223.7h0M266.5 199.6h0M282.1 235.2h0M276.8 219.2h0M262.1 224.3h0M293.7 230.7h0M244.6 235.1h0M280.8 245.0h0M293.1 261.7h0M293.0 243.0h0M234.5 252.4h0M256.3 256.5h0M246.1 215.1h0M287.6 247.2h0M318.9 264.7h0M275.4 204.8h0M276.2 223.7h0M312.9 228.2h0M283.5 209.8h0M234.0 212.4h0M313.4 231.0h0M277.6 251.9h0M266.0 229.5h0M308.6 217.5h0M248.3 248.3h0M290.6 232.6h0M234.8 245.8h0M315.2 252.0h0M281.0 232.7h0M299.8 234.0h0M289.4 263.0h0M278.9 208.1h0M275.6 218.8h0M313.7 264.2h0M301.9 232.9h0M283.2 235.3h0M307.8 209.1h0M242.5 254.0h0M251.2 261.5h0M286.4 237.9h0M295.2 228.8h0M301.8 215.6h0M265.9 196.4h0M258.5 208.9h0M310.8 256.5h0M269.4 260.1h0M254.1 221.9h0M309.3 239.2h0M291.2 241.0h0M261.7 203.7h0M248.5 265.9h0M312.4 216.2h0M272.2 243.1h0M257.1 257.7h0M289.9 218.7h0M253.3 250.0h0M249.9 241.8h0M263.6 226.9h0M283.2 201.3h0M242.9 206.6h0M309.1 264.9h0M266.4 236.7h0M294.3 263.5h0M238.1 215.7h0M316.7 211.7h0M311.5 221.8h0M236.2 209.2h0M309.8 215.1h0M250.5 230.9h0M236.1 244.7h0M307.1 232.9h0M299.5 237.3h0M272.9 242.5h0M291.4 211.4h0M309.4 235.8h0M284.3 247.4h0M253.6 249.4h0M289.6 216.5h0M247.9 248.6h0M318.7 204.5h0M295.4 218.9h0M308.0 208.7h0M258.0 256.9h0M305.4 197.7h0M238.6 233.2h0M298.7 197.5h0M287.2 265.6h0M286.0 200.1h0M234.2 256.5h0M281.5 220.3h0M299.1 245.1h0M239.5 207.1h0M273.8 234.2h0M254.0 195.8h0M252.3 256.6h0M284.2 216.2h0M242.7 216.0h0M262.1 213.3h0M302.4 263.7h0M280.1 256.8h0M308.6 226.8h0M279.7 249.3h0M284.1 210.1h0M258.4 249.3h0M294.8 213.7h0M279.5 205.5h0M305.5 203.2h0M267.5 230.8h0M243.1 198.4h0M285.5 213.9h0M301.7 205.2h0M309.1 211.4h0M287.0 239.1h0M287.8 237.7h0M256.5 237.8h0M299.1 206.6h0M236.3 263.8h0M304.2 203.8h0M292.9 243.5h0M248.8 210.1h0M318.0 221.6h0M282.3 245.9h0M308.1 226.5h0M270.0 238.3h0M294.0 197.0h0M254.1 205.9h0M310.5 253.8h0M298.1 214.9h0M261.8 204.6h0M314.2 215.4h0M276.8 198.9h0M251.9 230.4h0M301.5 218.3h0M295.3 244.3h0M284.9 235.8h0M280.5 232.0h0M298.2 239.7h0M306.0 230.4h0M309.2 207.0h0M285.5 250.2h0M301.8 236.1h0M284.1 219.1h0M276.4 233.0h0M282.2 257.2h0M317.5 228.1h0M316.9 261.6h0M310.3 250.9h0M277.1 257.8h0M305.0 211.6h0M320.3 200.9h0M297.9 263.3h0M238.4 242.8h0M306.7 226.3h0M241.8 247.9h0M236.6 215.6h0M277.1 203.5h0M269.0 208.1h0M300.0 215.8h0M276.5 202.4h0M302.7 225.8h0M302.8 204.7h0M269.1 262.4h0M287.8 243.5h0M261.0 199.6h0M247.6 229.9h0M299.2 218.4h0M238.4 251.1h0M310.4 239.0h0M284.7 227.1h0M252.5 216.6h0M313.0 207.7h0M307.5 235.9h0M254.9 200.5h0" stroke="#8e6e62" stroke-width="1.3" stroke-linecap="round" fill="none"/>
<path d="M309.6 248.5h0M234.4 262.0h0M261.9 247.8h0M263.9 262.1h0M291.1 208.2h0M283.8 199.8h0M276.7 266.1h0M256.9 219.0h0M280.3 233.6h0M293.0 228.5h0M277.8 220.2h0M300.0 232.4h0M276.4 259.3h0M292.6 221.6h0M239.2 214.6h0M291.5 238.8h0M257.3 233.5h0M278.8 214.4h0M319.1 211.6h0M306.2 225.4h0M257.5 233.0h0M318.5 258.1h0M302.7 211.9h0M264.7 204.2h0M317.3 227.8h0M260.5 213.3h0M293.3 234.4h0M307.1 254.4h0M276.2 198.4h0M316.1 218.5h0M294.7 212.4h0M270.7 249.5h0M317.8 256.3h0M289.4 245.5h0M290.8 202.2h0M316.6 217.4h0M289.4 200.4h0M262.8 256.1h0M296.4 236.5h0M285.0 263.4h0M299.9 245.1h0M278.3 218.2h0M304.6 206.9h0M290.3 246.5h0M255.9 241.8h0M248.1 223.0h0M279.1 263.0h0M279.5 222.9h0M291.6 240.9h0M259.0 231.8h0M243.4 236.0h0M238.2 255.7h0M241.5 221.4h0M297.7 200.0h0M291.9 231.7h0M292.9 240.5h0M302.0 222.5h0M306.1 217.8h0M294.3 207.6h0M273.6 206.5h0M319.3 218.3h0M300.7 264.0h0M286.7 223.0h0M276.2 217.2h0M247.0 249.9h0M306.4 250.6h0M275.9 196.9h0M294.9 227.6h0M263.3 266.1h0M252.5 217.3h0M256.0 252.7h0M274.8 228.8h0M234.9 220.0h0M235.1 243.4h0M281.3 233.9h0M302.1 218.1h0M264.2 237.3h0M249.7 237.3h0M253.0 236.1h0M254.8 252.5h0M266.3 199.3h0M282.5 230.8h0M237.8 246.9h0M249.1 257.8h0M249.8 230.8h0M303.5 217.4h0M291.8 257.8h0M234.4 206.0h0M244.6 208.6h0M278.0 204.3h0M289.7 245.8h0M316.1 215.8h0M266.0 206.7h0M249.7 197.7h0M309.6 250.8h0M307.4 263.7h0M233.9 231.0h0M269.5 228.9h0M303.7 201.3h0M320.4 221.9h0M312.6 212.0h0M288.0 238.0h0M279.1 213.4h0M286.2 260.9h0M248.8 264.2h0M280.8 263.6h0M255.8 251.5h0M290.5 224.0h0M284.9 215.4h0M302.4 243.3h0M236.4 234.6h0M317.4 209.9h0M261.2 241.0h0M314.2 203.5h0M248.9 244.5h0M286.6 235.5h0M246.1 240.2h0M300.1 264.0h0M303.0 254.2h0M282.7 220.6h0M262.8 199.6h0M274.8 230.8h0M317.5 240.0h0M279.5 237.4h0M292.4 226.1h0M290.6 244.8h0M295.9 232.6h0M254.3 232.2h0M270.5 230.8h0M282.5 221.5h0M299.8 235.2h0M289.3 213.4h0M283.8 232.8h0M308.4 239.6h0M307.7 254.1h0M265.4 197.6h0M253.4 207.8h0M253.1 254.5h0M249.2 229.5h0M288.0 260.1h0M255.7 236.9h0M298.0 215.0h0M278.8 201.3h0M303.6 224.8h0M261.7 233.3h0M255.2 239.1h0M238.1 208.5h0M279.6 210.5h0M302.9 203.9h0M295.0 208.6h0M312.6 227.5h0M288.9 253.3h0M293.9 222.8h0M271.9 265.9h0M285.3 216.3h0M264.0 242.5h0M313.5 212.0h0M311.3 223.9h0M262.4 239.6h0M286.4 231.6h0M304.3 230.1h0M292.8 206.7h0M301.1 214.2h0M282.8 235.8h0M273.2 257.4h0M295.8 212.2h0M302.2 223.7h0M304.9 228.9h0M261.0 199.4h0M282.6 219.2h0M305.4 216.9h0M269.4 261.8h0M241.2 230.1h0M235.8 203.0h0M247.0 257.3h0M281.2 210.5h0M251.2 232.6h0M281.2 240.5h0M258.3 265.9h0M251.7 264.1h0M281.9 254.9h0M313.1 263.4h0M261.6 199.0h0M270.9 265.6h0M287.0 211.6h0M256.8 214.2h0M315.5 224.2h0M258.8 251.4h0M303.4 242.8h0M247.5 258.9h0M287.6 256.4h0M313.9 220.5h0M287.6 235.8h0M310.3 253.8h0M277.9 201.1h0M287.7 243.8h0M253.4 209.1h0M307.3 256.1h0M273.5 218.4h0M261.0 241.0h0M297.6 213.0h0M294.4 256.2h0M240.6 218.1h0M243.1 265.7h0M276.9 233.1h0M276.2 235.7h0M307.4 231.1h0M290.4 261.7h0M267.9 238.8h0M244.2 224.7h0" stroke="#8e6e62" stroke-width="1.0" stroke-linecap="round" fill="none"/>
<path d="M309.2 248.7h0M253.6 202.3h0M283.5 209.8h0M316.0 225.0h0M245.7 234.2h0M315.2 226.2h0M301.2 207.8h0M265.6 264.0h0M277.2 242.5h0M296.5 211.9h0M260.4 265.7h0M290.7 208.1h0M236.2 236.0h0M253.6 201.0h0M243.3 262.5h0M262.8 222.6h0M251.6 224.1h0M240.8 253.4h0M307.7 227.9h0M319.0 198.9h0M263.1 213.6h0M280.4 210.0h0M298.4 239.7h0M243.3 243.6h0M305.2 211.4h0M292.8 228.8h0M312.2 198.8h0M287.7 198.8h0M278.8 248.6h0M297.3 215.0h0M309.9 251.7h0M261.6 219.5h0M259.0 202.5h0M269.0 262.2h0M254.5 232.3h0M306.2 228.1h0M291.7 214.1h0M278.1 197.7h0M260.0 210.4h0M270.8 232.0h0M310.7 205.7h0M285.5 211.2h0M267.9 222.4h0M250.7 245.4h0M248.9 207.9h0M287.9 243.3h0M270.4 253.1h0M292.2 263.9h0M241.3 247.5h0M256.7 240.5h0M240.6 212.5h0M237.3 259.0h0M284.8 235.7h0M288.8 260.8h0M296.6 259.2h0M296.3 258.7h0M282.5 231.0h0M306.0 265.9h0M258.7 207.6h0M315.7 224.4h0M246.6 226.0h0M282.2 218.6h0M306.4 242.8h0M289.8 244.7h0M306.5 221.9h0M244.9 231.7h0M306.1 230.8h0M300.8 232.6h0M249.5 260.6h0M311.2 215.5h0M247.5 232.6h0M285.1 264.2h0M299.9 263.8h0M279.9 223.7h0M285.8 243.2h0M297.7 262.9h0M294.9 196.3h0M293.1 210.8h0M313.3 198.6h0M258.0 231.2h0M246.4 258.9h0M313.3 204.9h0M270.2 236.3h0M264.4 236.7h0M310.0 199.2h0M318.2 213.2h0M266.1 219.1h0M303.6 243.1h0M247.0 232.0h0M277.6 218.6h0M234.1 217.2h0M254.7 202.6h0M313.4 221.8h0M307.1 223.3h0M270.4 211.3h0M258.6 220.4h0M243.7 228.9h0M293.6 208.4h0M304.3 239.3h0M251.4 240.5h0M248.1 250.9h0M258.8 228.8h0M256.0 217.8h0M258.0 206.1h0M268.4 220.2h0M307.4 207.3h0M241.5 262.0h0M285.0 201.0h0M253.5 215.7h0M319.5 207.0h0M296.1 207.1h0M268.4 211.9h0M297.9 235.0h0M277.4 245.7h0M281.4 209.1h0M295.5 239.6h0M263.7 222.8h0M247.0 195.9h0M272.3 250.2h0M242.7 197.8h0M298.5 248.4h0M260.7 239.3h0M283.9 264.5h0M268.2 216.5h0M301.8 235.7h0M284.9 240.9h0M308.2 263.4h0M318.7 254.7h0M287.2 205.9h0M301.0 207.4h0M304.3 240.5h0M268.4 230.5h0M302.0 260.0h0M276.9 210.0h0M277.6 243.4h0M258.6 197.9h0M245.0 197.8h0M247.1 205.1h0M299.4 196.0h0M290.8 238.8h0M248.2 209.7h0M319.3 260.3h0M298.0 215.2h0M288.4 263.1h0M282.8 207.3h0M245.5 222.9h0M313.4 260.4h0M299.9 243.5h0M272.1 254.6h0M275.3 213.4h0M281.4 225.6h0M263.3 252.4h0M303.3 221.8h0M254.2 207.4h0M307.2 196.4h0M318.6 204.2h0M310.3 195.9h0M234.7 202.2h0M270.3 210.7h0M241.9 233.7h0M276.2 213.9h0M301.4 231.0h0M287.0 234.8h0M259.2 247.5h0M252.1 213.0h0M302.0 214.4h0M261.4 210.1h0M284.8 246.8h0M240.5 208.6h0M297.6 210.0h0M267.5 221.6h0M235.9 213.2h0M288.7 223.7h0M317.9 244.9h0M244.5 259.1h0M253.5 210.6h0M282.5 251.3h0M307.9 250.5h0M281.7 257.9h0M281.9 198.4h0M308.6 260.7h0M312.1 250.7h0M294.4 236.3h0M295.8 215.9h0M296.0 211.0h0M305.3 257.3h0M288.2 231.4h0M298.3 245.2h0M250.7 224.7h0M279.8 214.7h0M320.1 261.8h0M277.3 201.4h0M307.1 233.4h0M286.1 214.8h0M313.7 258.4h0M236.8 266.1h0M244.5 260.0h0M235.2 243.2h0M243.0 265.7h0M257.6 231.5h0M254.6 243.8h0M280.3 259.6h0M246.3 222.6h0M283.9 256.3h0M237.7 224.1h0M317.9 222.3h0" stroke="#b09080" stroke-width="1.0" stroke-linecap="round" fill="none"/>
<path d="M273.5 250.8h0M263.2 230.7h0M311.3 221.1h0M283.2 210.2h0M244.2 217.5h0M253.2 244.1h0M309.7 236.9h0M256.3 249.4h0M247.7 264.0h0M300.4 222.5h0M265.9 212.5h0M305.0 207.0h0M292.6 196.9h0M278.4 241.4h0M309.1 229.9h0M288.5 219.2h0M318.4 213.4h0M289.9 239.5h0M273.1 257.3h0M317.2 251.4h0M250.5 197.4h0M304.8 233.2h0M294.4 212.0h0M290.7 247.7h0M293.9 221.6h0M316.9 235.8h0M270.2 232.4h0M316.3 229.1h0M241.4 220.1h0M271.0 220.8h0M268.8 200.1h0M269.8 247.6h0M264.7 230.1h0M237.2 226.6h0M300.7 216.8h0M278.2 232.2h0M243.3 229.8h0M253.9 234.3h0M302.2 232.9h0M290.6 218.5h0M275.1 250.5h0M277.2 199.0h0M242.0 264.7h0M320.0 209.3h0M277.8 245.4h0M297.6 223.5h0M241.4 258.4h0M288.3 246.4h0M253.9 255.2h0M249.1 259.7h0M299.3 236.4h0M278.6 222.6h0M252.9 206.6h0M298.6 233.9h0M291.6 261.1h0M236.4 234.4h0M242.3 216.2h0M316.6 206.8h0M295.5 204.8h0M316.2 199.8h0M250.4 258.0h0M279.9 255.8h0M255.3 208.4h0M272.4 227.9h0M317.6 202.1h0M300.8 259.0h0M317.6 213.9h0M277.6 252.1h0M285.7 253.1h0M313.9 264.9h0M251.2 255.5h0M278.6 244.0h0M284.3 219.9h0M310.1 217.2h0M239.9 222.4h0M235.2 242.2h0M309.3 250.0h0M320.1 212.3h0M258.9 246.1h0M301.3 228.8h0M295.5 232.8h0M268.0 265.5h0M305.7 207.2h0M291.2 206.4h0M257.7 229.1h0M314.9 196.7h0M307.9 224.5h0M298.0 219.6h0M253.5 195.9h0M247.3 226.0h0M278.7 258.6h0M242.9 227.3h0M244.6 225.9h0M274.5 227.9h0M286.5 229.3h0M259.7 245.8h0M277.7 240.3h0M308.4 211.9h0M303.3 220.1h0M259.6 246.9h0M306.7 202.9h0M282.1 255.8h0M237.9 261.2h0M291.4 225.0h0M235.2 230.7h0M253.0 245.5h0M272.0 235.7h0M300.7 229.3h0M241.9 198.4h0M305.9 212.1h0M298.0 257.5h0M279.0 216.8h0M260.6 203.2h0M310.1 231.1h0M312.7 231.4h0M319.8 250.3h0M273.1 219.3h0M261.7 245.8h0M295.3 207.0h0M264.3 245.3h0M245.7 231.9h0M288.6 250.4h0M235.9 224.8h0M296.2 253.4h0M269.3 213.1h0M268.9 256.9h0M315.5 219.7h0M258.0 196.5h0M279.7 226.7h0M248.2 207.8h0M320.5 199.3h0M247.5 229.2h0M300.3 217.9h0M270.1 200.5h0M288.6 207.7h0M305.2 221.2h0M273.5 210.2h0M290.7 241.0h0M238.3 219.4h0M286.6 218.3h0M252.5 233.1h0M262.1 244.7h0M256.5 216.1h0M250.0 247.5h0M304.9 247.6h0M283.7 196.9h0M268.9 257.3h0M299.0 262.5h0M317.2 253.6h0M239.2 234.0h0M248.3 230.6h0M290.1 218.8h0M268.9 231.8h0M273.4 219.6h0M296.7 202.5h0M289.3 255.4h0M287.0 259.4h0M275.2 213.4h0M284.1 213.9h0M287.4 204.4h0M314.3 226.2h0M263.4 250.6h0M303.2 225.3h0M264.3 216.7h0M314.5 232.2h0M305.9 235.4h0M245.0 240.4h0M247.9 220.4h0M300.7 224.4h0M286.9 239.0h0M267.5 206.9h0M236.2 212.0h0M254.9 245.4h0M272.5 238.3h0M249.1 259.6h0M255.7 216.1h0M245.5 195.9h0M307.3 217.3h0M243.8 241.9h0M301.3 254.4h0M277.4 199.3h0M249.2 199.5h0M305.8 229.9h0M313.0 240.7h0M282.4 233.2h0M247.7 240.6h0M253.7 207.7h0M294.7 235.9h0M307.3 226.7h0M295.4 250.0h0M255.5 238.1h0M311.9 243.5h0M241.0 224.2h0M319.3 251.9h0M272.1 204.0h0M311.8 241.7h0M238.2 233.4h0M309.6 223.5h0M235.2 233.4h0M288.8 201.2h0M246.9 219.4h0M252.3 254.5h0M297.0 236.6h0M258.0 235.3h0M262.4 198.3h0M293.7 206.7h0M283.9 254.3h0M262.2 222.9h0M257.4 235.6h0M307.0 223.5h0M318.7 239.5h0M274.6 262.5h0M293.2 226.5h0M298.6 235.3h0M266.0 201.0h0M280.8 204.1h0M276.1 247.9h0" stroke="#7a6460" stroke-width="1.0" stroke-linecap="round" fill="none"/>
<path d="M292.2 204.9h0M258.3 222.9h0M289.2 263.8h0M280.7 234.1h0M317.2 237.8h0M285.2 226.1h0M299.2 259.7h0M284.6 248.3h0M297.0 208.0h0M317.3 251.2h0M285.5 211.5h0M262.0 200.8h0M308.3 228.2h0M303.8 209.3h0M314.4 223.5h0M242.6 254.1h0M282.3 232.3h0M257.6 242.8h0M259.1 265.3h0M304.3 218.3h0M255.5 220.0h0M277.0 216.9h0M310.3 257.3h0M256.7 213.0h0M301.1 265.9h0M278.2 223.0h0M318.7 265.0h0M310.3 214.1h0M275.8 251.3h0M286.7 232.2h0M261.2 240.9h0M266.5 219.6h0M305.0 209.2h0M253.7 257.6h0M301.0 208.6h0M240.9 235.4h0M284.9 208.3h0M254.8 245.7h0M255.9 241.7h0M308.8 220.8h0M247.9 246.2h0M261.7 211.4h0M303.7 240.5h0M270.1 201.3h0M253.0 234.7h0M294.7 213.8h0M258.7 236.5h0M305.4 243.6h0M260.7 263.7h0M295.3 231.3h0M304.8 217.5h0M243.6 230.4h0M245.4 222.9h0M279.0 208.5h0M313.7 208.3h0M297.3 242.2h0M310.7 229.0h0M271.4 238.4h0M281.9 224.5h0M265.3 220.0h0M262.3 211.7h0M283.4 212.1h0M285.4 220.4h0M267.7 232.1h0M307.5 244.1h0M268.5 231.4h0M275.0 213.8h0M271.6 229.3h0M284.8 215.0h0M284.6 233.8h0M238.3 256.5h0M253.4 232.1h0M296.5 246.3h0M266.1 256.3h0M308.4 264.3h0M282.9 249.5h0M296.0 244.2h0M277.9 248.8h0M303.6 207.8h0M239.2 264.9h0M255.2 220.9h0M289.4 234.7h0M279.9 231.3h0M308.0 199.6h0M275.5 230.1h0M252.7 253.2h0M312.1 241.8h0M267.9 258.2h0M287.1 208.2h0M312.0 247.4h0M272.1 230.0h0M293.9 204.0h0M240.0 233.8h0M281.5 221.7h0M258.0 214.1h0M305.4 242.3h0M275.9 247.1h0M302.0 229.1h0M256.1 208.7h0M265.5 224.8h0M315.1 265.9h0M299.6 206.4h0M287.0 219.1h0M292.8 262.3h0M319.1 223.7h0M275.0 235.8h0M283.5 228.8h0M305.5 232.8h0M271.3 251.6h0M312.3 259.8h0M302.9 264.3h0M290.9 237.7h0M293.5 221.3h0M293.3 252.5h0M280.6 197.4h0M303.8 232.3h0M306.2 236.9h0M235.3 255.0h0M316.7 216.2h0M286.1 253.9h0M252.1 203.1h0M274.8 205.0h0M272.3 248.6h0M280.0 223.2h0M270.7 218.5h0M304.3 200.3h0M305.1 233.8h0M240.4 212.8h0M250.1 246.0h0M304.1 234.6h0M307.4 202.8h0M307.9 227.8h0M263.3 200.5h0M283.8 248.2h0M306.4 224.4h0M316.7 251.7h0M235.4 211.3h0M281.1 241.1h0M261.0 221.8h0M314.7 195.9h0M299.9 202.3h0M278.6 207.7h0M234.0 239.6h0M267.6 245.6h0M275.2 222.9h0M290.0 230.1h0M263.2 242.8h0M284.4 236.9h0M281.7 215.3h0M277.5 216.5h0M272.1 235.6h0M285.3 251.4h0M270.8 265.1h0M290.6 229.6h0M245.3 253.6h0M260.9 235.6h0M315.6 244.2h0M290.3 212.1h0M277.7 243.2h0M266.7 203.8h0M309.8 219.5h0M316.1 244.4h0M275.4 201.2h0M247.2 264.0h0M294.4 236.8h0M295.9 235.4h0M319.6 215.9h0M266.4 197.5h0M296.4 262.2h0M256.3 221.6h0M318.3 242.7h0M271.5 201.8h0M240.9 243.0h0M256.4 266.2h0M277.3 233.1h0M269.0 262.0h0M313.2 204.5h0M281.5 240.0h0M272.5 202.3h0M312.1 202.8h0M292.4 262.0h0M276.6 237.4h0M234.9 230.2h0M320.4 197.4h0M254.7 236.3h0M283.4 215.3h0M300.6 212.6h0M318.4 240.6h0M290.3 228.7h0M302.8 261.6h0M249.9 197.0h0M316.6 214.8h0M317.7 259.5h0M240.3 244.5h0M254.7 255.0h0M282.2 238.9h0M303.8 220.6h0M298.1 225.6h0M301.9 240.2h0" stroke="#6e5650" stroke-width="1.0" stroke-linecap="round" fill="none"/>
<path d="M302.8 223.9h0M247.5 262.5h0M294.7 209.7h0M233.9 239.4h0M250.7 225.8h0M312.8 215.2h0M292.1 230.5h0M316.7 219.6h0M250.7 239.6h0M239.3 265.4h0M254.4 214.5h0M315.0 212.5h0M315.5 222.2h0M286.8 196.1h0M288.2 240.3h0M244.5 253.6h0M265.9 208.6h0M305.8 244.7h0M236.9 265.1h0M273.4 224.9h0M296.9 263.6h0M262.1 209.1h0M284.6 235.1h0M263.6 202.3h0M318.9 230.0h0M252.4 245.4h0M264.4 211.0h0M282.9 197.5h0M261.3 209.0h0M299.9 228.0h0M252.0 242.1h0M264.9 233.6h0M288.5 232.3h0M286.1 231.8h0M267.1 238.9h0M252.7 208.8h0M251.0 202.5h0M315.0 221.6h0M266.8 202.0h0M291.9 248.3h0M253.6 262.3h0M272.4 237.5h0M302.9 220.2h0M262.0 231.8h0M269.5 245.4h0M301.5 264.6h0M288.5 228.7h0M276.3 242.1h0M304.7 210.9h0M248.3 232.3h0M299.4 237.4h0M317.5 202.0h0M261.3 229.0h0M251.4 249.1h0M272.0 238.3h0M239.3 242.1h0M305.5 240.1h0M275.9 220.0h0M257.2 213.4h0M251.2 246.5h0M263.2 209.9h0M283.2 247.3h0M242.6 217.2h0M248.1 253.6h0M316.7 211.5h0M279.7 210.1h0M270.8 206.3h0M240.9 219.2h0M251.3 253.3h0M304.6 228.4h0M243.7 244.5h0M276.7 209.5h0M242.5 230.7h0M255.6 254.2h0M252.0 220.0h0M264.8 205.9h0M284.3 258.9h0M275.6 246.1h0M270.8 215.8h0M314.7 258.9h0M247.5 205.8h0M272.6 205.0h0M250.5 203.1h0M272.5 214.4h0M304.0 211.6h0M272.6 206.7h0M234.3 255.8h0M285.4 219.4h0M274.6 237.0h0M280.3 237.3h0M261.7 213.2h0M294.9 231.0h0M284.1 236.3h0M271.1 228.1h0M236.4 239.6h0M308.2 208.2h0M299.9 244.6h0M276.5 240.5h0M281.5 207.1h0M253.4 243.7h0M257.3 244.6h0M237.8 228.4h0M297.7 246.3h0M260.8 206.4h0M315.8 244.8h0M261.6 259.3h0M264.2 209.2h0M299.9 228.5h0M289.1 227.0h0M264.4 236.9h0M307.1 238.5h0M288.4 232.3h0M259.9 260.7h0M292.0 212.7h0M263.8 207.4h0M308.6 256.6h0M301.4 222.0h0M253.7 238.6h0M273.8 256.4h0M259.2 224.5h0M320.1 218.9h0M299.2 219.2h0M320.5 255.3h0M262.2 240.8h0M303.9 216.1h0M241.1 198.2h0M266.9 236.3h0M238.5 234.0h0M293.2 198.2h0M317.6 204.4h0M236.5 210.5h0M280.2 229.5h0M265.8 196.4h0M241.8 256.8h0M263.3 241.0h0M241.5 233.5h0M316.8 263.9h0M307.5 228.0h0M286.2 236.4h0M267.9 220.9h0M306.9 248.6h0M269.6 262.0h0M263.0 199.7h0M268.3 206.3h0M291.4 213.6h0M295.9 223.0h0M269.7 227.7h0M291.4 247.8h0M294.5 227.9h0M282.3 219.4h0M315.0 262.5h0M305.3 240.9h0M274.8 227.9h0M257.1 251.0h0M290.7 256.7h0M259.8 229.3h0M319.3 203.5h0M285.0 196.9h0M299.6 220.5h0M311.8 211.4h0M277.1 207.0h0M280.3 256.7h0M267.1 220.4h0M282.9 239.3h0M318.4 244.2h0M278.1 200.4h0M309.5 222.8h0M278.7 234.4h0M285.5 234.6h0M306.6 209.0h0M275.8 259.7h0M291.0 265.6h0M311.1 241.2h0M287.4 218.6h0M310.5 250.5h0M263.8 198.5h0M266.3 228.3h0M273.5 226.1h0" stroke="#b09080" stroke-width="1.3" stroke-linecap="round" fill="none"/>
<path d="M252.3 209.7 L252.4 209.3 L252.3 198.3 L250.7 197.1 L248.5 196.2 L246.9 196.0 L238.3 207.9 L238.3 208.4 L248.3 213.4ZM262.8 211.4 L263.3 211.2 L268.3 204.5 L268.3 203.3 L267.5 201.3 L266.1 199.4 L264.3 198.1 L262.4 197.3 L260.1 197.0 L258.0 197.3 L256.1 198.1 L254.3 199.4 L253.8 200.2 L253.8 209.1 L254.2 209.3ZM264.3 212.2 L264.2 212.6 L265.7 218.4 L267.1 219.6 L269.0 220.4 L270.7 220.6 L272.6 220.4 L274.5 219.6 L275.9 218.4 L277.0 217.1 L277.8 215.2 L278.0 213.5 L277.8 211.6 L277.0 209.7 L275.9 208.4 L274.5 207.2 L272.6 206.4 L270.7 206.2 L268.6 206.6ZM286.7 212.0 L287.0 211.8 L293.1 202.0 L293.2 201.6 L292.4 199.6 L290.9 197.8 L288.8 196.2 L286.6 195.3 L284.2 194.9 L281.6 195.3 L279.2 196.2 L277.3 197.8 L275.8 199.8 L274.8 202.1 L274.7 203.6 L281.2 213.1ZM314.7 205.7 L314.9 204.6 L314.7 203.0 L314.1 201.4 L313.2 200.3 L312.0 199.3 L310.4 198.7 L309.0 198.5 L307.4 198.7 L305.8 199.3 L304.6 200.3 L303.7 201.4 L303.1 203.0 L302.9 204.4 L303.1 206.0 L303.7 207.6 L304.6 208.7 L305.8 209.7 L307.4 210.3 L309.0 210.5 L311.0 210.1ZM239.6 210.7 L238.0 210.8 L236.3 211.5 L234.7 212.8 L233.6 214.1 L232.9 215.9 L232.6 217.9 L232.8 219.6 L233.5 221.3 L234.8 222.9 L236.3 224.1 L237.9 224.7 L239.9 225.0 L241.7 224.7 L243.3 224.1 L244.9 222.8 L246.1 221.3 L246.7 219.7 L247.0 217.7 L246.7 215.9 L245.8 213.9ZM249.6 222.1 L250.4 223.2 L253.2 225.4 L255.0 226.1 L255.8 226.3 L264.7 223.0 L265.2 222.5 L265.3 222.1 L262.7 212.9 L253.6 210.6 L253.1 210.8 L249.3 214.7ZM283.5 228.6 L285.5 229.4 L287.7 229.7 L289.8 229.4 L291.7 228.6 L293.5 227.3 L294.8 225.6 L295.7 223.4 L296.0 221.6 L295.8 221.2 L287.1 213.4 L283.1 214.2 L281.6 215.4 L280.4 217.0 L279.5 219.2 L279.2 221.2 L279.5 223.4 L280.3 225.4 L281.7 227.3ZM310.5 215.9 L309.0 215.3 L307.2 215.0 L305.2 215.3 L303.5 216.0 L300.6 219.2 L300.1 220.4 L299.9 222.1 L300.2 224.1 L300.8 225.7 L302.0 227.2 L303.6 228.5 L305.2 229.1 L307.0 229.4 L309.0 229.1 L310.6 228.5 L312.1 227.3 L313.4 225.7 L314.0 224.1 L314.3 222.3 L314.0 220.3 L313.5 219.2ZM235.5 228.5 L235.3 228.8 L234.8 230.1 L234.4 232.9 L234.8 235.7 L235.8 238.1 L237.6 240.5 L239.7 242.1 L242.3 243.2 L243.6 243.3 L253.6 236.0 L254.0 227.8 L248.8 223.8ZM255.5 228.8 L255.0 235.7 L255.2 236.2 L264.9 243.0 L266.2 242.9 L268.4 242.0 L269.0 241.6 L272.0 229.2 L271.9 228.7 L270.4 226.9 L268.4 225.4 L266.2 224.5 L265.2 224.4 L256.5 227.6ZM270.6 241.4 L270.7 241.9 L270.9 242.0 L283.4 245.1 L288.0 239.7 L288.4 237.1 L288.0 234.7 L287.1 232.5 L286.8 232.0 L278.9 227.7 L276.4 227.9 L274.1 228.9 L273.3 229.5ZM312.5 243.0 L313.6 241.6 L314.1 240.5 L314.3 239.1 L314.1 237.5 L313.5 236.2 L312.8 235.2 L311.5 234.3 L310.4 233.8 L309.0 233.6 L307.4 233.8 L306.3 234.3 L305.1 235.1 L304.2 236.4 L303.7 237.5 L303.5 238.9 L303.7 240.5 L304.3 241.8 L305.0 242.8 L306.3 243.7 L308.2 244.3ZM265.2 245.4 L265.0 244.8 L254.3 237.3 L244.3 244.5 L244.1 245.0 L253.8 257.2 L254.1 257.4 L254.5 257.3 L264.0 249.6ZM269.6 243.3 L266.7 245.4 L265.6 249.4 L265.7 249.9 L277.7 261.6 L278.2 261.7 L280.5 260.8 L282.9 259.0 L284.1 257.2 L282.9 246.6 L270.0 243.2ZM299.6 252.1 L300.0 251.4 L300.2 249.5 L299.9 247.7 L299.3 246.1 L298.0 244.5 L296.7 243.4 L294.9 242.7 L292.9 242.4 L291.1 242.7 L289.5 243.3 L287.9 244.6 L286.7 246.1 L286.1 247.7 L285.8 249.7 L286.1 251.5 L286.7 253.1 L288.0 254.7 L289.5 255.9 L291.1 256.5 L292.7 256.6ZM316.1 243.5 L315.7 243.4 L306.1 246.5 L305.8 246.8 L305.4 247.8 L305.2 249.5 L305.5 251.5 L306.1 253.1 L307.3 254.6 L308.7 255.8 L310.6 256.5 L317.4 254.7 L318.6 253.3 L319.4 251.4 L319.6 249.7 L319.4 247.8 L318.6 245.9 L317.5 244.6ZM245.9 249.5 L243.7 248.6 L241.7 248.3 L239.5 248.6 L237.3 249.5 L235.7 250.7 L234.4 252.4 L233.5 254.6 L233.2 256.6 L233.5 258.8 L234.4 261.0 L235.7 262.7 L237.3 263.9 L239.5 264.8 L241.5 265.1 L243.7 264.8 L245.9 263.9 L247.5 262.7 L248.8 261.0 L249.7 258.8 L250.0 256.8 L249.7 254.6 L249.5 254.1ZM268.9 254.9 L267.9 254.5 L266.5 254.3 L264.8 254.5 L263.5 255.1 L262.2 256.0 L261.2 257.4 L260.6 258.8 L260.4 260.2 L260.6 261.9 L261.2 263.2 L262.1 264.5 L263.5 265.5 L264.8 266.1 L266.3 266.3 L268.0 266.1 L269.5 265.5 L270.6 264.6 L271.6 263.2 L272.2 261.9 L272.4 260.4 L272.2 258.7 L271.8 257.8ZM293.4 257.8 L293.0 258.5 L292.8 260.4 L293.1 262.2 L293.7 263.8 L295.0 265.4 L296.5 266.6 L298.1 267.2 L300.1 267.5 L301.9 267.2 L303.5 266.6 L305.1 265.3 L306.3 263.8 L306.9 262.2 L307.2 260.2 L306.9 258.4 L306.3 256.8 L305.0 255.2 L303.7 254.1 L301.9 253.4 L300.3 253.3ZM321.2 261.6 L320.6 260.1 L319.9 259.1 L318.8 258.3 L317.3 257.7 L316.1 257.5 L314.7 257.7 L313.2 258.3 L312.1 259.1 L311.4 260.1 L310.8 261.6 L310.6 262.8 L310.8 264.2 L311.4 265.7 L312.1 266.7 L313.2 267.5 L314.7 268.1 L315.9 268.3 L317.3 268.1 L318.8 267.5 L319.9 266.7 L320.6 265.7 L321.2 264.2 L321.4 263.0ZM242.9 199.1 L242.8 197.4 L242.2 195.9 L241.3 194.8 L239.9 193.8 L238.6 193.2 L237.1 193.0 L235.4 193.2 L233.9 193.8 L232.8 194.7 L231.8 196.1 L231.2 197.4 L231.0 198.9 L231.2 200.6 L231.8 202.1 L232.7 203.2 L234.1 204.2 L235.4 204.8 L236.9 205.0 L238.5 204.8 L239.0 204.5ZM300.1 211.0 L299.6 209.8 L299.0 209.1 L298.2 208.4 L297.0 207.9 L296.1 207.8 L295.0 207.9 L293.8 208.4 L293.0 209.1 L292.4 209.8 L291.9 211.0 L291.8 211.9 L291.9 213.0 L292.4 214.2 L293.0 214.9 L293.8 215.6 L295.0 216.1 L295.9 216.2 L297.0 216.1 L298.2 215.6 L299.0 214.9 L299.6 214.2 L300.1 213.0 L300.2 212.1ZM321.5 211.1 L321.1 210.1 L319.9 208.9 L318.9 208.5 L317.1 208.5 L316.1 208.9 L314.9 210.1 L314.5 211.1 L314.5 212.9 L314.9 213.9 L316.1 215.1 L317.1 215.5 L318.9 215.5 L319.9 215.1 L321.1 213.9 L321.5 212.9Z" fill="#fdfaf7"/>
</g></g>
<g clip-path="url(#cp_r1)"><g filter="url(#ihc)">
<rect x="44.20" y="271.40" width="87.80" height="69.60" fill="#ded2d4"/>
<path d="M123.1 332.8h0M79.8 325.4h0M57.4 306.7h0M65.8 335.6h0M101.6 336.5h0M97.6 292.5h0M86.7 305.5h0M123.9 319.7h0M109.8 307.2h0M81.6 339.7h0M50.1 319.0h0M125.9 317.6h0M91.3 309.3h0M62.3 313.2h0M118.0 280.9h0M111.1 306.3h0M69.0 323.9h0M70.5 326.0h0M119.5 300.7h0M69.3 303.2h0M119.2 323.3h0M57.5 330.9h0M77.3 300.1h0M72.7 318.6h0M126.7 332.8h0M60.7 289.5h0M105.6 333.4h0M101.2 298.8h0M79.4 275.8h0M97.2 331.5h0M65.5 318.8h0M118.3 304.4h0M78.5 295.8h0M55.0 329.1h0M115.1 313.5h0M112.0 285.4h0M85.2 332.4h0M88.6 277.8h0M118.2 326.8h0M86.6 292.0h0M63.3 271.7h0M44.3 333.6h0M109.9 273.2h0M98.7 282.4h0M66.1 326.2h0M119.9 298.1h0M130.8 275.4h0M85.7 286.5h0M131.3 316.8h0M105.9 291.4h0M83.7 274.8h0M58.1 316.9h0M72.2 283.0h0M53.1 275.0h0M93.8 332.5h0M93.9 300.6h0M128.1 333.7h0M63.9 282.7h0M77.3 302.2h0M94.1 319.2h0M88.3 324.6h0M126.0 323.9h0M71.6 279.3h0M121.9 281.1h0M50.1 278.3h0M82.3 283.4h0M115.2 302.9h0M65.1 276.5h0M110.6 299.0h0M59.9 306.8h0M99.2 315.5h0M118.6 297.1h0M61.4 309.5h0M124.7 312.8h0M63.2 307.4h0M51.8 304.2h0M88.2 287.7h0M55.8 318.8h0M46.8 276.5h0M125.1 294.7h0M111.0 302.7h0M116.6 326.0h0M94.5 336.5h0M94.2 278.6h0M102.7 303.7h0M91.9 307.2h0M60.9 291.7h0M57.1 298.9h0M46.0 320.7h0M88.8 337.5h0M130.7 306.7h0M76.7 294.3h0M78.1 319.3h0M123.6 285.0h0M127.3 306.9h0M92.0 325.4h0M76.7 274.9h0M63.1 329.4h0M105.1 291.2h0M60.1 272.8h0M50.6 331.9h0M129.1 306.0h0M121.3 321.4h0M121.7 329.1h0M58.0 320.0h0M117.0 340.8h0M93.1 330.1h0M87.8 277.4h0M83.1 292.6h0M60.9 307.0h0M127.5 294.0h0M56.5 277.5h0M70.5 314.3h0M94.0 274.5h0M128.2 287.8h0M53.8 290.0h0M130.8 314.6h0M70.5 316.8h0M92.8 337.6h0M57.5 331.8h0" stroke="#a8909c" stroke-width="1.3" stroke-linecap="round" fill="none"/>
<path d="M128.1 295.1h0M77.7 286.2h0M94.5 298.7h0M68.9 279.5h0M50.5 274.8h0M115.7 325.4h0M109.5 326.6h0M131.6 338.0h0M129.9 299.5h0M52.4 318.6h0M69.6 325.5h0M116.6 323.8h0M91.0 338.6h0M76.9 337.8h0M72.5 316.1h0M63.3 307.0h0M83.9 330.3h0M60.5 331.6h0M85.7 306.7h0M129.4 326.6h0M103.1 296.1h0M97.3 323.1h0M78.0 294.3h0M73.3 305.9h0M75.1 328.3h0M124.9 283.2h0M101.1 321.4h0M63.3 333.1h0M97.4 311.2h0M108.0 319.5h0M58.4 281.4h0M121.6 324.3h0M116.5 335.7h0M52.5 276.2h0M71.5 298.0h0M79.7 294.6h0M90.2 306.3h0M101.2 302.9h0M123.8 339.7h0M114.2 300.5h0M121.6 297.7h0M97.1 319.3h0M125.3 334.8h0M82.9 335.9h0M51.5 297.8h0M109.3 318.4h0M106.1 273.8h0M110.2 335.4h0M83.1 298.1h0M83.5 323.7h0M53.4 312.4h0M128.1 314.5h0M66.0 293.3h0M62.9 297.3h0M108.6 327.6h0M83.4 283.9h0M109.1 280.8h0M48.7 314.9h0M86.6 327.5h0M116.2 285.9h0M72.4 313.6h0M86.1 324.2h0M70.6 339.7h0M56.5 338.7h0M121.5 307.4h0M122.2 324.4h0M129.2 323.3h0M127.6 295.7h0M75.1 331.1h0M50.1 337.1h0M52.2 272.7h0M121.0 307.6h0M127.0 299.8h0M93.1 320.0h0M97.8 324.2h0M116.7 301.2h0M74.9 331.6h0M54.1 299.3h0M105.7 286.3h0M121.2 334.3h0M122.0 311.7h0M59.5 330.5h0M113.9 273.5h0M102.6 282.7h0M113.5 322.6h0M66.1 307.1h0M120.2 281.7h0M124.3 320.0h0M89.4 278.2h0M88.0 339.5h0M55.6 291.1h0M48.4 309.3h0M82.4 293.1h0M108.6 330.9h0M107.7 295.8h0M124.7 309.2h0M120.4 308.3h0M57.2 311.7h0M77.2 299.6h0M121.6 296.4h0M125.0 322.5h0M109.6 309.6h0M63.7 304.0h0M129.4 274.6h0M55.1 338.7h0M62.3 290.4h0M63.3 335.4h0M114.4 283.9h0M70.0 285.8h0M118.0 329.2h0M111.7 293.8h0M70.8 314.9h0M110.9 329.0h0M129.4 317.3h0M130.9 288.0h0M96.2 289.7h0M50.9 284.4h0M58.8 302.1h0M97.4 322.9h0M51.8 309.4h0M119.4 324.6h0M130.4 275.6h0M72.1 287.1h0M76.8 322.5h0M57.9 315.5h0M52.1 312.2h0M106.0 285.1h0M84.3 279.2h0M131.4 275.0h0M116.8 314.4h0" stroke="#b8a0a6" stroke-width="1.0" stroke-linecap="round" fill="none"/>
<path d="M110.3 277.4h0M81.1 303.5h0M64.7 292.0h0M109.3 295.2h0M119.5 309.5h0M74.1 325.7h0M48.8 334.5h0M101.4 293.3h0M91.6 278.7h0M124.9 321.8h0M52.5 286.9h0M45.1 332.6h0M50.6 273.2h0M122.8 331.9h0M111.6 287.9h0M106.7 276.9h0M50.8 328.8h0M108.5 293.4h0M46.5 309.1h0M75.7 317.5h0M108.2 308.6h0M97.8 337.8h0M95.9 317.5h0M119.8 323.7h0M82.1 340.2h0M81.3 331.0h0M96.8 273.9h0M71.4 274.9h0M128.8 328.9h0M63.0 291.6h0M124.3 314.2h0M62.4 324.3h0M55.3 294.6h0M111.7 297.8h0M113.6 283.3h0M69.9 278.2h0M75.1 304.8h0M95.0 322.6h0M103.4 310.1h0M130.3 283.7h0M81.2 294.5h0M116.2 323.3h0M100.9 304.9h0M121.6 332.3h0M47.9 286.9h0M86.7 295.5h0M55.1 318.1h0M90.3 288.0h0M90.0 282.0h0M128.8 279.8h0M98.2 279.5h0M54.7 281.7h0M120.5 280.9h0M124.9 314.9h0M88.9 312.4h0M124.1 325.1h0M123.3 276.3h0M119.3 315.6h0M112.8 285.4h0M100.3 287.1h0M107.2 297.0h0M110.4 326.7h0M56.5 288.7h0M81.6 324.9h0M93.2 285.6h0M91.7 286.2h0M125.0 280.8h0M122.5 319.0h0M113.2 317.8h0M128.1 321.7h0M62.3 311.7h0M88.4 323.6h0M49.2 280.3h0M62.7 289.3h0M96.8 291.8h0M95.5 340.7h0M65.2 289.8h0M77.8 325.3h0M116.6 326.1h0M123.3 298.8h0M126.0 340.4h0M96.5 301.9h0M57.0 338.3h0M107.3 294.9h0M74.8 293.3h0M60.9 309.1h0M80.0 307.1h0M46.8 311.9h0M95.0 326.9h0M115.1 281.1h0M71.8 293.8h0M128.7 310.0h0M130.3 313.0h0M103.8 298.7h0M75.3 317.0h0M128.5 316.2h0M131.4 295.5h0M102.7 283.2h0M114.9 323.3h0M85.0 276.5h0M57.7 285.8h0M69.0 332.4h0M132.0 307.3h0M108.4 281.8h0M110.9 332.0h0M109.7 278.4h0M120.3 314.8h0M60.0 323.1h0M114.0 321.5h0M60.4 320.4h0M100.4 337.1h0M128.8 301.5h0M126.4 324.6h0M108.7 334.2h0M80.1 322.5h0M117.8 306.7h0M131.4 315.5h0M128.1 296.8h0M46.0 299.6h0M69.9 327.5h0M121.6 300.3h0M122.0 287.1h0M115.1 328.1h0M85.3 312.8h0M86.0 289.6h0M82.3 302.9h0M55.2 288.0h0M47.1 278.4h0M107.3 274.3h0M109.6 314.3h0M81.0 325.6h0M107.6 290.3h0M128.3 272.2h0M68.2 304.7h0M127.4 324.0h0M63.8 316.8h0M84.9 322.7h0M107.4 313.3h0M97.0 301.1h0M73.3 283.8h0M79.8 330.4h0M60.0 309.0h0M103.0 322.3h0M89.2 320.0h0M51.9 328.9h0M113.1 325.6h0M123.4 320.6h0M60.6 309.1h0M128.6 334.6h0M82.0 293.7h0" stroke="#9a8494" stroke-width="1.0" stroke-linecap="round" fill="none"/>
<path d="M114.5 336.4h0M119.7 326.7h0M49.0 333.8h0M103.0 275.8h0M73.3 311.1h0M124.2 318.7h0M90.6 290.0h0M98.0 329.1h0M115.3 275.0h0M130.1 301.3h0M88.2 330.5h0M114.3 284.1h0M113.7 304.3h0M103.8 326.9h0M97.8 331.4h0M126.3 340.8h0M128.3 320.9h0M72.2 282.3h0M106.4 334.9h0M82.0 325.4h0M100.0 287.6h0M49.6 274.2h0M45.6 337.1h0M115.4 289.5h0M55.0 284.2h0M113.8 307.0h0M66.9 272.6h0M105.9 319.4h0M47.2 299.1h0M54.9 296.0h0M92.6 302.5h0M81.3 336.5h0M92.3 300.4h0M107.2 336.9h0M106.8 302.0h0M63.7 322.7h0M87.3 322.5h0M83.8 328.9h0M117.5 326.8h0M108.5 330.2h0M103.1 288.4h0M130.8 326.0h0M123.0 327.2h0M76.5 274.8h0M55.0 331.4h0M130.6 287.1h0M74.1 317.5h0M71.7 281.7h0M108.8 325.6h0M111.4 303.6h0M101.0 306.3h0M69.2 281.3h0M73.3 337.9h0M53.8 276.5h0M51.2 323.9h0M112.9 287.6h0M99.1 289.9h0M52.1 302.5h0M52.1 279.2h0M76.4 277.5h0M118.6 328.8h0M124.9 317.4h0M104.5 316.2h0M68.2 320.4h0M121.4 292.9h0M80.4 323.2h0M76.7 280.9h0M67.1 337.8h0M117.4 308.7h0M71.2 326.0h0M119.6 312.9h0M74.0 323.4h0M47.1 279.2h0M126.3 335.6h0M97.0 274.7h0M57.3 309.9h0M53.8 335.7h0M68.4 336.6h0M60.9 327.5h0M61.3 293.6h0M114.7 307.5h0M101.7 296.4h0M94.3 338.2h0M128.6 308.0h0M44.8 283.9h0M68.0 313.8h0M99.8 324.8h0M100.2 290.7h0M97.3 288.2h0M118.1 295.4h0M109.2 310.7h0M101.5 297.9h0M94.6 290.9h0M75.0 280.4h0M89.2 325.7h0M117.6 273.9h0M84.4 322.6h0M49.9 319.0h0M99.3 326.7h0M129.6 299.2h0M46.5 301.1h0M97.0 333.3h0M52.7 301.4h0M128.2 317.6h0M49.9 281.3h0M122.2 282.8h0M115.9 288.9h0M62.2 291.4h0M121.7 308.2h0M125.9 326.2h0M123.2 293.2h0M104.3 304.0h0M50.1 323.0h0M120.3 313.4h0M125.7 306.5h0M132.0 307.7h0M102.2 315.3h0" stroke="#9a8494" stroke-width="1.3" stroke-linecap="round" fill="none"/>
<path d="M124.8 321.8h0M121.1 282.9h0M72.4 336.9h0M45.0 322.6h0M127.0 311.0h0M68.4 330.3h0M125.5 301.0h0M110.1 305.9h0M89.8 320.8h0M69.5 281.7h0M69.1 337.0h0M115.3 281.6h0M46.9 314.7h0M92.0 277.1h0M114.3 313.5h0M127.8 272.7h0M45.6 336.1h0M103.7 301.6h0M90.2 318.4h0M64.4 311.4h0M101.1 289.5h0M84.1 330.4h0M68.6 309.7h0M126.0 292.2h0M107.8 303.8h0M90.7 317.7h0M60.8 314.4h0M103.5 317.2h0M128.6 336.8h0M67.0 299.4h0M88.3 291.9h0M64.5 298.3h0M115.2 299.4h0M67.0 306.6h0M111.7 327.4h0M102.6 313.4h0M65.8 301.7h0M44.2 325.3h0M52.4 322.1h0M109.6 278.5h0M119.7 339.0h0M88.9 274.8h0M120.2 339.5h0M110.4 317.1h0M61.1 290.4h0M65.4 315.8h0M76.3 273.0h0M77.9 316.8h0M95.8 281.9h0M47.4 328.4h0M58.9 317.8h0M49.4 336.5h0M75.5 305.2h0M60.9 276.3h0M103.5 284.5h0M112.7 286.6h0M117.7 298.6h0M100.6 308.4h0M49.4 338.0h0M107.6 324.1h0M61.7 332.9h0M122.9 339.9h0M59.4 281.9h0M86.2 295.0h0M85.3 299.8h0M103.4 299.8h0M63.2 288.7h0M64.1 338.1h0M114.0 280.6h0M131.0 300.1h0M55.7 322.0h0M50.6 332.0h0M104.1 291.5h0M116.2 328.8h0M113.5 309.1h0M75.6 302.3h0M63.3 278.1h0M125.9 305.1h0M71.2 283.9h0M114.2 338.3h0M123.4 312.5h0M91.0 281.2h0M93.1 328.3h0M47.9 299.4h0M44.4 279.4h0M131.4 275.7h0M127.9 299.7h0M105.2 318.4h0M66.2 272.9h0M66.3 293.2h0M124.9 329.1h0M55.2 294.1h0M75.5 331.5h0M50.7 340.7h0M126.2 277.5h0M109.4 308.5h0M44.8 275.7h0M104.5 291.4h0M92.0 318.3h0M49.3 317.5h0M75.7 316.2h0M52.9 301.5h0M91.8 271.8h0M51.6 276.9h0M59.2 319.2h0M105.5 316.3h0M76.9 323.7h0M94.8 318.1h0M114.5 338.7h0M49.0 295.2h0M120.3 310.8h0M73.2 339.8h0M72.8 289.8h0M97.0 302.1h0M103.4 295.4h0M64.9 297.2h0M124.6 302.6h0M101.4 282.0h0M122.9 302.6h0M94.8 278.0h0M104.6 301.3h0M71.8 272.0h0M60.1 304.2h0M116.5 291.7h0M75.1 290.0h0" stroke="#c0a0a0" stroke-width="1.0" stroke-linecap="round" fill="none"/>
<path d="M126.2 314.2h0M83.2 289.9h0M126.7 314.1h0M105.3 339.5h0M89.3 320.5h0M57.4 335.6h0M125.8 320.6h0M66.8 300.3h0M54.4 321.2h0M102.8 307.4h0M111.4 337.0h0M114.8 323.5h0M105.3 299.9h0M119.8 322.9h0M80.0 296.0h0M103.8 299.3h0M127.3 280.0h0M97.2 320.4h0M70.7 287.4h0M117.3 328.5h0M100.7 314.9h0M50.6 283.8h0M79.3 314.9h0M54.5 271.7h0M120.0 314.1h0M64.0 287.5h0M87.6 314.2h0M73.3 290.2h0M127.9 308.3h0M116.6 321.2h0M53.5 303.9h0M54.5 282.8h0M77.7 324.7h0M71.3 292.1h0M93.7 338.5h0M117.2 301.7h0M57.9 296.5h0M71.0 336.1h0M61.7 316.6h0M66.1 312.5h0M67.4 278.9h0M73.4 317.4h0M107.6 294.8h0M76.3 335.8h0M112.4 288.4h0M105.4 325.8h0M82.5 304.6h0M121.7 310.8h0M120.7 313.0h0M131.8 274.0h0M57.5 315.0h0M115.4 305.5h0M103.6 281.4h0M74.1 298.2h0M112.1 310.5h0M92.4 298.8h0M71.9 310.4h0M128.9 307.0h0M118.7 304.4h0M59.7 273.6h0M121.9 323.3h0M98.5 307.3h0M79.3 329.4h0M106.6 330.0h0M65.1 292.0h0M45.3 279.7h0M119.1 309.4h0M99.5 327.1h0M61.2 280.6h0M86.6 315.0h0M105.6 284.6h0M88.1 292.7h0M109.2 300.4h0M53.9 301.8h0M58.0 301.8h0M80.4 305.5h0M96.4 282.5h0M121.3 299.3h0M115.6 312.9h0M82.0 298.8h0M116.7 308.5h0M110.4 322.4h0M69.5 336.8h0M104.4 320.7h0M117.5 316.8h0M118.5 312.4h0M86.5 322.8h0M66.8 301.5h0M106.9 314.6h0M118.7 299.0h0M44.9 279.8h0M110.3 337.1h0M55.7 312.1h0M55.5 297.0h0M69.7 323.5h0M92.5 276.8h0M115.6 294.2h0M48.2 289.1h0M120.9 307.6h0M45.6 327.0h0M117.5 325.4h0M95.3 329.0h0M98.5 290.0h0" stroke="#a8909c" stroke-width="1.0" stroke-linecap="round" fill="none"/>
<path d="M53.9 294.1h0M90.8 318.4h0M130.2 308.5h0M100.9 326.8h0M99.4 308.8h0M49.7 314.3h0M99.2 328.9h0M117.2 309.8h0M53.1 327.7h0M60.1 286.8h0M105.1 320.2h0M65.4 336.4h0M90.1 324.1h0M130.0 275.3h0M83.2 305.8h0M127.2 330.4h0M72.1 299.0h0M59.3 334.6h0M57.7 307.1h0M60.0 275.0h0M119.4 283.3h0M64.0 282.5h0M50.6 295.4h0M56.0 292.3h0M68.7 276.1h0M88.6 312.6h0M119.8 284.9h0M69.2 298.3h0M73.0 300.6h0M113.5 340.6h0M119.0 325.1h0M75.1 327.8h0M53.2 326.8h0M63.4 296.7h0M80.3 290.2h0M64.0 296.7h0M113.0 325.8h0M91.3 340.2h0M94.8 304.3h0M47.2 323.9h0M58.0 275.6h0M111.1 331.3h0M61.5 301.1h0M130.9 338.4h0M61.4 340.1h0M96.5 339.2h0M103.9 315.5h0M122.5 315.0h0M82.9 295.2h0M116.7 283.5h0M67.7 285.1h0M123.4 326.7h0M89.9 312.8h0M62.3 340.3h0M100.3 321.2h0M108.8 287.1h0M99.7 331.1h0M99.4 322.8h0M88.4 294.3h0M78.7 327.3h0M71.5 305.4h0M117.4 308.5h0M67.2 335.4h0M125.4 289.9h0M90.8 287.6h0M64.7 291.0h0M94.9 328.0h0M118.1 312.6h0M116.7 325.7h0M116.3 273.5h0M118.4 309.5h0M112.6 305.8h0M46.6 313.9h0M117.2 315.6h0M96.3 317.0h0M113.3 311.8h0M115.3 317.5h0M91.3 274.2h0M57.0 324.1h0M122.3 321.5h0M64.3 296.8h0M124.4 303.6h0M46.9 297.2h0M98.4 272.6h0M130.2 272.8h0M74.4 278.7h0M93.7 288.2h0M98.4 310.8h0M109.9 340.8h0M50.1 325.5h0M130.7 327.5h0M101.2 292.0h0M87.8 274.1h0M118.3 305.6h0M128.1 320.9h0M62.3 304.4h0M126.5 305.6h0M109.6 324.5h0M127.1 310.0h0M92.0 323.4h0M112.3 316.6h0M86.0 329.8h0M102.0 327.1h0M99.3 301.3h0M119.6 312.5h0M116.3 304.5h0M84.8 303.1h0" stroke="#b8a0a6" stroke-width="1.3" stroke-linecap="round" fill="none"/>
<path d="M94.2 338.6h0M99.5 283.2h0M44.6 279.7h0M58.9 302.4h0M53.2 276.3h0M113.5 308.7h0M103.6 337.0h0M74.9 284.8h0M85.7 275.3h0M51.5 298.7h0M127.5 338.6h0M113.3 336.9h0M122.9 340.7h0M82.4 287.3h0M50.7 312.9h0M121.0 295.1h0M126.0 286.8h0M47.6 338.5h0M49.0 313.3h0M111.0 317.0h0M104.6 288.1h0M112.0 301.7h0M46.2 332.5h0M113.2 327.0h0M102.6 299.8h0M94.2 300.5h0M124.9 320.4h0M112.1 282.1h0M67.1 326.2h0M66.2 319.8h0M63.8 308.7h0M129.3 307.9h0M119.0 298.9h0M71.1 276.1h0M55.0 319.4h0M93.8 297.7h0M86.4 331.2h0M47.8 340.0h0M126.9 308.2h0M44.5 300.0h0M120.1 277.8h0M127.9 282.6h0M94.1 289.0h0M120.9 291.9h0M62.6 321.4h0M126.3 307.1h0M126.1 327.5h0M71.1 317.7h0M86.2 312.3h0M50.6 309.2h0M73.8 313.2h0M84.5 278.0h0M117.6 333.3h0M67.7 283.3h0M110.6 280.6h0M83.5 317.6h0M117.8 325.3h0M69.7 272.3h0M92.6 311.1h0M85.5 296.4h0M49.2 309.7h0M110.7 306.1h0M78.3 285.1h0M119.1 303.5h0M121.2 291.3h0M123.7 311.1h0M121.4 312.3h0M51.7 323.2h0M122.1 320.1h0M118.7 298.2h0M50.7 324.0h0M126.3 303.5h0M116.6 317.9h0M49.9 309.1h0M127.2 317.9h0M59.0 306.1h0M60.0 315.5h0M112.4 285.0h0M76.5 286.6h0M115.4 300.0h0M63.4 289.6h0M60.8 304.3h0M126.4 321.3h0M55.8 314.1h0M113.3 307.7h0M58.8 296.4h0M59.5 288.9h0M58.1 292.3h0M73.7 319.4h0M49.1 319.3h0M82.0 308.9h0M52.4 319.4h0M109.8 332.0h0M117.3 288.5h0M124.3 337.3h0M61.5 274.2h0M114.2 330.5h0M65.3 278.2h0M84.7 336.4h0M85.0 306.5h0M83.4 323.6h0M68.0 332.5h0M52.8 338.0h0M127.8 312.1h0M120.7 276.3h0M124.7 318.9h0M84.3 330.8h0M66.6 299.3h0M63.3 322.0h0M125.2 276.3h0M73.4 304.3h0M124.9 273.7h0" stroke="#c0a0a0" stroke-width="1.3" stroke-linecap="round" fill="none"/>
<path d="M69.0 274.3 L68.1 273.0 L66.7 271.9 L65.0 271.2 L63.3 270.9 L61.4 271.2 L59.7 271.9 L58.3 273.0 L57.7 273.7 L57.6 274.2 L60.1 283.9 L61.4 284.4 L63.1 284.7 L64.9 284.5 L66.7 283.7 L68.1 282.6 L69.2 281.2 L69.7 279.8ZM71.4 277.9 L71.9 279.2 L72.9 280.5 L74.3 281.6 L75.7 282.2 L77.3 282.4 L79.1 282.2 L80.6 281.5 L81.9 280.5 L83.6 277.0 L83.7 276.0 L83.5 274.4 L82.8 272.9 L81.9 271.7 L80.5 270.6 L79.1 270.0 L77.5 269.8 L75.7 270.0 L74.3 270.6 L73.0 271.6 L71.9 273.0 L71.3 274.4 L71.1 275.7ZM95.8 282.7 L96.0 282.2 L93.4 276.4 L91.6 275.7 L89.7 275.4 L88.0 275.7 L86.0 276.6 L83.0 282.8 L83.2 284.1 L83.8 285.7 L84.9 287.1 L86.4 288.3 L88.6 289.0 L89.0 288.9ZM108.9 283.2 L109.1 283.6 L109.6 283.8 L119.8 282.4 L120.0 282.0 L120.8 273.0 L120.3 272.2 L118.6 270.8 L116.7 270.0 L114.7 269.8 L112.5 270.0 L110.6 270.8 L109.8 271.4 L109.6 271.8ZM56.4 277.1 L55.2 276.1 L53.9 275.5 L52.7 275.3 L51.3 275.5 L50.1 276.0 L48.9 276.9 L48.2 277.9 L47.6 279.1 L47.4 280.6 L47.7 281.8 L51.6 285.5 L52.7 285.7 L53.9 285.5 L55.1 285.0 L56.3 284.1 L57.0 283.1 L57.5 282.0ZM50.7 301.3 L51.1 301.3 L58.5 297.9 L59.2 296.5 L59.5 294.6 L59.3 293.0 L58.6 291.3 L57.4 289.8 L55.7 288.6 L52.8 288.6 L52.4 288.7 L45.9 296.1 L46.6 298.1 L47.7 299.5 L49.1 300.6ZM77.1 292.8 L77.2 291.9 L76.9 290.2 L76.2 288.5 L75.2 287.2 L73.7 286.0 L72.1 285.4 L70.4 285.1 L68.5 285.4 L66.9 286.0 L65.5 287.1 L64.3 288.6 L63.7 290.2 L63.4 291.9 L63.6 293.7 L64.3 295.4 L65.4 296.8 L66.7 297.8 L75.2 296.7 L75.9 295.9ZM97.7 284.0 L97.2 284.0 L90.3 290.3 L90.1 290.7 L92.5 294.8 L97.5 297.6 L103.6 294.6 L104.7 292.3 L104.9 290.3 L104.7 288.2 L103.9 286.4ZM90.2 295.5 L90.3 294.9 L87.9 291.1 L83.3 289.5 L82.5 289.5 L80.5 290.3 L79.8 290.9 L77.5 297.4 L81.1 303.8 L81.7 304.0ZM112.4 285.4 L111.8 285.8 L110.9 287.0 L110.2 288.6 L110.0 290.1 L110.2 291.8 L110.9 293.4 L111.9 294.7 L113.7 295.9 L118.6 294.4 L122.2 288.6 L122.2 288.1 L121.7 287.0 L120.7 285.7 L119.0 284.5ZM120.8 294.6 L120.9 295.2 L126.4 300.5 L127.7 300.0 L128.8 299.2 L129.6 298.1 L130.2 296.8 L130.4 295.6 L130.2 294.2 L129.6 292.9 L128.9 291.9 L127.8 291.1 L126.5 290.5 L125.1 290.3 L123.2 290.8ZM52.0 303.0 L51.2 304.5 L51.0 306.3 L51.3 307.7 L59.7 312.4 L60.4 312.2 L64.1 306.6 L63.6 302.4 L62.7 301.3 L61.4 300.3 L59.8 299.6 L59.4 299.6ZM76.1 298.9 L75.5 298.5 L67.2 299.7 L66.9 299.9 L66.1 301.0 L65.6 302.4 L66.1 306.0 L75.7 310.0 L76.2 309.9 L77.0 309.2 L78.1 307.8 L78.8 306.1 L79.0 304.3 L78.9 303.8ZM92.2 296.8 L91.6 296.9 L83.9 304.6 L84.4 305.8 L85.4 307.1 L86.7 308.1 L88.1 308.7 L89.9 308.9 L91.5 308.7 L92.9 308.1 L94.3 307.0 L95.2 305.8 L95.8 304.5 L96.1 302.3 L95.9 300.9 L95.3 299.5 L94.2 298.1ZM97.5 306.4 L98.0 307.8 L99.2 309.3 L100.6 310.4 L102.1 311.0 L102.5 311.0 L109.9 307.6 L110.2 307.3 L110.7 306.1 L110.9 304.5 L110.6 302.6 L109.9 300.9 L108.9 299.6 L107.4 298.4 L105.8 297.8 L104.1 297.5 L102.2 297.8 L100.5 298.5 L99.2 299.5 L98.3 300.6ZM114.6 297.7 L114.3 298.0 L113.8 299.3 L113.6 300.8 L113.8 302.5 L114.5 304.1 L115.4 305.3 L116.7 306.3 L118.3 307.0 L119.8 307.2 L121.5 307.0 L124.1 305.5 L125.3 304.1 L125.8 303.1 L125.7 302.6 L119.4 296.4 L118.9 296.3ZM50.5 309.6 L50.1 309.5 L49.1 310.0 L47.7 311.1 L46.6 312.5 L46.0 314.1 L45.7 315.8 L46.0 317.7 L46.7 319.4 L47.7 320.7 L49.2 321.9 L50.8 322.5 L52.5 322.8 L54.4 322.5 L56.0 321.9 L57.4 320.8 L58.5 319.4 L59.3 317.6 L59.5 316.0 L59.3 314.6 L59.1 314.2ZM69.3 320.0 L70.3 319.8 L72.0 319.1 L73.4 318.0 L74.4 316.7 L75.2 314.9 L75.4 313.3 L75.3 312.1 L75.0 311.7 L65.9 308.0 L65.5 308.1 L61.8 313.6 L61.9 315.0 L62.6 316.7 L63.6 318.0 L64.4 318.7ZM87.2 323.9 L87.7 323.6 L90.4 315.4 L90.3 315.0 L89.3 313.7 L88.0 312.7 L86.2 311.9 L84.6 311.7 L82.8 311.9 L81.1 312.6 L79.6 313.8 L78.5 315.2 L77.9 316.8 L77.6 318.7 L77.8 320.3 L78.5 322.0 L79.2 322.7ZM89.4 324.7 L89.4 325.1 L91.7 328.6 L99.5 328.7 L100.7 327.8 L102.1 326.1 L102.9 324.2 L103.0 323.4 L99.5 315.5 L97.1 314.3 L95.0 314.1 L92.8 314.4ZM104.2 312.3 L103.8 312.8 L103.2 314.3 L103.0 315.8 L103.2 317.5 L103.9 319.1 L104.8 320.3 L106.1 321.3 L107.7 322.0 L109.2 322.2 L110.9 322.0 L112.5 321.3 L113.8 320.3 L114.7 319.1 L115.4 317.5 L115.6 316.0 L115.4 314.3 L114.7 312.7 L113.8 311.5 L112.5 310.5 L111.0 309.8 L109.8 309.7ZM122.8 308.5 L121.5 310.1 L120.9 311.5 L120.7 313.1 L120.9 314.9 L121.5 316.3 L122.5 317.6 L123.9 318.7 L125.3 319.3 L126.9 319.5 L128.7 319.3 L130.1 318.7 L131.4 317.7 L132.5 316.3 L133.1 314.9 L133.3 313.3 L133.1 311.5 L132.5 310.1 L131.5 308.8 L130.1 307.7 L128.7 307.1 L127.1 306.9 L125.3 307.1ZM57.7 324.2 L57.3 325.6 L60.3 333.8 L61.0 334.4 L62.9 335.2 L65.1 335.4 L67.1 335.2 L69.0 334.4 L70.7 333.0 L72.0 331.4 L72.8 329.5 L73.0 327.5 L72.8 325.4 L72.0 323.4 L71.0 322.3 L61.7 320.1 L61.3 320.3ZM79.7 324.7 L79.3 324.8 L78.2 325.7 L77.3 326.9 L76.6 328.4 L76.4 330.2 L76.6 331.7 L77.2 333.2 L78.3 334.6 L79.6 335.6 L81.0 336.2 L82.8 336.4 L84.4 336.2 L85.8 335.6 L87.2 334.5 L88.8 331.8 L89.0 330.0 L88.8 328.5 L88.2 327.0 L87.2 325.9ZM104.8 336.0 L105.4 336.7 L107.0 338.0 L108.9 338.8 L110.9 339.0 L113.1 338.8 L115.0 338.0 L116.6 336.7 L117.7 335.4 L117.8 335.1 L116.5 325.4 L116.4 325.0 L115.1 324.1 L114.6 323.9 L106.0 324.9 L105.4 325.3 L104.0 327.0 L103.2 329.0 L103.0 330.9ZM89.1 335.1 L88.8 337.2 L89.0 338.7 L89.6 340.2 L90.7 341.6 L92.0 342.6 L93.4 343.2 L95.2 343.4 L96.8 343.2 L98.2 342.6 L99.6 341.5 L100.5 340.3 L101.2 338.8 L101.4 337.0 L101.2 335.4 L100.6 334.0 L99.5 332.6 L98.2 331.6 L96.8 331.0 L95.0 330.8 L93.4 331.0 L92.0 331.6 L90.6 332.7ZM119.2 331.0 L119.7 332.3 L120.7 333.6 L122.1 334.7 L123.5 335.3 L125.1 335.5 L126.9 335.3 L128.3 334.7 L129.6 333.7 L130.7 332.3 L131.3 330.9 L131.5 329.3 L131.3 327.5 L130.6 326.0 L129.7 324.8 L128.3 323.7 L126.9 323.1 L125.3 322.9 L123.5 323.1 L122.1 323.7 L120.8 324.7 L119.7 326.1 L119.1 327.5 L118.9 328.9ZM56.9 331.1 L56.2 329.5 L55.3 328.3 L54.0 327.3 L52.4 326.6 L50.9 326.4 L49.2 326.6 L47.6 327.3 L46.3 328.3 L45.4 329.5 L44.7 331.1 L44.5 332.6 L44.7 334.3 L45.4 335.9 L46.3 337.1 L47.6 338.1 L49.2 338.8 L50.7 339.0 L52.4 338.8 L54.0 338.1 L55.3 337.1 L56.2 335.9 L56.9 334.3 L57.1 332.6ZM105.9 276.0 L105.4 274.9 L104.1 273.6 L103.0 273.1 L101.0 273.1 L99.9 273.6 L98.6 274.9 L98.1 276.0 L98.1 278.0 L98.6 279.1 L99.9 280.4 L101.0 280.9 L103.0 280.9 L104.1 280.4 L105.4 279.1 L105.9 278.0ZM131.9 278.0 L131.4 276.9 L130.1 275.6 L129.0 275.1 L127.0 275.1 L125.9 275.6 L124.6 276.9 L124.1 278.0 L124.1 280.0 L124.6 281.1 L125.9 282.4 L127.0 282.9 L129.0 282.9 L130.1 282.4 L131.4 281.1 L131.9 280.0ZM48.3 287.2 L47.9 286.2 L46.8 285.1 L45.8 284.7 L44.2 284.7 L43.2 285.1 L42.1 286.2 L41.7 287.2 L41.7 288.8 L42.1 289.8 L43.2 290.9 L44.2 291.3 L45.8 291.3 L46.8 290.9 L47.9 289.8 L48.3 288.8Z" fill="#fdfaf7"/>
</g></g>
<g clip-path="url(#cp_r2)"><g filter="url(#ihc)">
<rect x="139.00" y="271.40" width="87.60" height="69.60" fill="#d6c8cc"/>
<path d="M187.1 323.6h0M159.5 337.7h0M222.7 278.7h0M182.2 330.6h0M174.0 298.2h0M200.4 282.8h0M180.0 325.1h0M226.5 299.3h0M140.4 323.2h0M181.3 299.8h0M185.0 335.3h0M184.1 302.6h0M216.9 320.6h0M217.9 301.6h0M171.8 306.0h0M224.5 325.4h0M199.5 308.1h0M150.1 309.8h0M221.5 321.5h0M223.2 294.3h0M161.8 321.4h0M141.9 332.8h0M139.7 279.8h0M210.6 310.9h0M173.5 304.2h0M215.5 293.2h0M201.8 329.3h0M175.1 292.0h0M151.6 316.1h0M189.0 311.5h0M192.7 299.6h0M207.4 299.2h0M226.5 293.1h0M143.7 316.5h0M177.3 284.2h0M223.2 320.9h0M148.0 285.1h0M184.7 279.5h0M160.7 294.6h0M214.7 284.7h0M202.5 315.6h0M193.1 278.1h0M188.7 329.8h0M161.6 309.7h0M170.1 303.3h0M152.5 288.3h0M173.4 288.3h0M220.5 278.7h0M167.7 329.0h0M188.6 302.7h0M219.8 289.2h0M158.0 311.1h0M162.7 322.8h0M144.5 336.1h0M208.4 310.7h0M139.0 318.1h0M195.2 306.4h0M180.3 275.3h0M150.9 301.2h0M173.0 329.6h0M185.2 305.3h0M152.3 306.0h0M192.0 294.9h0M183.2 328.4h0M141.8 326.7h0M203.1 324.8h0M175.3 308.6h0M199.8 304.3h0M188.8 280.1h0M217.8 340.1h0M207.9 307.0h0M220.0 295.6h0M162.2 272.0h0M140.5 329.5h0M173.1 334.9h0M172.2 286.0h0M207.9 323.5h0M156.0 271.7h0M211.4 316.2h0M154.2 316.8h0M188.7 292.9h0M220.9 324.8h0M222.4 308.2h0M209.8 273.5h0M213.9 310.3h0M170.5 290.5h0M158.0 283.1h0M176.9 278.8h0M141.8 314.3h0M198.8 275.5h0M171.1 324.5h0M214.9 317.9h0M222.2 275.5h0M185.3 312.3h0M223.1 336.6h0M157.2 336.4h0M141.4 312.7h0M149.0 285.4h0M172.7 338.3h0M205.9 302.9h0M224.5 286.5h0M140.2 293.3h0M143.4 282.4h0M173.6 325.7h0M150.9 333.5h0M218.1 299.9h0M218.4 328.5h0M164.7 322.2h0M218.1 321.6h0M169.1 303.1h0M165.0 296.2h0M189.1 280.5h0M158.5 335.3h0M200.2 288.7h0M215.4 340.2h0M140.8 286.1h0M186.2 322.5h0M156.1 317.5h0M139.4 274.2h0M158.2 302.4h0M210.1 338.7h0M210.4 307.6h0M141.8 327.4h0M143.6 306.3h0M152.4 274.6h0M169.9 340.6h0M181.3 307.0h0M155.5 313.9h0M149.0 330.6h0M189.3 314.6h0M215.1 271.9h0M149.1 306.1h0M219.0 297.3h0M177.4 336.8h0M156.0 324.9h0M185.2 283.0h0M224.0 295.3h0M143.6 336.1h0M196.9 329.5h0M177.5 317.2h0M209.1 307.1h0M194.0 319.9h0M198.3 328.5h0M208.2 340.6h0M148.7 311.0h0M202.9 311.7h0M213.1 326.7h0M142.1 315.9h0M221.7 330.5h0M143.3 327.7h0M184.6 314.7h0M209.0 335.9h0M139.3 282.6h0M197.0 308.1h0M219.9 315.1h0M143.3 321.4h0M178.0 300.7h0M185.9 290.8h0M198.0 304.4h0M203.4 339.2h0M150.6 318.3h0M143.4 338.0h0M223.3 309.0h0M156.0 289.3h0M186.0 327.1h0M142.1 306.4h0M164.2 313.8h0M187.1 325.9h0M197.6 274.2h0M180.3 283.4h0M214.6 323.3h0M180.5 300.9h0M192.1 280.0h0M147.1 334.5h0M143.0 334.3h0M147.4 309.6h0M212.0 279.3h0M147.9 285.8h0M196.4 316.0h0M204.0 340.9h0M174.1 327.4h0M207.8 293.5h0M222.2 314.4h0M148.7 340.2h0M190.9 280.1h0M159.8 279.4h0M199.2 327.9h0M150.8 279.2h0M224.6 301.5h0M155.1 315.6h0M155.2 305.3h0M201.1 337.8h0M163.4 286.0h0M155.6 296.4h0M184.3 308.6h0M180.1 312.7h0M211.3 337.6h0M161.0 297.0h0M177.0 334.3h0M199.9 323.0h0M163.6 294.3h0M148.6 292.7h0M184.6 275.2h0M167.5 338.2h0M221.6 299.0h0M204.0 292.3h0M161.9 292.0h0M192.7 302.0h0M186.2 340.3h0M220.3 335.1h0M147.7 340.3h0M162.3 290.8h0M223.5 273.6h0M183.5 312.2h0M226.5 278.7h0M163.3 323.4h0M172.9 295.4h0M194.7 315.7h0M153.0 324.3h0M223.2 340.0h0M175.3 301.6h0M174.7 308.5h0M163.4 285.5h0M205.2 315.2h0M151.6 273.0h0M222.0 311.2h0M190.8 283.9h0M216.5 330.7h0M221.3 275.4h0M162.2 293.3h0M149.2 317.0h0M153.7 340.8h0M194.2 339.8h0M164.9 331.6h0M163.7 334.7h0M224.6 330.1h0M199.2 320.1h0M222.1 286.2h0M145.0 322.0h0M215.4 281.4h0M178.5 335.8h0M212.9 321.9h0M165.7 315.8h0M166.2 279.3h0M182.6 310.2h0M166.9 275.4h0M209.9 333.4h0M172.0 300.1h0M183.8 305.7h0M162.0 332.7h0M180.9 292.2h0M225.7 286.9h0M210.1 285.0h0M203.9 335.3h0M219.9 272.8h0M148.1 304.8h0M213.6 297.3h0M200.8 295.1h0M163.0 289.7h0M175.8 315.8h0M176.2 275.7h0M150.1 339.9h0M144.2 312.6h0M184.3 335.5h0M173.6 328.1h0M215.4 339.4h0M163.8 310.0h0M147.7 294.9h0M180.7 331.3h0M157.2 333.1h0M148.0 320.0h0M169.3 315.9h0M169.9 325.1h0M200.9 275.6h0M151.0 317.1h0M158.4 284.2h0M202.1 332.7h0M195.4 275.5h0M193.3 334.1h0M179.3 277.2h0M139.6 338.3h0M213.7 279.6h0M139.4 320.9h0M211.9 306.7h0M194.7 320.4h0M157.5 292.9h0M211.9 302.6h0M189.9 295.6h0M167.0 295.3h0M169.0 306.2h0M156.7 291.6h0M221.8 318.6h0M139.3 320.0h0M205.9 295.8h0M164.1 280.8h0M177.7 306.8h0M191.9 321.1h0M221.7 330.5h0M153.4 332.9h0M151.4 307.2h0M168.2 330.3h0M158.3 291.6h0M211.2 320.5h0M190.5 315.1h0M182.9 336.9h0M204.9 272.3h0M220.7 340.7h0M172.7 293.6h0M159.3 283.9h0M217.9 313.5h0M156.4 318.3h0" stroke="#7c6476" stroke-width="1.0" stroke-linecap="round" fill="none"/>
<path d="M164.0 338.6h0M182.2 327.0h0M188.3 322.5h0M173.9 273.4h0M152.3 307.2h0M218.7 280.7h0M206.4 314.3h0M189.3 339.3h0M208.3 325.3h0M148.3 288.6h0M140.5 328.0h0M198.0 283.9h0M145.9 315.6h0M161.2 302.8h0M191.1 318.1h0M181.2 317.2h0M167.9 305.7h0M184.5 326.1h0M177.6 326.3h0M196.0 277.7h0M224.1 319.5h0M170.7 324.5h0M178.3 281.1h0M139.3 316.7h0M202.7 284.7h0M163.4 305.5h0M171.9 334.2h0M179.1 319.3h0M145.4 305.4h0M218.4 306.3h0M174.4 333.1h0M180.7 325.7h0M155.4 295.2h0M193.0 310.7h0M196.8 289.4h0M218.3 285.5h0M189.9 285.3h0M184.9 286.1h0M200.6 279.9h0M143.0 301.0h0M202.5 286.0h0M207.3 273.8h0M141.1 318.5h0M186.9 316.8h0M145.6 297.3h0M216.8 297.7h0M188.5 306.3h0M148.8 311.9h0M154.6 309.4h0M156.7 298.0h0M179.4 331.9h0M197.5 282.6h0M214.3 320.3h0M201.1 311.8h0M196.6 277.8h0M203.1 290.5h0M153.5 280.7h0M163.3 306.0h0M154.3 300.1h0M222.0 309.1h0M211.3 328.1h0M155.6 303.4h0M213.3 276.0h0M142.5 280.0h0M144.5 292.5h0M173.1 280.1h0M148.5 285.1h0M162.0 323.6h0M186.7 297.7h0M217.4 308.3h0M213.7 300.9h0M147.3 291.4h0M216.4 313.6h0M224.6 310.4h0M195.4 274.1h0M177.5 281.8h0M152.5 323.9h0M151.5 302.2h0M172.3 273.8h0M175.6 302.8h0M224.8 283.0h0M193.3 274.3h0M174.0 282.1h0M215.8 336.6h0M163.7 324.4h0M147.0 331.1h0M196.7 299.4h0M142.0 298.5h0M164.1 304.7h0M156.0 288.2h0M186.7 288.7h0M196.7 284.7h0M164.3 276.4h0M199.9 316.2h0M194.9 335.1h0M151.1 330.6h0M157.8 330.5h0M193.0 291.4h0M223.9 272.8h0M207.5 294.6h0M141.1 312.6h0M225.6 322.5h0M211.9 288.7h0M204.4 320.5h0M163.5 323.6h0M208.5 300.2h0M220.3 306.4h0M149.2 292.0h0M150.5 330.3h0M214.4 312.4h0M155.9 323.5h0M151.8 305.4h0M142.5 295.1h0M160.8 319.5h0M198.5 279.2h0M181.2 283.9h0M216.4 339.1h0M182.2 276.4h0M168.0 297.8h0M161.7 334.4h0M207.1 308.8h0M144.6 287.5h0M152.9 305.7h0M212.3 326.9h0M180.1 274.1h0M176.6 340.4h0M221.3 335.0h0M162.1 337.7h0M163.0 319.6h0M156.8 294.8h0M201.1 307.6h0M177.5 296.5h0M206.4 295.7h0M140.4 331.2h0M145.7 311.8h0M204.3 304.8h0M145.6 291.9h0M153.8 288.8h0M142.0 284.0h0M143.6 336.7h0M153.5 341.0h0M208.8 318.3h0M150.1 312.8h0M217.8 300.5h0M140.7 292.4h0M139.4 313.5h0M195.1 273.7h0M157.9 302.3h0M173.2 291.3h0M211.0 284.7h0M157.4 319.3h0M221.4 295.2h0M196.1 273.6h0M204.7 273.7h0M144.9 323.0h0M209.1 321.6h0M200.0 308.2h0M206.3 276.4h0M160.0 312.1h0M195.0 317.1h0M176.8 338.2h0M213.2 276.2h0M195.1 313.0h0M224.9 302.5h0M169.2 272.7h0M223.1 293.2h0M155.6 279.3h0M208.0 315.1h0M198.6 327.4h0M150.7 299.4h0M205.8 311.4h0M178.7 276.4h0M183.7 287.4h0M172.6 293.5h0M195.6 314.9h0M225.3 305.7h0M185.6 333.7h0M176.9 318.9h0M222.4 278.0h0M181.4 329.1h0M190.2 328.6h0M208.3 308.6h0M162.1 295.6h0M197.4 323.7h0M155.2 273.3h0M162.1 291.9h0M148.3 283.6h0M210.1 291.6h0M148.0 335.7h0M177.0 340.0h0M173.3 307.6h0M153.6 328.3h0M207.2 279.0h0M223.3 275.5h0M183.7 311.3h0M141.9 272.5h0M146.9 302.2h0M141.0 329.6h0M153.0 322.9h0M171.4 324.7h0M174.5 299.0h0M206.9 305.4h0M204.0 290.4h0M216.6 311.4h0M189.6 329.4h0M141.3 307.3h0M194.0 275.4h0M157.6 294.6h0M164.5 311.3h0M159.6 293.4h0M185.6 305.5h0M166.7 313.7h0M222.6 315.9h0M143.9 298.6h0M177.8 289.6h0M143.0 298.6h0M171.1 274.8h0M207.7 272.3h0M202.8 303.4h0M192.3 299.1h0M184.6 314.5h0M203.7 279.9h0M168.6 333.4h0M173.6 325.9h0M154.2 326.1h0M199.0 273.1h0M220.5 278.8h0M208.4 275.4h0M212.7 272.8h0M197.7 302.0h0M214.5 301.2h0M209.7 290.9h0M171.9 329.7h0M210.0 281.4h0M201.6 332.7h0M170.3 316.6h0M172.5 303.6h0M163.4 331.2h0M182.9 288.0h0M209.1 317.3h0M176.3 273.7h0M224.1 290.9h0M150.0 286.5h0M167.6 295.8h0M206.7 281.7h0M177.3 289.9h0M175.7 339.3h0M182.8 302.7h0M203.1 294.2h0M147.6 286.8h0M159.0 340.2h0M170.5 338.6h0M223.2 316.3h0M205.2 289.7h0M195.2 316.0h0M188.5 291.2h0M171.9 297.3h0M159.0 294.9h0M154.5 340.1h0M190.4 309.5h0M214.1 331.7h0M150.0 332.9h0M196.9 326.8h0M221.1 331.5h0M167.3 286.3h0M172.2 315.5h0M173.2 290.1h0M222.7 304.5h0M213.1 306.8h0M201.7 277.5h0M168.2 330.8h0M142.2 305.3h0M164.6 274.8h0M188.4 326.4h0M145.0 275.9h0M160.7 329.0h0M218.8 279.7h0M167.0 274.8h0M153.4 327.0h0M214.4 296.5h0M188.1 276.7h0M158.6 326.9h0M223.4 313.2h0M152.8 301.8h0M175.8 319.0h0M216.3 313.5h0M195.3 328.7h0M204.6 308.8h0M151.5 300.0h0M207.0 322.1h0M180.5 297.7h0M176.9 285.1h0M150.5 274.2h0M150.1 336.2h0M165.1 293.2h0M156.5 325.5h0M155.5 329.3h0M192.5 298.3h0M183.4 284.3h0M200.7 321.3h0M180.1 276.1h0M171.3 307.2h0M160.2 324.3h0M196.0 283.7h0M197.1 288.1h0M160.5 321.4h0M168.3 287.2h0M208.5 302.2h0M142.0 316.1h0M188.5 316.4h0M181.1 276.8h0M155.1 294.2h0M143.7 274.7h0M146.0 305.9h0M140.7 322.9h0M220.8 320.3h0M204.3 276.8h0M192.4 297.6h0M217.4 279.8h0M151.8 284.6h0M145.5 293.9h0M181.7 316.0h0M221.2 302.0h0M140.8 340.0h0M174.5 289.3h0M194.1 312.1h0M147.5 278.6h0" stroke="#c0aab4" stroke-width="1.0" stroke-linecap="round" fill="none"/>
<path d="M204.5 323.9h0M173.6 298.5h0M158.3 326.8h0M181.9 292.7h0M188.9 322.4h0M175.0 303.2h0M146.8 313.2h0M151.3 297.9h0M150.1 296.0h0M223.4 284.7h0M161.1 298.5h0M181.4 325.0h0M150.7 277.6h0M218.7 282.5h0M211.5 295.5h0M180.3 327.1h0M226.2 279.8h0M206.8 326.9h0M155.3 281.5h0M203.1 339.5h0M196.6 326.6h0M178.1 297.2h0M192.6 318.9h0M160.8 330.1h0M207.7 301.0h0M176.5 291.0h0M182.3 287.9h0M176.6 313.3h0M157.4 324.7h0M168.0 303.7h0M188.8 315.8h0M223.2 287.7h0M172.9 313.7h0M206.7 314.4h0M153.8 284.5h0M168.3 310.9h0M205.0 333.9h0M163.2 292.8h0M168.5 302.3h0M192.6 292.3h0M195.5 316.7h0M141.3 331.0h0M154.4 296.3h0M202.2 276.0h0M179.9 322.2h0M179.5 336.7h0M188.4 330.3h0M147.4 291.5h0M210.2 286.5h0M216.5 319.9h0M173.3 282.3h0M206.2 306.9h0M160.9 340.3h0M162.4 325.1h0M166.8 307.0h0M219.0 302.0h0M139.1 329.9h0M164.2 290.4h0M150.9 296.1h0M177.3 314.9h0M222.0 340.9h0M225.7 279.3h0M186.9 273.0h0M194.4 327.2h0M159.9 296.5h0M226.1 277.5h0M155.1 271.8h0M215.6 306.6h0M175.4 329.0h0M144.7 336.8h0M219.6 273.2h0M208.1 282.7h0M223.5 325.7h0M161.6 273.1h0M195.5 330.7h0M160.2 296.2h0M199.1 276.7h0M143.6 333.7h0M161.0 339.9h0M140.4 274.0h0M215.5 305.7h0M218.5 289.2h0M157.0 333.8h0M151.5 321.6h0M158.0 329.4h0M140.7 303.0h0M157.9 328.6h0M193.8 274.1h0M199.2 330.1h0M168.7 282.7h0M223.9 311.9h0M196.0 319.4h0M220.3 304.0h0M192.9 329.4h0M151.1 312.6h0M199.1 277.5h0M196.0 309.5h0M143.1 330.8h0M157.5 333.0h0M213.2 314.4h0M170.5 331.0h0M182.5 308.0h0M200.3 323.8h0M220.5 286.7h0M194.7 330.4h0M160.6 286.2h0M217.7 277.7h0M178.6 316.8h0M146.7 327.2h0M198.4 305.4h0M198.3 273.9h0M157.0 306.3h0M155.8 286.0h0M216.4 318.4h0M203.4 335.4h0M152.0 287.3h0M217.7 334.8h0M184.6 283.0h0M191.7 299.5h0M146.5 293.0h0M189.5 271.8h0M188.0 296.2h0M193.8 276.6h0M144.5 276.7h0M188.0 340.0h0M220.2 301.3h0M210.7 292.8h0M225.4 300.0h0M152.4 313.2h0M176.9 335.9h0M220.4 317.9h0M149.4 320.0h0M150.2 287.2h0M183.3 328.7h0M170.0 330.1h0M211.6 296.5h0M206.1 333.1h0M200.2 290.3h0M184.7 340.7h0M152.5 287.2h0M194.3 316.8h0M152.1 327.2h0M165.9 317.5h0M178.9 324.6h0M175.0 294.6h0M217.6 329.2h0M180.5 298.0h0M170.0 330.5h0M191.0 294.5h0M139.8 285.3h0M140.0 319.6h0M212.5 277.3h0M213.1 325.5h0M223.2 327.3h0M155.2 306.8h0M200.5 321.2h0M203.0 311.4h0M196.2 278.7h0M151.9 300.8h0M185.6 325.7h0M145.0 322.7h0M202.4 309.8h0M218.0 279.9h0M212.6 327.4h0M168.8 273.4h0M220.5 285.5h0M215.0 298.5h0M194.5 288.1h0M172.4 317.4h0M208.3 311.4h0M151.6 327.4h0M171.1 285.1h0M164.4 286.2h0M147.0 276.4h0M173.0 276.5h0M159.0 272.7h0M198.7 325.0h0M176.8 311.7h0M143.2 318.2h0M171.7 322.7h0M155.7 336.2h0M170.5 324.4h0M197.5 323.6h0M221.3 276.8h0M209.5 282.4h0M139.0 272.0h0M217.1 318.1h0M208.5 273.9h0M163.3 329.5h0M151.5 274.9h0M206.9 302.6h0M174.6 310.1h0M159.1 335.3h0M201.4 323.0h0M201.1 311.8h0M218.3 316.4h0M214.6 324.4h0M178.0 273.5h0M188.7 340.0h0M205.1 296.9h0M192.0 290.1h0M201.6 303.1h0M173.5 278.0h0M145.8 286.8h0M174.6 313.8h0M215.5 333.9h0M206.2 272.3h0M170.1 317.0h0M162.7 331.7h0M144.3 318.0h0M198.1 291.7h0M140.1 289.4h0M211.9 286.5h0M208.0 285.4h0M171.9 272.0h0M225.6 278.7h0M205.1 305.7h0M196.9 320.5h0M160.9 297.9h0M182.3 275.5h0M199.5 288.6h0M169.4 317.8h0M211.2 293.0h0M157.2 281.2h0M209.2 322.9h0M188.3 308.6h0M194.3 339.4h0M169.3 278.3h0M171.3 278.4h0M175.0 289.7h0M197.5 298.9h0M141.5 295.4h0M183.7 316.6h0M221.6 280.4h0M159.6 311.0h0M174.1 294.7h0M163.7 323.4h0M185.8 273.0h0M182.5 309.3h0M199.2 286.4h0M225.8 303.1h0M146.3 301.1h0M144.0 274.2h0M191.4 275.5h0M148.1 283.4h0M203.8 283.6h0M200.7 325.6h0M196.6 285.7h0M171.0 322.9h0M196.1 273.5h0M164.7 317.8h0M160.8 313.6h0M192.7 275.2h0M223.6 307.5h0M164.5 327.2h0M184.2 273.0h0M149.2 313.1h0M181.6 331.8h0M215.5 302.0h0M184.8 315.4h0M203.4 337.4h0M194.8 271.5h0M225.5 307.9h0M170.0 307.5h0M199.8 339.8h0M172.7 317.2h0M192.1 284.9h0M180.0 314.5h0M181.7 312.8h0M177.3 281.5h0M217.2 303.6h0M156.9 320.6h0M176.1 319.0h0M167.2 290.6h0M189.6 337.7h0M208.0 314.3h0M176.4 339.8h0M142.6 296.8h0M225.8 320.3h0M148.8 283.5h0M188.5 326.5h0M214.1 336.9h0M210.4 306.4h0M200.0 340.1h0M217.1 298.0h0M220.5 316.2h0M200.1 309.7h0M189.2 272.3h0M189.0 324.6h0M170.1 311.6h0M170.0 318.7h0M184.7 283.0h0M172.0 300.0h0M203.4 298.6h0M215.5 296.3h0M163.8 293.7h0M139.5 309.1h0M165.3 301.3h0M160.3 306.5h0M203.1 295.2h0M194.9 317.5h0M168.7 280.0h0M156.0 322.7h0M195.5 303.7h0M148.1 317.0h0M167.6 292.7h0M182.1 333.7h0M151.9 319.6h0M211.7 279.4h0M180.4 317.9h0M141.5 309.6h0M152.7 323.1h0M190.9 305.4h0M168.0 312.3h0M173.7 315.0h0M154.3 312.3h0M173.6 324.9h0M142.4 327.4h0M153.2 333.4h0M171.2 299.9h0M176.7 288.9h0M164.5 328.2h0M157.0 301.1h0M143.4 272.6h0M203.0 288.0h0M205.8 301.4h0" stroke="#7c6476" stroke-width="1.3" stroke-linecap="round" fill="none"/>
<path d="M209.6 335.4h0M139.8 307.2h0M183.1 324.1h0M213.7 302.2h0M164.4 334.0h0M224.9 291.5h0M212.7 292.3h0M184.9 305.9h0M175.3 324.6h0M147.7 324.2h0M170.8 309.7h0M153.7 296.7h0M222.2 334.2h0M156.2 283.8h0M163.4 291.4h0M179.6 332.3h0M218.4 297.3h0M150.2 296.7h0M198.5 279.8h0M187.0 282.0h0M148.6 316.1h0M140.0 277.4h0M193.3 277.1h0M193.5 330.2h0M145.6 280.3h0M224.5 299.6h0M205.8 327.6h0M168.7 309.0h0M180.3 276.7h0M221.7 308.3h0M156.6 288.6h0M193.0 285.7h0M157.7 302.4h0M203.1 281.1h0M145.8 272.7h0M211.2 294.8h0M178.6 307.6h0M151.4 329.7h0M212.0 337.8h0M141.2 329.7h0M218.9 276.4h0M155.3 315.4h0M179.7 274.7h0M206.6 330.8h0M218.5 287.1h0M152.4 275.4h0M197.7 320.6h0M160.2 279.7h0M154.6 290.4h0M224.5 313.8h0M147.9 279.8h0M192.7 318.3h0M188.5 314.1h0M163.6 329.3h0M159.1 338.6h0M178.1 281.2h0M179.3 298.5h0M151.0 316.7h0M143.4 314.5h0M180.5 309.3h0M197.6 304.5h0M218.6 299.1h0M139.9 294.3h0M181.3 287.5h0M184.6 273.1h0M151.1 328.2h0M224.2 328.9h0M162.9 281.1h0M222.4 337.6h0M183.0 295.1h0M224.4 300.5h0M148.4 319.4h0M216.2 337.8h0M148.5 280.2h0M202.2 294.5h0M184.8 292.1h0M178.7 331.6h0M217.0 277.5h0M156.9 304.4h0M204.4 332.1h0M177.3 292.6h0M173.6 307.9h0M157.2 273.9h0M181.0 321.9h0M156.2 316.5h0M165.6 329.1h0M140.7 290.2h0M224.8 323.2h0M176.2 335.2h0M200.1 309.0h0M192.8 273.9h0M192.5 329.0h0M154.2 320.1h0M168.9 287.4h0M147.1 293.3h0M188.9 290.8h0M181.1 339.8h0M185.6 308.5h0M212.8 304.4h0M169.9 334.3h0M187.4 292.1h0M223.7 320.4h0M214.8 299.5h0M154.4 274.0h0M218.3 329.1h0M155.2 283.4h0M177.1 295.4h0M207.5 305.4h0M158.1 283.2h0M139.9 327.0h0M177.8 285.3h0M221.0 326.0h0M140.3 323.1h0M168.4 279.6h0M171.9 281.6h0M177.5 335.1h0M170.9 302.6h0M172.7 297.2h0M178.8 290.9h0M206.7 304.0h0M200.2 337.7h0M218.2 334.5h0M221.7 276.4h0M141.2 302.3h0M153.3 339.7h0M152.2 309.8h0M211.2 291.1h0M181.8 281.6h0M141.3 274.3h0M198.2 294.2h0M187.9 316.6h0M202.6 290.3h0M192.6 309.5h0M149.3 281.7h0M148.1 302.3h0M150.2 293.1h0M198.7 335.6h0M148.4 333.4h0M223.9 282.3h0M204.5 289.9h0M171.4 275.4h0M174.2 301.7h0M171.6 307.5h0M205.8 321.6h0M142.8 327.3h0M158.2 329.4h0M210.3 282.8h0M153.5 317.8h0M215.5 283.5h0M189.7 298.1h0M203.5 276.7h0M192.0 314.2h0M211.4 321.3h0M145.1 301.7h0M204.6 312.4h0M218.0 278.1h0M176.1 281.2h0M161.0 308.7h0M212.9 288.1h0M170.2 315.4h0M188.2 314.4h0M146.4 279.5h0M201.7 314.0h0M226.6 322.6h0M222.5 328.5h0M168.3 302.1h0M170.0 311.3h0M221.4 317.6h0M146.2 311.1h0M166.4 271.8h0M159.6 331.5h0M184.9 293.2h0M149.6 313.2h0M216.0 333.6h0M182.1 290.6h0M195.8 332.6h0M186.0 316.1h0M174.9 274.4h0M192.7 320.3h0M187.1 327.7h0M200.7 289.5h0M198.7 315.7h0M170.0 327.0h0M151.1 321.0h0M185.0 340.0h0M177.7 307.3h0M218.0 307.7h0M208.5 314.3h0M162.8 291.3h0M206.9 336.9h0M187.9 311.2h0M172.1 312.3h0M194.6 334.2h0M199.6 290.9h0M163.0 290.0h0M187.0 324.3h0M188.8 330.0h0M199.3 284.1h0M203.6 335.7h0M192.8 285.2h0M182.7 291.6h0M206.3 312.6h0M194.5 333.1h0M190.2 279.8h0M173.0 280.5h0M146.7 298.8h0M223.3 322.2h0M173.4 300.2h0M209.9 328.6h0M175.8 321.6h0M152.1 277.7h0M167.7 276.7h0M173.0 283.3h0M160.0 332.8h0M225.7 335.0h0M201.0 325.7h0M225.9 278.9h0M165.3 303.2h0M170.7 290.0h0M192.6 317.8h0M204.4 293.3h0M191.7 337.9h0M156.2 340.8h0M194.5 285.8h0M217.6 324.7h0M203.0 295.4h0M150.7 329.1h0M165.4 278.5h0M187.7 282.1h0M216.1 306.6h0M166.8 313.0h0M188.6 299.5h0M159.7 285.6h0M174.9 301.6h0M176.5 303.6h0M148.8 329.8h0M152.3 286.5h0M179.9 308.5h0M190.0 314.6h0M189.8 292.2h0M173.5 323.7h0M147.1 275.6h0M142.1 335.4h0M178.4 303.5h0M182.0 272.1h0M196.6 335.4h0M220.6 271.9h0M182.1 326.7h0M166.7 305.9h0M183.4 332.5h0M139.9 283.9h0M200.7 300.2h0M189.7 287.1h0M166.9 281.8h0M215.9 325.0h0M212.8 339.0h0M201.5 326.5h0M162.3 308.7h0M142.8 330.3h0M193.9 320.8h0M157.1 298.9h0M186.5 273.0h0M190.4 294.0h0M177.0 297.0h0M148.1 284.0h0M224.6 295.8h0M221.3 340.5h0M208.6 310.0h0M167.5 299.5h0M202.2 324.0h0M155.5 299.8h0M188.5 325.2h0M186.8 302.3h0M170.2 340.6h0M158.2 330.3h0M216.1 312.6h0M163.5 318.2h0M187.5 324.2h0M189.2 306.4h0M200.4 322.0h0M187.5 336.6h0M179.5 308.0h0M165.9 274.1h0M186.9 309.1h0M201.4 289.5h0M171.1 309.2h0M153.7 331.2h0M200.5 308.0h0M184.3 283.8h0M220.4 293.8h0M171.6 285.5h0M161.4 274.3h0M176.2 327.7h0M146.4 312.7h0M149.5 299.7h0M220.8 280.5h0M153.5 273.9h0M161.4 291.9h0M180.7 279.8h0M145.1 320.9h0M189.9 286.5h0M185.1 323.7h0M209.8 309.3h0M194.3 279.1h0M187.5 298.7h0M193.3 317.9h0M222.9 288.0h0M180.3 294.3h0M171.5 306.6h0M179.4 319.9h0M187.8 273.8h0" stroke="#8e7486" stroke-width="1.3" stroke-linecap="round" fill="none"/>
<path d="M171.8 273.2h0M192.8 272.2h0M203.1 339.7h0M178.6 314.0h0M178.7 284.5h0M213.2 330.0h0M216.7 296.8h0M142.6 330.7h0M224.9 281.2h0M223.8 322.8h0M178.4 284.5h0M140.1 326.4h0M168.7 324.4h0M182.5 337.8h0M212.0 283.8h0M225.8 286.5h0M176.8 299.8h0M192.5 315.9h0M211.9 293.5h0M149.1 274.4h0M161.2 340.9h0M188.6 283.1h0M214.7 335.6h0M143.6 280.3h0M182.3 325.9h0M202.6 315.2h0M198.6 279.2h0M211.2 298.7h0M218.6 289.6h0M160.6 301.3h0M147.0 271.9h0M160.5 340.8h0M164.2 290.1h0M171.6 327.6h0M174.0 280.8h0M173.2 310.0h0M203.1 278.4h0M190.4 296.8h0M171.4 289.5h0M211.9 305.4h0M160.0 274.4h0M170.4 317.9h0M225.5 320.7h0M200.2 299.4h0M195.9 292.8h0M140.3 294.3h0M191.5 295.3h0M216.8 276.7h0M161.7 327.0h0M199.9 327.4h0M172.8 280.2h0M154.5 279.4h0M184.7 273.7h0M172.2 315.0h0M195.3 321.9h0M164.0 340.1h0M146.2 273.3h0M172.5 328.6h0M211.4 309.1h0M159.8 285.0h0M181.0 300.3h0M152.1 328.2h0M203.2 314.9h0M189.6 336.1h0M149.4 272.6h0M166.9 308.7h0M177.1 328.5h0M222.1 290.1h0M151.4 276.2h0M168.3 302.2h0M191.6 331.5h0M140.3 279.8h0M208.9 340.9h0M148.4 295.2h0M199.5 297.4h0M180.6 277.3h0M168.6 272.3h0M141.6 339.4h0M142.2 324.2h0M183.7 312.8h0M181.7 277.1h0M190.6 273.9h0M167.5 304.4h0M192.0 334.9h0M144.3 274.2h0M218.2 290.9h0M191.9 292.4h0M190.5 318.0h0M207.8 276.2h0M205.8 325.9h0M173.3 277.6h0M143.5 303.2h0M205.7 317.8h0M180.7 324.5h0M186.9 333.9h0M222.2 332.4h0M200.7 278.6h0M172.2 321.4h0M145.0 282.4h0M208.5 292.7h0M182.1 285.3h0M158.6 302.7h0M200.8 275.7h0M215.5 305.5h0M178.0 300.6h0M205.0 292.9h0M171.4 327.1h0M209.7 295.7h0M224.3 292.8h0M200.5 286.5h0M174.7 306.8h0M220.9 317.4h0M150.6 308.9h0M221.8 301.8h0M199.6 296.2h0M166.0 337.4h0M156.7 303.4h0M216.0 276.4h0M152.3 278.9h0M170.0 298.5h0M155.0 331.4h0M140.2 281.4h0M161.3 322.8h0M223.7 308.9h0M203.9 311.9h0M172.9 308.2h0M173.3 305.8h0M210.1 320.9h0M169.2 278.6h0M151.0 283.3h0M218.0 311.2h0M169.4 287.1h0M204.9 290.7h0M221.9 292.4h0M196.6 313.0h0M160.1 295.7h0M142.8 278.9h0M222.7 301.4h0M153.7 286.1h0M141.6 274.6h0M181.5 276.8h0M214.8 333.4h0M159.2 279.0h0M170.4 325.0h0M149.9 302.1h0M221.1 277.3h0M200.7 328.0h0M211.7 286.4h0M216.6 330.5h0M142.2 274.5h0M217.8 310.9h0M157.2 272.2h0M203.5 286.3h0M210.5 272.1h0M153.5 320.8h0M179.9 295.3h0M182.1 292.3h0M219.4 283.3h0M177.2 296.9h0M190.2 328.0h0M175.5 307.5h0M156.8 311.4h0M158.7 321.1h0M143.0 303.5h0M203.2 327.3h0M194.1 299.1h0M178.3 282.9h0M222.9 307.9h0M203.5 288.2h0M152.2 307.2h0M199.0 293.7h0M198.3 288.2h0M153.9 301.7h0M165.5 298.1h0M166.0 294.4h0M148.3 289.3h0M142.0 293.4h0M191.6 319.4h0M200.0 287.9h0M225.4 312.4h0M182.7 294.3h0M197.9 331.4h0M191.4 308.8h0M165.5 295.0h0M190.5 279.7h0M196.6 310.6h0M216.2 335.4h0M154.2 297.6h0M190.3 296.4h0M181.6 323.1h0M226.4 323.5h0M207.4 294.8h0M197.7 325.4h0M157.0 314.8h0M199.1 273.6h0M140.9 293.1h0M139.7 283.3h0M202.8 293.0h0M218.5 316.7h0M196.1 328.5h0M211.8 278.0h0M141.9 323.6h0M174.8 339.2h0M151.9 338.9h0M180.9 284.4h0M177.8 282.6h0M223.6 298.6h0M148.1 301.4h0M150.6 315.1h0M171.4 279.0h0M211.5 306.1h0M166.9 297.2h0M221.2 272.5h0M149.7 290.6h0M180.5 321.0h0M147.5 287.9h0M212.7 323.4h0M176.1 293.3h0M163.5 279.4h0M206.3 337.8h0M225.9 325.9h0M171.2 313.5h0M163.7 293.6h0M167.1 293.5h0M221.0 320.6h0M159.3 271.5h0M172.6 278.0h0M182.7 317.7h0M143.9 326.3h0M223.2 280.3h0M202.4 335.7h0M188.8 337.4h0M168.0 275.9h0M223.1 322.3h0M196.5 295.7h0M179.1 300.3h0M196.7 287.1h0M155.9 338.4h0M224.2 309.6h0M155.0 325.1h0M170.9 296.6h0M206.3 321.4h0M192.0 288.0h0M141.1 294.8h0M202.2 331.4h0M182.7 331.2h0M173.7 304.1h0M200.5 301.9h0M205.3 300.3h0M155.8 281.9h0M170.5 309.3h0M213.3 334.8h0M153.9 297.8h0M190.8 284.2h0M155.3 281.8h0M167.0 300.5h0M209.9 290.4h0M195.8 338.3h0M145.9 321.0h0M144.1 289.9h0M189.8 295.2h0M197.5 293.3h0M206.8 331.2h0M141.3 298.8h0M148.4 303.6h0M192.4 285.2h0M192.4 290.6h0M213.1 318.5h0M189.5 324.9h0M145.2 288.0h0M163.9 285.6h0M177.0 305.0h0M163.8 330.8h0M164.8 273.7h0M176.3 288.2h0M152.9 326.9h0M194.2 336.0h0M156.1 307.0h0M184.5 334.8h0M216.0 288.1h0M180.6 294.7h0M225.8 310.8h0M182.3 285.2h0M190.4 282.7h0M198.7 338.8h0M181.3 303.5h0M221.8 310.0h0M202.1 308.1h0M194.0 316.7h0M199.4 292.5h0M147.6 280.4h0M206.1 319.4h0M165.5 320.9h0M185.6 271.6h0M192.5 293.1h0M226.4 310.6h0M178.0 303.7h0M187.1 273.6h0M200.1 302.7h0M157.7 280.5h0M215.7 333.9h0M191.5 298.9h0M165.8 323.1h0M168.9 292.2h0M164.2 281.0h0M174.0 299.6h0M168.8 315.4h0M217.4 313.8h0" stroke="#b49ca8" stroke-width="1.0" stroke-linecap="round" fill="none"/>
<path d="M141.0 339.6h0M146.3 282.6h0M140.6 317.7h0M173.0 300.9h0M184.6 311.0h0M195.6 286.9h0M160.2 306.4h0M206.5 314.4h0M196.8 274.4h0M187.6 277.8h0M205.6 323.2h0M183.2 314.0h0M156.7 273.1h0M210.9 330.8h0M183.1 329.3h0M156.3 301.6h0M149.9 297.7h0M174.7 310.7h0M204.7 285.2h0M205.7 276.1h0M153.5 308.5h0M218.3 339.1h0M144.8 296.2h0M183.0 273.2h0M149.3 283.9h0M175.0 326.2h0M191.4 275.6h0M148.9 331.1h0M206.2 335.0h0M164.9 324.0h0M202.9 340.9h0M157.2 305.5h0M225.8 320.4h0M220.2 284.6h0M155.5 336.5h0M160.6 319.9h0M164.5 321.9h0M226.5 329.6h0M179.8 318.5h0M139.5 309.8h0M181.3 272.7h0M222.0 307.3h0M156.7 272.0h0M183.9 334.1h0M208.1 294.4h0M173.2 282.1h0M208.6 296.2h0M213.8 272.1h0M185.6 290.8h0M192.4 308.2h0M225.3 316.8h0M218.9 294.3h0M166.4 282.8h0M183.8 334.5h0M140.3 309.7h0M150.4 321.0h0M217.3 287.8h0M189.3 304.9h0M173.7 334.6h0M211.5 289.5h0M155.3 293.0h0M153.5 330.5h0M156.9 293.0h0M195.0 309.9h0M162.7 288.3h0M224.7 332.8h0M193.7 289.9h0M205.1 273.3h0M160.6 323.2h0M172.4 293.9h0M168.0 275.6h0M193.0 320.3h0M167.0 290.9h0M194.2 320.5h0M171.8 319.6h0M163.9 331.8h0M144.0 308.9h0M155.6 286.1h0M170.4 282.3h0M185.5 300.0h0M192.6 294.6h0M200.0 298.0h0M182.4 292.0h0M160.4 300.4h0M158.5 312.3h0M196.1 284.8h0M226.5 334.5h0M167.2 294.4h0M203.4 310.5h0M144.1 295.6h0M146.1 297.4h0M180.3 313.3h0M156.8 338.3h0M159.4 286.6h0M182.3 279.2h0M164.6 331.8h0M222.3 315.6h0M148.7 329.8h0M171.3 313.4h0M155.5 333.4h0M165.6 310.2h0M192.9 329.2h0M142.5 308.3h0M201.9 340.5h0M177.3 298.9h0M172.9 313.4h0M192.7 293.0h0M184.2 337.1h0M191.0 334.5h0M214.1 300.6h0M183.7 285.0h0M202.7 313.7h0M177.3 329.6h0M169.1 319.5h0M139.4 340.3h0M196.3 314.2h0M188.5 337.7h0M183.4 281.3h0M210.6 307.1h0M211.4 273.6h0M152.0 282.3h0M144.8 302.1h0M155.1 307.3h0M154.4 287.5h0M170.6 284.4h0M221.5 287.8h0M218.4 325.2h0M167.2 279.4h0M149.7 276.5h0M187.0 338.5h0M220.7 287.1h0M164.7 293.7h0M166.4 329.0h0M173.3 330.1h0M169.2 299.0h0M205.7 334.3h0M192.3 296.5h0M205.3 332.9h0M167.0 323.2h0M166.1 309.8h0M175.4 337.3h0M221.6 273.4h0M182.4 295.3h0M199.9 291.5h0M187.4 332.6h0M168.6 274.9h0M167.0 328.6h0M173.8 290.0h0M194.1 324.8h0M142.8 274.4h0M204.3 305.3h0M181.8 271.5h0M168.0 321.3h0M167.7 280.8h0M195.7 339.7h0M196.7 319.1h0M162.5 313.8h0M208.9 337.4h0M196.2 312.8h0M200.1 297.4h0M204.1 299.6h0M220.7 313.1h0M186.8 283.8h0M154.4 325.7h0M184.1 285.7h0M161.1 297.6h0M225.0 330.4h0M187.0 288.9h0M215.9 336.1h0M159.2 294.6h0M182.8 311.4h0M176.4 331.4h0M181.0 274.3h0M213.1 302.9h0M197.3 319.9h0M160.3 318.7h0M196.5 308.9h0M154.3 312.4h0M214.4 293.2h0M154.5 329.6h0M146.4 338.5h0M143.6 323.4h0M149.3 293.2h0M191.3 310.6h0M195.8 279.5h0M162.8 334.1h0M186.2 305.1h0M170.3 287.3h0M198.8 305.1h0M168.0 285.4h0M180.7 291.6h0M181.1 316.0h0M181.6 329.7h0M208.8 337.3h0M148.1 315.0h0M223.0 329.4h0M223.3 299.3h0M182.0 280.7h0M163.6 296.0h0M184.1 311.0h0M202.5 336.1h0M184.5 300.7h0M204.5 277.8h0M185.0 312.0h0M205.6 293.6h0M201.2 273.9h0M219.5 275.7h0M189.0 322.1h0M185.3 289.5h0M205.9 272.7h0M174.0 340.0h0M167.5 308.6h0M148.8 272.6h0M213.7 327.5h0M201.3 301.9h0M171.3 340.9h0M147.5 283.8h0M182.0 333.6h0M210.1 320.3h0M156.1 332.3h0M208.2 309.3h0M220.5 303.2h0M152.3 286.8h0M156.2 277.6h0M221.3 278.3h0M170.4 325.4h0M200.8 284.4h0M184.4 278.2h0M159.7 338.5h0M210.8 277.9h0M174.6 302.2h0M224.0 280.6h0M157.4 312.5h0M156.8 316.3h0M205.2 300.3h0M215.0 333.2h0M205.1 339.8h0M164.6 281.6h0M155.4 274.6h0M211.7 301.7h0M178.8 272.6h0M211.9 302.6h0M187.2 296.6h0M182.2 288.8h0M210.6 328.6h0M177.9 301.5h0M191.0 336.6h0M219.4 303.1h0M192.5 277.7h0M223.5 315.2h0M152.3 281.8h0M193.9 295.8h0M139.4 289.4h0M223.6 287.0h0M225.7 297.8h0M179.5 286.0h0M219.1 282.8h0M204.8 320.1h0M182.1 325.7h0M152.3 321.4h0M181.8 301.7h0M154.7 301.1h0M206.6 283.7h0M159.0 318.5h0M146.9 337.4h0M139.6 311.2h0M175.8 325.7h0M216.0 277.3h0M198.5 309.7h0M177.6 300.7h0M217.0 294.4h0M226.0 304.0h0M190.1 333.5h0M219.3 279.3h0M152.4 299.8h0M171.2 303.1h0M153.8 283.6h0M218.8 328.1h0M150.3 277.1h0M203.1 272.2h0M184.1 305.5h0M172.2 314.4h0M224.9 303.0h0M159.8 326.1h0M221.4 327.1h0M212.4 283.2h0M181.9 316.5h0M139.8 336.9h0M217.9 313.3h0M223.1 316.8h0M171.6 313.1h0M210.5 273.0h0M174.1 279.3h0M179.4 276.9h0M194.3 340.5h0M188.3 285.3h0M197.7 318.4h0M214.5 331.0h0M184.7 290.9h0M180.3 327.1h0M173.7 305.6h0M222.4 303.9h0M159.3 276.8h0M151.0 272.4h0M146.4 283.9h0M193.2 273.2h0M177.3 292.7h0M207.3 278.8h0M203.9 272.0h0M147.1 328.1h0M141.8 282.4h0M168.2 296.6h0M157.6 317.8h0M168.1 309.7h0M140.1 324.3h0M161.4 335.1h0M157.9 336.4h0M200.5 324.4h0M203.0 302.5h0M182.4 290.6h0M151.9 280.2h0M220.5 282.5h0M160.1 336.6h0M174.9 292.0h0M177.5 312.9h0M148.4 311.2h0M218.4 279.5h0M153.8 314.1h0M175.0 336.9h0M160.0 307.3h0M219.9 298.3h0M150.7 274.3h0M155.6 298.5h0M187.2 338.3h0M139.2 298.5h0M178.7 299.8h0M219.3 286.0h0M206.2 316.0h0M208.6 328.6h0M200.1 288.4h0M156.2 327.3h0" stroke="#8e7486" stroke-width="1.0" stroke-linecap="round" fill="none"/>
<path d="M168.9 310.7h0M186.8 328.6h0M187.0 278.2h0M203.8 327.9h0M160.8 340.9h0M222.6 333.1h0M143.1 283.2h0M157.7 294.7h0M163.2 285.0h0M199.0 294.3h0M190.4 272.2h0M207.6 271.7h0M222.7 313.3h0M153.3 299.8h0M194.4 329.5h0M144.2 333.5h0M191.2 282.5h0M222.3 272.6h0M155.1 330.8h0M202.6 334.9h0M220.7 337.0h0M170.2 279.2h0M152.8 340.8h0M181.5 289.7h0M212.6 333.2h0M212.2 330.5h0M181.6 295.7h0M211.6 293.4h0M202.0 290.5h0M199.6 308.6h0M184.6 321.1h0M219.7 294.9h0M215.1 284.6h0M198.3 301.0h0M168.4 301.7h0M181.5 326.9h0M193.7 316.8h0M146.8 310.7h0M164.3 339.8h0M179.2 278.1h0M169.9 340.6h0M186.3 323.6h0M224.5 311.9h0M205.1 296.7h0M199.9 279.1h0M187.4 330.2h0M162.9 314.3h0M188.4 274.9h0M187.8 323.1h0M207.1 289.3h0M224.4 331.5h0M204.1 337.0h0M184.5 293.4h0M193.1 303.7h0M164.6 278.6h0M172.9 313.3h0M139.7 287.2h0M162.9 310.1h0M203.0 289.8h0M179.1 330.2h0M214.3 315.9h0M147.0 301.4h0M212.8 327.0h0M164.1 333.6h0M187.4 311.6h0M222.0 276.7h0M194.4 276.5h0M174.7 305.3h0M149.4 329.7h0M202.3 313.4h0M187.3 320.9h0M179.7 332.4h0M201.4 300.9h0M185.6 272.6h0M189.1 329.5h0M215.2 327.8h0M158.7 294.1h0M188.3 300.1h0M158.4 314.8h0M181.5 337.2h0M181.7 322.1h0M212.7 311.3h0M151.6 283.7h0M202.9 339.8h0M146.3 316.0h0M152.7 318.4h0M168.9 286.7h0M209.3 283.8h0M181.6 276.0h0M214.9 340.2h0M186.3 295.8h0M142.1 311.3h0M193.1 326.9h0M196.7 292.6h0M170.6 271.5h0M151.8 308.7h0M144.9 323.2h0M200.6 293.5h0M166.4 281.2h0M174.9 273.7h0M226.3 281.3h0M223.8 326.9h0M170.2 336.7h0M151.4 292.4h0M171.2 312.4h0M214.9 307.1h0M149.3 324.9h0M212.9 292.0h0M142.1 319.9h0M176.7 321.9h0M140.4 320.6h0M195.0 294.6h0M152.2 318.4h0M156.0 326.4h0M144.9 320.6h0M192.6 318.5h0M190.8 308.3h0M155.2 318.7h0M208.8 324.0h0M198.9 280.7h0M209.2 298.0h0M160.3 272.8h0M191.5 297.5h0M220.9 303.6h0M175.3 284.9h0M154.1 288.8h0M157.4 299.1h0M171.6 327.5h0M195.4 327.6h0M177.6 334.1h0M182.3 280.7h0M185.3 278.7h0M168.6 279.6h0M159.2 339.6h0M212.0 283.3h0M145.5 318.0h0M144.6 307.9h0M186.0 296.4h0M201.3 306.3h0M170.2 273.7h0M202.9 300.0h0M190.6 284.0h0M157.0 332.7h0M167.4 304.2h0M157.7 330.6h0M185.6 284.8h0M149.5 276.6h0M200.1 279.8h0M154.8 286.4h0M198.9 285.4h0M181.5 279.0h0M216.9 314.8h0M220.1 286.1h0M223.3 279.8h0M155.7 325.3h0M216.1 312.2h0M215.6 286.1h0M168.9 295.3h0M159.1 340.5h0M191.2 296.6h0M158.3 313.6h0M149.5 299.8h0M186.8 321.5h0M153.6 290.9h0M208.2 325.7h0M207.4 306.7h0M147.4 338.0h0M219.7 308.0h0M194.8 300.6h0M157.9 315.0h0M155.1 318.0h0M171.6 318.5h0M158.6 302.8h0M177.4 300.6h0M191.5 298.8h0M162.3 293.8h0M143.4 273.6h0M201.4 332.6h0M168.0 305.4h0M205.0 307.4h0M223.2 319.1h0M141.7 316.9h0M205.4 331.5h0M214.8 309.9h0M189.2 296.1h0M157.9 286.9h0M193.4 329.6h0M160.7 320.5h0M184.8 278.6h0M221.8 340.1h0M209.0 276.3h0M178.2 302.8h0M168.1 319.3h0M147.4 301.8h0M178.9 315.1h0M226.5 320.2h0M198.2 334.9h0M210.8 326.2h0M186.8 291.1h0M183.0 292.7h0M143.2 288.4h0M150.5 295.7h0M203.7 329.5h0M168.0 324.0h0M154.7 333.7h0M150.4 296.6h0M184.4 297.7h0M158.1 296.6h0M189.2 301.2h0M144.2 312.6h0M202.8 307.9h0M215.9 328.4h0M208.7 319.2h0M221.3 301.2h0M196.6 276.4h0M200.6 331.0h0M203.7 285.8h0M188.1 295.4h0M148.2 296.3h0M213.2 294.9h0M148.2 308.6h0M159.9 336.6h0M215.4 271.5h0M146.6 275.4h0M209.3 272.8h0M155.3 281.9h0M166.7 309.0h0M201.5 307.5h0M207.8 274.0h0M159.2 307.4h0M215.0 296.3h0M173.9 286.3h0M192.4 328.5h0M216.3 310.0h0M206.9 282.5h0M192.9 271.5h0M147.3 337.3h0M218.5 300.2h0M214.9 318.9h0M198.3 300.1h0M149.8 288.6h0M191.3 328.5h0M188.1 289.7h0M160.4 330.4h0M189.1 313.1h0M150.3 299.8h0M165.8 312.1h0M195.3 337.9h0M221.4 308.5h0M215.3 308.5h0M160.4 300.7h0M208.3 296.0h0M165.4 316.3h0M153.1 308.0h0M178.0 295.3h0M144.4 338.7h0M218.3 337.4h0M187.9 313.0h0M170.1 294.7h0M182.8 285.9h0M219.6 336.5h0M200.4 336.7h0M154.0 312.5h0M210.5 298.1h0M199.4 273.3h0M170.1 281.2h0M157.3 313.2h0M218.9 315.3h0M170.2 290.4h0M151.6 283.1h0M225.2 309.6h0M218.2 334.7h0M169.7 277.4h0M200.0 302.8h0M192.7 312.4h0M177.6 321.8h0M140.7 340.0h0M185.8 331.2h0M145.4 289.3h0M225.4 337.8h0M171.2 285.3h0M207.4 274.8h0M212.1 339.9h0M147.7 325.8h0M154.7 283.1h0M163.7 324.4h0M151.1 296.0h0M186.3 331.2h0M206.5 340.9h0M140.7 308.7h0M171.8 339.4h0M182.4 288.7h0M182.9 284.2h0M162.3 290.5h0M206.3 300.4h0M150.9 281.5h0M179.7 311.4h0M161.1 337.2h0M158.1 340.0h0M161.9 335.9h0M192.3 296.4h0M174.2 280.6h0M152.0 324.1h0M190.9 307.1h0M221.5 291.5h0M200.3 337.9h0M204.9 333.4h0M214.3 304.6h0M160.0 283.2h0M220.9 281.4h0M212.7 338.2h0M201.4 294.7h0M203.1 275.2h0M218.6 323.9h0M187.5 309.6h0M149.2 294.8h0M205.5 335.5h0M219.6 307.0h0" stroke="#b49ca8" stroke-width="1.3" stroke-linecap="round" fill="none"/>
<path d="M218.7 321.7h0M179.7 320.2h0M206.0 288.3h0M177.8 313.9h0M200.9 336.0h0M162.3 310.6h0M201.6 311.1h0M161.1 312.4h0M141.0 305.9h0M207.9 338.5h0M184.9 272.8h0M156.5 323.5h0M155.3 277.7h0M197.6 307.0h0M167.9 326.4h0M215.9 281.7h0M169.0 276.9h0M151.1 308.1h0M190.7 296.3h0M180.8 284.8h0M207.7 301.8h0M149.6 287.2h0M157.2 324.7h0M203.1 332.4h0M153.8 302.9h0M197.0 297.3h0M196.8 301.5h0M225.7 284.0h0M168.8 334.6h0M192.7 335.5h0M140.8 291.0h0M148.8 281.9h0M153.8 306.9h0M144.4 279.3h0M211.9 327.6h0M184.0 290.7h0M195.2 272.0h0M159.3 277.9h0M143.0 330.3h0M203.3 282.4h0M139.2 310.5h0M148.2 330.5h0M199.3 278.1h0M205.9 292.8h0M214.4 283.1h0M146.4 299.2h0M201.5 326.9h0M144.7 303.6h0M175.7 288.2h0M174.2 337.8h0M153.0 278.8h0M165.9 301.8h0M181.6 274.0h0M169.6 313.0h0M155.6 333.4h0M192.4 331.3h0M143.9 307.8h0M162.7 308.4h0M212.7 330.1h0M219.4 287.7h0M167.6 279.4h0M213.2 279.6h0M169.9 308.4h0M202.0 315.1h0M172.4 332.5h0M221.8 340.4h0M181.3 336.6h0M179.6 295.8h0M161.6 290.9h0M218.6 323.1h0M222.4 307.6h0M186.3 314.4h0M149.1 330.3h0M177.6 316.2h0M214.7 294.5h0M210.7 312.6h0M140.0 329.5h0M214.9 286.3h0M149.9 318.5h0M151.1 284.1h0M177.8 301.7h0M159.2 307.3h0M157.1 314.2h0M192.2 280.2h0M189.6 309.3h0M211.7 314.5h0M154.7 323.3h0M174.6 324.4h0M168.2 286.1h0M195.6 282.5h0M154.6 283.7h0M212.3 316.3h0M149.4 291.4h0M182.5 313.1h0M218.6 318.8h0M170.0 309.1h0M155.8 333.4h0M153.9 275.1h0M195.2 305.3h0M213.7 312.4h0M208.1 327.6h0M192.6 331.6h0M187.2 296.5h0M182.6 293.2h0M153.5 334.5h0M144.5 300.1h0M215.1 294.0h0M165.8 287.5h0M208.9 300.9h0M169.9 283.6h0M139.2 327.7h0M147.2 313.4h0M189.2 330.0h0M191.5 278.6h0M160.9 299.2h0M214.8 340.2h0M203.9 328.9h0M172.1 335.5h0M148.8 313.6h0M198.2 287.2h0M212.9 338.3h0M184.2 329.0h0M189.9 274.6h0M178.9 334.5h0M153.8 332.8h0M139.7 312.3h0M192.3 273.0h0M141.4 285.2h0M167.0 305.3h0M163.3 286.5h0M194.3 295.2h0M164.4 335.1h0M217.6 327.9h0M200.9 292.2h0M186.3 331.7h0M159.2 277.8h0M184.5 292.6h0M149.5 322.3h0M149.0 297.4h0M224.8 295.7h0M187.5 339.6h0M169.4 316.4h0M216.9 293.7h0M174.6 295.7h0M204.0 332.6h0M198.2 340.7h0M148.2 284.8h0M221.0 333.7h0M171.7 321.5h0M152.4 328.5h0M171.1 305.6h0M212.7 340.6h0M222.0 287.4h0M218.1 288.8h0M200.4 275.6h0M218.5 299.4h0M187.2 312.9h0M180.5 300.2h0M174.1 299.8h0M215.4 314.6h0M149.2 335.3h0M177.0 279.8h0M219.5 325.0h0M212.5 288.0h0M216.2 334.0h0M145.0 334.7h0M144.0 334.2h0M183.2 291.0h0M169.7 326.1h0M172.6 295.5h0M145.2 283.9h0M223.4 331.4h0M157.1 286.8h0M175.5 333.3h0M163.5 326.8h0M225.5 278.6h0M207.3 287.8h0M181.8 308.1h0M219.7 331.6h0M216.6 300.7h0M161.1 319.3h0M195.1 332.8h0M211.1 272.0h0M169.8 286.8h0M178.6 288.2h0M204.6 280.0h0M215.1 283.4h0M178.8 294.5h0M144.8 303.3h0M150.8 331.9h0M215.6 272.3h0M202.5 274.4h0M208.7 285.8h0M154.3 284.1h0M169.3 294.8h0M217.3 277.0h0M217.6 285.3h0M184.1 278.6h0M155.6 325.0h0M139.4 288.4h0M187.5 287.5h0M187.7 310.1h0M171.9 284.8h0M192.9 322.3h0M173.0 338.1h0M148.8 337.7h0M151.3 321.8h0M151.6 315.0h0M198.4 279.5h0M152.9 299.9h0M221.1 303.5h0M204.6 309.2h0M141.6 280.7h0M182.9 278.5h0M178.9 334.7h0M181.0 290.0h0M141.6 302.3h0M151.1 315.5h0M194.6 318.9h0M186.6 276.7h0M148.7 274.5h0M208.6 282.1h0M146.8 310.6h0M195.1 329.8h0M180.9 300.1h0M150.8 306.7h0M220.0 306.3h0M184.4 338.9h0M164.1 301.6h0M187.2 308.9h0M223.5 320.7h0M143.6 271.9h0M195.4 303.2h0M155.4 326.2h0M158.5 274.8h0M152.9 279.9h0M158.3 271.8h0M151.2 330.4h0M156.6 319.7h0M184.1 292.9h0M206.1 297.5h0M150.7 335.2h0M206.9 308.4h0M179.5 320.2h0M205.3 313.8h0M139.9 336.0h0M144.0 332.7h0M222.0 314.0h0M191.7 276.8h0M223.5 295.2h0M224.7 325.1h0M189.9 281.7h0M152.6 301.9h0M183.0 331.1h0M215.9 279.0h0M218.0 332.1h0M193.1 332.2h0M212.4 325.4h0M221.7 272.6h0M150.1 336.4h0M167.7 280.8h0M142.1 293.8h0M155.4 333.6h0M152.3 330.6h0M197.1 304.2h0M175.4 325.5h0M178.9 337.3h0M190.6 296.1h0M175.6 324.7h0M150.2 299.8h0M214.3 337.4h0M173.4 305.6h0M189.0 280.4h0M156.6 318.3h0M198.4 296.6h0M184.5 286.6h0M172.0 297.5h0M165.3 272.9h0M199.3 286.6h0M171.7 314.5h0M183.4 309.2h0M187.0 322.1h0M218.0 310.6h0M141.9 328.0h0M159.1 292.2h0M199.0 311.5h0M161.5 300.7h0M196.7 330.5h0M176.4 274.4h0M175.1 337.1h0M204.6 307.2h0M162.2 307.5h0M166.6 293.1h0M208.0 271.6h0M182.9 287.9h0M156.8 276.8h0M219.5 283.5h0M209.0 331.2h0M209.5 300.9h0M192.8 283.8h0M225.9 326.0h0M169.0 285.8h0M166.6 308.5h0M155.0 272.9h0M185.6 307.2h0M215.2 296.0h0M144.5 321.7h0M206.9 333.5h0M162.2 322.0h0M181.7 322.2h0M144.8 328.8h0M146.4 338.9h0M170.1 314.8h0M169.2 329.6h0M179.1 304.7h0M196.5 308.3h0M151.5 293.7h0M203.4 278.6h0" stroke="#a08896" stroke-width="1.0" stroke-linecap="round" fill="none"/>
<path d="M222.1 283.6h0M220.0 320.9h0M174.0 289.4h0M169.5 272.2h0M145.2 304.3h0M170.5 283.7h0M144.6 284.2h0M156.1 288.8h0M142.9 294.1h0M182.3 280.2h0M222.0 313.4h0M148.5 286.7h0M154.4 334.6h0M157.9 286.7h0M216.8 328.4h0M189.7 335.9h0M186.4 281.2h0M169.3 284.1h0M154.7 312.3h0M163.2 283.8h0M149.3 335.6h0M140.6 330.4h0M157.4 306.5h0M195.3 336.4h0M198.1 335.7h0M222.0 305.0h0M186.3 285.1h0M162.4 297.1h0M185.2 306.3h0M215.2 283.8h0M203.9 277.9h0M215.2 312.5h0M188.4 280.7h0M174.9 293.1h0M176.2 298.9h0M178.6 324.8h0M209.7 290.4h0M181.5 311.0h0M163.3 290.0h0M182.0 302.8h0M189.9 285.0h0M220.9 301.3h0M147.4 330.4h0M217.7 324.6h0M215.1 315.3h0M148.2 293.5h0M153.8 317.8h0M196.4 310.6h0M185.1 320.5h0M170.9 289.0h0M210.2 334.6h0M144.2 335.5h0M206.8 277.7h0M187.0 300.7h0M142.6 275.2h0M178.1 293.3h0M218.9 293.0h0M211.1 273.2h0M182.2 290.7h0M223.6 274.8h0M190.3 323.1h0M213.9 338.8h0M183.3 340.8h0M217.5 280.8h0M215.3 334.7h0M158.1 295.8h0M220.8 330.7h0M179.9 335.8h0M214.0 299.8h0M148.6 286.9h0M209.2 308.2h0M202.9 278.0h0M139.6 315.8h0M167.6 289.7h0M225.6 335.6h0M224.1 287.9h0M156.8 333.3h0M168.7 288.1h0M210.1 319.8h0M198.4 290.1h0M184.8 272.0h0M221.6 289.3h0M224.0 284.8h0M149.5 333.0h0M160.4 329.8h0M179.0 338.1h0M214.0 286.0h0M193.1 339.4h0M145.0 303.6h0M181.2 314.9h0M218.7 283.7h0M167.1 301.4h0M178.2 293.7h0M204.7 328.1h0M172.8 304.7h0M145.1 322.0h0M175.8 327.3h0M151.0 288.7h0M155.8 284.1h0M215.1 279.1h0M194.3 324.5h0M171.4 277.2h0M170.2 280.0h0M214.8 284.5h0M182.0 280.0h0M154.4 280.6h0M219.0 322.3h0M187.7 277.0h0M223.8 310.1h0M201.2 334.9h0M210.3 288.3h0M168.3 287.5h0M198.1 295.5h0M149.4 294.1h0M161.0 326.0h0M146.0 303.7h0M221.1 310.2h0M157.4 304.8h0M205.3 313.2h0M224.7 336.3h0M217.3 297.1h0M224.2 321.8h0M207.9 315.6h0M189.4 273.7h0M184.7 279.7h0M201.5 320.4h0M141.0 309.9h0M169.9 324.1h0M171.4 310.0h0M162.9 290.5h0M195.8 314.6h0M220.1 302.6h0M164.3 331.9h0M215.3 308.3h0M187.6 309.4h0M192.0 306.1h0M187.2 334.7h0M172.4 340.5h0M213.8 273.6h0M162.9 278.9h0M203.2 326.3h0M143.3 292.6h0M171.5 337.1h0M204.0 278.1h0M141.4 299.2h0M183.3 293.2h0M152.9 298.2h0M184.3 325.5h0M214.3 341.0h0M225.1 311.2h0M182.8 329.8h0M146.2 281.2h0M203.5 315.1h0M162.8 332.3h0M196.4 340.0h0M145.0 312.9h0M176.2 333.1h0M146.4 328.2h0M141.7 334.4h0M147.9 286.1h0M224.2 339.6h0M210.8 328.9h0M150.5 282.7h0M140.0 310.8h0M185.7 316.8h0M224.3 307.5h0M154.0 326.9h0M223.1 293.3h0M197.2 281.2h0M151.9 275.2h0M192.6 287.3h0M218.8 278.1h0M214.1 330.0h0M139.7 295.4h0M160.4 296.0h0M161.1 299.0h0M214.9 303.4h0M201.8 295.8h0M171.0 307.2h0M176.7 284.2h0M218.6 272.5h0M225.4 310.4h0M161.6 272.4h0M171.7 310.6h0M194.3 276.6h0M143.1 300.8h0M161.9 328.7h0M149.5 311.1h0M218.5 283.4h0M140.5 284.5h0M184.7 335.7h0M152.1 280.9h0M178.5 274.7h0M210.7 339.5h0M225.7 313.0h0M177.8 313.6h0M201.1 275.6h0M198.7 293.2h0M169.7 292.4h0M165.8 300.3h0M210.7 329.2h0M167.6 300.2h0M161.9 312.9h0M162.7 288.7h0M194.7 298.9h0M211.0 309.2h0M144.9 299.0h0M159.4 294.1h0M143.3 283.4h0M205.3 310.4h0M203.4 299.8h0M218.4 282.9h0M151.5 312.1h0M192.7 290.4h0M162.6 278.6h0M184.4 280.9h0M190.0 308.6h0M144.8 284.4h0M183.6 323.6h0M203.6 308.1h0M205.3 296.2h0M166.1 281.9h0M188.1 305.5h0M145.5 311.9h0M146.9 332.8h0M154.5 307.3h0M162.1 335.0h0M193.1 338.7h0M172.5 303.7h0M219.8 278.0h0M185.3 338.7h0M167.8 315.6h0M196.9 272.4h0M211.8 330.3h0M147.8 292.2h0M181.8 322.4h0M224.3 312.0h0M218.8 333.0h0M177.4 295.9h0M192.0 301.9h0M222.6 296.7h0M184.3 292.4h0M199.9 295.0h0M189.1 316.8h0M190.9 303.2h0M218.8 315.8h0M148.4 336.0h0M195.5 315.2h0M181.8 287.7h0M175.3 323.9h0M180.2 293.3h0M170.9 308.8h0M159.9 340.7h0M151.4 333.8h0M183.3 328.7h0M202.4 293.5h0M165.2 339.3h0M161.2 273.8h0M141.5 298.8h0M181.7 279.6h0M204.4 284.3h0M191.3 310.1h0M146.4 338.1h0M162.0 302.0h0M199.3 334.5h0M167.7 319.5h0M168.9 330.6h0M222.4 316.7h0M220.6 317.4h0M191.5 303.5h0M213.4 312.8h0M202.2 278.0h0M152.9 295.7h0M199.2 339.7h0M218.2 295.9h0M172.0 294.5h0M191.8 273.8h0M149.9 275.8h0M154.6 328.3h0M140.2 340.7h0M143.1 285.1h0M205.4 314.4h0M165.1 326.1h0M159.6 326.8h0M178.0 291.1h0M201.1 338.1h0M142.5 289.3h0M207.5 335.3h0M143.6 320.3h0M206.8 317.2h0M151.3 326.6h0M149.7 321.1h0M143.7 274.7h0M189.1 291.5h0M175.9 297.2h0M198.2 320.0h0M222.5 318.3h0M218.6 332.0h0M198.3 305.2h0M218.1 312.0h0M142.6 275.5h0M185.8 309.5h0M225.9 303.0h0M200.7 296.0h0M156.9 297.9h0M201.8 313.3h0M225.4 310.7h0M225.3 319.8h0M191.5 313.4h0M166.4 299.1h0M204.4 296.0h0M151.0 294.3h0M166.6 338.4h0M156.4 339.4h0M202.3 327.0h0M216.8 298.5h0M170.4 298.3h0M174.8 307.6h0M209.8 334.4h0M163.3 276.0h0M179.5 325.0h0M194.3 320.9h0" stroke="#a08896" stroke-width="1.3" stroke-linecap="round" fill="none"/>
<path d="M211.8 308.4h0M186.3 283.2h0M207.0 277.3h0M199.9 326.5h0M153.2 275.3h0M161.5 306.9h0M202.8 327.8h0M161.0 308.5h0M214.4 295.7h0M160.1 326.2h0M158.0 279.4h0M167.2 299.0h0M220.8 271.5h0M225.4 299.1h0M139.8 335.0h0M145.7 285.5h0M201.2 304.5h0M141.4 292.3h0M218.7 295.4h0M140.4 299.8h0M175.3 305.5h0M169.9 330.8h0M162.1 310.9h0M159.1 307.4h0M176.8 272.3h0M174.3 339.7h0M173.0 336.3h0M217.6 331.7h0M173.4 290.8h0M195.4 337.7h0M158.7 324.2h0M148.0 334.4h0M169.2 327.7h0M218.1 335.6h0M187.4 281.4h0M198.9 333.4h0M146.4 314.0h0M148.1 281.5h0M197.1 293.6h0M168.7 297.0h0M153.9 333.2h0M221.6 278.7h0M159.0 325.0h0M166.0 305.5h0M213.1 310.2h0M162.8 288.5h0M175.6 273.6h0M147.3 298.3h0M171.1 279.5h0M170.2 295.0h0M216.3 311.3h0M146.6 336.6h0M206.6 283.0h0M159.0 306.5h0M199.4 325.4h0M171.4 320.2h0M168.8 336.1h0M145.3 293.8h0M178.1 275.6h0M210.4 332.2h0M143.8 339.8h0M139.1 305.1h0M148.2 317.5h0M191.4 287.1h0M203.9 303.3h0M163.6 315.5h0M209.7 276.6h0M192.1 284.9h0M144.4 333.0h0M204.5 327.7h0M150.4 331.5h0M193.2 334.7h0M211.6 288.4h0M203.7 337.2h0M147.4 314.8h0M170.7 280.5h0M209.0 282.2h0M209.1 289.4h0M177.0 281.8h0M189.2 337.0h0M220.3 299.0h0M163.0 291.0h0M184.3 336.6h0M218.0 282.9h0M155.8 285.3h0M164.2 320.1h0M173.2 295.0h0M221.9 315.3h0M187.9 278.9h0M178.7 338.6h0M208.6 303.4h0M181.2 278.0h0M187.5 302.4h0M196.6 314.7h0M149.9 340.0h0M158.5 280.4h0M151.4 294.9h0M204.2 335.7h0M210.5 282.6h0M183.0 275.9h0M149.5 314.8h0M163.4 318.7h0M198.4 307.7h0M143.0 303.8h0M216.5 306.9h0M149.9 306.0h0M194.8 314.2h0M174.7 326.1h0M181.2 291.0h0M195.9 320.9h0M226.1 323.3h0M176.3 328.9h0M210.9 304.8h0M155.7 334.6h0M201.5 290.1h0M143.2 316.0h0M220.2 272.3h0M141.1 336.6h0M157.2 278.7h0M222.4 303.1h0M194.4 300.2h0M174.0 273.4h0M164.9 290.8h0M177.5 312.9h0M193.8 303.4h0M222.0 303.5h0M164.1 310.4h0M171.9 305.4h0M145.9 281.4h0M220.3 324.7h0M220.9 329.9h0M196.9 336.8h0M186.8 306.6h0M209.1 289.1h0M190.8 292.5h0M219.8 337.8h0M176.5 272.8h0M199.7 337.3h0M223.2 324.0h0M200.7 339.3h0M181.2 298.0h0M202.0 319.6h0M210.3 288.0h0M223.6 326.5h0M198.8 309.4h0M181.5 277.7h0M203.6 317.7h0M175.6 291.9h0M164.4 289.6h0M222.9 326.3h0M212.2 322.0h0M216.3 331.3h0M226.0 293.3h0M204.2 316.2h0M151.8 294.0h0M139.5 279.1h0M215.6 296.1h0M139.1 318.1h0M150.2 287.2h0M151.5 314.1h0M219.9 310.8h0M166.0 285.0h0M162.8 304.6h0M201.3 336.2h0M145.6 284.7h0M224.3 297.5h0M169.6 306.5h0M182.2 338.7h0M160.6 303.1h0M207.3 294.1h0M166.7 318.9h0M203.3 281.3h0M154.6 323.9h0M184.9 338.4h0M161.0 333.4h0M158.0 280.5h0M190.4 335.8h0M140.9 306.1h0M220.1 297.7h0M142.8 305.0h0M209.9 274.0h0M182.5 279.7h0M161.5 320.6h0M208.0 273.4h0M200.8 294.5h0M173.5 300.8h0M207.9 336.4h0M159.0 276.1h0M172.4 310.6h0M193.8 337.4h0M172.0 339.6h0M149.4 314.9h0M219.3 328.7h0M149.7 282.9h0M212.4 338.4h0M218.7 292.4h0M160.3 301.0h0M186.6 276.2h0M180.3 282.3h0M178.7 282.6h0M141.7 301.7h0M169.6 305.3h0M155.3 306.2h0M154.4 299.8h0M188.3 303.8h0M181.4 326.9h0M176.1 305.7h0M197.3 318.7h0M150.7 336.9h0M142.6 273.9h0M223.8 307.5h0M150.1 308.4h0M191.8 282.6h0M141.8 285.0h0M217.6 331.7h0M151.0 283.0h0M216.8 290.7h0M161.6 314.1h0M149.0 286.3h0M157.6 278.7h0M162.1 308.6h0M193.1 306.0h0M189.7 291.6h0M199.2 318.1h0M189.3 322.6h0M169.2 277.8h0M143.1 337.2h0M191.4 331.1h0M190.7 283.0h0M207.4 312.8h0M203.5 325.0h0M174.7 282.4h0M225.8 310.3h0M189.1 337.9h0M168.9 289.3h0M180.6 272.3h0M171.7 302.1h0M194.3 328.3h0M223.3 335.2h0M181.4 332.1h0M169.0 297.2h0M222.9 295.2h0M160.8 307.1h0M197.1 312.1h0M225.5 284.2h0M223.0 329.3h0M205.9 316.1h0M199.2 282.3h0M144.1 334.9h0M206.8 340.3h0M168.4 282.3h0M144.1 320.0h0M215.6 336.1h0M143.2 291.4h0M164.7 314.6h0M146.8 286.9h0M191.5 327.1h0M221.0 278.2h0M141.6 330.2h0M216.8 283.0h0M147.4 338.1h0M220.8 301.8h0M181.1 276.4h0M159.6 326.1h0M155.0 294.8h0M191.1 289.6h0M185.3 279.7h0M194.5 271.8h0M221.9 297.8h0M181.4 293.6h0M167.0 276.6h0M150.0 334.1h0M194.0 311.3h0M208.6 330.7h0M224.0 287.2h0M176.0 281.8h0M226.4 338.9h0M200.3 337.7h0M210.6 311.7h0M171.8 320.3h0M176.2 280.6h0M146.8 306.7h0M183.1 276.8h0M147.7 324.5h0M191.3 302.8h0M190.9 304.5h0M147.0 292.7h0M202.4 336.0h0M225.5 291.2h0M172.4 284.3h0M182.9 303.0h0M151.3 305.9h0M181.4 306.5h0M173.0 320.1h0M139.6 305.7h0M174.2 272.8h0M152.4 328.2h0M162.9 322.7h0M177.2 340.5h0M185.4 321.6h0M169.7 297.0h0M200.3 335.6h0M178.8 307.2h0M171.2 315.5h0M169.1 305.6h0M214.5 273.3h0M173.5 285.7h0M224.1 318.7h0M207.7 323.3h0M149.6 285.2h0M191.9 288.0h0M173.8 332.1h0M152.1 279.2h0M209.2 272.5h0M223.5 322.3h0M153.3 281.8h0M197.3 326.1h0M181.1 317.3h0" stroke="#c0aab4" stroke-width="1.3" stroke-linecap="round" fill="none"/>
<path d="M189.3 279.9 L188.5 278.4 L187.3 277.1 L185.9 276.2 L184.0 275.6 L182.2 275.4 L180.2 275.6 L178.3 276.2 L176.9 277.1 L175.7 278.4 L174.9 279.8 L174.7 281.5 L174.9 283.0 L175.7 284.4 L176.9 285.7 L178.3 286.6 L180.2 287.2 L182.0 287.4 L184.0 287.2 L185.9 286.6 L187.3 285.7 L188.5 284.4 L189.3 282.9 L189.5 281.5ZM150.5 295.8 L150.9 295.5 L151.3 294.5 L151.5 293.0 L151.3 291.3 L150.7 289.7 L149.6 288.3 L148.2 287.2 L146.7 286.6 L145.1 286.4 L143.3 286.6 L141.8 287.2 L140.4 288.3 L139.3 289.7 L138.7 291.3 L138.5 293.0 L138.7 294.6 L139.3 296.1 L139.9 296.7ZM140.5 298.7 L140.1 299.0 L139.5 300.3 L139.3 301.6 L139.5 303.1 L140.2 304.5 L141.3 305.7 L142.6 306.5 L144.2 307.1 L145.7 307.3 L147.5 307.1 L149.0 306.5 L150.3 305.7 L151.4 304.5 L152.1 303.2 L152.3 301.8 L152.1 300.3 L151.4 298.9 L150.5 297.9ZM185.8 295.9 L185.2 294.5 L184.3 293.3 L183.2 292.5 L181.8 291.9 L180.5 291.7 L179.0 291.9 L177.6 292.5 L176.5 293.3 L175.6 294.5 L175.0 295.9 L174.8 297.2 L175.0 298.7 L175.6 300.1 L176.5 301.3 L177.6 302.1 L179.0 302.7 L180.3 302.9 L181.8 302.7 L183.2 302.1 L184.3 301.3 L185.2 300.1 L185.8 298.7 L186.0 297.4ZM187.8 300.0 L188.4 301.7 L189.4 302.8 L190.7 303.7 L192.0 304.2 L193.7 304.3 L195.1 304.2 L196.5 303.7 L197.9 302.8 L198.7 301.8 L199.3 300.5 L199.6 299.0 L199.3 297.7 L198.8 296.5 L197.8 295.4 L196.5 294.5 L195.2 294.0 L193.5 293.9 L192.1 294.0 L190.7 294.5 L189.3 295.4 L188.2 296.9ZM214.3 277.2 L213.6 277.4 L212.7 278.7 L212.1 280.0 L211.9 281.3 L212.1 282.9 L212.7 284.2 L213.5 285.3 L214.6 286.0 L221.2 285.4 L221.5 285.2 L222.3 284.1 L222.9 282.9 L223.1 281.5 L222.9 280.5ZM215.3 287.9 L214.6 288.3 L213.9 289.3 L213.3 290.7 L213.2 291.9 L213.3 293.3 L213.9 294.7 L214.7 295.8 L215.7 296.5 L217.1 297.1 L218.3 297.2 L219.7 297.1 L221.1 296.5 L222.1 295.8 L222.9 294.7 L223.5 293.3 L223.6 292.1 L223.5 290.7 L222.9 289.3 L222.1 288.2 L220.8 287.5ZM215.7 275.3 L216.0 275.7 L222.6 278.1 L223.5 277.5 L224.2 276.7 L224.6 275.6 L224.8 274.4 L224.7 273.2 L224.2 271.9 L223.5 271.1 L222.6 270.3 L221.3 269.8 L220.3 269.7 L219.1 269.8 L217.8 270.3 L216.9 271.1 L216.2 271.9 L215.7 273.2 L215.6 274.2ZM168.8 317.0 L170.5 316.9 L171.3 316.6 L174.7 309.1 L174.5 308.7 L173.5 307.6 L172.2 306.7 L170.6 306.1 L169.0 305.9 L167.2 306.1 L165.7 306.7 L164.4 307.5 L163.2 308.8 L162.6 310.0 L162.4 311.4 L162.6 313.0 L163.3 314.2ZM172.9 319.1 L173.2 319.4 L179.7 321.8 L183.6 317.1 L183.7 316.6 L180.6 309.9 L180.4 309.6 L178.5 309.4 L177.0 309.6 L176.6 309.9 L172.8 318.3ZM183.0 309.9 L183.0 310.3 L185.5 315.8 L185.9 316.1 L190.8 316.4 L192.3 315.4 L193.1 314.2 L193.7 313.0 L193.9 311.4 L193.7 310.1 L193.1 308.8 L192.2 307.5 L191.1 306.7 L189.8 306.1 L188.2 305.9 L186.8 306.1 L185.6 306.7 L184.3 307.6 L183.5 308.7ZM169.0 322.2 L168.9 320.6 L168.0 318.9 L163.3 316.6 L162.0 316.7 L160.8 317.3 L159.5 318.2 L158.7 319.4 L158.1 320.6 L157.9 322.0 L158.1 323.6 L158.7 324.9 L159.5 326.0 L160.8 326.9 L162.0 327.5 L163.4 327.7 L165.0 327.5 L166.8 326.5ZM168.0 328.8 L168.0 329.2 L168.5 330.6 L169.6 332.0 L171.0 333.1 L172.5 333.7 L173.9 333.9 L180.0 330.0 L180.5 329.1 L180.6 328.0 L179.2 323.9 L172.5 321.2 L172.2 321.3 L171.5 321.7ZM182.0 322.3 L181.8 323.1 L182.0 324.5 L182.6 325.8 L183.4 326.9 L183.8 327.1 L192.6 323.3 L192.9 322.8 L192.8 321.5 L192.2 320.3 L191.4 319.1 L190.7 318.6 L185.7 318.1 L185.2 318.3ZM184.9 328.9 L184.6 329.4 L184.7 330.7 L185.2 331.7 L187.7 334.2 L188.7 334.6 L190.2 334.8 L191.5 334.6 L191.8 334.3 L195.5 328.0 L194.9 326.4 L194.1 325.3 L193.7 325.1ZM212.3 315.7 L211.8 314.4 L211.1 313.6 L210.2 312.8 L208.9 312.3 L207.9 312.2 L206.7 312.3 L205.4 312.8 L204.5 313.6 L203.8 314.4 L203.3 315.7 L203.2 316.7 L203.3 317.9 L203.8 319.2 L204.5 320.0 L205.4 320.8 L206.7 321.3 L207.7 321.4 L208.9 321.3 L210.2 320.8 L211.1 320.0 L211.8 319.2 L212.3 317.9 L212.4 316.9ZM222.2 314.1 L222.9 312.6 L223.0 311.6 L222.9 310.4 L222.4 309.1 L221.7 308.3 L220.8 307.5 L219.5 307.0 L218.5 306.9 L217.3 307.0 L216.0 307.5 L215.1 308.3 L214.4 309.1 L213.9 310.4 L213.8 311.4 L213.9 312.6 L214.4 313.9 L215.1 314.7 L216.0 315.5 L217.3 316.0 L218.7 316.1ZM216.7 322.2 L216.3 322.0 L215.0 321.8 L213.0 322.2 L210.8 323.7 L210.1 324.7 L209.5 325.9 L209.3 327.5 L209.5 328.8 L210.1 330.1 L211.0 331.4 L212.1 332.2 L213.4 332.8 L215.0 333.0 L216.4 332.8 L217.6 332.2 L218.9 331.3 L219.7 330.2 L220.3 328.9 L220.5 327.5 L220.3 326.7ZM193.6 335.4 L193.5 336.0 L194.1 337.3 L194.9 338.4 L196.1 339.3 L197.5 339.9 L198.8 340.1 L200.3 339.9 L201.7 339.3 L202.8 338.5 L203.7 337.3 L204.3 335.9 L204.5 334.6 L204.3 333.1 L203.7 331.7 L202.8 330.5 L201.7 329.7 L200.3 329.1 L199.0 328.9 L197.5 329.1 L197.2 329.4ZM177.1 334.3 L176.4 335.2 L175.8 336.5 L175.6 338.1 L175.8 339.5 L176.4 340.7 L177.3 342.0 L178.4 342.8 L179.7 343.4 L181.3 343.6 L182.6 343.4 L183.9 342.8 L185.2 341.9 L186.0 340.7 L186.6 339.4 L186.8 337.9 L186.6 336.6 L186.1 335.5 L183.8 333.1 L182.6 332.6 L181.3 332.4 L179.8 332.6ZM227.3 319.4 L226.8 318.4 L225.6 317.2 L224.6 316.7 L222.8 316.7 L221.8 317.2 L220.6 318.4 L220.1 319.4 L220.1 321.2 L220.6 322.2 L221.8 323.4 L222.8 323.9 L224.6 323.9 L225.6 323.4 L226.8 322.2 L227.3 321.2ZM153.9 331.8 L153.4 330.8 L152.2 329.6 L151.2 329.1 L149.4 329.1 L148.4 329.6 L147.2 330.8 L146.7 331.8 L146.7 333.6 L147.2 334.6 L148.4 335.8 L149.4 336.3 L151.2 336.3 L152.2 335.8 L153.4 334.6 L153.9 333.6ZM208.1 285.2 L207.7 284.4 L206.6 283.3 L205.8 282.9 L204.2 282.9 L203.4 283.3 L202.3 284.4 L201.9 285.2 L201.9 286.8 L202.3 287.6 L203.4 288.7 L204.2 289.1 L205.8 289.1 L206.6 288.7 L207.7 287.6 L208.1 286.8Z" fill="#fdfaf7"/>
</g></g>
<defs><mask id="m_r3" maskUnits="userSpaceOnUse" x="230" y="268" width="95" height="76"><g filter="url(#mb)"><rect x="233.8" y="271.4" width="86.8" height="69.6" fill="#505050"/><rect x="233.8" y="280" width="22" height="36" fill="#ffffff"/><rect x="233.8" y="312" width="86.8" height="8" fill="#d0d0d0"/><rect x="296" y="280" width="20" height="26" fill="#e0e0e0"/><rect x="262" y="291" width="30" height="13" fill="#c0c0c0"/></g></mask></defs>
<g clip-path="url(#cp_r3)"><g filter="url(#ihc)">
<rect x="233.80" y="271.40" width="86.80" height="69.60" fill="#f2f0f4"/>
<rect x="233.8" y="271.4" width="86.8" height="69.6" fill="#cfcade" mask="url(#m_r3)"/>
<path d="M233.8 315.0h0M312.8 284.0h0M243.4 314.6h0M235.5 306.9h0M312.1 276.0h0M286.2 279.3h0M306.3 289.6h0M264.4 307.9h0M294.8 313.7h0M278.0 299.7h0M318.6 291.5h0M292.9 304.1h0M247.7 300.2h0M319.7 313.4h0M310.4 279.3h0M252.0 291.3h0M313.4 298.3h0M282.7 295.0h0M305.4 289.1h0M241.6 318.1h0M298.2 290.5h0M251.6 297.7h0M281.1 289.1h0M272.0 281.2h0M289.4 317.5h0M307.2 292.6h0M277.0 331.3h0M295.5 319.9h0M289.2 324.3h0M250.6 286.2h0M248.3 304.6h0M311.3 283.5h0M277.8 293.8h0M295.5 340.2h0M240.5 318.0h0M304.7 295.5h0M288.9 333.6h0M238.0 290.1h0M234.3 305.4h0M244.8 319.1h0M258.9 309.5h0M271.9 300.9h0M256.9 276.9h0M252.8 299.0h0M304.6 318.6h0M238.0 318.5h0M294.8 317.2h0M295.4 318.9h0M252.9 304.6h0M303.0 289.1h0M239.4 311.1h0M254.5 306.0h0M242.3 290.8h0M239.9 292.9h0M297.2 286.5h0M271.2 318.1h0M251.1 298.7h0M317.7 306.8h0M286.3 295.5h0M260.1 337.6h0M235.9 316.2h0M247.0 313.6h0M249.3 300.6h0M238.7 300.2h0M257.2 315.2h0M310.0 293.6h0M311.5 314.6h0M263.7 288.3h0M303.1 292.4h0M300.1 293.3h0M263.2 299.4h0M303.2 287.7h0M299.6 308.0h0M298.7 281.2h0M238.5 309.5h0M315.4 311.2h0M278.2 299.2h0M246.0 281.6h0M273.5 294.8h0M276.1 305.2h0M304.8 281.3h0" stroke="#9a8aa0" stroke-width="1.3" stroke-linecap="round" fill="none"/>
<path d="M244.5 306.0h0M244.0 300.0h0M311.7 282.3h0M272.7 310.1h0M283.2 316.4h0M312.0 292.2h0M273.6 310.7h0M305.0 282.9h0M305.7 291.5h0M244.1 282.9h0M286.6 294.3h0M284.3 319.3h0M311.5 285.4h0M285.8 277.5h0M298.4 306.7h0M284.4 306.0h0M318.8 336.3h0M275.8 302.3h0M249.5 318.4h0M292.6 336.4h0M292.1 290.1h0M301.0 286.3h0M246.2 293.9h0M315.3 277.5h0M269.6 292.8h0M244.5 286.4h0M304.1 302.5h0M294.6 299.6h0M295.5 328.8h0M265.8 289.9h0M245.3 314.4h0M317.7 283.3h0M276.4 338.3h0M254.7 295.0h0M299.9 279.2h0M247.4 288.2h0M298.2 298.5h0M238.8 314.5h0M244.2 312.1h0M235.6 302.1h0M240.9 304.7h0M313.4 318.1h0M252.6 277.2h0M286.4 288.5h0M240.4 289.0h0M309.3 302.0h0M273.6 306.6h0M284.0 316.8h0M284.3 314.9h0M234.3 274.3h0M235.6 310.9h0M244.7 313.4h0M296.0 313.8h0M275.7 301.0h0M285.3 278.2h0M234.0 295.8h0M272.3 327.6h0M259.0 329.6h0M280.6 300.0h0M263.4 299.6h0M267.7 305.6h0M248.7 281.1h0M305.7 281.2h0M277.1 318.3h0M259.0 317.3h0M296.3 295.2h0M284.1 298.9h0M235.9 325.1h0M249.9 333.8h0M313.9 309.6h0M252.2 280.1h0M241.0 309.6h0M283.3 275.7h0M245.3 293.4h0M253.4 289.8h0M253.3 294.1h0M266.9 313.5h0M250.4 312.1h0M314.4 319.6h0M244.2 302.6h0M304.5 288.9h0M306.3 297.8h0M301.7 314.3h0M254.3 289.6h0M248.8 305.4h0M249.6 283.1h0M266.7 337.2h0M240.6 292.2h0M309.4 301.4h0M249.9 284.6h0M273.7 276.4h0" stroke="#a09ab8" stroke-width="1.0" stroke-linecap="round" fill="none"/>
<path d="M312.0 305.8h0M234.2 287.7h0M297.7 281.6h0M249.4 303.3h0M295.8 328.5h0M314.2 288.8h0M252.8 284.5h0M237.6 289.9h0M314.3 330.4h0M307.4 297.1h0M319.9 284.4h0M281.4 310.4h0M309.8 315.8h0M246.4 290.2h0M252.7 288.9h0M245.7 306.2h0M237.6 273.1h0M251.0 283.1h0M248.3 278.6h0M311.8 321.9h0M318.4 322.7h0M275.7 288.3h0M249.3 279.0h0M266.1 323.8h0M308.5 321.9h0M307.2 284.7h0M247.2 318.2h0M268.8 328.8h0M264.7 318.8h0M293.1 311.1h0M319.8 333.9h0M312.8 315.1h0M273.5 299.3h0M273.0 320.1h0M259.4 319.8h0M262.3 286.2h0M236.3 281.9h0M239.6 302.3h0M254.0 314.2h0M239.5 337.6h0M307.5 335.5h0M274.6 322.7h0M240.2 291.0h0M272.2 334.7h0M289.1 329.6h0M307.9 302.2h0M246.9 306.4h0M293.8 277.1h0M254.3 314.1h0M254.4 315.6h0M238.8 309.8h0M240.0 293.3h0M269.6 317.6h0M234.4 303.6h0M287.2 315.1h0M243.5 281.7h0M294.6 305.6h0M262.1 317.0h0M311.2 304.8h0M243.7 315.3h0M275.9 303.9h0M297.6 338.5h0M319.4 288.5h0M320.1 296.8h0M283.8 314.1h0M299.2 315.3h0M256.3 294.6h0M310.9 305.0h0M260.5 304.4h0M268.4 316.5h0M247.6 295.5h0M260.0 309.4h0M279.6 303.0h0M320.2 300.2h0M254.7 301.6h0M310.5 293.9h0M259.6 315.1h0M247.2 299.1h0M247.2 313.7h0M276.1 315.2h0M315.7 283.0h0M240.1 283.1h0M305.3 288.3h0M249.6 290.6h0M235.6 308.4h0M240.5 302.4h0M272.6 328.8h0M247.3 319.6h0M277.5 319.0h0M248.6 285.2h0M254.4 336.2h0M274.7 294.6h0M271.8 310.1h0M296.8 295.6h0" stroke="#7a7498" stroke-width="1.3" stroke-linecap="round" fill="none"/>
<path d="M320.2 301.6h0M310.9 291.9h0M288.6 294.3h0M297.0 283.9h0M298.7 279.9h0M298.2 296.6h0M314.4 338.7h0M252.0 301.2h0M241.1 310.3h0M248.1 302.6h0M313.9 301.8h0M268.0 311.6h0M288.0 290.3h0M261.1 303.8h0M253.9 305.8h0M283.0 294.6h0M264.6 287.0h0M268.2 313.2h0M240.5 278.9h0M318.6 285.6h0M269.6 317.9h0M238.5 287.8h0M248.4 282.8h0M256.3 304.9h0M288.8 301.2h0M244.0 301.4h0M237.3 289.9h0M305.0 288.4h0M250.3 283.2h0M254.5 339.6h0M234.2 309.0h0M234.4 313.0h0M287.9 298.8h0M238.1 309.2h0M282.8 313.4h0M236.2 292.3h0M249.7 302.4h0M315.5 288.0h0M292.9 319.8h0M290.3 291.4h0M277.6 314.2h0M235.1 319.4h0M249.4 313.4h0M273.3 286.0h0M241.2 309.9h0M245.3 281.9h0M272.1 292.3h0M311.2 303.5h0M260.9 340.2h0M304.2 300.3h0M271.5 319.8h0M313.3 300.2h0M287.4 330.4h0M234.4 340.3h0M301.7 293.1h0M277.3 306.5h0M299.8 298.0h0M284.0 318.6h0M237.8 273.9h0M294.9 290.7h0M248.9 296.1h0M296.3 283.1h0M252.1 340.6h0M314.0 294.6h0M287.3 301.3h0M253.8 320.3h0M245.1 287.1h0M279.3 322.0h0M239.8 296.5h0M264.6 303.1h0M310.7 284.7h0M278.1 301.5h0M241.4 302.3h0M233.9 288.0h0M240.9 276.2h0M240.9 282.6h0M258.7 305.0h0M311.0 319.5h0M307.0 297.6h0M253.7 289.5h0M307.3 299.4h0M250.3 291.3h0M246.1 288.7h0" stroke="#8a86a8" stroke-width="1.3" stroke-linecap="round" fill="none"/>
<path d="M252.0 319.4h0M245.8 302.8h0M234.2 293.4h0M299.3 306.0h0M235.7 316.1h0M234.5 298.4h0M263.5 322.5h0M236.7 284.8h0M294.9 295.7h0M291.5 276.6h0M263.1 275.7h0M314.6 303.1h0M318.3 297.3h0M311.4 316.7h0M243.4 318.8h0M310.4 313.8h0M253.2 306.0h0M282.6 304.5h0M237.0 273.2h0M272.4 330.9h0M292.7 286.7h0M305.9 303.9h0M238.7 312.1h0M249.0 328.7h0M242.5 321.0h0M296.3 299.4h0M306.0 330.8h0M310.5 331.0h0M292.6 320.0h0M244.5 309.0h0M315.3 332.3h0M255.7 292.4h0M286.6 300.8h0M306.8 281.9h0M267.4 296.6h0M253.7 272.7h0M267.9 297.4h0M270.2 297.8h0M243.1 314.5h0M311.8 286.0h0M316.6 294.5h0M250.0 288.0h0M286.6 331.0h0M243.1 291.3h0M295.2 330.0h0M303.5 314.0h0M282.0 297.1h0M240.9 318.9h0M243.8 289.3h0M267.4 318.4h0M248.4 284.4h0M249.9 315.2h0M247.4 287.4h0M315.6 330.7h0M278.4 297.0h0M286.8 276.0h0M269.3 302.3h0M287.2 300.3h0M316.5 283.2h0M250.2 294.7h0M253.0 318.7h0M300.0 299.2h0M237.5 285.9h0M256.5 331.1h0M301.3 287.4h0M304.0 295.1h0M303.3 338.6h0M317.2 305.2h0M289.7 306.1h0M294.5 313.7h0M237.5 276.2h0M237.1 286.2h0M234.5 286.5h0M299.3 281.8h0M241.7 330.5h0M250.6 308.0h0M289.4 325.0h0" stroke="#7a7498" stroke-width="1.0" stroke-linecap="round" fill="none"/>
<path d="M244.7 318.9h0M282.7 316.8h0M252.9 302.1h0M305.5 302.3h0M302.4 314.4h0M240.8 318.0h0M241.4 284.7h0M272.0 303.9h0M238.7 297.4h0M243.3 320.0h0M309.8 287.6h0M236.0 315.9h0M242.2 292.5h0M316.8 318.0h0M258.3 314.6h0M318.7 287.6h0M253.7 316.3h0M263.4 272.7h0M308.5 285.6h0M250.9 291.5h0M267.4 297.1h0M252.8 291.3h0M309.2 271.9h0M305.9 288.7h0M256.7 281.8h0M317.3 293.0h0M293.7 325.6h0M242.3 285.8h0M304.0 305.4h0M297.5 319.3h0M317.2 315.8h0M288.4 299.7h0M271.0 290.0h0M234.8 284.1h0M287.7 315.3h0M284.2 295.4h0M291.6 300.5h0M312.8 300.5h0M285.2 323.1h0M237.5 313.0h0M313.4 280.0h0M257.4 331.5h0M262.9 320.3h0M261.7 313.6h0M300.3 314.3h0M307.8 305.3h0M249.7 297.4h0M254.1 284.2h0M234.1 276.3h0M316.4 298.4h0M237.8 285.9h0M294.7 287.8h0M306.5 285.1h0M250.9 308.5h0M289.0 322.6h0M306.3 299.3h0M240.3 291.8h0M312.5 314.7h0M299.7 318.9h0M274.2 301.0h0M241.1 331.6h0M296.4 298.8h0M298.6 298.3h0M307.6 300.6h0M261.9 318.2h0M235.4 290.1h0M260.2 324.3h0M285.7 296.9h0M236.6 286.6h0M263.8 303.2h0M315.3 301.2h0M234.2 311.0h0M240.8 312.0h0M261.5 317.4h0M258.5 290.8h0M244.3 303.1h0M305.6 295.9h0M316.7 283.0h0M281.4 340.7h0M264.5 291.9h0M243.8 295.7h0M305.7 285.4h0M302.3 298.0h0M268.1 307.6h0M239.9 285.8h0M238.8 310.2h0M319.9 290.7h0M246.8 337.0h0M252.6 307.0h0" stroke="#9a8aa0" stroke-width="1.0" stroke-linecap="round" fill="none"/>
<path d="M291.6 297.2h0M254.5 273.7h0M246.4 280.0h0M237.9 298.2h0M274.5 331.0h0M320.1 307.6h0M270.3 279.9h0M272.7 289.2h0M255.1 281.0h0M243.3 279.3h0M300.7 288.4h0M242.6 316.3h0M299.3 302.4h0M309.9 297.4h0M250.5 282.9h0M245.7 306.0h0M316.4 280.9h0M252.8 320.2h0M244.4 326.8h0M308.9 304.5h0M262.3 308.6h0M238.3 289.2h0M234.2 299.0h0M241.6 286.0h0M247.7 331.3h0M291.1 317.6h0M307.1 328.9h0M280.9 294.4h0M310.9 303.8h0M252.3 311.8h0M320.2 301.8h0M313.3 298.5h0M320.6 296.3h0M237.7 293.3h0M312.1 285.0h0M303.1 295.6h0M259.3 323.8h0M254.7 305.3h0M297.9 288.2h0M315.8 289.1h0M251.9 286.0h0M235.8 306.1h0M279.0 338.5h0M243.4 272.1h0M295.0 286.7h0M247.6 286.8h0M319.9 321.3h0M299.4 297.4h0M277.1 297.4h0M283.2 285.6h0M252.9 273.9h0M240.9 292.7h0M308.9 290.4h0M315.1 303.2h0M243.6 283.7h0M293.3 318.8h0M289.2 318.9h0M248.8 304.2h0M242.4 308.4h0M240.1 311.0h0M244.7 314.6h0M255.1 283.5h0M288.1 326.7h0M313.1 328.0h0M251.7 294.1h0M318.8 309.8h0M243.7 302.2h0M311.6 301.2h0M286.4 314.0h0M317.3 316.2h0M264.9 317.5h0M320.0 309.3h0M283.7 318.1h0M254.4 314.3h0M319.7 290.5h0M246.0 307.1h0M317.4 288.2h0M293.7 315.1h0M263.4 316.5h0M316.3 295.1h0M253.5 332.4h0M312.6 286.4h0M303.8 281.0h0M303.9 276.7h0M295.8 287.6h0" stroke="#8a86a8" stroke-width="1.0" stroke-linecap="round" fill="none"/>
<path d="M275.1 339.0h0M302.1 317.8h0M272.8 293.0h0M270.7 289.1h0M316.1 290.1h0M240.2 307.6h0M280.4 340.3h0M314.4 306.2h0M235.9 333.2h0M304.8 335.5h0M284.8 289.9h0M251.0 316.6h0M249.9 311.3h0M303.4 317.6h0M237.9 319.8h0M307.3 300.8h0M247.8 324.6h0M295.1 314.5h0M277.2 276.9h0M247.8 307.5h0M245.2 330.8h0M255.3 276.3h0M242.0 335.5h0M303.3 283.6h0M319.5 313.2h0M249.8 287.2h0M311.4 291.9h0M289.5 323.5h0M300.6 283.6h0M253.9 311.8h0M246.9 302.9h0M235.7 301.6h0M300.4 336.6h0M242.5 289.9h0M266.2 319.0h0M234.0 293.2h0M257.3 315.6h0M262.6 280.8h0M267.3 300.9h0M309.8 285.3h0M244.4 321.1h0M251.3 285.4h0M305.1 328.5h0M244.6 330.9h0M307.2 287.8h0M239.6 279.8h0M303.4 290.7h0M235.1 287.4h0M259.2 334.4h0M243.9 282.8h0M264.4 316.5h0M243.7 303.2h0M306.3 317.0h0M243.1 313.4h0M300.0 292.9h0M306.2 300.6h0M289.6 326.0h0M259.1 297.6h0M271.1 303.7h0M246.2 282.2h0M313.8 298.3h0M279.4 330.1h0M234.9 296.2h0" stroke="#a09ab8" stroke-width="1.3" stroke-linecap="round" fill="none"/>
<path d="M272.4 287.9 L272.7 287.6 L275.3 282.5 L275.4 282.1 L271.9 269.9 L269.4 268.8 L266.3 268.4 L263.4 268.8 L260.7 269.9 L258.4 271.7 L257.5 272.9 L257.4 273.3 L260.9 289.3 L262.0 289.8ZM281.4 298.1 L281.8 298.1 L290.3 294.3 L293.4 285.4 L292.8 283.6 L291.4 281.8 L276.8 283.0 L276.4 283.2 L274.3 287.5 L274.1 288.6 L280.9 297.8ZM274.7 291.7 L272.2 290.5 L270.1 290.3 L267.8 290.5 L265.6 291.5 L263.9 292.8 L262.5 294.6 L261.5 296.8 L261.3 298.9 L261.5 301.2 L262.5 303.4 L263.8 305.1 L265.6 306.5 L267.8 307.5 L269.9 307.7 L272.2 307.5 L274.4 306.5 L276.1 305.2 L277.5 303.4 L278.5 301.2 L278.7 299.1 L278.5 296.8ZM292.0 296.7 L290.9 296.5 L289.1 296.7 L287.2 297.5 L285.7 298.7 L284.5 300.2 L283.7 302.1 L283.5 303.9 L283.7 305.9 L284.5 307.8 L285.7 309.3 L287.2 310.5 L289.1 311.3 L290.9 311.5 L292.9 311.3 L294.8 310.5 L296.3 309.3 L297.5 307.8 L298.3 305.9 L298.5 303.9 L298.1 302.3ZM312.2 313.4 L319.4 311.5 L320.7 309.9 L321.5 308.1 L321.7 306.3 L321.5 304.3 L320.7 302.4 L319.5 300.9 L318.7 300.3 L311.3 299.3 L310.4 299.7 L308.9 300.9 L307.7 302.5 L307.0 304.2 L306.7 306.1 L307.0 308.2 L307.7 309.9 L308.9 311.5 L310.4 312.7ZM269.2 325.7 L275.0 332.1 L275.6 332.4 L276.7 332.4 L287.5 325.0 L288.3 315.6 L278.9 308.6 L269.3 312.5 L268.2 314.0ZM297.7 330.7 L298.4 330.8 L300.0 330.5 L306.4 325.0 L306.8 324.3 L307.0 322.2 L306.7 319.8 L305.9 317.8 L304.5 316.0 L302.6 314.5 L300.5 313.6 L298.4 313.4 L296.0 313.7 L293.9 314.6 L292.2 315.9 L290.7 317.8 L289.8 319.9 L289.6 322.0 L289.9 324.4 L290.7 326.3ZM248.6 326.5 L248.9 326.1 L248.9 317.5 L247.8 316.0 L246.0 314.6 L243.8 313.6 L241.7 313.4 L239.4 313.6 L237.2 314.6 L235.4 316.0 L234.1 317.7 L233.1 319.9 L232.9 322.2 L233.1 324.3 L234.1 326.5 L235.5 328.3 L237.2 329.6 L239.3 330.5 L240.6 330.6ZM250.2 326.2 L250.4 326.6 L255.4 329.7 L264.8 326.7 L265.1 326.4 L265.9 324.4 L266.2 322.2 L266.0 319.9 L265.1 317.8 L263.6 315.9 L261.9 314.6 L259.8 313.7 L257.4 313.4 L255.3 313.6 L253.2 314.5 L251.3 316.0 L250.2 317.5ZM249.8 327.7 L249.3 327.7 L241.2 331.8 L240.3 333.7 L240.0 335.9 L240.3 338.3 L241.1 340.3 L242.5 342.1 L244.4 343.6 L246.4 344.4 L248.6 344.7 L250.9 344.5 L253.0 343.6 L254.5 342.5 L254.7 342.1 L254.6 330.9ZM310.2 326.0 L308.8 325.8 L307.2 326.1 L300.8 331.6 L300.4 332.3 L300.2 334.4 L300.4 336.7 L301.4 338.9 L302.7 340.6 L304.5 342.0 L306.7 343.0 L308.8 343.2 L311.1 343.0 L313.3 342.0 L315.1 340.6 L316.4 338.9 L317.4 336.7 L317.6 334.6 L317.4 332.3 L316.4 330.1 L316.1 329.7ZM296.7 334.1 L295.9 332.2 L294.7 330.7 L293.2 329.5 L291.3 328.7 L289.5 328.5 L287.5 328.7 L285.6 329.5 L284.1 330.7 L282.9 332.2 L282.1 334.1 L281.9 335.9 L282.1 337.9 L282.9 339.8 L284.1 341.3 L285.6 342.5 L287.5 343.3 L289.3 343.5 L291.3 343.3 L293.2 342.5 L294.7 341.3 L295.9 339.8 L296.7 337.9 L296.9 336.1ZM256.9 277.2 L256.6 276.8 L254.9 275.5 L252.8 274.6 L250.6 274.3 L249.5 274.4 L242.2 285.4 L242.9 287.3 L244.3 289.1 L246.0 290.4 L255.0 290.4 L256.6 289.2 L258.1 287.3 L258.7 285.6ZM259.6 295.2 L259.1 293.9 L257.6 292.0 L257.0 291.6 L243.7 291.8 L241.9 293.9 L240.8 296.5 L240.5 299.1 L240.8 301.5 L241.8 303.9 L243.5 306.1 L245.4 307.6 L247.9 308.6 L250.6 309.0 L253.1 308.6 L255.4 307.7 L257.6 306.0 L259.1 304.1 L259.6 303.0ZM306.9 289.1 L308.0 288.7 L312.1 284.2 L312.5 282.1 L312.3 280.1 L311.5 278.2 L310.3 276.7 L308.8 275.5 L306.9 274.7 L305.1 274.5 L303.1 274.7 L301.2 275.5 L299.7 276.7 L298.5 278.2 L297.7 280.1 L297.5 281.9 L297.7 283.9 L298.4 285.4 L298.6 285.7ZM320.8 290.8 L320.3 289.4 L319.6 288.5 L318.6 287.7 L317.2 287.2 L316.1 287.0 L314.8 287.2 L313.4 287.7 L312.5 288.4 L311.7 289.4 L311.2 290.8 L311.0 291.9 L311.2 293.2 L311.7 294.6 L312.4 295.5 L313.4 296.3 L314.8 296.8 L315.9 297.0 L317.2 296.8 L318.6 296.3 L319.5 295.6 L320.3 294.6 L320.8 293.2 L321.0 292.1ZM244.8 274.8 L244.3 273.4 L243.6 272.5 L242.6 271.7 L241.2 271.2 L240.1 271.0 L238.8 271.2 L237.4 271.7 L236.5 272.4 L235.7 273.4 L235.2 274.8 L235.0 275.9 L235.2 277.2 L235.7 278.6 L236.4 279.5 L237.4 280.3 L238.8 280.8 L239.9 281.0 L241.2 280.8 L242.6 280.3 L243.5 279.6 L244.3 278.6 L244.8 277.2 L245.0 276.1ZM284.6 281.0 L286.1 280.4 L287.4 279.5 L288.4 278.1 L289.0 276.7 L289.2 275.1 L289.0 273.3 L288.4 271.9 L287.5 270.6 L286.1 269.6 L284.7 269.0 L283.1 268.8 L281.3 269.0 L279.9 269.6 L278.6 270.5 L277.6 271.9 L277.0 273.3 L276.8 274.9 L277.0 276.7 L277.6 278.1 L278.5 279.4 L279.9 280.4 L281.3 281.0 L282.4 281.2ZM256.0 337.6 L256.6 339.2 L257.6 340.5 L258.8 341.4 L260.4 342.0 L261.9 342.2 L263.6 342.0 L265.2 341.4 L266.4 340.5 L267.4 339.2 L268.0 337.6 L268.2 336.1 L268.0 334.4 L267.4 332.8 L266.4 331.5 L265.2 330.6 L263.6 330.0 L262.1 329.8 L260.4 330.0 L258.8 330.6 L257.6 331.5 L256.6 332.8 L256.0 334.4ZM322.8 318.8 L322.3 317.4 L321.6 316.5 L320.6 315.7 L319.2 315.2 L318.1 315.0 L316.8 315.2 L315.4 315.7 L314.5 316.4 L313.7 317.4 L313.2 318.8 L313.0 319.9 L313.2 321.2 L313.7 322.6 L314.4 323.5 L315.4 324.3 L316.8 324.8 L317.9 325.0 L319.2 324.8 L320.6 324.3 L321.5 323.6 L322.3 322.6 L322.8 321.2 L323.0 320.1ZM304.8 292.8 L304.3 291.4 L303.6 290.5 L302.6 289.7 L301.2 289.2 L300.1 289.0 L298.8 289.2 L297.4 289.7 L296.5 290.4 L295.7 291.4 L295.2 292.8 L295.0 293.9 L295.2 295.2 L295.7 296.6 L296.4 297.5 L297.4 298.3 L298.8 298.8 L299.9 299.0 L301.2 298.8 L302.6 298.3 L303.5 297.6 L304.3 296.6 L304.8 295.2 L305.0 294.1Z" fill="#fdfaf7"/>
</g></g>
<line x1="45.00" y1="261.70" x2="66.30" y2="261.70" stroke="#222" stroke-width="0.9"/>
<rect x="45.00" y="263.30" width="1.20" height="1.60" fill="#222"/>
<rect x="48.50" y="263.30" width="1.20" height="1.60" fill="#222"/>
<rect x="52.00" y="263.30" width="1.20" height="1.60" fill="#222"/>
<rect x="55.50" y="263.30" width="1.20" height="1.60" fill="#222"/>
<rect x="59.00" y="263.30" width="1.20" height="1.60" fill="#222"/>
<rect x="62.50" y="263.30" width="1.20" height="1.60" fill="#222"/>
<rect x="65.50" y="263.30" width="2.80" height="1.60" fill="#222"/>
<line x1="139.80" y1="261.70" x2="161.10" y2="261.70" stroke="#222" stroke-width="0.9"/>
<rect x="139.80" y="263.30" width="1.20" height="1.60" fill="#222"/>
<rect x="143.30" y="263.30" width="1.20" height="1.60" fill="#222"/>
<rect x="146.80" y="263.30" width="1.20" height="1.60" fill="#222"/>
<rect x="150.30" y="263.30" width="1.20" height="1.60" fill="#222"/>
<rect x="153.80" y="263.30" width="1.20" height="1.60" fill="#222"/>
<rect x="157.30" y="263.30" width="1.20" height="1.60" fill="#222"/>
<rect x="160.30" y="263.30" width="2.80" height="1.60" fill="#222"/>
<line x1="234.60" y1="261.70" x2="255.90" y2="261.70" stroke="#222" stroke-width="0.9"/>
<rect x="234.60" y="263.30" width="1.20" height="1.60" fill="#222"/>
<rect x="238.10" y="263.30" width="1.20" height="1.60" fill="#222"/>
<rect x="241.60" y="263.30" width="1.20" height="1.60" fill="#222"/>
<rect x="245.10" y="263.30" width="1.20" height="1.60" fill="#222"/>
<rect x="248.60" y="263.30" width="1.20" height="1.60" fill="#222"/>
<rect x="252.10" y="263.30" width="1.20" height="1.60" fill="#222"/>
<rect x="255.10" y="263.30" width="2.80" height="1.60" fill="#222"/>
<line x1="45.00" y1="336.40" x2="66.30" y2="336.40" stroke="#222" stroke-width="0.9"/>
<rect x="45.00" y="338.00" width="1.20" height="1.60" fill="#222"/>
<rect x="48.50" y="338.00" width="1.20" height="1.60" fill="#222"/>
<rect x="52.00" y="338.00" width="1.20" height="1.60" fill="#222"/>
<rect x="55.50" y="338.00" width="1.20" height="1.60" fill="#222"/>
<rect x="59.00" y="338.00" width="1.20" height="1.60" fill="#222"/>
<rect x="62.50" y="338.00" width="1.20" height="1.60" fill="#222"/>
<rect x="65.50" y="338.00" width="2.80" height="1.60" fill="#222"/>
<line x1="139.80" y1="336.40" x2="161.10" y2="336.40" stroke="#222" stroke-width="0.9"/>
<rect x="139.80" y="338.00" width="1.20" height="1.60" fill="#222"/>
<rect x="143.30" y="338.00" width="1.20" height="1.60" fill="#222"/>
<rect x="146.80" y="338.00" width="1.20" height="1.60" fill="#222"/>
<rect x="150.30" y="338.00" width="1.20" height="1.60" fill="#222"/>
<rect x="153.80" y="338.00" width="1.20" height="1.60" fill="#222"/>
<rect x="157.30" y="338.00" width="1.20" height="1.60" fill="#222"/>
<rect x="160.30" y="338.00" width="2.80" height="1.60" fill="#222"/>
<line x1="234.60" y1="336.40" x2="255.90" y2="336.40" stroke="#222" stroke-width="0.9"/>
<rect x="234.60" y="338.00" width="1.20" height="1.60" fill="#222"/>
<rect x="238.10" y="338.00" width="1.20" height="1.60" fill="#222"/>
<rect x="241.60" y="338.00" width="1.20" height="1.60" fill="#222"/>
<rect x="245.10" y="338.00" width="1.20" height="1.60" fill="#222"/>
<rect x="248.60" y="338.00" width="1.20" height="1.60" fill="#222"/>
<rect x="252.10" y="338.00" width="1.20" height="1.60" fill="#222"/>
<rect x="255.10" y="338.00" width="2.80" height="1.60" fill="#222"/>
<text x="23.20" y="436.10" font-size="6.6" style="stroke-width:0.3px" text-anchor="middle" textLength="60.40" lengthAdjust="spacingAndGlyphs" transform="rotate(-90 23.20 436.10)">Expression of TRIM21</text>
<text x="33.40" y="417.30" font-size="7.0" text-anchor="end">9</text>
<line x1="36.80" y1="414.80" x2="39.60" y2="414.80" stroke="#231f20" stroke-width="1"/>
<text x="33.40" y="442.25" font-size="7.0" text-anchor="end">8</text>
<line x1="36.80" y1="439.75" x2="39.60" y2="439.75" stroke="#231f20" stroke-width="1"/>
<text x="33.40" y="467.20" font-size="7.0" text-anchor="end">7</text>
<line x1="36.80" y1="464.70" x2="39.60" y2="464.70" stroke="#231f20" stroke-width="1"/>
<line x1="39.60" y1="392.40" x2="39.60" y2="479.50" stroke="#231f20" stroke-width="1.3"/>
<line x1="39.00" y1="479.00" x2="160.70" y2="479.00" stroke="#231f20" stroke-width="1.3"/>
<line x1="53.40" y1="479.00" x2="53.40" y2="481.60" stroke="#231f20" stroke-width="1"/>
<text x="53.40" y="491.30" font-size="7.6" text-anchor="middle">CR</text>
<rect x="44.40" y="426.78" width="18.00" height="11.48" fill="#e9a2a8" opacity="0.6"/>
<line x1="77.10" y1="479.00" x2="77.10" y2="481.60" stroke="#231f20" stroke-width="1"/>
<text x="77.10" y="491.30" font-size="7.6" text-anchor="middle">MR</text>
<rect x="68.10" y="434.01" width="18.00" height="8.98" fill="#f8dd8a" opacity="0.6"/>
<line x1="100.40" y1="479.00" x2="100.40" y2="481.60" stroke="#231f20" stroke-width="1"/>
<text x="100.40" y="491.30" font-size="7.6" text-anchor="middle">NC</text>
<rect x="91.40" y="438.50" width="18.00" height="8.73" fill="#a9d89a" opacity="0.6"/>
<line x1="123.80" y1="479.00" x2="123.80" y2="481.60" stroke="#231f20" stroke-width="1"/>
<text x="123.80" y="491.30" font-size="7.6" text-anchor="middle">PD</text>
<rect x="114.80" y="436.76" width="18.00" height="7.98" fill="#9dd0ee" opacity="0.6"/>
<line x1="147.40" y1="479.00" x2="147.40" y2="481.60" stroke="#231f20" stroke-width="1"/>
<text x="147.40" y="491.30" font-size="7.6" text-anchor="middle">PR</text>
<rect x="138.40" y="438.50" width="18.00" height="9.23" fill="#f19ac2" opacity="0.6"/>
<circle cx="61.29" cy="442.81" r="0.85" fill="#d42a44" fill-opacity="0.85"/>
<circle cx="52.76" cy="431.62" r="0.85" fill="#d42a44" fill-opacity="0.85"/>
<circle cx="47.53" cy="443.55" r="0.85" fill="#d42a44" fill-opacity="0.85"/>
<circle cx="53.62" cy="434.72" r="0.85" fill="#d42a44" fill-opacity="0.85"/>
<circle cx="45.85" cy="442.76" r="0.85" fill="#d42a44" fill-opacity="0.85"/>
<circle cx="49.74" cy="443.29" r="0.85" fill="#d42a44" fill-opacity="0.85"/>
<circle cx="57.00" cy="423.55" r="0.85" fill="#d42a44" fill-opacity="0.85"/>
<circle cx="44.88" cy="427.40" r="0.85" fill="#d42a44" fill-opacity="0.85"/>
<circle cx="56.26" cy="436.28" r="0.85" fill="#d42a44" fill-opacity="0.85"/>
<circle cx="44.38" cy="437.32" r="0.85" fill="#d42a44" fill-opacity="0.85"/>
<circle cx="53.93" cy="436.98" r="0.85" fill="#d42a44" fill-opacity="0.85"/>
<circle cx="48.60" cy="430.04" r="0.85" fill="#d42a44" fill-opacity="0.85"/>
<circle cx="44.66" cy="432.60" r="0.85" fill="#d42a44" fill-opacity="0.85"/>
<circle cx="59.77" cy="441.60" r="0.85" fill="#d42a44" fill-opacity="0.85"/>
<circle cx="77.46" cy="436.19" r="0.85" fill="#f4c01e" fill-opacity="0.85"/>
<circle cx="80.12" cy="443.61" r="0.85" fill="#f4c01e" fill-opacity="0.85"/>
<circle cx="76.31" cy="444.80" r="0.85" fill="#f4c01e" fill-opacity="0.85"/>
<circle cx="86.32" cy="442.59" r="0.85" fill="#f4c01e" fill-opacity="0.85"/>
<circle cx="73.66" cy="431.70" r="0.85" fill="#f4c01e" fill-opacity="0.85"/>
<circle cx="72.07" cy="447.91" r="0.85" fill="#f4c01e" fill-opacity="0.85"/>
<circle cx="82.05" cy="438.70" r="0.85" fill="#f4c01e" fill-opacity="0.85"/>
<circle cx="75.25" cy="435.23" r="0.85" fill="#f4c01e" fill-opacity="0.85"/>
<circle cx="85.62" cy="433.78" r="0.85" fill="#f4c01e" fill-opacity="0.85"/>
<circle cx="83.56" cy="444.08" r="0.85" fill="#f4c01e" fill-opacity="0.85"/>
<circle cx="84.73" cy="432.87" r="0.85" fill="#f4c01e" fill-opacity="0.85"/>
<circle cx="76.54" cy="437.99" r="0.85" fill="#f4c01e" fill-opacity="0.85"/>
<circle cx="69.16" cy="430.53" r="0.85" fill="#f4c01e" fill-opacity="0.85"/>
<circle cx="79.51" cy="438.93" r="0.85" fill="#f4c01e" fill-opacity="0.85"/>
<circle cx="69.42" cy="436.95" r="0.85" fill="#f4c01e" fill-opacity="0.85"/>
<circle cx="73.99" cy="443.84" r="0.85" fill="#f4c01e" fill-opacity="0.85"/>
<circle cx="69.99" cy="425.71" r="0.85" fill="#f4c01e" fill-opacity="0.85"/>
<circle cx="72.38" cy="440.83" r="0.85" fill="#f4c01e" fill-opacity="0.85"/>
<circle cx="82.62" cy="435.89" r="0.85" fill="#f4c01e" fill-opacity="0.85"/>
<circle cx="71.10" cy="436.44" r="0.85" fill="#f4c01e" fill-opacity="0.85"/>
<circle cx="71.35" cy="445.60" r="0.85" fill="#f4c01e" fill-opacity="0.85"/>
<circle cx="81.41" cy="440.97" r="0.85" fill="#f4c01e" fill-opacity="0.85"/>
<circle cx="69.97" cy="430.69" r="0.85" fill="#f4c01e" fill-opacity="0.85"/>
<circle cx="75.63" cy="430.12" r="0.85" fill="#f4c01e" fill-opacity="0.85"/>
<circle cx="85.86" cy="436.63" r="0.85" fill="#f4c01e" fill-opacity="0.85"/>
<circle cx="82.74" cy="432.23" r="0.85" fill="#f4c01e" fill-opacity="0.85"/>
<circle cx="71.72" cy="443.20" r="0.85" fill="#f4c01e" fill-opacity="0.85"/>
<circle cx="75.13" cy="423.33" r="0.85" fill="#f4c01e" fill-opacity="0.85"/>
<circle cx="69.67" cy="431.46" r="0.85" fill="#f4c01e" fill-opacity="0.85"/>
<circle cx="86.20" cy="446.50" r="0.85" fill="#f4c01e" fill-opacity="0.85"/>
<circle cx="82.17" cy="436.68" r="0.85" fill="#f4c01e" fill-opacity="0.85"/>
<circle cx="73.92" cy="432.37" r="0.85" fill="#f4c01e" fill-opacity="0.85"/>
<circle cx="92.78" cy="444.33" r="0.85" fill="#4daa3a" fill-opacity="0.85"/>
<circle cx="101.94" cy="440.69" r="0.85" fill="#4daa3a" fill-opacity="0.85"/>
<circle cx="98.01" cy="443.05" r="0.85" fill="#4daa3a" fill-opacity="0.85"/>
<circle cx="99.53" cy="433.35" r="0.85" fill="#4daa3a" fill-opacity="0.85"/>
<circle cx="101.79" cy="435.17" r="0.85" fill="#4daa3a" fill-opacity="0.85"/>
<circle cx="107.22" cy="445.68" r="0.85" fill="#4daa3a" fill-opacity="0.85"/>
<circle cx="108.00" cy="441.72" r="0.85" fill="#4daa3a" fill-opacity="0.85"/>
<circle cx="106.31" cy="439.54" r="0.85" fill="#4daa3a" fill-opacity="0.85"/>
<circle cx="104.85" cy="443.48" r="0.85" fill="#4daa3a" fill-opacity="0.85"/>
<circle cx="108.59" cy="438.64" r="0.85" fill="#4daa3a" fill-opacity="0.85"/>
<circle cx="107.51" cy="437.46" r="0.85" fill="#4daa3a" fill-opacity="0.85"/>
<circle cx="102.33" cy="426.19" r="0.85" fill="#4daa3a" fill-opacity="0.85"/>
<circle cx="91.82" cy="446.58" r="0.85" fill="#4daa3a" fill-opacity="0.85"/>
<circle cx="109.01" cy="441.83" r="0.85" fill="#4daa3a" fill-opacity="0.85"/>
<circle cx="95.88" cy="442.64" r="0.85" fill="#4daa3a" fill-opacity="0.85"/>
<circle cx="106.42" cy="431.83" r="0.85" fill="#4daa3a" fill-opacity="0.85"/>
<circle cx="94.36" cy="448.62" r="0.85" fill="#4daa3a" fill-opacity="0.85"/>
<circle cx="104.50" cy="447.05" r="0.85" fill="#4daa3a" fill-opacity="0.85"/>
<circle cx="101.50" cy="438.60" r="0.85" fill="#4daa3a" fill-opacity="0.85"/>
<circle cx="106.95" cy="441.24" r="0.85" fill="#4daa3a" fill-opacity="0.85"/>
<circle cx="108.16" cy="448.06" r="0.85" fill="#4daa3a" fill-opacity="0.85"/>
<circle cx="94.89" cy="447.49" r="0.85" fill="#4daa3a" fill-opacity="0.85"/>
<circle cx="99.39" cy="437.60" r="0.85" fill="#4daa3a" fill-opacity="0.85"/>
<circle cx="92.22" cy="442.88" r="0.85" fill="#4daa3a" fill-opacity="0.85"/>
<circle cx="101.74" cy="440.28" r="0.85" fill="#4daa3a" fill-opacity="0.85"/>
<circle cx="93.55" cy="437.07" r="0.85" fill="#4daa3a" fill-opacity="0.85"/>
<circle cx="109.34" cy="453.70" r="0.85" fill="#4daa3a" fill-opacity="0.85"/>
<circle cx="103.32" cy="431.49" r="0.85" fill="#4daa3a" fill-opacity="0.85"/>
<circle cx="93.71" cy="447.07" r="0.85" fill="#4daa3a" fill-opacity="0.85"/>
<circle cx="91.75" cy="452.74" r="0.85" fill="#4daa3a" fill-opacity="0.85"/>
<circle cx="104.14" cy="427.16" r="0.85" fill="#4daa3a" fill-opacity="0.85"/>
<circle cx="109.01" cy="441.65" r="0.85" fill="#4daa3a" fill-opacity="0.85"/>
<circle cx="100.07" cy="432.94" r="0.85" fill="#4daa3a" fill-opacity="0.85"/>
<circle cx="104.69" cy="442.07" r="0.85" fill="#4daa3a" fill-opacity="0.85"/>
<circle cx="92.50" cy="455.53" r="0.85" fill="#4daa3a" fill-opacity="0.85"/>
<circle cx="107.84" cy="455.22" r="0.85" fill="#4daa3a" fill-opacity="0.85"/>
<circle cx="104.81" cy="446.99" r="0.85" fill="#4daa3a" fill-opacity="0.85"/>
<circle cx="108.12" cy="447.31" r="0.85" fill="#4daa3a" fill-opacity="0.85"/>
<circle cx="97.64" cy="456.22" r="0.85" fill="#4daa3a" fill-opacity="0.85"/>
<circle cx="107.30" cy="449.87" r="0.85" fill="#4daa3a" fill-opacity="0.85"/>
<circle cx="98.86" cy="458.27" r="0.85" fill="#4daa3a" fill-opacity="0.85"/>
<circle cx="101.75" cy="439.73" r="0.85" fill="#4daa3a" fill-opacity="0.85"/>
<circle cx="102.72" cy="457.95" r="0.85" fill="#4daa3a" fill-opacity="0.85"/>
<circle cx="102.42" cy="450.80" r="0.85" fill="#4daa3a" fill-opacity="0.85"/>
<circle cx="92.59" cy="436.83" r="0.85" fill="#4daa3a" fill-opacity="0.85"/>
<circle cx="107.46" cy="458.66" r="0.85" fill="#4daa3a" fill-opacity="0.85"/>
<circle cx="104.64" cy="461.69" r="0.85" fill="#4daa3a" fill-opacity="0.85"/>
<circle cx="101.91" cy="452.82" r="0.85" fill="#4daa3a" fill-opacity="0.85"/>
<circle cx="99.29" cy="435.62" r="0.85" fill="#4daa3a" fill-opacity="0.85"/>
<circle cx="105.05" cy="441.84" r="0.85" fill="#4daa3a" fill-opacity="0.85"/>
<circle cx="91.65" cy="446.15" r="0.85" fill="#4daa3a" fill-opacity="0.85"/>
<circle cx="95.38" cy="450.39" r="0.85" fill="#4daa3a" fill-opacity="0.85"/>
<circle cx="104.09" cy="448.59" r="0.85" fill="#4daa3a" fill-opacity="0.85"/>
<circle cx="108.22" cy="453.83" r="0.85" fill="#4daa3a" fill-opacity="0.85"/>
<circle cx="95.86" cy="443.31" r="0.85" fill="#4daa3a" fill-opacity="0.85"/>
<circle cx="103.71" cy="437.17" r="0.85" fill="#4daa3a" fill-opacity="0.85"/>
<circle cx="94.87" cy="443.04" r="0.85" fill="#4daa3a" fill-opacity="0.85"/>
<circle cx="103.38" cy="435.62" r="0.85" fill="#4daa3a" fill-opacity="0.85"/>
<circle cx="99.32" cy="429.26" r="0.85" fill="#4daa3a" fill-opacity="0.85"/>
<circle cx="103.49" cy="438.31" r="0.85" fill="#4daa3a" fill-opacity="0.85"/>
<circle cx="94.79" cy="447.68" r="0.85" fill="#4daa3a" fill-opacity="0.85"/>
<circle cx="108.10" cy="455.79" r="0.85" fill="#4daa3a" fill-opacity="0.85"/>
<circle cx="107.47" cy="437.79" r="0.85" fill="#4daa3a" fill-opacity="0.85"/>
<circle cx="96.99" cy="450.90" r="0.85" fill="#4daa3a" fill-opacity="0.85"/>
<circle cx="93.63" cy="436.92" r="0.85" fill="#4daa3a" fill-opacity="0.85"/>
<circle cx="106.89" cy="457.75" r="0.85" fill="#4daa3a" fill-opacity="0.85"/>
<circle cx="104.33" cy="443.18" r="0.85" fill="#4daa3a" fill-opacity="0.85"/>
<circle cx="94.25" cy="437.76" r="0.85" fill="#4daa3a" fill-opacity="0.85"/>
<circle cx="99.48" cy="445.35" r="0.85" fill="#4daa3a" fill-opacity="0.85"/>
<circle cx="98.80" cy="444.31" r="0.85" fill="#4daa3a" fill-opacity="0.85"/>
<circle cx="102.74" cy="438.36" r="0.85" fill="#4daa3a" fill-opacity="0.85"/>
<circle cx="106.71" cy="450.00" r="0.85" fill="#4daa3a" fill-opacity="0.85"/>
<circle cx="109.37" cy="443.24" r="0.85" fill="#4daa3a" fill-opacity="0.85"/>
<circle cx="91.69" cy="446.31" r="0.85" fill="#4daa3a" fill-opacity="0.85"/>
<circle cx="107.33" cy="442.62" r="0.85" fill="#4daa3a" fill-opacity="0.85"/>
<circle cx="101.71" cy="432.13" r="0.85" fill="#4daa3a" fill-opacity="0.85"/>
<circle cx="96.85" cy="440.46" r="0.85" fill="#4daa3a" fill-opacity="0.85"/>
<circle cx="93.63" cy="443.11" r="0.85" fill="#4daa3a" fill-opacity="0.85"/>
<circle cx="99.56" cy="444.91" r="0.85" fill="#4daa3a" fill-opacity="0.85"/>
<circle cx="95.52" cy="429.58" r="0.85" fill="#4daa3a" fill-opacity="0.85"/>
<circle cx="93.72" cy="441.31" r="0.85" fill="#4daa3a" fill-opacity="0.85"/>
<circle cx="99.40" cy="433.40" r="0.85" fill="#4daa3a" fill-opacity="0.85"/>
<circle cx="102.82" cy="440.43" r="0.85" fill="#4daa3a" fill-opacity="0.85"/>
<circle cx="108.93" cy="451.13" r="0.85" fill="#4daa3a" fill-opacity="0.85"/>
<circle cx="103.83" cy="454.73" r="0.85" fill="#4daa3a" fill-opacity="0.85"/>
<circle cx="117.82" cy="438.78" r="0.85" fill="#35a2dc" fill-opacity="0.85"/>
<circle cx="114.70" cy="434.27" r="0.85" fill="#35a2dc" fill-opacity="0.85"/>
<circle cx="117.83" cy="450.72" r="0.85" fill="#35a2dc" fill-opacity="0.85"/>
<circle cx="119.57" cy="439.28" r="0.85" fill="#35a2dc" fill-opacity="0.85"/>
<circle cx="124.18" cy="446.45" r="0.85" fill="#35a2dc" fill-opacity="0.85"/>
<circle cx="125.93" cy="433.05" r="0.85" fill="#35a2dc" fill-opacity="0.85"/>
<circle cx="129.23" cy="440.75" r="0.85" fill="#35a2dc" fill-opacity="0.85"/>
<circle cx="131.36" cy="447.23" r="0.85" fill="#35a2dc" fill-opacity="0.85"/>
<circle cx="127.94" cy="428.63" r="0.85" fill="#35a2dc" fill-opacity="0.85"/>
<circle cx="116.92" cy="433.45" r="0.85" fill="#35a2dc" fill-opacity="0.85"/>
<circle cx="131.43" cy="449.37" r="0.85" fill="#35a2dc" fill-opacity="0.85"/>
<circle cx="121.51" cy="438.48" r="0.85" fill="#35a2dc" fill-opacity="0.85"/>
<circle cx="129.32" cy="452.64" r="0.85" fill="#35a2dc" fill-opacity="0.85"/>
<circle cx="132.06" cy="446.37" r="0.85" fill="#35a2dc" fill-opacity="0.85"/>
<circle cx="118.31" cy="449.82" r="0.85" fill="#35a2dc" fill-opacity="0.85"/>
<circle cx="127.93" cy="438.95" r="0.85" fill="#35a2dc" fill-opacity="0.85"/>
<circle cx="127.85" cy="437.28" r="0.85" fill="#35a2dc" fill-opacity="0.85"/>
<circle cx="118.47" cy="449.12" r="0.85" fill="#35a2dc" fill-opacity="0.85"/>
<circle cx="132.68" cy="426.84" r="0.85" fill="#35a2dc" fill-opacity="0.85"/>
<circle cx="124.49" cy="451.29" r="0.85" fill="#35a2dc" fill-opacity="0.85"/>
<circle cx="131.43" cy="439.61" r="0.85" fill="#35a2dc" fill-opacity="0.85"/>
<circle cx="130.42" cy="446.30" r="0.85" fill="#35a2dc" fill-opacity="0.85"/>
<circle cx="122.70" cy="442.50" r="0.85" fill="#35a2dc" fill-opacity="0.85"/>
<circle cx="124.74" cy="438.89" r="0.85" fill="#35a2dc" fill-opacity="0.85"/>
<circle cx="115.03" cy="440.17" r="0.85" fill="#35a2dc" fill-opacity="0.85"/>
<circle cx="129.55" cy="448.16" r="0.85" fill="#35a2dc" fill-opacity="0.85"/>
<circle cx="117.72" cy="430.70" r="0.85" fill="#35a2dc" fill-opacity="0.85"/>
<circle cx="120.73" cy="436.61" r="0.85" fill="#35a2dc" fill-opacity="0.85"/>
<circle cx="117.27" cy="440.19" r="0.85" fill="#35a2dc" fill-opacity="0.85"/>
<circle cx="124.11" cy="444.33" r="0.85" fill="#35a2dc" fill-opacity="0.85"/>
<circle cx="127.32" cy="442.97" r="0.85" fill="#35a2dc" fill-opacity="0.85"/>
<circle cx="132.09" cy="452.77" r="0.85" fill="#35a2dc" fill-opacity="0.85"/>
<circle cx="116.10" cy="456.21" r="0.85" fill="#35a2dc" fill-opacity="0.85"/>
<circle cx="118.62" cy="440.29" r="0.85" fill="#35a2dc" fill-opacity="0.85"/>
<circle cx="128.06" cy="446.09" r="0.85" fill="#35a2dc" fill-opacity="0.85"/>
<circle cx="126.38" cy="441.86" r="0.85" fill="#35a2dc" fill-opacity="0.85"/>
<circle cx="124.92" cy="452.89" r="0.85" fill="#35a2dc" fill-opacity="0.85"/>
<circle cx="120.30" cy="442.71" r="0.85" fill="#35a2dc" fill-opacity="0.85"/>
<circle cx="131.25" cy="449.84" r="0.85" fill="#35a2dc" fill-opacity="0.85"/>
<circle cx="118.37" cy="432.82" r="0.85" fill="#35a2dc" fill-opacity="0.85"/>
<circle cx="124.25" cy="431.29" r="0.85" fill="#35a2dc" fill-opacity="0.85"/>
<circle cx="125.16" cy="454.22" r="0.85" fill="#35a2dc" fill-opacity="0.85"/>
<circle cx="123.86" cy="438.65" r="0.85" fill="#35a2dc" fill-opacity="0.85"/>
<circle cx="125.76" cy="433.63" r="0.85" fill="#35a2dc" fill-opacity="0.85"/>
<circle cx="124.10" cy="438.14" r="0.85" fill="#35a2dc" fill-opacity="0.85"/>
<circle cx="124.97" cy="450.09" r="0.85" fill="#35a2dc" fill-opacity="0.85"/>
<circle cx="123.63" cy="434.44" r="0.85" fill="#35a2dc" fill-opacity="0.85"/>
<circle cx="124.52" cy="441.83" r="0.85" fill="#35a2dc" fill-opacity="0.85"/>
<circle cx="122.20" cy="443.14" r="0.85" fill="#35a2dc" fill-opacity="0.85"/>
<circle cx="119.51" cy="427.37" r="0.85" fill="#35a2dc" fill-opacity="0.85"/>
<circle cx="123.30" cy="444.78" r="0.85" fill="#35a2dc" fill-opacity="0.85"/>
<circle cx="129.67" cy="436.35" r="0.85" fill="#35a2dc" fill-opacity="0.85"/>
<circle cx="131.25" cy="436.24" r="0.85" fill="#35a2dc" fill-opacity="0.85"/>
<circle cx="118.06" cy="446.39" r="0.85" fill="#35a2dc" fill-opacity="0.85"/>
<circle cx="125.99" cy="440.20" r="0.85" fill="#35a2dc" fill-opacity="0.85"/>
<circle cx="128.99" cy="438.07" r="0.85" fill="#35a2dc" fill-opacity="0.85"/>
<circle cx="114.92" cy="442.48" r="0.85" fill="#35a2dc" fill-opacity="0.85"/>
<circle cx="127.28" cy="439.46" r="0.85" fill="#35a2dc" fill-opacity="0.85"/>
<circle cx="120.49" cy="436.79" r="0.85" fill="#35a2dc" fill-opacity="0.85"/>
<circle cx="116.45" cy="446.33" r="0.85" fill="#35a2dc" fill-opacity="0.85"/>
<circle cx="128.09" cy="434.16" r="0.85" fill="#35a2dc" fill-opacity="0.85"/>
<circle cx="119.16" cy="435.65" r="0.85" fill="#35a2dc" fill-opacity="0.85"/>
<circle cx="118.18" cy="435.80" r="0.85" fill="#35a2dc" fill-opacity="0.85"/>
<circle cx="121.49" cy="447.56" r="0.85" fill="#35a2dc" fill-opacity="0.85"/>
<circle cx="122.19" cy="442.26" r="0.85" fill="#35a2dc" fill-opacity="0.85"/>
<circle cx="118.30" cy="444.62" r="0.85" fill="#35a2dc" fill-opacity="0.85"/>
<circle cx="126.24" cy="441.67" r="0.85" fill="#35a2dc" fill-opacity="0.85"/>
<circle cx="130.33" cy="445.94" r="0.85" fill="#35a2dc" fill-opacity="0.85"/>
<circle cx="125.88" cy="446.85" r="0.85" fill="#35a2dc" fill-opacity="0.85"/>
<circle cx="128.28" cy="438.18" r="0.85" fill="#35a2dc" fill-opacity="0.85"/>
<circle cx="129.58" cy="444.55" r="0.85" fill="#35a2dc" fill-opacity="0.85"/>
<circle cx="120.36" cy="436.55" r="0.85" fill="#35a2dc" fill-opacity="0.85"/>
<circle cx="131.66" cy="444.12" r="0.85" fill="#35a2dc" fill-opacity="0.85"/>
<circle cx="131.01" cy="436.56" r="0.85" fill="#35a2dc" fill-opacity="0.85"/>
<circle cx="128.01" cy="437.92" r="0.85" fill="#35a2dc" fill-opacity="0.85"/>
<circle cx="142.93" cy="438.81" r="0.85" fill="#e2227c" fill-opacity="0.85"/>
<circle cx="145.94" cy="430.35" r="0.85" fill="#e2227c" fill-opacity="0.85"/>
<circle cx="152.79" cy="434.32" r="0.85" fill="#e2227c" fill-opacity="0.85"/>
<circle cx="150.84" cy="437.44" r="0.85" fill="#e2227c" fill-opacity="0.85"/>
<circle cx="138.43" cy="437.36" r="0.85" fill="#e2227c" fill-opacity="0.85"/>
<circle cx="155.05" cy="439.59" r="0.85" fill="#e2227c" fill-opacity="0.85"/>
<circle cx="156.11" cy="431.25" r="0.85" fill="#e2227c" fill-opacity="0.85"/>
<circle cx="152.20" cy="435.96" r="0.85" fill="#e2227c" fill-opacity="0.85"/>
<circle cx="147.45" cy="436.81" r="0.85" fill="#e2227c" fill-opacity="0.85"/>
<circle cx="139.41" cy="445.65" r="0.85" fill="#e2227c" fill-opacity="0.85"/>
<circle cx="140.07" cy="448.54" r="0.85" fill="#e2227c" fill-opacity="0.85"/>
<circle cx="147.68" cy="433.04" r="0.85" fill="#e2227c" fill-opacity="0.85"/>
<circle cx="148.68" cy="440.99" r="0.85" fill="#e2227c" fill-opacity="0.85"/>
<circle cx="141.89" cy="440.21" r="0.85" fill="#e2227c" fill-opacity="0.85"/>
<circle cx="153.73" cy="439.18" r="0.85" fill="#e2227c" fill-opacity="0.85"/>
<circle cx="139.87" cy="424.13" r="0.85" fill="#e2227c" fill-opacity="0.85"/>
<circle cx="139.25" cy="444.67" r="0.85" fill="#e2227c" fill-opacity="0.85"/>
<circle cx="152.32" cy="434.48" r="0.85" fill="#e2227c" fill-opacity="0.85"/>
<circle cx="144.18" cy="446.33" r="0.85" fill="#e2227c" fill-opacity="0.85"/>
<circle cx="146.10" cy="453.48" r="0.85" fill="#e2227c" fill-opacity="0.85"/>
<circle cx="149.28" cy="441.39" r="0.85" fill="#e2227c" fill-opacity="0.85"/>
<circle cx="153.80" cy="430.36" r="0.85" fill="#e2227c" fill-opacity="0.85"/>
<circle cx="141.47" cy="442.40" r="0.85" fill="#e2227c" fill-opacity="0.85"/>
<circle cx="145.64" cy="456.82" r="0.85" fill="#e2227c" fill-opacity="0.85"/>
<circle cx="141.73" cy="439.52" r="0.85" fill="#e2227c" fill-opacity="0.85"/>
<circle cx="138.39" cy="438.32" r="0.85" fill="#e2227c" fill-opacity="0.85"/>
<circle cx="154.71" cy="434.74" r="0.85" fill="#e2227c" fill-opacity="0.85"/>
<circle cx="154.11" cy="439.26" r="0.85" fill="#e2227c" fill-opacity="0.85"/>
<circle cx="149.81" cy="456.05" r="0.85" fill="#e2227c" fill-opacity="0.85"/>
<circle cx="147.48" cy="452.97" r="0.85" fill="#e2227c" fill-opacity="0.85"/>
<circle cx="156.38" cy="437.01" r="0.85" fill="#e2227c" fill-opacity="0.85"/>
<circle cx="155.05" cy="441.28" r="0.85" fill="#e2227c" fill-opacity="0.85"/>
<circle cx="151.95" cy="449.66" r="0.85" fill="#e2227c" fill-opacity="0.85"/>
<circle cx="145.64" cy="440.77" r="0.85" fill="#e2227c" fill-opacity="0.85"/>
<circle cx="154.78" cy="458.83" r="0.85" fill="#e2227c" fill-opacity="0.85"/>
<circle cx="152.37" cy="433.97" r="0.85" fill="#e2227c" fill-opacity="0.85"/>
<circle cx="152.33" cy="452.45" r="0.85" fill="#e2227c" fill-opacity="0.85"/>
<circle cx="139.41" cy="454.76" r="0.85" fill="#e2227c" fill-opacity="0.85"/>
<circle cx="144.46" cy="435.91" r="0.85" fill="#e2227c" fill-opacity="0.85"/>
<circle cx="144.71" cy="444.71" r="0.85" fill="#e2227c" fill-opacity="0.85"/>
<circle cx="149.98" cy="443.25" r="0.85" fill="#e2227c" fill-opacity="0.85"/>
<circle cx="155.67" cy="447.88" r="0.85" fill="#e2227c" fill-opacity="0.85"/>
<circle cx="150.49" cy="447.83" r="0.85" fill="#e2227c" fill-opacity="0.85"/>
<circle cx="148.69" cy="450.02" r="0.85" fill="#e2227c" fill-opacity="0.85"/>
<circle cx="148.02" cy="432.88" r="0.85" fill="#e2227c" fill-opacity="0.85"/>
<circle cx="150.05" cy="420.37" r="0.85" fill="#e2227c" fill-opacity="0.85"/>
<circle cx="156.33" cy="447.82" r="0.85" fill="#e2227c" fill-opacity="0.85"/>
<circle cx="138.52" cy="457.19" r="0.85" fill="#e2227c" fill-opacity="0.85"/>
<circle cx="142.87" cy="453.90" r="0.85" fill="#e2227c" fill-opacity="0.85"/>
<circle cx="145.57" cy="452.71" r="0.85" fill="#e2227c" fill-opacity="0.85"/>
<circle cx="145.09" cy="438.18" r="0.85" fill="#e2227c" fill-opacity="0.85"/>
<circle cx="139.93" cy="441.75" r="0.85" fill="#e2227c" fill-opacity="0.85"/>
<circle cx="148.33" cy="443.60" r="0.85" fill="#e2227c" fill-opacity="0.85"/>
<circle cx="147.55" cy="425.06" r="0.85" fill="#e2227c" fill-opacity="0.85"/>
<circle cx="156.61" cy="432.74" r="0.85" fill="#e2227c" fill-opacity="0.85"/>
<circle cx="149.97" cy="445.75" r="0.85" fill="#e2227c" fill-opacity="0.85"/>
<circle cx="149.21" cy="442.26" r="0.85" fill="#e2227c" fill-opacity="0.85"/>
<circle cx="152.22" cy="446.64" r="0.85" fill="#e2227c" fill-opacity="0.85"/>
<circle cx="141.07" cy="424.70" r="0.85" fill="#e2227c" fill-opacity="0.85"/>
<circle cx="146.87" cy="438.02" r="0.85" fill="#e2227c" fill-opacity="0.85"/>
<circle cx="149.47" cy="438.66" r="0.85" fill="#e2227c" fill-opacity="0.85"/>
<circle cx="139.19" cy="434.82" r="0.85" fill="#e2227c" fill-opacity="0.85"/>
<circle cx="147.90" cy="435.15" r="0.85" fill="#e2227c" fill-opacity="0.85"/>
<circle cx="149.22" cy="446.48" r="0.85" fill="#e2227c" fill-opacity="0.85"/>
<circle cx="150.29" cy="448.11" r="0.85" fill="#e2227c" fill-opacity="0.85"/>
<circle cx="148.53" cy="438.29" r="0.85" fill="#e2227c" fill-opacity="0.85"/>
<circle cx="143.61" cy="446.31" r="0.85" fill="#e2227c" fill-opacity="0.85"/>
<circle cx="138.36" cy="430.32" r="0.85" fill="#e2227c" fill-opacity="0.85"/>
<circle cx="141.01" cy="443.41" r="0.85" fill="#e2227c" fill-opacity="0.85"/>
<circle cx="152.14" cy="440.99" r="0.85" fill="#e2227c" fill-opacity="0.85"/>
<circle cx="152.02" cy="457.44" r="0.85" fill="#e2227c" fill-opacity="0.85"/>
<circle cx="139.03" cy="431.95" r="0.85" fill="#e2227c" fill-opacity="0.85"/>
<circle cx="139.47" cy="423.15" r="0.85" fill="#e2227c" fill-opacity="0.85"/>
<circle cx="154.94" cy="444.93" r="0.85" fill="#e2227c" fill-opacity="0.85"/>
<circle cx="156.20" cy="452.23" r="0.85" fill="#e2227c" fill-opacity="0.85"/>
<circle cx="142.63" cy="439.35" r="0.85" fill="#e2227c" fill-opacity="0.85"/>
<circle cx="151.54" cy="463.24" r="0.85" fill="#e2227c" fill-opacity="0.85"/>
<circle cx="146.81" cy="446.41" r="0.85" fill="#e2227c" fill-opacity="0.85"/>
<circle cx="149.33" cy="428.00" r="0.85" fill="#e2227c" fill-opacity="0.85"/>
<circle cx="140.24" cy="445.57" r="0.85" fill="#e2227c" fill-opacity="0.85"/>
<circle cx="141.89" cy="450.14" r="0.85" fill="#e2227c" fill-opacity="0.85"/>
<circle cx="139.07" cy="450.08" r="0.85" fill="#e2227c" fill-opacity="0.85"/>
<circle cx="146.34" cy="447.80" r="0.85" fill="#e2227c" fill-opacity="0.85"/>
<circle cx="150.52" cy="444.26" r="0.85" fill="#e2227c" fill-opacity="0.85"/>
<circle cx="148.93" cy="449.85" r="0.85" fill="#e2227c" fill-opacity="0.85"/>
<line x1="53.40" y1="418.04" x2="53.40" y2="450.48" stroke="#d42a44" stroke-width="1.1"/>
<line x1="50.60" y1="418.04" x2="56.20" y2="418.04" stroke="#d42a44" stroke-width="1.1"/>
<line x1="50.60" y1="450.48" x2="56.20" y2="450.48" stroke="#d42a44" stroke-width="1.1"/>
<line x1="44.10" y1="434.26" x2="62.70" y2="434.26" stroke="#d42a44" stroke-width="1.3"/>
<line x1="77.10" y1="421.54" x2="77.10" y2="453.47" stroke="#f4c01e" stroke-width="1.1"/>
<line x1="74.30" y1="421.54" x2="79.90" y2="421.54" stroke="#f4c01e" stroke-width="1.1"/>
<line x1="74.30" y1="453.47" x2="79.90" y2="453.47" stroke="#f4c01e" stroke-width="1.1"/>
<line x1="67.80" y1="438.00" x2="86.40" y2="438.00" stroke="#f4c01e" stroke-width="1.3"/>
<line x1="100.40" y1="420.29" x2="100.40" y2="467.19" stroke="#4daa3a" stroke-width="1.1"/>
<line x1="97.60" y1="420.29" x2="103.20" y2="420.29" stroke="#4daa3a" stroke-width="1.1"/>
<line x1="97.60" y1="467.19" x2="103.20" y2="467.19" stroke="#4daa3a" stroke-width="1.1"/>
<line x1="91.10" y1="443.49" x2="109.70" y2="443.49" stroke="#4daa3a" stroke-width="1.3"/>
<line x1="123.80" y1="426.78" x2="123.80" y2="460.96" stroke="#35a2dc" stroke-width="1.1"/>
<line x1="121.00" y1="426.78" x2="126.60" y2="426.78" stroke="#35a2dc" stroke-width="1.1"/>
<line x1="121.00" y1="460.96" x2="126.60" y2="460.96" stroke="#35a2dc" stroke-width="1.1"/>
<line x1="114.50" y1="441.00" x2="133.10" y2="441.00" stroke="#35a2dc" stroke-width="1.3"/>
<line x1="147.40" y1="416.05" x2="147.40" y2="465.20" stroke="#e2227c" stroke-width="1.1"/>
<line x1="144.60" y1="416.05" x2="150.20" y2="416.05" stroke="#e2227c" stroke-width="1.1"/>
<line x1="144.60" y1="465.20" x2="150.20" y2="465.20" stroke="#e2227c" stroke-width="1.1"/>
<line x1="138.10" y1="443.49" x2="156.70" y2="443.49" stroke="#e2227c" stroke-width="1.3"/>
<circle cx="142.50" cy="405.32" r="0.80" fill="#e2227c"/>
<circle cx="147.00" cy="405.32" r="0.80" fill="#e2227c"/>
<circle cx="147.50" cy="475.93" r="0.80" fill="#e2227c"/>
<circle cx="154.00" cy="475.93" r="0.80" fill="#e2227c"/>
<circle cx="123.50" cy="466.70" r="0.80" fill="#35a2dc"/>
<circle cx="129.70" cy="466.70" r="0.80" fill="#35a2dc"/>
<circle cx="123.50" cy="465.20" r="0.80" fill="#35a2dc"/>
<circle cx="129.70" cy="465.20" r="0.80" fill="#35a2dc"/>
<text x="100.15" y="503.60" font-size="8.5" style="stroke-width:0.35px" text-anchor="middle" textLength="42.30" lengthAdjust="spacingAndGlyphs">Cases response</text>
<path d="M53.4 378.8 V376.6 H147.4 V378.8" stroke="#231f20" stroke-width="1" fill="none"/>
<text x="100.50" y="376.00" font-size="6" text-anchor="middle">*</text>
<path d="M53.4 391.09999999999997 V388.9 H123.6 V391.09999999999997" stroke="#231f20" stroke-width="1" fill="none"/>
<text x="88.50" y="388.30" font-size="6" text-anchor="middle">*</text>
<path d="M53.4 401.9 V399.7 H100.5 V401.9" stroke="#231f20" stroke-width="1" fill="none"/>
<text x="77.00" y="399.10" font-size="6" text-anchor="middle">*</text>
<path d="M53.4 413 V410.8 H77.0 V413" stroke="#231f20" stroke-width="1" fill="none"/>
<text x="65.20" y="408.10" font-size="7.0" text-anchor="middle" textLength="11.10" lengthAdjust="spacingAndGlyphs">NS.</text>
<text x="167.00" y="415.20" font-size="6.8" textLength="27.50" lengthAdjust="spacingAndGlyphs" fill="#444">response</text>
<rect x="166.60" y="421.20" width="6.20" height="3.20" fill="#e9a2a8"/>
<line x1="166.60" y1="422.80" x2="172.80" y2="422.80" stroke="#d42a44" stroke-width="1.1"/>
<line x1="169.70" y1="420.20" x2="169.70" y2="425.40" stroke="#d42a44" stroke-width="1"/>
<text x="175.70" y="425.40" font-size="7.2">CR</text>
<rect x="166.60" y="430.10" width="6.20" height="3.20" fill="#f8dd8a"/>
<line x1="166.60" y1="431.70" x2="172.80" y2="431.70" stroke="#f4c01e" stroke-width="1.1"/>
<line x1="169.70" y1="429.10" x2="169.70" y2="434.30" stroke="#f4c01e" stroke-width="1"/>
<text x="175.70" y="434.30" font-size="7.2">MR</text>
<rect x="166.60" y="439.00" width="6.20" height="3.20" fill="#a9d89a"/>
<line x1="166.60" y1="440.60" x2="172.80" y2="440.60" stroke="#4daa3a" stroke-width="1.1"/>
<line x1="169.70" y1="438.00" x2="169.70" y2="443.20" stroke="#4daa3a" stroke-width="1"/>
<text x="175.70" y="443.20" font-size="7.2">NC</text>
<rect x="166.60" y="447.90" width="6.20" height="3.20" fill="#9dd0ee"/>
<line x1="166.60" y1="449.50" x2="172.80" y2="449.50" stroke="#35a2dc" stroke-width="1.1"/>
<line x1="169.70" y1="446.90" x2="169.70" y2="452.10" stroke="#35a2dc" stroke-width="1"/>
<text x="175.70" y="452.10" font-size="7.2">PD</text>
<rect x="166.60" y="456.80" width="6.20" height="3.20" fill="#f19ac2"/>
<line x1="166.60" y1="458.40" x2="172.80" y2="458.40" stroke="#e2227c" stroke-width="1.1"/>
<line x1="169.70" y1="455.80" x2="169.70" y2="461.00" stroke="#e2227c" stroke-width="1"/>
<text x="175.70" y="461.00" font-size="7.2">PR</text>
<text x="226.90" y="435.30" font-size="6.3" style="stroke-width:0.3px" text-anchor="middle" textLength="60.70" lengthAdjust="spacingAndGlyphs" transform="rotate(-90 226.90 435.30)">Expression of TRIM21</text>
<text x="238.00" y="411.30" font-size="7.0" text-anchor="end">9</text>
<text x="238.00" y="441.20" font-size="7.0" text-anchor="end">8</text>
<text x="238.00" y="471.10" font-size="7.0" text-anchor="end">7</text>
<line x1="241.30" y1="393.85" x2="243.60" y2="393.85" stroke="#231f20" stroke-width="0.9"/>
<line x1="241.30" y1="408.80" x2="243.60" y2="408.80" stroke="#231f20" stroke-width="0.9"/>
<line x1="241.30" y1="423.75" x2="243.60" y2="423.75" stroke="#231f20" stroke-width="0.9"/>
<line x1="241.30" y1="438.70" x2="243.60" y2="438.70" stroke="#231f20" stroke-width="0.9"/>
<line x1="241.30" y1="453.65" x2="243.60" y2="453.65" stroke="#231f20" stroke-width="0.9"/>
<line x1="241.30" y1="468.60" x2="243.60" y2="468.60" stroke="#231f20" stroke-width="0.9"/>
<line x1="241.30" y1="483.55" x2="243.60" y2="483.55" stroke="#231f20" stroke-width="0.9"/>
<line x1="243.60" y1="385.60" x2="243.60" y2="485.50" stroke="#231f20" stroke-width="1.3"/>
<line x1="243.00" y1="485.00" x2="383.10" y2="485.00" stroke="#231f20" stroke-width="1.3"/>
<line x1="269.40" y1="485.00" x2="269.40" y2="487.30" stroke="#231f20" stroke-width="1"/>
<text x="269.40" y="497.50" font-size="7.6" text-anchor="middle">MGUS</text>
<line x1="312.60" y1="485.00" x2="312.60" y2="487.30" stroke="#231f20" stroke-width="1"/>
<text x="312.60" y="497.50" font-size="7.6" text-anchor="middle">MM</text>
<line x1="356.40" y1="485.00" x2="356.40" y2="487.30" stroke="#231f20" stroke-width="1"/>
<text x="356.40" y="497.50" font-size="7.6" text-anchor="middle">PCL</text>
<rect x="253.90" y="459.63" width="31.60" height="3.89" fill="#a8d89a" opacity="0.8"/>
<rect x="340.00" y="446.00" width="32.90" height="13.40" fill="#e8a8ac" opacity="0.9"/>
<circle cx="309.94" cy="461.98" r="0.80" fill="#f28c0f" fill-opacity="0.85"/>
<circle cx="329.02" cy="461.98" r="0.80" fill="#f28c0f" fill-opacity="0.85"/>
<circle cx="327.54" cy="466.24" r="0.80" fill="#f28c0f" fill-opacity="0.85"/>
<circle cx="299.86" cy="462.84" r="0.80" fill="#f28c0f" fill-opacity="0.85"/>
<circle cx="325.56" cy="464.82" r="0.80" fill="#f28c0f" fill-opacity="0.85"/>
<circle cx="307.95" cy="461.72" r="0.80" fill="#f28c0f" fill-opacity="0.85"/>
<circle cx="305.06" cy="466.71" r="0.80" fill="#f28c0f" fill-opacity="0.85"/>
<circle cx="315.63" cy="464.99" r="0.80" fill="#f28c0f" fill-opacity="0.85"/>
<circle cx="316.99" cy="472.02" r="0.80" fill="#f28c0f" fill-opacity="0.85"/>
<circle cx="304.32" cy="459.49" r="0.80" fill="#f28c0f" fill-opacity="0.85"/>
<circle cx="328.43" cy="464.56" r="0.80" fill="#f28c0f" fill-opacity="0.85"/>
<circle cx="297.40" cy="457.32" r="0.80" fill="#f28c0f" fill-opacity="0.85"/>
<circle cx="298.11" cy="465.72" r="0.80" fill="#f28c0f" fill-opacity="0.85"/>
<circle cx="316.67" cy="463.03" r="0.80" fill="#f28c0f" fill-opacity="0.85"/>
<circle cx="299.48" cy="459.50" r="0.80" fill="#f28c0f" fill-opacity="0.85"/>
<circle cx="298.95" cy="463.74" r="0.80" fill="#f28c0f" fill-opacity="0.85"/>
<circle cx="318.42" cy="462.92" r="0.80" fill="#f28c0f" fill-opacity="0.85"/>
<circle cx="308.42" cy="473.67" r="0.80" fill="#f28c0f" fill-opacity="0.85"/>
<circle cx="311.89" cy="464.25" r="0.80" fill="#f28c0f" fill-opacity="0.85"/>
<circle cx="320.68" cy="457.28" r="0.80" fill="#f28c0f" fill-opacity="0.85"/>
<circle cx="323.77" cy="459.96" r="0.80" fill="#f28c0f" fill-opacity="0.85"/>
<circle cx="322.80" cy="461.27" r="0.80" fill="#f28c0f" fill-opacity="0.85"/>
<circle cx="316.68" cy="461.94" r="0.80" fill="#f28c0f" fill-opacity="0.85"/>
<circle cx="310.10" cy="462.38" r="0.80" fill="#f28c0f" fill-opacity="0.85"/>
<circle cx="304.62" cy="464.68" r="0.80" fill="#f28c0f" fill-opacity="0.85"/>
<circle cx="317.67" cy="461.57" r="0.80" fill="#f28c0f" fill-opacity="0.85"/>
<circle cx="328.74" cy="465.29" r="0.80" fill="#f28c0f" fill-opacity="0.85"/>
<circle cx="320.72" cy="465.65" r="0.80" fill="#f28c0f" fill-opacity="0.85"/>
<circle cx="326.49" cy="447.88" r="0.80" fill="#f28c0f" fill-opacity="0.85"/>
<circle cx="299.30" cy="468.66" r="0.80" fill="#f28c0f" fill-opacity="0.85"/>
<circle cx="324.98" cy="461.36" r="0.80" fill="#f28c0f" fill-opacity="0.85"/>
<circle cx="314.72" cy="461.52" r="0.80" fill="#f28c0f" fill-opacity="0.85"/>
<circle cx="312.10" cy="462.03" r="0.80" fill="#f28c0f" fill-opacity="0.85"/>
<circle cx="321.69" cy="463.62" r="0.80" fill="#f28c0f" fill-opacity="0.85"/>
<circle cx="298.61" cy="464.93" r="0.80" fill="#f28c0f" fill-opacity="0.85"/>
<circle cx="298.80" cy="461.61" r="0.80" fill="#f28c0f" fill-opacity="0.85"/>
<circle cx="306.13" cy="458.33" r="0.80" fill="#f28c0f" fill-opacity="0.85"/>
<circle cx="305.44" cy="462.15" r="0.80" fill="#f28c0f" fill-opacity="0.85"/>
<circle cx="300.82" cy="475.54" r="0.80" fill="#f28c0f" fill-opacity="0.85"/>
<circle cx="308.19" cy="470.18" r="0.80" fill="#f28c0f" fill-opacity="0.85"/>
<circle cx="299.97" cy="458.87" r="0.80" fill="#f28c0f" fill-opacity="0.85"/>
<circle cx="326.41" cy="463.60" r="0.80" fill="#f28c0f" fill-opacity="0.85"/>
<circle cx="327.12" cy="466.37" r="0.80" fill="#f28c0f" fill-opacity="0.85"/>
<circle cx="322.60" cy="459.87" r="0.80" fill="#f28c0f" fill-opacity="0.85"/>
<circle cx="306.16" cy="464.28" r="0.80" fill="#f28c0f" fill-opacity="0.85"/>
<circle cx="326.94" cy="463.86" r="0.80" fill="#f28c0f" fill-opacity="0.85"/>
<circle cx="325.63" cy="459.87" r="0.80" fill="#f28c0f" fill-opacity="0.85"/>
<circle cx="308.16" cy="459.52" r="0.80" fill="#f28c0f" fill-opacity="0.85"/>
<circle cx="308.09" cy="449.71" r="0.80" fill="#f28c0f" fill-opacity="0.85"/>
<circle cx="302.53" cy="467.84" r="0.80" fill="#f28c0f" fill-opacity="0.85"/>
<circle cx="314.71" cy="460.81" r="0.80" fill="#f28c0f" fill-opacity="0.85"/>
<circle cx="323.70" cy="461.53" r="0.80" fill="#f28c0f" fill-opacity="0.85"/>
<circle cx="314.67" cy="466.19" r="0.80" fill="#f28c0f" fill-opacity="0.85"/>
<circle cx="325.17" cy="460.38" r="0.80" fill="#f28c0f" fill-opacity="0.85"/>
<circle cx="305.39" cy="458.10" r="0.80" fill="#f28c0f" fill-opacity="0.85"/>
<circle cx="314.06" cy="459.05" r="0.80" fill="#f28c0f" fill-opacity="0.85"/>
<circle cx="314.83" cy="462.12" r="0.80" fill="#f28c0f" fill-opacity="0.85"/>
<circle cx="322.64" cy="444.78" r="0.80" fill="#f28c0f" fill-opacity="0.85"/>
<circle cx="298.21" cy="462.81" r="0.80" fill="#f28c0f" fill-opacity="0.85"/>
<circle cx="298.87" cy="477.27" r="0.80" fill="#f28c0f" fill-opacity="0.85"/>
<circle cx="298.80" cy="464.15" r="0.80" fill="#f28c0f" fill-opacity="0.85"/>
<circle cx="298.90" cy="463.14" r="0.80" fill="#f28c0f" fill-opacity="0.85"/>
<circle cx="317.03" cy="469.00" r="0.80" fill="#f28c0f" fill-opacity="0.85"/>
<circle cx="317.52" cy="459.56" r="0.80" fill="#f28c0f" fill-opacity="0.85"/>
<circle cx="304.20" cy="458.73" r="0.80" fill="#f28c0f" fill-opacity="0.85"/>
<circle cx="313.31" cy="461.68" r="0.80" fill="#f28c0f" fill-opacity="0.85"/>
<circle cx="321.34" cy="457.62" r="0.80" fill="#f28c0f" fill-opacity="0.85"/>
<circle cx="328.05" cy="467.12" r="0.80" fill="#f28c0f" fill-opacity="0.85"/>
<circle cx="318.29" cy="453.78" r="0.80" fill="#f28c0f" fill-opacity="0.85"/>
<circle cx="319.89" cy="472.61" r="0.80" fill="#f28c0f" fill-opacity="0.85"/>
<circle cx="319.47" cy="462.47" r="0.80" fill="#f28c0f" fill-opacity="0.85"/>
<circle cx="323.37" cy="459.97" r="0.80" fill="#f28c0f" fill-opacity="0.85"/>
<circle cx="318.10" cy="464.19" r="0.80" fill="#f28c0f" fill-opacity="0.85"/>
<circle cx="323.62" cy="459.34" r="0.80" fill="#f28c0f" fill-opacity="0.85"/>
<circle cx="325.43" cy="466.93" r="0.80" fill="#f28c0f" fill-opacity="0.85"/>
<circle cx="313.39" cy="458.49" r="0.80" fill="#f28c0f" fill-opacity="0.85"/>
<circle cx="319.53" cy="463.74" r="0.80" fill="#f28c0f" fill-opacity="0.85"/>
<circle cx="309.98" cy="456.10" r="0.80" fill="#f28c0f" fill-opacity="0.85"/>
<circle cx="300.92" cy="470.00" r="0.80" fill="#f28c0f" fill-opacity="0.85"/>
<circle cx="308.49" cy="461.40" r="0.80" fill="#f28c0f" fill-opacity="0.85"/>
<circle cx="301.63" cy="471.78" r="0.80" fill="#f28c0f" fill-opacity="0.85"/>
<circle cx="305.74" cy="461.73" r="0.80" fill="#f28c0f" fill-opacity="0.85"/>
<circle cx="328.10" cy="459.60" r="0.80" fill="#f28c0f" fill-opacity="0.85"/>
<circle cx="299.89" cy="460.23" r="0.80" fill="#f28c0f" fill-opacity="0.85"/>
<circle cx="317.48" cy="461.69" r="0.80" fill="#f28c0f" fill-opacity="0.85"/>
<circle cx="298.16" cy="462.31" r="0.80" fill="#f28c0f" fill-opacity="0.85"/>
<circle cx="311.24" cy="464.48" r="0.80" fill="#f28c0f" fill-opacity="0.85"/>
<circle cx="297.30" cy="479.43" r="0.80" fill="#f28c0f" fill-opacity="0.85"/>
<circle cx="299.69" cy="471.19" r="0.80" fill="#f28c0f" fill-opacity="0.85"/>
<circle cx="303.87" cy="456.70" r="0.80" fill="#f28c0f" fill-opacity="0.85"/>
<circle cx="319.77" cy="460.70" r="0.80" fill="#f28c0f" fill-opacity="0.85"/>
<circle cx="302.20" cy="464.38" r="0.80" fill="#f28c0f" fill-opacity="0.85"/>
<circle cx="305.38" cy="463.81" r="0.80" fill="#f28c0f" fill-opacity="0.85"/>
<circle cx="306.39" cy="460.27" r="0.80" fill="#f28c0f" fill-opacity="0.85"/>
<circle cx="314.19" cy="458.17" r="0.80" fill="#f28c0f" fill-opacity="0.85"/>
<circle cx="304.70" cy="461.22" r="0.80" fill="#f28c0f" fill-opacity="0.85"/>
<circle cx="325.38" cy="465.74" r="0.80" fill="#f28c0f" fill-opacity="0.85"/>
<circle cx="314.16" cy="451.41" r="0.80" fill="#f28c0f" fill-opacity="0.85"/>
<circle cx="327.68" cy="464.54" r="0.80" fill="#f28c0f" fill-opacity="0.85"/>
<circle cx="297.74" cy="466.98" r="0.80" fill="#f28c0f" fill-opacity="0.85"/>
<circle cx="327.37" cy="462.39" r="0.80" fill="#f28c0f" fill-opacity="0.85"/>
<circle cx="313.51" cy="461.68" r="0.80" fill="#f28c0f" fill-opacity="0.85"/>
<circle cx="313.12" cy="465.42" r="0.80" fill="#f28c0f" fill-opacity="0.85"/>
<circle cx="317.80" cy="464.02" r="0.80" fill="#f28c0f" fill-opacity="0.85"/>
<circle cx="303.94" cy="453.63" r="0.80" fill="#f28c0f" fill-opacity="0.85"/>
<circle cx="308.36" cy="459.25" r="0.80" fill="#f28c0f" fill-opacity="0.85"/>
<circle cx="322.39" cy="462.39" r="0.80" fill="#f28c0f" fill-opacity="0.85"/>
<circle cx="301.29" cy="462.90" r="0.80" fill="#f28c0f" fill-opacity="0.85"/>
<circle cx="301.28" cy="473.54" r="0.80" fill="#f28c0f" fill-opacity="0.85"/>
<circle cx="324.79" cy="463.17" r="0.80" fill="#f28c0f" fill-opacity="0.85"/>
<circle cx="313.13" cy="460.53" r="0.80" fill="#f28c0f" fill-opacity="0.85"/>
<circle cx="304.89" cy="468.77" r="0.80" fill="#f28c0f" fill-opacity="0.85"/>
<circle cx="313.74" cy="469.77" r="0.80" fill="#f28c0f" fill-opacity="0.85"/>
<circle cx="296.15" cy="459.62" r="0.80" fill="#f28c0f" fill-opacity="0.85"/>
<circle cx="323.21" cy="458.46" r="0.80" fill="#f28c0f" fill-opacity="0.85"/>
<circle cx="298.82" cy="459.46" r="0.80" fill="#f28c0f" fill-opacity="0.85"/>
<circle cx="305.01" cy="467.19" r="0.80" fill="#f28c0f" fill-opacity="0.85"/>
<circle cx="311.94" cy="460.62" r="0.80" fill="#f28c0f" fill-opacity="0.85"/>
<circle cx="311.57" cy="464.26" r="0.80" fill="#f28c0f" fill-opacity="0.85"/>
<circle cx="324.39" cy="446.26" r="0.80" fill="#f28c0f" fill-opacity="0.85"/>
<circle cx="306.12" cy="463.72" r="0.80" fill="#f28c0f" fill-opacity="0.85"/>
<circle cx="326.35" cy="461.86" r="0.80" fill="#f28c0f" fill-opacity="0.85"/>
<circle cx="299.10" cy="465.63" r="0.80" fill="#f28c0f" fill-opacity="0.85"/>
<circle cx="314.03" cy="461.68" r="0.80" fill="#f28c0f" fill-opacity="0.85"/>
<circle cx="313.45" cy="464.43" r="0.80" fill="#f28c0f" fill-opacity="0.85"/>
<circle cx="306.38" cy="459.52" r="0.80" fill="#f28c0f" fill-opacity="0.85"/>
<circle cx="306.35" cy="457.90" r="0.80" fill="#f28c0f" fill-opacity="0.85"/>
<circle cx="311.52" cy="451.69" r="0.80" fill="#f28c0f" fill-opacity="0.85"/>
<circle cx="319.70" cy="455.52" r="0.80" fill="#f28c0f" fill-opacity="0.85"/>
<circle cx="299.59" cy="469.78" r="0.80" fill="#f28c0f" fill-opacity="0.85"/>
<circle cx="309.11" cy="459.10" r="0.80" fill="#f28c0f" fill-opacity="0.85"/>
<circle cx="323.48" cy="470.20" r="0.80" fill="#f28c0f" fill-opacity="0.85"/>
<circle cx="317.68" cy="460.76" r="0.80" fill="#f28c0f" fill-opacity="0.85"/>
<circle cx="319.53" cy="459.72" r="0.80" fill="#f28c0f" fill-opacity="0.85"/>
<circle cx="303.94" cy="462.39" r="0.80" fill="#f28c0f" fill-opacity="0.85"/>
<circle cx="296.45" cy="465.66" r="0.80" fill="#f28c0f" fill-opacity="0.85"/>
<circle cx="328.82" cy="463.92" r="0.80" fill="#f28c0f" fill-opacity="0.85"/>
<circle cx="316.43" cy="457.45" r="0.80" fill="#f28c0f" fill-opacity="0.85"/>
<circle cx="305.68" cy="466.41" r="0.80" fill="#f28c0f" fill-opacity="0.85"/>
<circle cx="305.94" cy="468.91" r="0.80" fill="#f28c0f" fill-opacity="0.85"/>
<circle cx="307.23" cy="460.00" r="0.80" fill="#f28c0f" fill-opacity="0.85"/>
<circle cx="304.56" cy="466.07" r="0.80" fill="#f28c0f" fill-opacity="0.85"/>
<circle cx="302.70" cy="459.84" r="0.80" fill="#f28c0f" fill-opacity="0.85"/>
<circle cx="327.29" cy="462.93" r="0.80" fill="#f28c0f" fill-opacity="0.85"/>
<circle cx="314.67" cy="465.27" r="0.80" fill="#f28c0f" fill-opacity="0.85"/>
<circle cx="323.39" cy="463.06" r="0.80" fill="#f28c0f" fill-opacity="0.85"/>
<circle cx="299.15" cy="465.27" r="0.80" fill="#f28c0f" fill-opacity="0.85"/>
<circle cx="318.46" cy="456.68" r="0.80" fill="#f28c0f" fill-opacity="0.85"/>
<circle cx="319.47" cy="456.02" r="0.80" fill="#f28c0f" fill-opacity="0.85"/>
<circle cx="323.72" cy="455.10" r="0.80" fill="#f28c0f" fill-opacity="0.85"/>
<circle cx="315.66" cy="459.88" r="0.80" fill="#f28c0f" fill-opacity="0.85"/>
<circle cx="301.28" cy="460.81" r="0.80" fill="#f28c0f" fill-opacity="0.85"/>
<circle cx="300.20" cy="461.47" r="0.80" fill="#f28c0f" fill-opacity="0.85"/>
<circle cx="326.48" cy="463.59" r="0.80" fill="#f28c0f" fill-opacity="0.85"/>
<circle cx="310.19" cy="461.98" r="0.80" fill="#f28c0f" fill-opacity="0.85"/>
<circle cx="321.41" cy="466.92" r="0.80" fill="#f28c0f" fill-opacity="0.85"/>
<circle cx="323.20" cy="462.93" r="0.80" fill="#f28c0f" fill-opacity="0.85"/>
<circle cx="309.70" cy="466.71" r="0.80" fill="#f28c0f" fill-opacity="0.85"/>
<circle cx="296.61" cy="453.46" r="0.80" fill="#f28c0f" fill-opacity="0.85"/>
<circle cx="328.50" cy="472.81" r="0.80" fill="#f28c0f" fill-opacity="0.85"/>
<circle cx="322.16" cy="459.91" r="0.80" fill="#f28c0f" fill-opacity="0.85"/>
<circle cx="296.71" cy="464.81" r="0.80" fill="#f28c0f" fill-opacity="0.85"/>
<circle cx="307.02" cy="466.08" r="0.80" fill="#f28c0f" fill-opacity="0.85"/>
<circle cx="299.61" cy="465.00" r="0.80" fill="#f28c0f" fill-opacity="0.85"/>
<circle cx="308.56" cy="458.99" r="0.80" fill="#f28c0f" fill-opacity="0.85"/>
<circle cx="323.33" cy="467.88" r="0.80" fill="#f28c0f" fill-opacity="0.85"/>
<circle cx="316.28" cy="462.93" r="0.80" fill="#f28c0f" fill-opacity="0.85"/>
<circle cx="325.90" cy="449.91" r="0.80" fill="#f28c0f" fill-opacity="0.85"/>
<circle cx="314.19" cy="444.66" r="0.80" fill="#f28c0f" fill-opacity="0.85"/>
<circle cx="300.78" cy="467.04" r="0.80" fill="#f28c0f" fill-opacity="0.85"/>
<circle cx="319.64" cy="459.80" r="0.80" fill="#f28c0f" fill-opacity="0.85"/>
<circle cx="319.71" cy="459.03" r="0.80" fill="#f28c0f" fill-opacity="0.85"/>
<circle cx="323.67" cy="462.92" r="0.80" fill="#f28c0f" fill-opacity="0.85"/>
<circle cx="316.79" cy="460.28" r="0.80" fill="#f28c0f" fill-opacity="0.85"/>
<circle cx="302.63" cy="455.81" r="0.80" fill="#f28c0f" fill-opacity="0.85"/>
<circle cx="315.12" cy="460.68" r="0.80" fill="#f28c0f" fill-opacity="0.85"/>
<circle cx="319.10" cy="461.50" r="0.80" fill="#f28c0f" fill-opacity="0.85"/>
<circle cx="308.02" cy="471.12" r="0.80" fill="#f28c0f" fill-opacity="0.85"/>
<circle cx="328.23" cy="464.87" r="0.80" fill="#f28c0f" fill-opacity="0.85"/>
<circle cx="300.57" cy="458.39" r="0.80" fill="#f28c0f" fill-opacity="0.85"/>
<circle cx="314.60" cy="459.54" r="0.80" fill="#f28c0f" fill-opacity="0.85"/>
<circle cx="314.59" cy="464.74" r="0.80" fill="#f28c0f" fill-opacity="0.85"/>
<circle cx="328.84" cy="463.21" r="0.80" fill="#f28c0f" fill-opacity="0.85"/>
<circle cx="323.08" cy="456.10" r="0.80" fill="#f28c0f" fill-opacity="0.85"/>
<circle cx="323.31" cy="463.85" r="0.80" fill="#f28c0f" fill-opacity="0.85"/>
<circle cx="305.62" cy="463.53" r="0.80" fill="#f28c0f" fill-opacity="0.85"/>
<circle cx="315.03" cy="460.85" r="0.80" fill="#f28c0f" fill-opacity="0.85"/>
<circle cx="323.51" cy="464.31" r="0.80" fill="#f28c0f" fill-opacity="0.85"/>
<circle cx="298.62" cy="454.44" r="0.80" fill="#f28c0f" fill-opacity="0.85"/>
<circle cx="297.16" cy="447.51" r="0.80" fill="#f28c0f" fill-opacity="0.85"/>
<circle cx="327.10" cy="458.87" r="0.80" fill="#f28c0f" fill-opacity="0.85"/>
<circle cx="317.83" cy="454.64" r="0.80" fill="#f28c0f" fill-opacity="0.85"/>
<circle cx="320.44" cy="464.20" r="0.80" fill="#f28c0f" fill-opacity="0.85"/>
<circle cx="308.69" cy="458.45" r="0.80" fill="#f28c0f" fill-opacity="0.85"/>
<circle cx="296.64" cy="467.14" r="0.80" fill="#f28c0f" fill-opacity="0.85"/>
<circle cx="302.68" cy="465.57" r="0.80" fill="#f28c0f" fill-opacity="0.85"/>
<circle cx="308.85" cy="464.25" r="0.80" fill="#f28c0f" fill-opacity="0.85"/>
<circle cx="314.89" cy="458.47" r="0.80" fill="#f28c0f" fill-opacity="0.85"/>
<circle cx="304.80" cy="453.78" r="0.80" fill="#f28c0f" fill-opacity="0.85"/>
<circle cx="314.85" cy="448.38" r="0.80" fill="#f28c0f" fill-opacity="0.85"/>
<circle cx="297.35" cy="464.73" r="0.80" fill="#f28c0f" fill-opacity="0.85"/>
<circle cx="318.24" cy="458.89" r="0.80" fill="#f28c0f" fill-opacity="0.85"/>
<circle cx="315.90" cy="457.97" r="0.80" fill="#f28c0f" fill-opacity="0.85"/>
<circle cx="311.61" cy="456.65" r="0.80" fill="#f28c0f" fill-opacity="0.85"/>
<circle cx="318.85" cy="466.17" r="0.80" fill="#f28c0f" fill-opacity="0.85"/>
<circle cx="321.12" cy="460.41" r="0.80" fill="#f28c0f" fill-opacity="0.85"/>
<circle cx="328.92" cy="462.58" r="0.80" fill="#f28c0f" fill-opacity="0.85"/>
<circle cx="323.76" cy="471.70" r="0.80" fill="#f28c0f" fill-opacity="0.85"/>
<circle cx="310.42" cy="453.05" r="0.80" fill="#f28c0f" fill-opacity="0.85"/>
<circle cx="314.78" cy="468.11" r="0.80" fill="#f28c0f" fill-opacity="0.85"/>
<circle cx="313.43" cy="459.60" r="0.80" fill="#f28c0f" fill-opacity="0.85"/>
<circle cx="310.36" cy="464.67" r="0.80" fill="#f28c0f" fill-opacity="0.85"/>
<circle cx="297.90" cy="460.45" r="0.80" fill="#f28c0f" fill-opacity="0.85"/>
<circle cx="320.04" cy="464.11" r="0.80" fill="#f28c0f" fill-opacity="0.85"/>
<circle cx="315.82" cy="458.69" r="0.80" fill="#f28c0f" fill-opacity="0.85"/>
<circle cx="320.91" cy="465.47" r="0.80" fill="#f28c0f" fill-opacity="0.85"/>
<circle cx="298.40" cy="463.97" r="0.80" fill="#f28c0f" fill-opacity="0.85"/>
<circle cx="300.21" cy="446.41" r="0.80" fill="#f28c0f" fill-opacity="0.85"/>
<circle cx="309.19" cy="471.32" r="0.80" fill="#f28c0f" fill-opacity="0.85"/>
<circle cx="297.81" cy="455.58" r="0.80" fill="#f28c0f" fill-opacity="0.85"/>
<circle cx="303.99" cy="463.86" r="0.80" fill="#f28c0f" fill-opacity="0.85"/>
<circle cx="306.21" cy="466.06" r="0.80" fill="#f28c0f" fill-opacity="0.85"/>
<circle cx="298.36" cy="464.36" r="0.80" fill="#f28c0f" fill-opacity="0.85"/>
<circle cx="326.17" cy="461.28" r="0.80" fill="#f28c0f" fill-opacity="0.85"/>
<circle cx="324.69" cy="458.29" r="0.80" fill="#f28c0f" fill-opacity="0.85"/>
<circle cx="310.01" cy="463.55" r="0.80" fill="#f28c0f" fill-opacity="0.85"/>
<circle cx="320.74" cy="461.90" r="0.80" fill="#f28c0f" fill-opacity="0.85"/>
<circle cx="314.80" cy="466.60" r="0.80" fill="#f28c0f" fill-opacity="0.85"/>
<circle cx="322.25" cy="455.71" r="0.80" fill="#f28c0f" fill-opacity="0.85"/>
<circle cx="300.19" cy="462.35" r="0.80" fill="#f28c0f" fill-opacity="0.85"/>
<circle cx="296.12" cy="469.76" r="0.80" fill="#f28c0f" fill-opacity="0.85"/>
<circle cx="304.15" cy="464.34" r="0.80" fill="#f28c0f" fill-opacity="0.85"/>
<circle cx="298.17" cy="463.43" r="0.80" fill="#f28c0f" fill-opacity="0.85"/>
<circle cx="325.64" cy="460.10" r="0.80" fill="#f28c0f" fill-opacity="0.85"/>
<circle cx="307.86" cy="461.42" r="0.80" fill="#f28c0f" fill-opacity="0.85"/>
<circle cx="315.42" cy="465.38" r="0.80" fill="#f28c0f" fill-opacity="0.85"/>
<circle cx="325.75" cy="461.90" r="0.80" fill="#f28c0f" fill-opacity="0.85"/>
<circle cx="306.26" cy="458.88" r="0.80" fill="#f28c0f" fill-opacity="0.85"/>
<circle cx="328.35" cy="459.39" r="0.80" fill="#f28c0f" fill-opacity="0.85"/>
<circle cx="305.85" cy="466.64" r="0.80" fill="#f28c0f" fill-opacity="0.85"/>
<circle cx="326.55" cy="462.27" r="0.80" fill="#f28c0f" fill-opacity="0.85"/>
<circle cx="323.75" cy="461.05" r="0.80" fill="#f28c0f" fill-opacity="0.85"/>
<circle cx="307.79" cy="463.81" r="0.80" fill="#f28c0f" fill-opacity="0.85"/>
<circle cx="325.13" cy="464.43" r="0.80" fill="#f28c0f" fill-opacity="0.85"/>
<circle cx="328.95" cy="462.30" r="0.80" fill="#f28c0f" fill-opacity="0.85"/>
<circle cx="302.42" cy="461.36" r="0.80" fill="#f28c0f" fill-opacity="0.85"/>
<circle cx="325.15" cy="458.58" r="0.80" fill="#f28c0f" fill-opacity="0.85"/>
<circle cx="320.05" cy="454.92" r="0.80" fill="#f28c0f" fill-opacity="0.85"/>
<circle cx="306.43" cy="458.10" r="0.80" fill="#f28c0f" fill-opacity="0.85"/>
<circle cx="319.63" cy="442.52" r="0.80" fill="#f28c0f" fill-opacity="0.85"/>
<circle cx="300.55" cy="466.16" r="0.80" fill="#f28c0f" fill-opacity="0.85"/>
<circle cx="310.79" cy="464.97" r="0.80" fill="#f28c0f" fill-opacity="0.85"/>
<circle cx="298.71" cy="469.26" r="0.80" fill="#f28c0f" fill-opacity="0.85"/>
<circle cx="319.55" cy="462.19" r="0.80" fill="#f28c0f" fill-opacity="0.85"/>
<circle cx="302.58" cy="460.09" r="0.80" fill="#f28c0f" fill-opacity="0.85"/>
<circle cx="318.03" cy="461.70" r="0.80" fill="#f28c0f" fill-opacity="0.85"/>
<circle cx="322.19" cy="460.63" r="0.80" fill="#f28c0f" fill-opacity="0.85"/>
<circle cx="325.29" cy="470.36" r="0.80" fill="#f28c0f" fill-opacity="0.85"/>
<circle cx="315.57" cy="448.56" r="0.80" fill="#f28c0f" fill-opacity="0.85"/>
<circle cx="326.68" cy="458.46" r="0.80" fill="#f28c0f" fill-opacity="0.85"/>
<circle cx="318.11" cy="460.11" r="0.80" fill="#f28c0f" fill-opacity="0.85"/>
<circle cx="299.07" cy="463.34" r="0.80" fill="#f28c0f" fill-opacity="0.85"/>
<circle cx="328.54" cy="458.41" r="0.80" fill="#f28c0f" fill-opacity="0.85"/>
<circle cx="313.62" cy="466.03" r="0.80" fill="#f28c0f" fill-opacity="0.85"/>
<circle cx="297.60" cy="461.28" r="0.80" fill="#f28c0f" fill-opacity="0.85"/>
<circle cx="304.38" cy="464.60" r="0.80" fill="#f28c0f" fill-opacity="0.85"/>
<circle cx="322.61" cy="464.05" r="0.80" fill="#f28c0f" fill-opacity="0.85"/>
<circle cx="321.04" cy="452.31" r="0.80" fill="#f28c0f" fill-opacity="0.85"/>
<circle cx="304.21" cy="455.17" r="0.80" fill="#f28c0f" fill-opacity="0.85"/>
<circle cx="302.25" cy="462.03" r="0.80" fill="#f28c0f" fill-opacity="0.85"/>
<circle cx="325.70" cy="458.91" r="0.80" fill="#f28c0f" fill-opacity="0.85"/>
<circle cx="311.33" cy="461.84" r="0.80" fill="#f28c0f" fill-opacity="0.85"/>
<circle cx="320.87" cy="462.68" r="0.80" fill="#f28c0f" fill-opacity="0.85"/>
<circle cx="312.60" cy="467.77" r="0.80" fill="#f28c0f" fill-opacity="0.85"/>
<circle cx="302.04" cy="458.06" r="0.80" fill="#f28c0f" fill-opacity="0.85"/>
<circle cx="307.97" cy="466.66" r="0.80" fill="#f28c0f" fill-opacity="0.85"/>
<circle cx="317.82" cy="464.10" r="0.80" fill="#f28c0f" fill-opacity="0.85"/>
<circle cx="312.79" cy="457.03" r="0.80" fill="#f28c0f" fill-opacity="0.85"/>
<circle cx="324.00" cy="471.98" r="0.80" fill="#f28c0f" fill-opacity="0.85"/>
<circle cx="327.50" cy="464.72" r="0.80" fill="#f28c0f" fill-opacity="0.85"/>
<circle cx="300.00" cy="440.19" r="0.80" fill="#f28c0f" fill-opacity="0.85"/>
<circle cx="305.00" cy="435.71" r="0.80" fill="#f28c0f" fill-opacity="0.85"/>
<circle cx="318.00" cy="437.20" r="0.80" fill="#f28c0f" fill-opacity="0.85"/>
<circle cx="296.00" cy="429.73" r="0.80" fill="#f28c0f" fill-opacity="0.85"/>
<circle cx="312.60" cy="420.76" r="0.80" fill="#f28c0f" fill-opacity="0.85"/>
<circle cx="312.60" cy="425.25" r="0.80" fill="#f28c0f" fill-opacity="0.85"/>
<circle cx="306.00" cy="411.79" r="0.80" fill="#f28c0f" fill-opacity="0.85"/>
<circle cx="312.60" cy="410.30" r="0.80" fill="#f28c0f" fill-opacity="0.85"/>
<circle cx="325.00" cy="440.19" r="0.80" fill="#f28c0f" fill-opacity="0.85"/>
<circle cx="328.00" cy="432.72" r="0.80" fill="#f28c0f" fill-opacity="0.85"/>
<circle cx="312.60" cy="416.28" r="0.80" fill="#f28c0f" fill-opacity="0.85"/>
<circle cx="312.60" cy="429.73" r="0.80" fill="#f28c0f" fill-opacity="0.85"/>
<circle cx="312.70" cy="389.60" r="0.60" fill="#f28c0f"/>
<circle cx="262.80" cy="443.10" r="0.75" fill="#4aa83e"/>
<circle cx="269.60" cy="443.10" r="0.75" fill="#4aa83e"/>
<circle cx="256.20" cy="455.40" r="0.75" fill="#4aa83e"/>
<circle cx="261.60" cy="458.50" r="0.75" fill="#4aa83e"/>
<circle cx="271.60" cy="467.00" r="0.75" fill="#4aa83e"/>
<circle cx="280.10" cy="471.60" r="0.75" fill="#4aa83e"/>
<circle cx="277.70" cy="464.70" r="0.75" fill="#4aa83e"/>
<circle cx="258.00" cy="461.00" r="0.75" fill="#4aa83e"/>
<circle cx="266.00" cy="464.00" r="0.75" fill="#4aa83e"/>
<circle cx="274.00" cy="460.00" r="0.75" fill="#4aa83e"/>
<circle cx="283.00" cy="462.00" r="0.75" fill="#4aa83e"/>
<circle cx="256.00" cy="458.00" r="0.75" fill="#4aa83e"/>
<circle cx="340.50" cy="443.00" r="0.75" fill="#c4203c"/>
<circle cx="362.00" cy="444.00" r="0.75" fill="#c4203c"/>
<circle cx="345.00" cy="457.00" r="0.75" fill="#c4203c"/>
<circle cx="340.00" cy="459.50" r="0.75" fill="#c4203c"/>
<circle cx="351.00" cy="462.00" r="0.75" fill="#c4203c"/>
<circle cx="366.00" cy="464.50" r="0.75" fill="#c4203c"/>
<circle cx="352.00" cy="446.00" r="0.75" fill="#c4203c"/>
<line x1="269.40" y1="455.70" x2="269.40" y2="472.40" stroke="#4aa83e" stroke-width="1.1"/>
<line x1="263.90" y1="455.70" x2="275.00" y2="455.70" stroke="#4aa83e" stroke-width="1.1"/>
<line x1="263.90" y1="472.40" x2="275.00" y2="472.40" stroke="#4aa83e" stroke-width="1.1"/>
<line x1="253.90" y1="462.80" x2="285.50" y2="462.80" stroke="#4aa83e" stroke-width="1.3"/>
<line x1="312.60" y1="442.10" x2="312.60" y2="480.90" stroke="#f28c0f" stroke-width="1.1"/>
<line x1="307.50" y1="442.10" x2="318.50" y2="442.10" stroke="#f28c0f" stroke-width="1.1"/>
<line x1="307.50" y1="480.90" x2="318.50" y2="480.90" stroke="#f28c0f" stroke-width="1.1"/>
<line x1="296.00" y1="462.40" x2="329.50" y2="462.40" stroke="#f28c0f" stroke-width="1.3"/>
<line x1="356.40" y1="443.00" x2="356.40" y2="464.60" stroke="#c4203c" stroke-width="1.1"/>
<line x1="350.70" y1="443.00" x2="362.00" y2="443.00" stroke="#c4203c" stroke-width="1.1"/>
<line x1="350.70" y1="464.60" x2="362.00" y2="464.60" stroke="#c4203c" stroke-width="1.1"/>
<line x1="340.00" y1="446.20" x2="372.90" y2="446.20" stroke="#c4203c" stroke-width="1.3"/>
<text x="313.05" y="510.40" font-size="8.8" style="stroke-width:0.35px" text-anchor="middle" textLength="32.30" lengthAdjust="spacingAndGlyphs">Cases state</text>
<path d="M312.3 396.5 V394.3 H356.6 V396.5" stroke="#231f20" stroke-width="1" fill="none"/>
<text x="334.90" y="393.30" font-size="6.5" text-anchor="middle">**</text>
<path d="M269.2 411 V408.8 H356.6 V411" stroke="#231f20" stroke-width="1" fill="none"/>
<text x="312.90" y="406.00" font-size="7.0" text-anchor="middle" textLength="11.80" lengthAdjust="spacingAndGlyphs">NS.</text>
<path d="M269.2 425.5 V423.3 H313.1 V425.5" stroke="#231f20" stroke-width="1" fill="none"/>
<text x="291.50" y="420.60" font-size="7.0" text-anchor="middle" textLength="11.50" lengthAdjust="spacingAndGlyphs">NS.</text>
<text x="385.20" y="419.80" font-size="6.8" textLength="14.70" lengthAdjust="spacingAndGlyphs" fill="#444">state</text>
<rect x="385.20" y="425.20" width="6.30" height="3.20" fill="#a8d89a"/>
<line x1="385.20" y1="426.80" x2="391.50" y2="426.80" stroke="#4aa83e" stroke-width="1.1"/>
<line x1="388.30" y1="424.20" x2="388.30" y2="429.40" stroke="#4aa83e" stroke-width="1"/>
<text x="393.60" y="429.40" font-size="7.2">MGUS</text>
<rect x="385.20" y="434.70" width="6.30" height="3.20" fill="#f8c68a"/>
<line x1="385.20" y1="436.30" x2="391.50" y2="436.30" stroke="#f28c0f" stroke-width="1.1"/>
<line x1="388.30" y1="433.70" x2="388.30" y2="438.90" stroke="#f28c0f" stroke-width="1"/>
<text x="393.60" y="438.90" font-size="7.2">MM</text>
<rect x="385.20" y="443.70" width="6.30" height="3.20" fill="#e8a0a6"/>
<line x1="385.20" y1="445.30" x2="391.50" y2="445.30" stroke="#c4203c" stroke-width="1.1"/>
<line x1="388.30" y1="442.70" x2="388.30" y2="447.90" stroke="#c4203c" stroke-width="1"/>
<text x="393.60" y="447.90" font-size="7.2">PCL</text>
<text x="449.50" y="422.85" font-size="8.8" style="stroke-width:0.35px" text-anchor="middle" textLength="20.70" lengthAdjust="spacingAndGlyphs" transform="rotate(-90 449.50 422.85)">TRIM21</text>
<text x="469.60" y="388.30" font-size="7.0" text-anchor="end">2.0</text>
<line x1="472.60" y1="385.80" x2="475.40" y2="385.80" stroke="#231f20" stroke-width="1"/>
<text x="469.60" y="403.15" font-size="7.0" text-anchor="end">1.5</text>
<line x1="472.60" y1="400.65" x2="475.40" y2="400.65" stroke="#231f20" stroke-width="1"/>
<text x="469.60" y="418.00" font-size="7.0" text-anchor="end">1.0</text>
<line x1="472.60" y1="415.50" x2="475.40" y2="415.50" stroke="#231f20" stroke-width="1"/>
<text x="469.60" y="432.85" font-size="7.0" text-anchor="end">0.5</text>
<line x1="472.60" y1="430.35" x2="475.40" y2="430.35" stroke="#231f20" stroke-width="1"/>
<text x="469.60" y="447.70" font-size="7.0" text-anchor="end">0.0</text>
<line x1="472.60" y1="445.20" x2="475.40" y2="445.20" stroke="#231f20" stroke-width="1"/>
<text x="469.60" y="462.55" font-size="7.0" text-anchor="end">−0.5</text>
<line x1="472.60" y1="460.05" x2="475.40" y2="460.05" stroke="#231f20" stroke-width="1"/>
<line x1="475.40" y1="382.40" x2="475.40" y2="462.90" stroke="#231f20" stroke-width="1.3"/>
<line x1="475.40" y1="445.20" x2="512.50" y2="445.20" stroke="#231f20" stroke-width="1.3"/>
<line x1="484.80" y1="445.20" x2="484.80" y2="447.60" stroke="#231f20" stroke-width="1"/>
<line x1="503.70" y1="445.20" x2="503.70" y2="447.60" stroke="#231f20" stroke-width="1"/>
<text x="487.80" y="465.00" font-size="6.9" text-anchor="end" transform="rotate(-45 487.80 465.00)">+(1q)</text>
<text x="506.70" y="465.00" font-size="6.9" text-anchor="end" transform="rotate(-45 506.70 465.00)">No +(1q)</text>
<path d="M487.5 383.8 V387.4 M487.5 385.5 H504 M504 383.8 V387.4" stroke="#231f20" stroke-width="1" fill="none"/>
<text x="495.90" y="384.00" font-size="6.5" text-anchor="middle">*</text>
<circle cx="482.85" cy="440.14" r="1.25" fill="#1d4f91"/>
<circle cx="480.90" cy="434.10" r="1.25" fill="#1d4f91"/>
<circle cx="480.96" cy="436.76" r="1.25" fill="#1d4f91"/>
<circle cx="485.14" cy="432.69" r="1.25" fill="#1d4f91"/>
<circle cx="483.94" cy="431.86" r="1.25" fill="#1d4f91"/>
<circle cx="484.31" cy="434.99" r="1.25" fill="#1d4f91"/>
<circle cx="485.05" cy="438.70" r="1.25" fill="#1d4f91"/>
<circle cx="484.20" cy="440.40" r="1.25" fill="#1d4f91"/>
<circle cx="484.90" cy="434.01" r="1.25" fill="#1d4f91"/>
<circle cx="488.52" cy="437.63" r="1.25" fill="#1d4f91"/>
<circle cx="483.80" cy="436.10" r="1.25" fill="#1d4f91"/>
<circle cx="483.91" cy="435.77" r="1.25" fill="#1d4f91"/>
<circle cx="484.20" cy="437.55" r="1.25" fill="#1d4f91"/>
<circle cx="484.84" cy="429.67" r="1.25" fill="#1d4f91"/>
<circle cx="485.95" cy="435.72" r="1.25" fill="#1d4f91"/>
<circle cx="484.42" cy="429.70" r="1.25" fill="#1d4f91"/>
<circle cx="489.01" cy="438.33" r="1.25" fill="#1d4f91"/>
<circle cx="484.18" cy="441.06" r="1.25" fill="#1d4f91"/>
<circle cx="488.68" cy="434.11" r="1.25" fill="#1d4f91"/>
<circle cx="480.67" cy="439.39" r="1.25" fill="#1d4f91"/>
<circle cx="483.91" cy="434.13" r="1.25" fill="#1d4f91"/>
<circle cx="485.58" cy="437.56" r="1.25" fill="#1d4f91"/>
<circle cx="485.29" cy="435.56" r="1.25" fill="#1d4f91"/>
<circle cx="486.99" cy="437.70" r="1.25" fill="#1d4f91"/>
<circle cx="484.85" cy="431.37" r="1.25" fill="#1d4f91"/>
<circle cx="486.05" cy="437.77" r="1.25" fill="#1d4f91"/>
<circle cx="483.03" cy="434.73" r="1.25" fill="#1d4f91"/>
<circle cx="486.58" cy="437.79" r="1.25" fill="#1d4f91"/>
<circle cx="484.24" cy="436.60" r="1.25" fill="#1d4f91"/>
<circle cx="484.74" cy="435.60" r="1.25" fill="#1d4f91"/>
<circle cx="481.52" cy="436.30" r="1.25" fill="#1d4f91"/>
<circle cx="485.14" cy="430.57" r="1.25" fill="#1d4f91"/>
<circle cx="486.47" cy="439.15" r="1.25" fill="#1d4f91"/>
<circle cx="484.83" cy="435.28" r="1.25" fill="#1d4f91"/>
<circle cx="482.57" cy="419.95" r="1.25" fill="#1d4f91"/>
<circle cx="487.99" cy="421.44" r="1.25" fill="#1d4f91"/>
<circle cx="482.68" cy="422.93" r="1.25" fill="#1d4f91"/>
<circle cx="486.59" cy="424.41" r="1.25" fill="#1d4f91"/>
<circle cx="487.81" cy="425.89" r="1.25" fill="#1d4f91"/>
<circle cx="487.89" cy="427.38" r="1.25" fill="#1d4f91"/>
<circle cx="483.71" cy="427.97" r="1.25" fill="#1d4f91"/>
<circle cx="483.78" cy="428.87" r="1.25" fill="#1d4f91"/>
<circle cx="484.00" cy="448.17" r="1.25" fill="#1d4f91"/>
<circle cx="487.50" cy="448.76" r="1.25" fill="#1d4f91"/>
<circle cx="502.50" cy="399.16" r="1.20" fill="#1d4f91"/>
<circle cx="506.50" cy="399.16" r="1.20" fill="#1d4f91"/>
<circle cx="503.00" cy="409.56" r="1.20" fill="#1d4f91"/>
<circle cx="501.00" cy="414.01" r="1.20" fill="#1d4f91"/>
<circle cx="505.00" cy="415.50" r="1.20" fill="#1d4f91"/>
<circle cx="500.50" cy="417.88" r="1.20" fill="#1d4f91"/>
<circle cx="504.00" cy="418.47" r="1.20" fill="#1d4f91"/>
<circle cx="507.50" cy="419.95" r="1.20" fill="#1d4f91"/>
<circle cx="502.00" cy="421.44" r="1.20" fill="#1d4f91"/>
<circle cx="506.00" cy="422.03" r="1.20" fill="#1d4f91"/>
<circle cx="500.00" cy="422.93" r="1.20" fill="#1d4f91"/>
<circle cx="504.00" cy="423.82" r="1.20" fill="#1d4f91"/>
<circle cx="508.00" cy="424.41" r="1.20" fill="#1d4f91"/>
<circle cx="501.50" cy="425.60" r="1.20" fill="#1d4f91"/>
<circle cx="505.00" cy="426.79" r="1.20" fill="#1d4f91"/>
<circle cx="503.00" cy="427.38" r="1.20" fill="#1d4f91"/>
<circle cx="507.00" cy="428.57" r="1.20" fill="#1d4f91"/>
<circle cx="500.50" cy="429.76" r="1.20" fill="#1d4f91"/>
<circle cx="504.50" cy="430.35" r="1.20" fill="#1d4f91"/>
<circle cx="506.50" cy="431.83" r="1.20" fill="#1d4f91"/>
<circle cx="501.00" cy="432.73" r="1.20" fill="#1d4f91"/>
<circle cx="504.00" cy="433.91" r="1.20" fill="#1d4f91"/>
<circle cx="507.50" cy="434.81" r="1.20" fill="#1d4f91"/>
<circle cx="502.00" cy="436.29" r="1.20" fill="#1d4f91"/>
<circle cx="505.50" cy="437.18" r="1.20" fill="#1d4f91"/>
<circle cx="500.50" cy="438.67" r="1.20" fill="#1d4f91"/>
<circle cx="504.00" cy="439.26" r="1.20" fill="#1d4f91"/>
<circle cx="507.00" cy="437.77" r="1.20" fill="#1d4f91"/>
<circle cx="503.00" cy="445.20" r="1.20" fill="#1d4f91"/>
<circle cx="506.00" cy="430.94" r="1.20" fill="#1d4f91"/>
<line x1="478.70" y1="433.10" x2="490.90" y2="433.10" stroke="#d0323e" stroke-width="1"/>
<line x1="497.00" y1="424.30" x2="510.50" y2="424.30" stroke="#d0323e" stroke-width="1"/>
</svg></body></html>
